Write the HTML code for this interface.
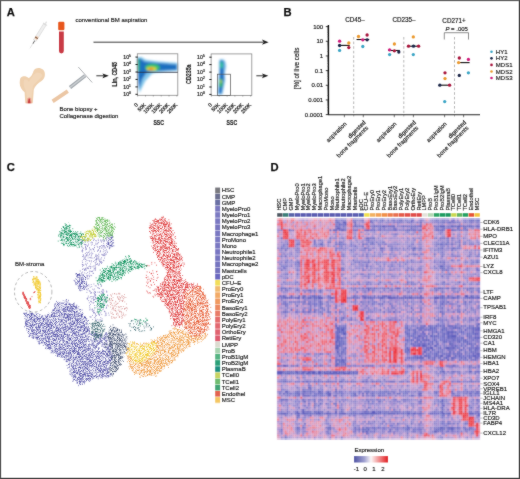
<!DOCTYPE html>
<html><head><meta charset="utf-8"><style>
html,body{margin:0;padding:0;background:#fff;}
body{width:520px;height:479px;overflow:hidden;}
svg{display:block;font-family:"Liberation Sans", sans-serif;}
.pl{font-size:11.2px;font-weight:bold;fill:#111;stroke:#111;stroke-width:0.25px;}
.t6{font-size:6px;fill:#222;stroke:#222;stroke-width:0.17px;}
.t5{font-size:5.2px;fill:#1a1a1a;stroke:#1a1a1a;stroke-width:0.2px;}
.b6{font-size:6.2px;font-weight:bold;fill:#2a2a2a;}
.b7{font-size:7.4px;font-weight:bold;fill:#1a1a1a;stroke:#1a1a1a;stroke-width:0.15px;}
</style></head><body>
<svg width="520" height="479" viewBox="0 0 520 479">
<defs>
<filter id="soft" x="0" y="0" width="520" height="479" filterUnits="userSpaceOnUse"><feConvolveMatrix order="3" kernelMatrix="1 2 1 2 28 2 1 2 1" divisor="40" edgeMode="none" preserveAlpha="false"/></filter>
<filter id="hb" x="-1%" y="-1%" width="102%" height="102%"><feConvolveMatrix order="3" kernelMatrix="1 2 1 2 14 2 1 2 1" divisor="26" edgeMode="duplicate"/></filter>
<filter id="fb1" x="-20%" y="-20%" width="140%" height="140%"><feGaussianBlur stdDeviation="0.9"/></filter>
<filter id="fb2" x="-60%" y="-20%" width="220%" height="140%"><feGaussianBlur stdDeviation="0.8"/></filter>
<filter id="sp" x="-5%" y="-5%" width="110%" height="110%" color-interpolation-filters="sRGB">
<feTurbulence type="fractalNoise" baseFrequency="0.35" numOctaves="2" seed="3" result="t1"/>
<feDisplacementMap in="SourceGraphic" in2="t1" scale="4" xChannelSelector="R" yChannelSelector="G" result="d"/>
<feTurbulence type="fractalNoise" baseFrequency="1.7" numOctaves="1" seed="8" result="t"/>
<feColorMatrix in="t" type="matrix" values="0 0 0 0 0 0 0 0 0 0 0 0 0 0 0 1 0 0 0 0" result="a"/>
<feComponentTransfer in="a" result="m"><feFuncA type="discrete" tableValues="0 0 0 0 0.1 0.3 0.6 0.85 1 1 1 1"/></feComponentTransfer>
<feComposite in="d" in2="m" operator="in" result="c"/>

</filter>
<linearGradient id="cbar" x1="0" x2="1" y1="0" y2="0">
<stop offset="0" stop-color="#5054a4"/><stop offset="0.3" stop-color="#9fa0d0"/><stop offset="0.5" stop-color="#fbf7f7"/><stop offset="0.75" stop-color="#f08a8a"/><stop offset="1" stop-color="#e01c22"/>
</linearGradient>
</defs>
<rect x="0" y="0" width="520" height="479" fill="#fff"/>
<g filter="url(#soft)">
<text x="6.8" y="15.6" class="pl">A</text>
<g transform="translate(40,32.2) rotate(-58)"><rect x="-10" y="-1.5" width="19" height="3" fill="#efefef" stroke="#cfcfcf" stroke-width="0.5"/><rect x="-8.2" y="-1.5" width="3.2" height="3" fill="#f2c8a8"/><rect x="-7.2" y="-1.5" width="1.1" height="3" fill="#6a5040"/><rect x="9" y="-2.4" width="0.9" height="4.8" fill="#d6d6d6"/><rect x="9.9" y="-0.7" width="2.6" height="1.4" fill="#e2e2e2"/><line x1="-10" y1="0" x2="-13.5" y2="0" stroke="#6a6a6a" stroke-width="0.9"/><line x1="-13.5" y1="0" x2="-19" y2="0" stroke="#cfcfcf" stroke-width="0.5"/></g>
<rect x="58.2" y="21.8" width="6.2" height="8.4" rx="1.2" fill="#e8561c"/>
<path d="M59 31.6 H63.8 V51 A2.4 2.4 0 0 1 59 51 Z" fill="#c93a44"/>
<text x="75.4" y="22" class="t6">conventional BM aspiration</text>
<line x1="93.5" y1="42.2" x2="263" y2="42.2" stroke="#222" stroke-width="0.9"/>
<path d="M262 39.6 L268.6 42.2 L262 44.8 L263.5 42.2 Z" fill="#222"/>
<path d="M20.5 78 C22 75.8 26 75.6 28.5 78 C31 77.4 32.6 74 33.5 71 C34.6 67.6 40 66.8 43 69.6 C46.2 72.8 45.2 79 41.5 81 C38 83 35 86 33.8 89.5 L32.8 103.3 L25.3 103.3 L24.6 92.2 C22 90 19.6 87 19.7 83 C19.8 80.5 20 79 20.5 78 Z" fill="#efd0ae"/>
<path d="M24 80 C26 79 28 80 29 82 C30 79 33 75 36 73 C39 72 42 73 42.5 76 C40 79 36 82 33 86 L31 101 L27 101 L26 91 C24 88 23 84 24 80 Z" fill="#f3dcc0" opacity="0.6"/>
<path d="M26.3 103.3 L27.5 98.5 C28.5 97.2 30.2 97.2 31 98.5 L31.9 103.3 Z" fill="#e8a090"/>
<path d="M27.8 103.3 L28.6 99 L29.8 98.6 L30.6 103.3 Z" fill="#c83a3a"/>
<line x1="78.3" y1="67" x2="92.2" y2="82.5" stroke="#9a9ea2" stroke-width="0.8"/>
<line x1="70" y1="87.5" x2="85.2" y2="75.6" stroke="#a2a8ae" stroke-width="3.6"/>
<line x1="70" y1="87.5" x2="85.2" y2="75.6" stroke="#c9cdd0" stroke-width="1.4"/>
<line x1="52.6" y1="101.4" x2="67.8" y2="91.2" stroke="#ebc6a4" stroke-width="3.8"/>
<text x="59.4" y="111" class="t6">Bone biopsy +</text>
<text x="59.4" y="118.4" class="t6">Collagenase digestion</text>
<line x1="96.3" y1="75.8" x2="104" y2="75.8" stroke="#222" stroke-width="0.9"/>
<path d="M102.5 73.4 L108.8 75.8 L102.5 78.2 L103.8 75.8 Z" fill="#222"/>
<line x1="256.3" y1="75.8" x2="263" y2="75.8" stroke="#222" stroke-width="0.9"/>
<path d="M262 73.4 L268.3 75.8 L262 78.2 L263.3 75.8 Z" fill="#222"/>
<g filter="url(#fb1)">
<path d="M137.3 57.8 L141.3 57 L145.3 59.5 C150 61 165 62 177.8 63 L177.8 71 C165 71.5 150 73 151.3 74.5 L145.3 81 L139.3 93 Z" fill="#86c8ec"/>
<path d="M137.3 58 L141.3 59 L144.3 61.5 C152 62.5 165 63.5 176.8 64.5 L176.8 69.8 C165 70 152 71.5 146.3 73 L142.3 79 L138.8 90 Z" fill="#1c70c0"/>
<ellipse cx="152.5" cy="67.5" rx="7.5" ry="3.8" fill="#38c070"/>
<rect x="137.5" y="59" width="2.2" height="12" fill="#36b080"/>
<ellipse cx="151.5" cy="68.8" rx="5" ry="1.9" fill="#e8e030"/>
<ellipse cx="151" cy="69" rx="2.6" ry="0.9" fill="#f06a20"/>
</g>
<rect x="137.3" y="53.8" width="40.5" height="41.5" fill="none" stroke="#8a8a8a" stroke-width="0.8"/>
<line x1="137.3" y1="72.3" x2="177.8" y2="72.3" stroke="#2a2a3a" stroke-width="0.8"/>
<line x1="135.5" y1="57.1" x2="137.7" y2="57.1" stroke="#111" stroke-width="1"/>
<text x="123.3" y="58.9" class="t5">10<tspan dy="-2" font-size="3.2">5</tspan></text>
<line x1="135.5" y1="64.5" x2="137.7" y2="64.5" stroke="#111" stroke-width="1"/>
<text x="123.3" y="66.3" class="t5">10<tspan dy="-2" font-size="3.2">4</tspan></text>
<line x1="135.5" y1="72.0" x2="137.7" y2="72.0" stroke="#111" stroke-width="1"/>
<text x="123.3" y="73.8" class="t5">10<tspan dy="-2" font-size="3.2">3</tspan></text>
<line x1="135.5" y1="79.4" x2="137.7" y2="79.4" stroke="#111" stroke-width="1"/>
<text x="123.3" y="81.2" class="t5">10<tspan dy="-2" font-size="3.2">2</tspan></text>
<line x1="135.5" y1="86.9" x2="137.7" y2="86.9" stroke="#111" stroke-width="1"/>
<text x="123.3" y="88.7" class="t5">10<tspan dy="-2" font-size="3.2">1</tspan></text>
<line x1="135.5" y1="94.3" x2="137.7" y2="94.3" stroke="#111" stroke-width="1"/>
<text x="123.3" y="96.1" class="t5">10<tspan dy="-2" font-size="3.2">0</tspan></text>
<line x1="137.6" y1="95.3" x2="137.6" y2="96.5" stroke="#555" stroke-width="0.5"/>
<text transform="translate(138.4,105.2) rotate(-45)" text-anchor="end" class="t5">0</text>
<line x1="145.5" y1="95.3" x2="145.5" y2="96.5" stroke="#555" stroke-width="0.5"/>
<text transform="translate(146.3,105.2) rotate(-45)" text-anchor="end" class="t5">50K</text>
<line x1="153.3" y1="95.3" x2="153.3" y2="96.5" stroke="#555" stroke-width="0.5"/>
<text transform="translate(154.1,105.2) rotate(-45)" text-anchor="end" class="t5">100K</text>
<line x1="161.2" y1="95.3" x2="161.2" y2="96.5" stroke="#555" stroke-width="0.5"/>
<text transform="translate(162.0,105.2) rotate(-45)" text-anchor="end" class="t5">150K</text>
<line x1="169.0" y1="95.3" x2="169.0" y2="96.5" stroke="#555" stroke-width="0.5"/>
<text transform="translate(169.8,105.2) rotate(-45)" text-anchor="end" class="t5">200K</text>
<line x1="176.9" y1="95.3" x2="176.9" y2="96.5" stroke="#555" stroke-width="0.5"/>
<text transform="translate(177.7,105.2) rotate(-45)" text-anchor="end" class="t5">250K</text>
<text transform="translate(117.3,74.2) rotate(-90) scale(0.72,1)" text-anchor="middle" class="b7">Lin, CD45</text>
<text transform="translate(158.7,125.3) scale(0.7,1)" text-anchor="middle" class="b7">SSC</text>
<g filter="url(#fb2)">
<path d="M219.2 60.5 C220.5 58.5 224 58.8 225.2 61.5 L226.2 66 L224.8 73 L225.2 80 L222.4 94.5 L217.6 94.5 L218.6 80 L219.2 72 Z" fill="#7cbde8"/>
<path d="M219.8 61.4 C220.8 60 223.2 60.2 223.8 62.4 L223.6 72 L224 79 L221.3 93.5 L218.8 93.5 L219.4 80 L219.9 72 Z" fill="#1e6ec4"/>
<ellipse cx="221.6" cy="65" rx="1.6" ry="3.6" fill="#30c0a0"/>
<ellipse cx="220.9" cy="83" rx="1.5" ry="4.6" fill="#3cbc58"/>
<ellipse cx="221.1" cy="81.4" rx="0.8" ry="1.3" fill="#d8e040"/>
</g>
<rect x="211.1" y="53.9" width="40.7" height="41.5" fill="none" stroke="#8a8a8a" stroke-width="0.8"/>
<rect x="217.4" y="74.2" width="13" height="21.2" fill="none" stroke="#555" stroke-width="0.7"/>
<line x1="209.3" y1="57.2" x2="211.5" y2="57.2" stroke="#111" stroke-width="1"/>
<text x="197.1" y="59.0" class="t5">10<tspan dy="-2" font-size="3.2">5</tspan></text>
<line x1="209.3" y1="64.6" x2="211.5" y2="64.6" stroke="#111" stroke-width="1"/>
<text x="197.1" y="66.4" class="t5">10<tspan dy="-2" font-size="3.2">4</tspan></text>
<line x1="209.3" y1="72.1" x2="211.5" y2="72.1" stroke="#111" stroke-width="1"/>
<text x="197.1" y="73.9" class="t5">10<tspan dy="-2" font-size="3.2">3</tspan></text>
<line x1="209.3" y1="79.5" x2="211.5" y2="79.5" stroke="#111" stroke-width="1"/>
<text x="197.1" y="81.3" class="t5">10<tspan dy="-2" font-size="3.2">2</tspan></text>
<line x1="209.3" y1="87.0" x2="211.5" y2="87.0" stroke="#111" stroke-width="1"/>
<text x="197.1" y="88.8" class="t5">10<tspan dy="-2" font-size="3.2">1</tspan></text>
<line x1="209.3" y1="94.4" x2="211.5" y2="94.4" stroke="#111" stroke-width="1"/>
<text x="197.1" y="96.2" class="t5">10<tspan dy="-2" font-size="3.2">0</tspan></text>
<line x1="211.4" y1="95.4" x2="211.4" y2="96.6" stroke="#555" stroke-width="0.5"/>
<text transform="translate(212.2,105.3) rotate(-45)" text-anchor="end" class="t5">0</text>
<line x1="219.2" y1="95.4" x2="219.2" y2="96.6" stroke="#555" stroke-width="0.5"/>
<text transform="translate(220.1,105.3) rotate(-45)" text-anchor="end" class="t5">50K</text>
<line x1="227.1" y1="95.4" x2="227.1" y2="96.6" stroke="#555" stroke-width="0.5"/>
<text transform="translate(227.9,105.3) rotate(-45)" text-anchor="end" class="t5">100K</text>
<line x1="234.9" y1="95.4" x2="234.9" y2="96.6" stroke="#555" stroke-width="0.5"/>
<text transform="translate(235.8,105.3) rotate(-45)" text-anchor="end" class="t5">150K</text>
<line x1="242.8" y1="95.4" x2="242.8" y2="96.6" stroke="#555" stroke-width="0.5"/>
<text transform="translate(243.6,105.3) rotate(-45)" text-anchor="end" class="t5">200K</text>
<line x1="250.7" y1="95.4" x2="250.7" y2="96.6" stroke="#555" stroke-width="0.5"/>
<text transform="translate(251.5,105.3) rotate(-45)" text-anchor="end" class="t5">250K</text>
<text transform="translate(190.5,74.2) rotate(-90) scale(0.72,1)" text-anchor="middle" class="b7">CD235a</text>
<text transform="translate(231.8,125.3) scale(0.7,1)" text-anchor="middle" class="b7">SSC</text>
<text x="283.6" y="16.2" class="pl">B</text>
<line x1="328.4" y1="25" x2="328.4" y2="114.8" stroke="#111" stroke-width="1.4"/>
<line x1="327.9" y1="114.8" x2="480" y2="114.8" stroke="#222" stroke-width="1.1"/>
<line x1="325.8" y1="26.60" x2="328.4" y2="26.60" stroke="#111" stroke-width="0.8"/>
<text x="323.2" y="28.70" text-anchor="end" class="t6">100</text>
<line x1="327.1" y1="36.85" x2="328.4" y2="36.85" stroke="#333" stroke-width="0.4"/>
<line x1="327.1" y1="34.27" x2="328.4" y2="34.27" stroke="#333" stroke-width="0.4"/>
<line x1="327.1" y1="32.44" x2="328.4" y2="32.44" stroke="#333" stroke-width="0.4"/>
<line x1="327.1" y1="31.02" x2="328.4" y2="31.02" stroke="#333" stroke-width="0.4"/>
<line x1="327.1" y1="29.85" x2="328.4" y2="29.85" stroke="#333" stroke-width="0.4"/>
<line x1="327.1" y1="28.87" x2="328.4" y2="28.87" stroke="#333" stroke-width="0.4"/>
<line x1="327.1" y1="28.02" x2="328.4" y2="28.02" stroke="#333" stroke-width="0.4"/>
<line x1="327.1" y1="27.27" x2="328.4" y2="27.27" stroke="#333" stroke-width="0.4"/>
<line x1="325.8" y1="41.27" x2="328.4" y2="41.27" stroke="#111" stroke-width="0.8"/>
<text x="323.2" y="43.37" text-anchor="end" class="t6">10</text>
<line x1="327.1" y1="51.52" x2="328.4" y2="51.52" stroke="#333" stroke-width="0.4"/>
<line x1="327.1" y1="48.94" x2="328.4" y2="48.94" stroke="#333" stroke-width="0.4"/>
<line x1="327.1" y1="47.11" x2="328.4" y2="47.11" stroke="#333" stroke-width="0.4"/>
<line x1="327.1" y1="45.69" x2="328.4" y2="45.69" stroke="#333" stroke-width="0.4"/>
<line x1="327.1" y1="44.52" x2="328.4" y2="44.52" stroke="#333" stroke-width="0.4"/>
<line x1="327.1" y1="43.54" x2="328.4" y2="43.54" stroke="#333" stroke-width="0.4"/>
<line x1="327.1" y1="42.69" x2="328.4" y2="42.69" stroke="#333" stroke-width="0.4"/>
<line x1="327.1" y1="41.94" x2="328.4" y2="41.94" stroke="#333" stroke-width="0.4"/>
<line x1="325.8" y1="55.94" x2="328.4" y2="55.94" stroke="#111" stroke-width="0.8"/>
<text x="323.2" y="58.04" text-anchor="end" class="t6">1</text>
<line x1="327.1" y1="66.19" x2="328.4" y2="66.19" stroke="#333" stroke-width="0.4"/>
<line x1="327.1" y1="63.61" x2="328.4" y2="63.61" stroke="#333" stroke-width="0.4"/>
<line x1="327.1" y1="61.78" x2="328.4" y2="61.78" stroke="#333" stroke-width="0.4"/>
<line x1="327.1" y1="60.36" x2="328.4" y2="60.36" stroke="#333" stroke-width="0.4"/>
<line x1="327.1" y1="59.19" x2="328.4" y2="59.19" stroke="#333" stroke-width="0.4"/>
<line x1="327.1" y1="58.21" x2="328.4" y2="58.21" stroke="#333" stroke-width="0.4"/>
<line x1="327.1" y1="57.36" x2="328.4" y2="57.36" stroke="#333" stroke-width="0.4"/>
<line x1="327.1" y1="56.61" x2="328.4" y2="56.61" stroke="#333" stroke-width="0.4"/>
<line x1="325.8" y1="70.61" x2="328.4" y2="70.61" stroke="#111" stroke-width="0.8"/>
<text x="323.2" y="72.71" text-anchor="end" class="t6">0.1</text>
<line x1="327.1" y1="80.86" x2="328.4" y2="80.86" stroke="#333" stroke-width="0.4"/>
<line x1="327.1" y1="78.28" x2="328.4" y2="78.28" stroke="#333" stroke-width="0.4"/>
<line x1="327.1" y1="76.45" x2="328.4" y2="76.45" stroke="#333" stroke-width="0.4"/>
<line x1="327.1" y1="75.03" x2="328.4" y2="75.03" stroke="#333" stroke-width="0.4"/>
<line x1="327.1" y1="73.86" x2="328.4" y2="73.86" stroke="#333" stroke-width="0.4"/>
<line x1="327.1" y1="72.88" x2="328.4" y2="72.88" stroke="#333" stroke-width="0.4"/>
<line x1="327.1" y1="72.03" x2="328.4" y2="72.03" stroke="#333" stroke-width="0.4"/>
<line x1="327.1" y1="71.28" x2="328.4" y2="71.28" stroke="#333" stroke-width="0.4"/>
<line x1="325.8" y1="85.28" x2="328.4" y2="85.28" stroke="#111" stroke-width="0.8"/>
<text x="323.2" y="87.38" text-anchor="end" class="t6">0.01</text>
<line x1="327.1" y1="95.53" x2="328.4" y2="95.53" stroke="#333" stroke-width="0.4"/>
<line x1="327.1" y1="92.95" x2="328.4" y2="92.95" stroke="#333" stroke-width="0.4"/>
<line x1="327.1" y1="91.12" x2="328.4" y2="91.12" stroke="#333" stroke-width="0.4"/>
<line x1="327.1" y1="89.70" x2="328.4" y2="89.70" stroke="#333" stroke-width="0.4"/>
<line x1="327.1" y1="88.53" x2="328.4" y2="88.53" stroke="#333" stroke-width="0.4"/>
<line x1="327.1" y1="87.55" x2="328.4" y2="87.55" stroke="#333" stroke-width="0.4"/>
<line x1="327.1" y1="86.70" x2="328.4" y2="86.70" stroke="#333" stroke-width="0.4"/>
<line x1="327.1" y1="85.95" x2="328.4" y2="85.95" stroke="#333" stroke-width="0.4"/>
<line x1="325.8" y1="99.95" x2="328.4" y2="99.95" stroke="#111" stroke-width="0.8"/>
<text x="323.2" y="102.05" text-anchor="end" class="t6">0.001</text>
<line x1="327.1" y1="110.20" x2="328.4" y2="110.20" stroke="#333" stroke-width="0.4"/>
<line x1="327.1" y1="107.62" x2="328.4" y2="107.62" stroke="#333" stroke-width="0.4"/>
<line x1="327.1" y1="105.79" x2="328.4" y2="105.79" stroke="#333" stroke-width="0.4"/>
<line x1="327.1" y1="104.37" x2="328.4" y2="104.37" stroke="#333" stroke-width="0.4"/>
<line x1="327.1" y1="103.20" x2="328.4" y2="103.20" stroke="#333" stroke-width="0.4"/>
<line x1="327.1" y1="102.22" x2="328.4" y2="102.22" stroke="#333" stroke-width="0.4"/>
<line x1="327.1" y1="101.37" x2="328.4" y2="101.37" stroke="#333" stroke-width="0.4"/>
<line x1="327.1" y1="100.62" x2="328.4" y2="100.62" stroke="#333" stroke-width="0.4"/>
<line x1="325.8" y1="114.62" x2="328.4" y2="114.62" stroke="#111" stroke-width="0.8"/>
<text x="323.2" y="116.72" text-anchor="end" class="t6">0.0001</text>
<text transform="translate(298.6,68.4) rotate(-90)" text-anchor="middle" class="t6" style="font-size:6.3px">[%] of live cells</text>
<text x="355" y="21.9" text-anchor="middle" class="t6" style="font-size:6.3px">CD45–</text>
<text x="404" y="21.9" text-anchor="middle" class="t6" style="font-size:6.3px">CD235–</text>
<text x="454" y="22.5" text-anchor="middle" class="t6" style="font-size:6.3px">CD271+</text>
<text x="456.7" y="31" text-anchor="middle" class="t6"><tspan font-style="italic">P</tspan> = .005</text>
<path d="M444.3 39.5 V32.7 H468.5 V39.5" fill="none" stroke="#444" stroke-width="0.6"/>
<line x1="353.7" y1="37" x2="353.7" y2="114" stroke="#9a9a9a" stroke-width="0.7" stroke-dasharray="2.6,2"/>
<line x1="403.8" y1="37" x2="403.8" y2="114" stroke="#9a9a9a" stroke-width="0.7" stroke-dasharray="2.6,2"/>
<line x1="454.5" y1="37" x2="454.5" y2="114" stroke="#9a9a9a" stroke-width="0.7" stroke-dasharray="2.6,2"/>
<line x1="344.4" y1="114.8" x2="344.4" y2="117.2" stroke="#222" stroke-width="0.6"/>
<line x1="363.3" y1="114.8" x2="363.3" y2="117.2" stroke="#222" stroke-width="0.6"/>
<line x1="394.3" y1="114.8" x2="394.3" y2="117.2" stroke="#222" stroke-width="0.6"/>
<line x1="413.4" y1="114.8" x2="413.4" y2="117.2" stroke="#222" stroke-width="0.6"/>
<line x1="444.6" y1="114.8" x2="444.6" y2="117.2" stroke="#222" stroke-width="0.6"/>
<line x1="463.6" y1="114.8" x2="463.6" y2="117.2" stroke="#222" stroke-width="0.6"/>
<line x1="353.7" y1="114.8" x2="353.7" y2="116.5" stroke="#555" stroke-width="0.5"/>
<line x1="403.8" y1="114.8" x2="403.8" y2="116.5" stroke="#555" stroke-width="0.5"/>
<line x1="454.5" y1="114.8" x2="454.5" y2="116.5" stroke="#555" stroke-width="0.5"/>
<text transform="translate(347.0,124.3) rotate(-45)" text-anchor="end" class="t6">aspiration</text>
<text transform="translate(396.9,124.3) rotate(-45)" text-anchor="end" class="t6">aspiration</text>
<text transform="translate(447.2,124.3) rotate(-45)" text-anchor="end" class="t6">aspiration</text>
<text transform="translate(366.2,122.8) rotate(-45)" text-anchor="end" class="t6">digested</text>
<text transform="translate(368.6,128.4) rotate(-45)" text-anchor="end" class="t6">bone fragments</text>
<text transform="translate(416.3,122.8) rotate(-45)" text-anchor="end" class="t6">digested</text>
<text transform="translate(418.7,128.4) rotate(-45)" text-anchor="end" class="t6">bone fragments</text>
<text transform="translate(466.5,122.8) rotate(-45)" text-anchor="end" class="t6">digested</text>
<text transform="translate(468.9,128.4) rotate(-45)" text-anchor="end" class="t6">bone fragments</text>
<line x1="338.0" y1="45.4" x2="349.8" y2="45.4" stroke="#111" stroke-width="1.1"/>
<line x1="356.5" y1="39.5" x2="369.2" y2="39.5" stroke="#111" stroke-width="1.1"/>
<line x1="388.3" y1="50.5" x2="399.8" y2="50.5" stroke="#111" stroke-width="1.1"/>
<line x1="407.5" y1="46.2" x2="419.8" y2="46.2" stroke="#111" stroke-width="1.1"/>
<line x1="439.7" y1="85.2" x2="449.8" y2="85.2" stroke="#111" stroke-width="1.1"/>
<line x1="457.6" y1="62.6" x2="469.6" y2="62.6" stroke="#111" stroke-width="1.1"/>
<circle cx="339.6" cy="41.2" r="1.65" fill="#d01c7c"/>
<circle cx="339.6" cy="45.5" r="1.65" fill="#1a2848"/>
<circle cx="339.6" cy="50.4" r="1.65" fill="#3ea6c6"/>
<circle cx="348.8" cy="43.0" r="1.65" fill="#eb9a30"/>
<circle cx="348.8" cy="47.6" r="1.65" fill="#a8143c"/>
<circle cx="358.5" cy="36.5" r="1.65" fill="#eb9a30"/>
<circle cx="362.8" cy="46.5" r="1.65" fill="#3ea6c6"/>
<circle cx="362.8" cy="39.8" r="1.65" fill="#d01c7c"/>
<circle cx="367.1" cy="35.0" r="1.65" fill="#a8143c"/>
<circle cx="367.1" cy="39.8" r="1.65" fill="#1a2848"/>
<circle cx="389.6" cy="49.8" r="1.65" fill="#d01c7c"/>
<circle cx="389.6" cy="54.6" r="1.65" fill="#3ea6c6"/>
<circle cx="394.4" cy="44.0" r="1.65" fill="#eb9a30"/>
<circle cx="394.4" cy="50.8" r="1.65" fill="#a8143c"/>
<circle cx="398.8" cy="52.0" r="1.65" fill="#1a2848"/>
<circle cx="413.3" cy="36.9" r="1.65" fill="#eb9a30"/>
<circle cx="408.5" cy="46.2" r="1.65" fill="#a8143c"/>
<circle cx="413.5" cy="46.2" r="1.65" fill="#1a2848"/>
<circle cx="418.6" cy="46.2" r="1.65" fill="#a8143c"/>
<circle cx="413.3" cy="54.6" r="1.65" fill="#3ea6c6"/>
<circle cx="445.0" cy="72.8" r="1.65" fill="#a8143c"/>
<circle cx="445.0" cy="78.6" r="1.65" fill="#eb9a30"/>
<circle cx="439.8" cy="85.2" r="1.65" fill="#1a2848"/>
<circle cx="449.6" cy="85.2" r="1.65" fill="#a8143c"/>
<circle cx="444.7" cy="101.6" r="1.65" fill="#3ea6c6"/>
<circle cx="459.3" cy="58.0" r="1.65" fill="#a8143c"/>
<circle cx="468.4" cy="59.4" r="1.65" fill="#d01c7c"/>
<circle cx="458.6" cy="62.6" r="1.65" fill="#eb9a30"/>
<circle cx="459.3" cy="75.4" r="1.65" fill="#1a2848"/>
<circle cx="468.4" cy="72.8" r="1.65" fill="#3ea6c6"/>
<circle cx="491.5" cy="51.80" r="1.3" fill="#3ea6c6"/>
<text x="495.8" y="53.90" class="t6">HY1</text>
<circle cx="491.5" cy="58.35" r="1.3" fill="#1a2848"/>
<text x="495.8" y="60.45" class="t6">HY2</text>
<circle cx="491.5" cy="64.90" r="1.3" fill="#a8143c"/>
<text x="495.8" y="67.00" class="t6">MDS1</text>
<circle cx="491.5" cy="71.45" r="1.3" fill="#eb9a30"/>
<text x="495.8" y="73.55" class="t6">MDS2</text>
<circle cx="491.5" cy="78.00" r="1.3" fill="#d01c7c"/>
<text x="495.8" y="80.10" class="t6">MDS3</text>
<path d="M93.6 261.5h0M95.2 262.7h0M85.5 259.5h0M82.8 250.7h0M82.7 272.0h0M100.8 239.8h0M99.6 263.9h0M95.9 240.5h0M85.7 248.2h0M93.2 273.4h0M95.6 264.9h0M95.0 265.8h0M93.7 249.7h0M89.5 247.6h0M88.7 240.9h0M103.0 254.8h0M105.4 254.2h0M82.2 264.4h0M103.4 249.3h0M82.6 252.0h0M83.5 248.3h0M83.0 240.5h0M103.9 245.5h0M96.8 256.8h0M85.7 268.7h0M83.9 265.0h0M83.5 255.7h0M86.4 249.3h0M89.1 275.2h0M86.3 254.6h0M86.4 248.8h0M103.2 251.8h0M88.9 241.1h0M82.7 262.5h0M87.3 263.3h0M91.2 257.0h0M85.5 244.5h0M87.5 246.0h0M92.6 242.4h0M87.2 267.6h0M87.7 272.6h0M97.9 250.3h0M85.3 268.3h0M82.1 247.6h0M98.4 249.8h0M107.5 246.6h0M93.4 240.5h0M85.3 253.5h0M97.2 243.5h0M90.9 275.4h0M100.7 262.5h0M94.5 268.7h0M82.3 260.9h0M90.6 266.8h0M92.5 271.2h0M98.7 254.1h0M97.5 263.6h0M82.4 264.9h0M101.8 254.3h0M102.1 262.4h0M93.2 273.2h0M82.5 269.5h0M94.4 247.7h0M101.0 258.9h0M89.0 266.5h0M86.1 245.1h0M89.8 266.0h0M86.0 256.1h0M106.4 254.1h0M97.5 251.3h0M84.1 258.9h0M88.3 245.1h0M93.5 249.6h0M86.4 255.4h0M98.8 258.7h0M89.5 273.2h0M106.2 239.7h0M101.3 262.0h0M89.3 271.2h0M80.6 243.7h0M93.6 239.0h0M104.9 248.0h0M84.2 240.0h0M98.9 256.8h0M98.9 265.5h0M100.5 246.4h0M94.3 245.5h0M101.4 245.5h0M88.2 252.5h0M100.9 259.9h0M91.8 271.3h0M107.2 241.7h0M83.9 257.0h0M91.3 261.9h0M99.5 246.6h0M86.4 275.8h0M89.6 276.2h0M105.7 252.6h0M82.5 256.5h0M94.6 239.2h0M104.3 240.7h0M104.0 245.3h0M90.1 271.1h0M84.2 244.2h0M95.5 268.4h0M86.6 260.1h0M88.7 268.6h0M99.2 260.0h0M89.4 254.0h0M86.2 273.7h0M97.2 246.4h0M96.1 259.1h0M98.2 239.2h0M92.0 271.6h0M96.9 258.6h0M100.7 240.8h0M96.2 255.4h0M88.1 257.9h0M83.8 256.2h0M94.3 251.3h0M85.7 264.0h0M107.8 243.4h0M103.4 239.0h0M85.8 247.5h0M100.6 251.5h0M90.7 264.0h0M83.1 268.7h0M83.7 259.4h0M87.5 246.3h0M95.9 256.3h0M91.3 255.4h0M95.9 244.7h0M86.1 264.5h0M99.2 260.2h0M105.7 247.8h0M107.1 251.3h0M89.4 276.8h0M106.6 243.6h0M87.2 268.5h0M87.8 242.1h0M105.0 255.7h0M103.7 243.3h0M92.1 266.8h0M95.2 269.8h0M95.1 266.8h0M85.7 241.0h0M96.6 259.6h0M97.1 244.2h0M85.5 246.6h0M93.9 270.1h0M89.8 257.6h0M95.5 256.1h0M85.4 257.1h0M102.2 255.0h0M85.9 244.9h0M98.9 255.0h0M98.0 259.2h0M87.7 276.3h0M104.4 255.0h0M103.0 255.0h0M101.7 241.0h0M90.3 257.7h0M99.2 264.2h0M87.0 277.7h0M100.0 252.2h0M99.8 261.9h0M96.0 254.4h0M87.7 254.9h0M81.5 246.2h0M91.3 242.1h0M87.5 276.0h0M96.5 259.3h0M104.3 241.2h0M84.8 257.8h0M85.1 258.8h0M98.3 240.5h0M95.8 263.1h0M91.0 250.0h0M99.7 261.5h0M88.5 268.1h0M87.4 239.8h0M84.7 269.7h0M91.7 275.7h0M102.5 240.1h0M92.9 258.1h0M109.2 248.2h0M101.7 257.7h0M98.1 242.8h0M98.7 257.1h0M86.1 240.2h0M95.8 243.2h0M93.3 266.1h0M93.7 249.0h0M97.5 255.6h0M103.3 260.3h0M102.0 248.0h0M83.4 275.5h0M90.8 249.4h0M100.6 261.7h0M97.8 264.6h0M102.6 246.0h0M81.2 240.6h0M88.1 255.9h0M98.7 242.3h0M96.2 241.0h0M82.6 266.4h0M96.5 264.5h0M91.2 258.1h0M86.3 252.4h0M82.2 243.0h0M103.1 247.0h0M92.7 248.8h0M104.3 253.5h0M89.8 261.0h0M92.8 253.5h0M82.9 274.8h0M82.4 241.5h0M96.9 258.4h0M100.6 250.6h0M103.3 241.2h0M86.4 265.8h0M82.5 250.8h0M88.5 244.0h0M90.7 268.5h0M91.0 242.9h0M101.3 261.9h0M104.1 250.8h0M89.5 254.8h0M87.4 253.2h0M91.0 253.3h0M91.9 254.3h0M85.8 261.7h0M103.9 260.7h0M85.3 269.9h0M106.4 249.8h0M96.3 261.8h0M104.1 240.7h0M82.5 241.4h0M82.5 264.6h0M84.3 269.3h0M99.5 248.3h0M86.6 270.1h0M95.6 270.1h0M91.8 252.2h0M94.8 260.6h0M95.7 267.8h0M104.1 255.7h0M92.6 244.1h0M91.3 245.0h0M86.1 255.8h0M88.8 278.7h0M81.8 251.0h0M83.4 265.2h0M103.3 245.5h0M81.1 242.6h0M85.5 247.1h0M87.1 268.1h0M97.8 247.4h0M85.5 249.8h0M85.2 269.8h0M89.4 261.0h0M104.5 258.1h0M87.8 275.3h0M107.4 252.4h0M94.5 247.3h0M104.0 254.2h0M95.8 259.7h0M99.7 248.0h0M91.1 271.5h0M101.4 263.5h0M84.7 244.6h0M89.7 248.9h0M88.0 260.5h0M84.5 270.4h0M82.5 249.3h0M101.5 242.1h0M94.4 257.7h0M105.7 250.8h0M103.7 255.5h0M104.8 246.8h0M96.3 260.1h0M84.7 272.9h0M89.3 251.1h0M82.3 250.8h0M94.0 268.0h0M90.8 266.9h0M83.2 254.6h0M101.3 248.0h0M96.9 257.2h0M104.0 246.7h0M98.5 250.2h0M91.3 260.7h0M88.9 252.2h0" stroke="#8a84c4" stroke-width="0.9" stroke-linecap="round"/>
<path d="M115.8 310.7h0M113.1 297.6h0M122.6 301.2h0M126.9 307.8h0M122.5 301.3h0M124.5 294.6h0M110.8 294.6h0M121.6 311.8h0M111.6 303.3h0M124.7 308.6h0M109.8 298.3h0M111.1 295.5h0M116.1 294.0h0M126.4 304.0h0M118.2 310.1h0M123.3 315.0h0M115.7 301.3h0M116.0 311.6h0M121.2 309.0h0M114.8 310.2h0M110.1 302.6h0M118.2 314.1h0M124.5 309.1h0M111.2 313.5h0M126.1 307.4h0M115.1 306.0h0M110.8 312.0h0M122.3 315.4h0M111.9 318.5h0M120.5 297.5h0M109.7 298.8h0M119.5 311.5h0M114.6 318.0h0M115.2 305.0h0M118.9 307.7h0M119.2 299.4h0M124.4 308.8h0M113.8 317.1h0M112.8 308.1h0M124.6 297.2h0M119.0 294.1h0M121.2 300.6h0M121.4 312.7h0M115.6 308.6h0M112.0 305.1h0M110.9 302.8h0M119.4 296.9h0M118.4 299.4h0M119.4 301.3h0M121.4 296.1h0M127.2 308.8h0M117.4 303.5h0M120.5 311.3h0M123.2 313.0h0M124.8 315.9h0M116.2 304.2h0M119.3 317.3h0M118.5 306.7h0M116.6 317.3h0M114.4 293.5h0M122.5 317.2h0M122.6 308.7h0M123.0 300.5h0M119.9 294.0h0M110.5 304.5h0M118.1 303.1h0M118.5 298.7h0M114.1 303.1h0M112.7 293.9h0M121.3 316.3h0M116.4 314.5h0M112.4 312.9h0M119.3 317.3h0M110.5 307.1h0M112.9 300.4h0M114.5 293.8h0M125.9 314.8h0M115.9 302.0h0M119.7 293.3h0M114.2 306.0h0M117.5 297.8h0M113.9 317.8h0M125.9 297.5h0M124.8 301.9h0M117.4 296.8h0M112.0 309.7h0M111.8 316.6h0M122.5 300.8h0M122.3 295.8h0M121.9 318.3h0M116.9 294.2h0M112.5 300.6h0M122.2 297.5h0M111.6 298.6h0M121.3 314.1h0M115.5 310.5h0M125.7 308.5h0M112.6 300.4h0M126.5 310.7h0M113.5 309.9h0M116.8 306.8h0M118.6 293.3h0M120.0 300.0h0M113.0 314.5h0M109.7 300.0h0M123.1 298.9h0M113.6 307.3h0M111.7 317.1h0M117.2 313.0h0M115.7 318.0h0M118.0 297.0h0M119.1 310.1h0M115.2 310.4h0M123.7 306.5h0M118.1 315.7h0M121.7 306.6h0M123.6 296.6h0M120.2 298.6h0M116.8 313.6h0M123.7 314.2h0M112.7 305.7h0M112.4 308.2h0M119.9 312.0h0M119.5 316.4h0M111.6 296.3h0M108.4 305.9h0M116.7 304.4h0M113.3 314.4h0M119.4 307.2h0M123.8 298.7h0M110.9 300.7h0M108.8 300.8h0M120.4 306.7h0M113.3 308.5h0M111.4 299.1h0" stroke="#d89a9a" stroke-width="0.9" stroke-linecap="round"/>
<path d="M89.8 309.9h0M105.9 313.7h0M87.5 299.0h0M94.7 291.4h0M97.7 312.7h0M96.9 312.1h0M86.9 292.4h0M95.4 294.6h0M96.2 286.0h0M104.3 311.6h0M91.5 292.9h0M99.2 292.4h0M97.1 319.4h0M94.7 296.1h0M87.0 298.7h0M101.6 285.3h0M94.2 310.1h0M106.7 306.0h0M107.3 301.0h0M95.4 315.9h0M95.1 313.5h0M91.2 296.5h0M90.4 304.4h0M89.9 290.9h0M91.1 301.2h0M93.4 300.4h0M106.7 291.0h0M95.2 285.8h0M102.6 297.1h0M90.4 293.2h0M95.4 319.0h0M103.2 293.5h0M94.7 289.0h0M104.4 311.2h0M93.7 298.0h0M93.8 313.1h0M98.5 285.1h0M95.5 292.3h0M87.0 288.9h0M100.3 284.2h0M93.5 299.5h0M99.1 288.3h0M103.0 293.2h0M103.4 309.0h0M89.5 291.0h0M92.7 310.8h0M95.7 298.1h0M106.8 291.8h0M93.0 296.5h0M91.2 284.6h0M99.6 314.5h0M102.1 318.8h0M91.2 309.9h0M102.0 320.3h0M106.8 292.1h0M101.2 286.5h0M96.3 298.3h0M87.4 298.0h0M93.9 302.4h0M92.7 289.2h0M95.7 301.5h0M90.0 308.9h0M91.8 286.6h0M94.2 299.5h0M89.6 305.7h0M102.8 304.6h0M95.4 297.2h0M87.5 298.8h0M100.1 301.3h0M93.8 292.9h0M107.4 305.1h0M92.3 309.1h0M90.5 301.3h0M100.8 320.2h0M94.7 305.5h0M108.6 313.1h0M101.1 307.2h0M95.9 299.2h0M92.6 315.4h0M107.1 297.9h0M89.3 302.8h0M93.4 297.1h0M90.6 291.9h0M102.3 292.1h0M95.5 292.3h0M97.8 308.4h0M99.2 307.4h0M99.5 315.4h0M94.3 317.6h0M93.5 310.9h0M102.7 309.8h0M109.1 315.2h0M89.8 307.2h0M97.8 305.0h0M94.9 294.1h0M104.0 303.8h0M91.7 292.7h0M93.8 289.9h0M98.3 287.9h0M87.5 285.7h0M88.7 300.6h0M104.5 301.7h0M89.9 316.8h0M92.1 302.8h0M105.1 298.3h0M103.2 292.8h0M103.2 295.7h0M94.0 312.6h0M106.2 315.3h0M99.6 299.4h0M103.0 307.3h0M105.9 314.2h0M89.0 297.7h0M102.1 292.0h0M100.1 319.7h0M102.5 299.4h0M101.2 298.5h0M88.8 284.7h0M92.9 311.5h0M93.9 284.0h0M99.0 301.8h0M95.0 295.1h0M105.2 315.7h0M92.8 298.3h0M100.8 312.8h0M102.7 304.3h0M90.2 287.2h0M97.7 287.7h0M99.6 288.6h0M101.0 293.7h0M91.5 301.8h0M94.8 293.1h0M87.2 285.5h0M107.4 295.1h0M87.9 290.1h0M90.9 316.8h0M97.6 299.2h0M105.4 298.4h0M101.8 307.3h0M92.7 319.6h0M96.6 315.5h0M103.4 289.9h0M86.6 289.6h0M88.9 285.9h0M94.6 312.4h0M93.4 303.1h0M98.7 314.6h0M105.0 311.7h0M95.6 314.3h0M105.9 312.9h0M102.9 292.8h0M99.8 291.9h0M95.3 297.4h0M101.8 314.6h0M94.8 307.9h0M94.5 293.9h0M107.7 295.5h0M88.3 296.1h0M103.8 291.2h0M103.8 304.3h0M102.3 289.9h0M88.5 288.6h0M94.4 299.8h0M95.7 295.5h0M98.9 320.1h0M90.9 317.3h0M93.7 312.4h0M96.3 320.5h0M91.3 298.9h0M102.9 289.9h0M92.6 309.4h0M90.4 296.9h0M101.2 297.7h0M101.5 291.3h0M100.8 317.6h0M106.6 307.5h0M98.1 305.1h0M102.6 300.7h0M102.0 299.4h0M95.2 292.0h0M100.4 305.3h0M98.4 284.3h0M101.1 300.4h0M100.2 306.2h0M103.7 295.2h0M95.7 316.8h0M97.8 292.1h0M106.2 308.3h0" stroke="#8a84c4" stroke-width="0.9" stroke-linecap="round"/>
<path d="M149.5 325.7h0M151.5 328.3h0M134.8 329.5h0M140.3 326.0h0M135.5 327.4h0M130.0 326.2h0M149.3 325.4h0M134.5 329.4h0M151.1 329.0h0M142.8 330.8h0M137.9 320.3h0M129.0 323.5h0M151.4 329.8h0M131.2 321.4h0M138.5 330.0h0M144.7 330.7h0M133.6 327.2h0M151.7 328.5h0M133.3 327.7h0M137.2 323.1h0M145.0 322.6h0M144.3 328.0h0M132.9 320.7h0M146.7 325.1h0M131.5 320.5h0M153.4 326.9h0M137.7 321.6h0M147.9 323.7h0M136.4 324.3h0M131.9 327.2h0M139.5 329.7h0M139.0 324.9h0M141.7 331.2h0M137.4 328.1h0M134.3 326.5h0M135.7 330.3h0M135.7 330.1h0M146.3 324.9h0M148.1 326.8h0M140.1 319.8h0M139.3 322.7h0M139.9 331.4h0M135.9 328.0h0M146.1 322.2h0M139.1 320.7h0M139.4 323.4h0M150.2 330.1h0M143.9 326.1h0M130.7 330.7h0M130.4 323.7h0M138.1 328.4h0M146.1 323.5h0M140.7 323.7h0M140.6 323.1h0M146.1 326.9h0M150.4 327.4h0M129.8 325.0h0M138.8 327.5h0M133.7 323.8h0" stroke="#3a6870" stroke-width="0.9" stroke-linecap="round"/>
<path d="M148.0 277.0h0M156.4 265.2h0M148.3 286.7h0M154.7 290.2h0M149.5 292.8h0M156.2 291.5h0M147.7 279.8h0M146.3 275.3h0M153.5 282.3h0M147.6 292.0h0M150.2 281.3h0M147.7 283.6h0M147.8 265.4h0M153.2 273.2h0M156.9 271.4h0M151.8 264.1h0M149.0 279.2h0M153.8 279.5h0M151.7 285.3h0M151.8 262.4h0M148.2 293.1h0M156.3 289.1h0M148.2 282.2h0M146.4 266.2h0M155.0 294.2h0M146.6 277.8h0M147.1 271.9h0M150.6 280.6h0M155.2 295.7h0M153.0 296.3h0M151.5 273.4h0M156.4 271.8h0M151.2 278.3h0M152.7 275.6h0M152.0 279.1h0M146.9 282.1h0M153.7 277.2h0M149.1 265.8h0M151.2 273.9h0M152.8 270.8h0M156.5 280.5h0M146.1 277.5h0M151.1 284.7h0M151.2 273.4h0M154.5 284.4h0M150.4 280.9h0M153.2 290.6h0M146.7 265.5h0M149.5 272.3h0M157.1 278.2h0M158.0 277.3h0M150.0 287.8h0M157.6 274.5h0M150.4 293.1h0M157.0 286.4h0M146.8 291.0h0M146.7 285.7h0M153.7 297.2h0M154.9 262.8h0M159.1 290.6h0" stroke="#e04446" stroke-width="0.9" stroke-linecap="round"/>
<path d="M146.7 320.2h0M147.6 320.4h0M147.0 319.8h0M141.0 320.4h0M134.4 319.2h0M145.3 321.5h0M138.2 325.5h0M136.2 320.1h0M142.7 324.4h0M140.6 319.8h0M141.9 322.9h0M139.8 323.8h0M135.3 321.9h0M136.0 319.5h0M135.3 319.5h0M143.8 321.2h0M139.8 321.7h0M143.7 320.8h0M145.9 318.3h0" stroke="#1e9a68" stroke-width="0.9" stroke-linecap="round"/>
<path d="M94.3 345.7h0M97.1 345.3h0M98.4 342.7h0M95.4 348.9h0M88.8 344.9h0M101.6 340.9h0M110.8 346.6h0M92.8 340.4h0M106.4 341.7h0M109.6 350.9h0M104.5 335.8h0M110.8 345.4h0M105.4 333.1h0M91.2 339.1h0M94.5 333.7h0M94.7 339.7h0M108.6 349.1h0M102.6 340.7h0M105.6 340.4h0M103.8 350.8h0M106.6 333.0h0M96.7 347.3h0M93.6 338.2h0M96.9 345.7h0M101.6 335.4h0M88.7 341.4h0M111.6 344.5h0M108.5 347.2h0M100.6 335.6h0M104.9 337.3h0M99.7 341.1h0M91.2 334.1h0M96.1 345.0h0M108.6 351.2h0M88.5 339.2h0M102.2 344.5h0M102.7 342.6h0M88.8 329.0h0M108.9 351.8h0M88.6 326.9h0M107.9 344.6h0M100.5 341.7h0M106.2 347.8h0M88.0 327.8h0M108.0 337.0h0M96.1 335.4h0M94.3 341.8h0M100.6 335.1h0M104.2 338.3h0M94.1 338.9h0M106.8 335.0h0M93.7 343.7h0M94.2 340.1h0M92.4 332.3h0M95.2 334.9h0M105.4 344.2h0M107.0 340.6h0M89.9 346.6h0M93.9 331.9h0M96.9 335.6h0M109.9 352.7h0M107.0 347.1h0M96.1 347.3h0M97.1 333.8h0M102.2 346.0h0M99.4 348.1h0M88.3 339.5h0M91.4 345.3h0M91.3 344.3h0M109.2 345.6h0M89.7 331.0h0M90.9 340.2h0M101.0 341.3h0M106.3 340.2h0M95.4 346.5h0M110.2 339.6h0M91.8 334.9h0M101.6 333.9h0M99.0 342.3h0M108.3 338.6h0M106.3 336.8h0M89.2 330.4h0M92.2 345.9h0M93.3 347.6h0M100.0 343.6h0M88.4 334.2h0M89.0 333.0h0M102.9 336.0h0M99.4 342.8h0M95.6 335.6h0M109.2 341.7h0M98.0 340.6h0M99.0 335.0h0M110.5 349.0h0M90.3 344.6h0M96.3 341.1h0M100.3 336.2h0M88.0 339.4h0M94.5 341.5h0M103.2 338.5h0M90.2 339.4h0M99.6 343.3h0M107.9 347.5h0M100.1 337.5h0M99.8 339.0h0M95.0 348.7h0M100.1 335.2h0M92.7 331.8h0M108.0 347.7h0M104.4 347.5h0M105.1 347.9h0M107.6 334.2h0M88.5 339.8h0M96.2 347.4h0M102.7 350.6h0M110.4 343.4h0M89.5 344.0h0M92.5 344.7h0M108.8 346.8h0M106.8 349.6h0M103.3 339.3h0M97.2 335.5h0M88.5 330.3h0M103.7 346.9h0M104.7 339.9h0M95.6 333.4h0M92.5 343.5h0M104.5 351.4h0M110.8 342.7h0M111.1 346.9h0M96.0 333.5h0M100.5 339.2h0M100.9 338.8h0M92.8 341.7h0M93.8 334.8h0M96.5 340.2h0M110.8 343.3h0M97.9 337.0h0M93.6 338.8h0M98.4 344.5h0M106.3 341.0h0M103.4 351.3h0M91.6 340.9h0M94.5 345.4h0M105.4 334.6h0M106.4 343.5h0M104.9 338.3h0M89.7 333.3h0M104.7 337.8h0M91.1 337.5h0M101.8 346.1h0M97.7 343.5h0M104.4 342.6h0M89.1 345.2h0M89.7 336.6h0M110.9 349.0h0M99.7 341.9h0M90.9 334.2h0M100.2 337.1h0M94.2 347.4h0M105.0 338.1h0M96.8 337.8h0M98.9 334.5h0M103.0 337.1h0M95.3 346.9h0M98.9 338.8h0M109.1 338.3h0M111.4 347.2h0M97.6 344.1h0M105.8 334.0h0M105.4 351.6h0M103.7 344.1h0M98.4 343.6h0M93.4 346.8h0M96.2 345.2h0M88.4 337.2h0M106.4 333.0h0M89.4 341.7h0M107.7 348.6h0M97.4 341.9h0M105.1 346.6h0M105.9 341.6h0M94.0 345.0h0M101.5 340.7h0M106.7 334.8h0M105.4 351.7h0M94.6 341.3h0M100.7 339.4h0M92.0 342.9h0M109.4 343.9h0M94.9 347.8h0M102.5 338.4h0M96.5 346.5h0M89.8 334.1h0M104.6 344.6h0M107.9 336.3h0M94.6 335.7h0M97.0 343.7h0M91.6 334.4h0M108.9 351.2h0M107.1 346.0h0M94.3 339.2h0M107.7 349.2h0M93.1 345.0h0M104.8 335.1h0M99.4 334.5h0M98.6 347.9h0M101.7 342.5h0M93.3 342.7h0M96.2 337.9h0M98.3 348.3h0M110.0 344.3h0M92.1 335.6h0M109.2 349.6h0M93.4 335.8h0M93.5 345.4h0M89.1 344.8h0M101.0 341.7h0M102.4 349.3h0M89.5 328.7h0M88.5 344.8h0M92.2 333.4h0M104.0 344.8h0M95.7 338.6h0M94.9 341.2h0M96.5 335.7h0M94.0 333.9h0M95.4 342.0h0M108.3 338.7h0M100.3 334.4h0M109.3 346.4h0M102.9 343.8h0M104.6 339.5h0M97.9 336.5h0M100.1 338.7h0M100.7 340.4h0M106.9 350.1h0M107.1 342.7h0M108.8 348.6h0M104.4 344.7h0M105.9 338.3h0M97.5 340.9h0" stroke="#5d5cad" stroke-width="0.9" stroke-linecap="round"/>
<path d="M112.8 355.9h0M113.2 353.4h0M104.7 344.0h0M109.1 345.0h0M112.6 348.3h0M105.5 346.2h0M110.4 341.8h0M109.6 355.0h0M108.4 352.2h0M109.9 349.3h0M105.7 347.4h0M113.0 350.8h0M106.2 347.2h0M109.4 345.4h0M109.8 350.1h0M110.6 343.4h0M107.3 355.3h0M109.6 341.6h0M110.4 344.2h0M112.1 351.6h0M111.6 340.9h0M105.4 343.2h0M108.7 355.3h0M107.2 344.1h0M112.3 343.0h0M110.4 349.8h0M109.6 346.1h0M112.2 344.0h0M111.1 343.0h0M109.0 355.5h0M106.4 344.5h0M113.2 350.8h0M104.7 343.0h0M106.4 344.6h0M112.4 351.2h0M110.3 346.1h0M111.2 347.9h0M107.8 348.5h0" stroke="#4b5876" stroke-width="0.9" stroke-linecap="round"/>
<path d="M39.2 343.3h0M36.0 313.0h0M38.0 313.6h0M67.8 302.1h0M108.1 351.1h0M89.7 381.3h0M53.0 352.8h0M92.8 349.7h0M45.8 347.9h0M57.3 356.4h0M106.1 349.9h0M67.7 368.1h0M30.6 311.5h0M26.2 312.9h0M56.6 301.4h0M29.3 336.6h0M113.4 373.5h0M24.5 326.8h0M68.4 300.3h0M87.2 339.8h0M33.7 338.4h0M98.2 378.8h0M76.8 305.1h0M89.2 331.4h0M54.6 304.9h0M66.4 299.8h0M73.7 304.4h0M51.1 352.8h0M65.1 301.0h0M72.8 381.3h0M74.3 303.1h0M73.6 303.5h0M55.2 303.5h0M116.0 366.2h0M29.4 335.9h0M98.5 349.5h0M103.4 350.8h0M33.6 337.8h0M78.6 385.7h0M64.1 359.7h0M24.5 314.3h0M69.8 374.0h0M23.5 313.3h0M104.8 351.4h0M78.8 306.7h0M45.1 315.3h0M88.6 326.9h0M88.2 336.6h0M39.0 343.6h0M69.9 371.6h0M92.0 349.4h0M29.3 311.0h0M31.9 337.2h0M64.8 359.2h0M85.8 381.7h0M39.3 344.0h0M67.0 365.4h0M76.7 306.1h0M73.3 380.1h0M89.4 331.8h0M29.0 336.4h0M66.3 299.8h0M39.8 314.5h0M51.8 352.2h0M70.3 370.3h0M88.9 380.7h0M40.1 343.3h0M98.4 349.0h0M84.5 383.8h0M82.1 310.0h0M71.1 373.1h0M32.6 337.8h0M116.0 371.7h0M101.0 377.6h0M116.6 364.2h0M113.4 355.9h0" stroke="#5d5cad" stroke-width="0.9" stroke-linecap="round"/>
<path d="M125.8 334.0h0M109.1 372.1h0M128.3 347.5h0M126.4 350.2h0M126.9 336.7h0M111.9 374.4h0M122.5 357.4h0M124.7 334.9h0M109.6 360.0h0M111.4 354.9h0M110.0 344.1h0M124.1 353.4h0M125.4 352.8h0M127.7 349.5h0M112.2 354.0h0M121.5 364.4h0M120.7 365.2h0M123.4 361.4h0M126.1 348.9h0M121.3 330.0h0M111.4 357.6h0M108.4 372.6h0M111.3 373.6h0M113.3 374.4h0M105.7 336.5h0M106.0 337.8h0M110.4 374.0h0M108.0 340.1h0M112.7 353.0h0M126.4 350.2h0M113.0 324.9h0M107.7 336.7h0M110.4 353.9h0M121.5 331.1h0M112.7 375.9h0M128.1 349.6h0M126.1 337.8h0M107.4 372.0h0" stroke="#4b5876" stroke-width="0.9" stroke-linecap="round"/>
<path d="M103.7 324.4h0M104.2 329.5h0M101.5 337.4h0M102.1 321.0h0M94.6 339.7h0M92.6 335.3h0M103.9 330.8h0M91.0 324.1h0M101.7 321.3h0M95.5 339.9h0M96.8 321.3h0M104.9 326.4h0M100.9 321.5h0M95.6 320.4h0M89.7 323.4h0M95.6 338.8h0M96.2 339.5h0M104.8 328.9h0M103.1 330.8h0" stroke="#3a6870" stroke-width="0.9" stroke-linecap="round"/>
<path d="M87.0 285.9h0M84.1 289.0h0M75.0 281.5h0M80.6 288.4h0M79.9 289.6h0M79.6 290.2h0M83.3 275.0h0M74.1 280.4h0M78.9 288.3h0M87.3 278.9h0M76.0 284.7h0M80.2 271.0h0M85.8 287.0h0M81.9 272.9h0M80.6 290.7h0M76.1 284.0h0M85.2 287.6h0M81.9 290.2h0" stroke="#5d5cad" stroke-width="0.9" stroke-linecap="round"/>
<path d="M60.0 231.8h0M85.5 237.2h0M84.9 239.5h0M77.8 231.6h0M59.7 234.2h0M58.8 236.2h0M66.1 225.0h0M58.6 235.1h0M84.8 237.6h0M63.1 226.5h0M82.3 233.7h0M61.4 228.7h0M80.8 232.0h0M65.1 223.7h0M63.9 245.6h0M61.3 243.3h0M58.2 241.1h0M81.9 246.1h0M70.7 225.7h0M65.3 225.6h0M69.8 225.4h0M72.8 228.7h0M85.2 242.2h0M63.6 244.1h0" stroke="#1e9a68" stroke-width="0.9" stroke-linecap="round"/>
<path d="M81.5 237.1h0M98.9 229.7h0M80.3 236.1h0M82.3 240.3h0M96.0 236.7h0M94.3 226.6h0M83.8 239.9h0M95.9 236.3h0M80.4 237.6h0M85.0 232.3h0M83.2 239.5h0M98.3 228.8h0M99.1 230.7h0M88.0 240.6h0M87.6 231.1h0" stroke="#c4d03c" stroke-width="0.9" stroke-linecap="round"/>
<path d="M113.3 236.9h0M96.1 220.8h0M99.1 217.4h0M99.4 236.0h0M115.3 227.3h0M102.0 217.5h0M114.6 226.4h0M99.7 237.2h0M95.4 224.6h0M110.9 239.3h0M104.1 239.8h0M114.6 223.8h0M111.7 237.6h0M113.8 228.8h0M96.0 220.8h0M98.1 234.3h0M98.2 236.1h0M96.2 220.7h0M112.5 235.6h0M94.3 226.8h0M114.5 229.4h0M103.7 239.2h0" stroke="#6cbc60" stroke-width="0.9" stroke-linecap="round"/>
<path d="M106.4 245.7h0M112.9 242.8h0M112.9 245.9h0M113.7 242.8h0M113.9 245.8h0M110.3 234.4h0M109.6 248.7h0M107.5 235.4h0M111.1 235.2h0M106.2 238.2h0M107.0 237.3h0M113.4 240.2h0" stroke="#5d5cad" stroke-width="0.9" stroke-linecap="round"/>
<path d="M100.8 284.7h0M107.3 266.3h0M115.3 262.2h0M128.4 273.0h0M125.5 256.4h0M96.1 277.9h0M137.6 268.3h0M144.8 268.7h0M102.8 282.2h0M134.7 261.1h0M124.4 275.3h0M142.6 267.3h0M135.5 261.3h0M129.4 256.2h0M121.5 278.8h0M130.1 271.4h0M100.2 270.0h0M129.6 256.4h0M130.0 271.4h0M97.6 283.8h0M102.4 268.4h0M134.6 260.6h0M112.1 263.7h0M98.0 283.1h0M136.7 261.9h0M138.6 268.4h0M135.4 268.8h0M112.0 281.5h0M128.4 255.7h0" stroke="#1e9a68" stroke-width="0.9" stroke-linecap="round"/>
<path d="M107.6 297.5h0M101.6 294.4h0M95.0 307.9h0M109.6 299.1h0M107.0 297.0h0M99.6 295.4h0M104.0 294.1h0M101.3 310.8h0M106.7 297.7h0M99.7 311.3h0M104.0 294.8h0M97.1 301.8h0M95.4 301.5h0M103.7 307.4h0M102.5 294.3h0" stroke="#1e9a68" stroke-width="0.9" stroke-linecap="round"/>
<path d="M163.1 265.8h0M157.7 257.3h0M155.2 289.0h0M153.5 252.4h0M150.1 236.7h0M187.6 303.4h0M175.7 238.4h0M181.5 256.3h0M175.7 326.6h0M160.6 283.6h0M164.3 278.5h0M155.3 218.7h0M164.8 305.1h0M173.5 234.3h0M169.3 223.0h0M173.0 230.5h0M189.3 302.8h0M193.8 283.2h0M197.4 283.9h0M171.2 223.8h0M184.0 263.0h0M176.3 243.3h0M163.2 216.4h0M162.1 264.1h0M158.4 287.0h0M183.5 320.6h0M182.2 322.2h0M182.7 275.5h0M157.5 257.4h0M162.7 301.3h0M169.4 312.9h0M187.6 309.4h0M171.7 228.2h0M156.5 254.7h0M176.5 246.3h0M158.1 296.5h0M149.6 231.4h0M183.0 321.5h0M180.6 273.2h0M157.8 294.9h0M174.8 242.0h0M153.5 249.1h0M158.5 259.3h0M178.4 248.7h0M151.7 246.1h0M150.2 223.2h0M183.5 266.1h0M152.6 247.8h0M170.5 318.7h0M165.0 277.5h0M184.1 280.5h0M184.3 264.2h0M159.0 295.9h0M191.5 284.0h0M168.9 219.8h0M185.4 279.7h0M178.4 248.7h0M174.4 232.8h0M170.5 316.5h0M160.7 299.3h0M175.4 236.6h0M187.3 307.8h0M179.6 327.5h0M156.9 294.5h0M184.0 320.8h0M183.6 319.7h0M150.8 237.3h0M171.9 325.7h0M191.2 283.4h0M165.3 218.6h0" stroke="#e04446" stroke-width="0.9" stroke-linecap="round"/>
<path d="M203.6 289.3h0M183.4 293.1h0M209.8 316.7h0M197.8 286.5h0M183.5 315.0h0M184.7 322.9h0M207.5 334.3h0M183.3 304.1h0M183.5 295.1h0M196.8 287.3h0M182.6 313.3h0M185.4 291.5h0M195.5 338.7h0M183.5 309.2h0M184.9 293.4h0M195.3 339.0h0M210.6 324.1h0M200.0 286.6h0M184.3 327.3h0M201.4 337.3h0M211.3 312.7h0M188.2 288.6h0M207.9 303.3h0M184.4 321.1h0M185.1 327.3h0M185.0 297.9h0M183.3 309.1h0M209.8 304.5h0M210.6 318.8h0M182.9 300.2h0M182.6 324.3h0M182.8 303.5h0M187.8 334.0h0M197.3 284.8h0M191.4 338.9h0M210.4 312.0h0M182.5 325.9h0M205.1 336.1h0M201.4 288.0h0M184.4 298.5h0M196.0 287.6h0M210.8 307.4h0M208.9 329.2h0M184.6 329.5h0M209.0 319.7h0M184.2 296.1h0M184.0 301.4h0M184.4 292.6h0M200.4 286.6h0M184.2 296.6h0M209.3 324.5h0M210.0 311.2h0M190.6 287.6h0M185.3 297.7h0M185.0 327.2h0" stroke="#e8643e" stroke-width="0.9" stroke-linecap="round"/>
<path d="M144.0 342.9h0M202.4 340.0h0M199.0 342.2h0M170.0 330.8h0M190.2 346.4h0M164.4 335.8h0M156.7 375.9h0M134.4 341.9h0M145.8 343.3h0M135.0 372.9h0M175.4 359.9h0M129.4 368.8h0M196.4 335.2h0M134.4 374.5h0M128.0 351.7h0M127.4 356.6h0M171.0 330.6h0M206.1 336.0h0M154.5 339.9h0M127.7 349.7h0M153.9 375.2h0M168.5 367.5h0M157.5 338.2h0M132.6 343.0h0M157.7 337.4h0M194.4 344.3h0M127.3 358.1h0M160.5 371.3h0M155.7 376.4h0M201.2 341.6h0M176.2 328.6h0M140.3 377.3h0M199.0 336.4h0M197.4 343.1h0M136.6 343.6h0M125.8 353.4h0M127.3 361.6h0M126.7 346.8h0M189.0 346.7h0M127.9 343.6h0M195.5 335.8h0M203.6 339.3h0M197.5 336.1h0M172.1 362.7h0M188.9 332.0h0M160.8 336.3h0M174.9 327.4h0M128.9 366.8h0M190.4 335.3h0M135.3 373.3h0M174.0 328.8h0M155.0 374.8h0M174.0 328.2h0M177.9 356.8h0M151.1 339.8h0M158.6 372.9h0M127.2 348.6h0M137.2 343.9h0M169.1 331.4h0M127.9 348.6h0M139.9 377.0h0M172.9 328.7h0M206.8 335.8h0" stroke="#f0a04c" stroke-width="0.9" stroke-linecap="round"/>
<path d="M154.8 352.5h0M133.9 342.6h0M153.4 342.3h0M133.4 362.7h0M127.3 349.7h0M140.5 363.6h0M145.4 359.9h0M133.3 363.3h0M131.5 358.5h0M134.5 342.7h0M152.4 342.1h0M139.8 363.5h0M152.4 340.4h0M147.4 358.8h0M127.3 347.8h0M148.3 358.4h0M153.6 341.8h0M153.7 353.1h0M137.5 362.2h0M149.1 359.0h0M127.3 352.4h0M140.5 343.2h0M148.1 359.8h0M131.6 361.9h0M139.2 363.0h0M132.9 342.6h0M156.0 344.1h0M126.5 353.9h0M132.7 341.7h0M126.6 352.8h0M137.6 343.6h0M156.8 346.9h0M151.1 355.9h0" stroke="#f2cc38" stroke-width="0.9" stroke-linecap="round"/>
<g filter="url(#sp)">
<polygon points="24.6,313.0 33.0,313.0 43.4,316.0 51.8,313.0 57.0,302.5 66.4,301.5 76.8,306.7 83.0,313.0 87.2,319.2 88.0,326.0 87.5,333.0 86.0,344.0 92.0,350.0 104.0,352.0 110.0,352.0 114.0,358.0 116.0,366.0 113.3,373.3 108.3,378.3 100.0,376.7 93.3,378.3 85.0,381.7 81.7,385.0 76.7,383.3 72.5,378.3 70.0,368.3 65.0,358.3 58.8,356.3 47.6,348.8 38.2,341.3 28.8,333.8 25.0,324.4" fill="#5d5cad" stroke="#5d5cad" stroke-width="0.8" stroke-linejoin="round"/>
<polygon points="110.0,327.0 117.0,327.5 124.0,334.0 127.5,341.0 126.0,349.0 122.0,358.0 119.0,368.0 114.0,374.0 109.0,372.0 111.0,362.0 113.0,352.0 110.0,344.0 108.0,336.0" fill="#4b5876" stroke="#4b5876" stroke-width="0.8" stroke-linejoin="round"/>
<polygon points="92.0,323.0 97.0,321.5 102.5,323.5 103.4,330.0 101.0,337.0 95.0,338.5 92.0,333.0" fill="#3a6870" stroke="#3a6870" stroke-width="0.8" stroke-linejoin="round"/>
<polygon points="76.0,273.0 82.0,273.5 86.0,278.0 86.5,285.0 84.0,289.0 79.0,288.0 76.0,282.0" fill="#5d5cad" stroke="#5d5cad" stroke-width="0.8" stroke-linejoin="round"/>
<polygon points="60.4,232.2 63.1,227.5 68.5,223.5 69.8,228.8 75.2,232.2 83.3,234.2 83.9,241.0 79.2,247.7 71.2,246.3 63.1,243.6 60.4,241.0" fill="#1e9a68" stroke="#1e9a68" stroke-width="0.8" stroke-linejoin="round"/>
<polygon points="83.3,233.6 90.0,230.2 96.7,226.2 98.0,232.9 94.0,238.3 86.0,241.0 82.0,238.3" fill="#c4d03c" stroke="#c4d03c" stroke-width="0.8" stroke-linejoin="round"/>
<polygon points="96.7,218.0 103.5,217.4 111.5,222.1 114.2,230.2 111.5,237.0 106.1,238.3 99.4,235.6 95.4,227.5" fill="#6cbc60" stroke="#6cbc60" stroke-width="0.8" stroke-linejoin="round"/>
<polygon points="107.5,237.0 112.0,236.0 113.0,242.0 111.0,248.0 108.0,247.0" fill="#5d5cad" stroke="#5d5cad" stroke-width="0.8" stroke-linejoin="round"/>
<polygon points="96.9,281.3 102.5,270.0 113.8,264.4 128.8,256.9 134.5,262.5 145.7,264.4 147.6,266.3 136.3,268.2 127.0,272.0 117.6,280.4 108.2,279.4 100.7,283.2" fill="#1e9a68" stroke="#1e9a68" stroke-width="0.8" stroke-linejoin="round"/>
<polygon points="97.8,296.3 104.0,295.0 108.2,300.0 104.0,306.0 100.0,310.0 98.5,315.0 97.0,306.0" fill="#1e9a68" stroke="#1e9a68" stroke-width="0.8" stroke-linejoin="round"/>
<polygon points="149.9,226.8 153.9,219.9 161.8,217.9 168.8,221.9 171.7,230.8 174.7,244.7 180.7,254.6 182.7,262.5 179.7,272.5 181.7,280.4 191.6,284.4 199.5,286.3 192.0,292.0 187.0,305.0 184.0,318.0 180.0,326.0 174.0,326.0 170.9,313.4 162.5,300.9 156.3,290.4 157.9,288.3 163.8,280.4 167.8,272.5 159.8,260.6 153.9,248.7 151.9,240.7" fill="#e04446" stroke="#e04446" stroke-width="0.8" stroke-linejoin="round"/>
<polygon points="186.0,292.0 199.5,286.3 206.4,296.7 209.5,311.3 208.5,326.0 205.0,335.0 198.0,339.0 190.0,336.0 185.0,326.0 184.0,310.0" fill="#e8643e" stroke="#e8643e" stroke-width="0.8" stroke-linejoin="round"/>
<polygon points="129.6,342.9 142.3,345.0 155.0,340.8 167.7,334.4 176.0,329.0 185.0,331.0 192.0,337.0 200.0,337.0 207.0,331.0 205.0,338.0 193.0,343.0 180.4,353.5 167.7,366.0 155.0,374.6 142.3,376.7 131.7,370.4 128.0,360.0 128.0,350.0" fill="#f0a04c" stroke="#f0a04c" stroke-width="0.8" stroke-linejoin="round"/>
<polygon points="129.0,343.0 142.0,346.0 155.0,342.0 157.0,348.0 150.0,356.0 142.0,362.0 134.0,362.0 129.0,354.0" fill="#f2cc38" stroke="#f2cc38" stroke-width="0.8" stroke-linejoin="round"/>
</g>
<path d="M40.8 294.7h0M40.2 288.4h0M40.1 296.5h0M34.7 278.0h0M40.0 290.4h0M37.6 286.0h0M38.0 283.0h0M39.2 292.9h0M39.5 287.4h0M38.0 284.3h0M36.0 281.4h0M36.5 287.8h0M33.3 281.4h0M38.4 298.9h0M37.7 288.4h0M37.1 281.1h0M37.2 288.2h0M39.6 288.1h0M38.3 282.1h0M39.9 282.0h0M37.6 288.6h0M37.8 281.3h0M35.1 283.9h0M38.0 294.9h0M38.6 292.8h0M33.7 281.2h0M40.0 282.6h0M34.3 284.4h0M38.0 282.3h0M40.4 293.6h0M37.3 278.9h0M39.9 284.0h0M33.2 281.5h0M40.6 294.9h0M40.8 294.2h0M38.4 290.7h0M35.6 287.5h0M38.8 283.2h0M39.1 292.7h0M40.2 294.3h0M36.8 276.7h0M33.5 277.1h0M38.6 301.5h0M34.1 285.1h0M37.6 280.9h0M39.7 290.6h0M39.1 289.7h0M40.4 302.9h0M35.1 279.0h0M33.4 282.1h0M36.0 288.1h0M38.3 290.3h0M34.6 278.4h0M37.0 281.0h0M40.2 293.8h0M37.9 279.8h0M39.3 295.9h0M40.1 284.6h0M38.3 282.1h0M38.2 284.2h0M37.6 294.7h0M33.9 276.6h0M39.4 292.1h0M38.5 280.8h0M40.2 284.9h0M33.8 276.7h0M37.6 282.1h0M39.3 286.2h0M38.7 289.2h0M37.7 284.0h0M33.8 281.2h0M36.6 282.3h0M39.8 302.6h0M38.9 294.4h0M33.2 280.0h0M39.8 301.8h0M37.2 288.9h0M39.9 300.9h0M35.9 285.5h0M40.0 295.4h0M40.6 285.9h0M37.2 285.5h0M39.2 290.2h0M33.0 279.1h0M38.0 291.3h0M35.2 284.7h0M35.9 278.9h0M36.0 284.7h0M35.6 285.7h0M40.7 287.1h0M35.2 284.4h0M39.7 302.0h0M36.1 288.1h0M38.3 297.7h0M40.6 296.7h0M38.8 281.7h0M40.6 292.6h0M37.6 281.9h0M38.1 283.5h0M40.4 300.7h0M38.2 295.9h0M40.3 293.9h0M39.8 296.8h0M40.2 299.4h0M39.8 297.8h0M39.4 298.0h0M39.2 280.9h0M38.2 283.7h0M39.1 289.5h0M38.5 288.6h0M40.3 299.0h0M37.2 277.3h0M36.3 280.5h0M36.8 278.7h0M33.4 283.0h0M39.5 296.8h0M38.7 298.9h0M36.0 281.2h0M38.8 283.6h0M40.4 290.0h0M38.5 290.3h0M37.6 279.6h0M39.3 283.1h0M38.7 302.8h0M32.8 279.5h0M38.1 281.2h0M39.8 282.2h0M35.9 282.3h0M35.0 282.1h0M40.2 284.3h0M39.0 292.2h0M36.8 281.6h0M38.8 300.6h0M38.6 286.2h0M36.8 283.3h0M34.3 283.3h0M33.9 285.1h0M40.6 288.5h0M35.7 287.4h0M36.9 289.4h0M37.0 284.1h0M39.2 287.1h0M40.1 287.4h0M38.3 294.9h0M37.7 286.9h0M39.2 298.8h0M40.8 299.7h0M37.8 292.5h0M36.0 286.2h0M36.9 290.0h0M40.7 300.5h0M40.3 283.5h0M38.3 296.3h0M33.0 279.2h0M40.5 298.9h0M40.6 292.8h0M36.5 286.2h0M35.7 280.1h0M40.1 302.2h0M38.1 279.8h0M40.3 290.9h0M35.2 282.7h0M38.2 291.2h0M37.6 290.0h0M35.4 286.7h0M37.1 288.6h0M38.3 287.0h0M37.0 289.5h0M40.8 290.4h0M37.9 292.8h0M38.6 282.0h0M39.8 287.3h0M39.9 295.8h0M36.5 287.2h0M32.7 280.1h0M35.8 283.7h0M39.6 301.2h0M38.2 279.5h0M32.8 279.3h0M38.8 282.0h0M36.2 276.8h0M33.6 278.5h0M35.2 278.4h0M35.5 287.8h0M39.0 282.0h0M35.2 283.7h0M40.9 298.6h0M36.6 279.4h0M38.6 293.0h0M40.2 295.6h0M36.7 277.4h0M35.0 282.8h0M38.0 297.2h0M39.2 296.5h0M34.0 279.6h0M40.0 287.1h0M39.8 285.4h0M38.7 283.8h0M39.4 289.2h0M40.2 296.9h0M40.5 302.2h0M36.0 285.5h0M38.9 292.3h0M35.3 286.8h0M38.3 297.8h0M36.3 284.0h0M32.8 282.5h0M38.6 290.1h0M39.1 291.7h0M37.1 283.4h0M35.9 279.0h0M39.0 281.7h0M35.7 287.9h0M39.7 297.4h0M35.9 278.1h0M35.5 278.2h0M38.2 297.7h0M40.1 292.4h0M38.6 290.2h0M40.3 288.2h0M37.9 286.3h0M36.5 281.1h0M35.2 283.9h0M40.5 297.1h0M34.2 279.0h0M40.4 296.7h0M40.9 295.7h0" stroke="#f2cc38" stroke-width="0.9" stroke-linecap="round"/>
<path d="M29.7 308.2h0M27.9 302.9h0M26.5 298.7h0M30.0 307.4h0M26.4 298.8h0M30.0 305.4h0M25.2 298.9h0M29.6 308.2h0M24.2 294.6h0M26.6 302.2h0M23.8 295.0h0M28.0 301.8h0M27.0 301.4h0M28.4 306.3h0M29.2 306.5h0M26.9 303.2h0M24.9 296.9h0M27.2 303.3h0M28.4 302.4h0M22.6 294.0h0M25.5 297.2h0M28.8 303.1h0M25.8 298.0h0M30.0 306.4h0M24.2 297.6h0M24.0 296.1h0M26.9 303.0h0M28.2 302.7h0M27.0 303.7h0M26.3 301.1h0M22.9 292.3h0M30.4 307.1h0M23.3 293.8h0M24.7 296.5h0M26.8 299.4h0M29.5 305.0h0M29.4 307.0h0M28.6 307.2h0M28.4 306.8h0M27.9 301.8h0M29.2 308.1h0M23.6 294.0h0M27.7 305.4h0M24.5 297.4h0M29.7 305.7h0M27.5 304.6h0M26.0 298.4h0M27.4 301.8h0M27.1 303.5h0M30.0 307.7h0M28.2 304.1h0M23.5 295.6h0M24.0 295.7h0M28.8 305.5h0M26.5 300.4h0M29.4 306.0h0M24.9 298.3h0M26.2 299.8h0M23.2 293.8h0M25.5 298.1h0M23.0 292.4h0M30.2 305.8h0M29.6 306.5h0M28.1 303.8h0M23.2 292.7h0M28.4 304.6h0M24.8 296.5h0M28.1 303.1h0M24.0 297.1h0M28.6 303.7h0M25.3 297.9h0M23.3 292.3h0M25.5 299.8h0M26.1 300.8h0M23.7 293.9h0M30.2 308.0h0M25.5 296.8h0M25.7 300.5h0M24.1 294.3h0M29.9 305.9h0M25.4 297.7h0M24.6 298.3h0M22.7 293.8h0M24.8 297.8h0M24.3 295.8h0M28.9 306.5h0M27.0 302.4h0M26.7 299.1h0M28.9 304.5h0M24.8 295.7h0M25.9 301.3h0" stroke="#e04446" stroke-width="0.9" stroke-linecap="round"/>
<path d="M34.7 292.0h0M35.0 291.5h0M34.5 292.5h0M30.4 298.3h0M30.1 298.7h0M30.8 299.3h0M33.4 292.7h0M30.2 299.8h0M32.0 296.7h0" stroke="#e04446" stroke-width="0.9" stroke-linecap="round"/>
<ellipse cx="33.2" cy="291.8" rx="18.7" ry="20.3" fill="none" stroke="#9a9a9a" stroke-width="0.7" stroke-dasharray="2.8,2.4"/>
<text x="15" y="266.3" class="t6">BM-stroma</text>
<text x="6.8" y="171.0" class="pl">C</text>
<rect x="215.2" y="187.55" width="4.9" height="5.5" fill="#7a7a80"/>
<rect x="215.2" y="193.05" width="4.9" height="0.67" fill="#7a7a80" fill-opacity="0.45"/>
<text x="221.7" y="192.45" class="t6">HSC</text>
<rect x="215.2" y="193.72" width="4.9" height="5.5" fill="#6c7090"/>
<rect x="215.2" y="199.22" width="4.9" height="0.67" fill="#6c7090" fill-opacity="0.45"/>
<text x="221.7" y="198.62" class="t6">CMP</text>
<rect x="215.2" y="199.88" width="4.9" height="5.5" fill="#6a70a4"/>
<rect x="215.2" y="205.38" width="4.9" height="0.67" fill="#6a70a4" fill-opacity="0.45"/>
<text x="221.7" y="204.78" class="t6">GMP</text>
<rect x="215.2" y="206.05" width="4.9" height="5.5" fill="#7a78c0"/>
<rect x="215.2" y="211.55" width="4.9" height="0.67" fill="#7a78c0" fill-opacity="0.45"/>
<text x="221.7" y="210.95" class="t6">MyeloPro0</text>
<rect x="215.2" y="212.21" width="4.9" height="5.5" fill="#7c7ac2"/>
<rect x="215.2" y="217.71" width="4.9" height="0.67" fill="#7c7ac2" fill-opacity="0.45"/>
<text x="221.7" y="217.11" class="t6">MyeloPro1</text>
<rect x="215.2" y="218.38" width="4.9" height="5.5" fill="#7a78c2"/>
<rect x="215.2" y="223.88" width="4.9" height="0.67" fill="#7a78c2" fill-opacity="0.45"/>
<text x="221.7" y="223.28" class="t6">MyeloPro2</text>
<rect x="215.2" y="224.54" width="4.9" height="5.5" fill="#7876c0"/>
<rect x="215.2" y="230.04" width="4.9" height="0.67" fill="#7876c0" fill-opacity="0.45"/>
<text x="221.7" y="229.44" class="t6">MyeloPro3</text>
<rect x="215.2" y="230.71" width="4.9" height="5.5" fill="#7a78c2"/>
<rect x="215.2" y="236.21" width="4.9" height="0.67" fill="#7a78c2" fill-opacity="0.45"/>
<text x="221.7" y="235.61" class="t6">Macrophage1</text>
<rect x="215.2" y="236.87" width="4.9" height="5.5" fill="#7c7ac4"/>
<rect x="215.2" y="242.37" width="4.9" height="0.67" fill="#7c7ac4" fill-opacity="0.45"/>
<text x="221.7" y="241.77" class="t6">ProMono</text>
<rect x="215.2" y="243.04" width="4.9" height="5.5" fill="#7a78c2"/>
<rect x="215.2" y="248.54" width="4.9" height="0.67" fill="#7a78c2" fill-opacity="0.45"/>
<text x="221.7" y="247.94" class="t6">Mono</text>
<rect x="215.2" y="249.20" width="4.9" height="5.5" fill="#7876c2"/>
<rect x="215.2" y="254.70" width="4.9" height="0.67" fill="#7876c2" fill-opacity="0.45"/>
<text x="221.7" y="254.10" class="t6">Neutrophile1</text>
<rect x="215.2" y="255.37" width="4.9" height="5.5" fill="#7674c0"/>
<rect x="215.2" y="260.87" width="4.9" height="0.67" fill="#7674c0" fill-opacity="0.45"/>
<text x="221.7" y="260.26" class="t6">Neutrophile2</text>
<rect x="215.2" y="261.53" width="4.9" height="5.5" fill="#7674c0"/>
<rect x="215.2" y="267.03" width="4.9" height="0.67" fill="#7674c0" fill-opacity="0.45"/>
<text x="221.7" y="266.43" class="t6">Macrophage2</text>
<rect x="215.2" y="267.69" width="4.9" height="5.5" fill="#7472be"/>
<rect x="215.2" y="273.19" width="4.9" height="0.67" fill="#7472be" fill-opacity="0.45"/>
<text x="221.7" y="272.59" class="t6">Mastcells</text>
<rect x="215.2" y="273.86" width="4.9" height="5.5" fill="#6a68c0"/>
<rect x="215.2" y="279.36" width="4.9" height="0.67" fill="#6a68c0" fill-opacity="0.45"/>
<text x="221.7" y="278.76" class="t6">pDC</text>
<rect x="215.2" y="280.02" width="4.9" height="5.5" fill="#f2de5a"/>
<rect x="215.2" y="285.52" width="4.9" height="0.67" fill="#f2de5a" fill-opacity="0.45"/>
<text x="221.7" y="284.92" class="t6">CFU–E</text>
<rect x="215.2" y="286.19" width="4.9" height="5.5" fill="#f2ba6e"/>
<rect x="215.2" y="291.69" width="4.9" height="0.67" fill="#f2ba6e" fill-opacity="0.45"/>
<text x="221.7" y="291.09" class="t6">ProEry0</text>
<rect x="215.2" y="292.36" width="4.9" height="5.5" fill="#f2aa66"/>
<rect x="215.2" y="297.86" width="4.9" height="0.67" fill="#f2aa66" fill-opacity="0.45"/>
<text x="221.7" y="297.25" class="t6">ProEry1</text>
<rect x="215.2" y="298.52" width="4.9" height="5.5" fill="#f09a60"/>
<rect x="215.2" y="304.02" width="4.9" height="0.67" fill="#f09a60" fill-opacity="0.45"/>
<text x="221.7" y="303.42" class="t6">ProEry2</text>
<rect x="215.2" y="304.69" width="4.9" height="5.5" fill="#ec8a62"/>
<rect x="215.2" y="310.19" width="4.9" height="0.67" fill="#ec8a62" fill-opacity="0.45"/>
<text x="221.7" y="309.58" class="t6">BasoEry1</text>
<rect x="215.2" y="310.85" width="4.9" height="5.5" fill="#e87c68"/>
<rect x="215.2" y="316.35" width="4.9" height="0.67" fill="#e87c68" fill-opacity="0.45"/>
<text x="221.7" y="315.75" class="t6">BasoEry2</text>
<rect x="215.2" y="317.01" width="4.9" height="5.5" fill="#e46c6c"/>
<rect x="215.2" y="322.51" width="4.9" height="0.67" fill="#e46c6c" fill-opacity="0.45"/>
<text x="221.7" y="321.91" class="t6">PolyEry1</text>
<rect x="215.2" y="323.18" width="4.9" height="5.5" fill="#e26870"/>
<rect x="215.2" y="328.68" width="4.9" height="0.67" fill="#e26870" fill-opacity="0.45"/>
<text x="221.7" y="328.08" class="t6">PolyEry2</text>
<rect x="215.2" y="329.35" width="4.9" height="5.5" fill="#e06470"/>
<rect x="215.2" y="334.85" width="4.9" height="0.67" fill="#e06470" fill-opacity="0.45"/>
<text x="221.7" y="334.25" class="t6">OrthoEry</text>
<rect x="215.2" y="335.51" width="4.9" height="5.5" fill="#de5c70"/>
<rect x="215.2" y="341.01" width="4.9" height="0.67" fill="#de5c70" fill-opacity="0.45"/>
<text x="221.7" y="340.41" class="t6">RetiEry</text>
<rect x="215.2" y="341.68" width="4.9" height="5.5" fill="#dcdcd0"/>
<rect x="215.2" y="347.18" width="4.9" height="0.67" fill="#dcdcd0" fill-opacity="0.45"/>
<text x="221.7" y="346.57" class="t6">LMPP</text>
<rect x="215.2" y="347.84" width="4.9" height="5.5" fill="#a8d4b0"/>
<rect x="215.2" y="353.34" width="4.9" height="0.67" fill="#a8d4b0" fill-opacity="0.45"/>
<text x="221.7" y="352.74" class="t6">ProB</text>
<rect x="215.2" y="354.00" width="4.9" height="5.5" fill="#54b482"/>
<rect x="215.2" y="359.50" width="4.9" height="0.67" fill="#54b482" fill-opacity="0.45"/>
<text x="221.7" y="358.90" class="t6">ProB1IgM</text>
<rect x="215.2" y="360.17" width="4.9" height="5.5" fill="#2aa078"/>
<rect x="215.2" y="365.67" width="4.9" height="0.67" fill="#2aa078" fill-opacity="0.45"/>
<text x="221.7" y="365.07" class="t6">ProB2IgM</text>
<rect x="215.2" y="366.34" width="4.9" height="5.5" fill="#1a9080"/>
<rect x="215.2" y="371.84" width="4.9" height="0.67" fill="#1a9080" fill-opacity="0.45"/>
<text x="221.7" y="371.24" class="t6">PlasmaB</text>
<rect x="215.2" y="372.50" width="4.9" height="5.5" fill="#c8d464"/>
<rect x="215.2" y="378.00" width="4.9" height="0.67" fill="#c8d464" fill-opacity="0.45"/>
<text x="221.7" y="377.40" class="t6">TCell0</text>
<rect x="215.2" y="378.67" width="4.9" height="5.5" fill="#70bc70"/>
<rect x="215.2" y="384.17" width="4.9" height="0.67" fill="#70bc70" fill-opacity="0.45"/>
<text x="221.7" y="383.56" class="t6">TCell1</text>
<rect x="215.2" y="384.83" width="4.9" height="5.5" fill="#42a474"/>
<rect x="215.2" y="390.33" width="4.9" height="0.67" fill="#42a474" fill-opacity="0.45"/>
<text x="221.7" y="389.73" class="t6">TCell2</text>
<rect x="215.2" y="391.00" width="4.9" height="5.5" fill="#e26450"/>
<rect x="215.2" y="396.50" width="4.9" height="0.67" fill="#e26450" fill-opacity="0.45"/>
<text x="221.7" y="395.89" class="t6">Endothel</text>
<rect x="215.2" y="397.16" width="4.9" height="5.5" fill="#f4c662"/>
<rect x="215.2" y="402.66" width="4.9" height="0.67" fill="#f4c662" fill-opacity="0.45"/>
<text x="221.7" y="402.06" class="t6">MSC</text>
<g stroke-width="2.023" filter="url(#hb)">
<path d="M277.00 220.40h1.96m36.71 0h1.96m108.24 0h1.96m-123.76 1.99h1.96m-23.23 1.99h1.96m1.91 1.99h1.96m143.04 0h1.96m-125.7 2h1.96m19.31 0h1.96m139.17 1.99h1.96m-148.89 1.99h1.96m-.03 0h1.96m98.58 2h1.96m3.84 0h1.96m-50.3 1.99h1.96m92.78 1.99h1.96m-58.03 1.99h1.96m3.84 0h1.96m30.91 0h1.96m-125.7 5.98h1.96m-36.76 1.99h1.96m11.58 0h1.96m154.64 0h1.96m-135.36 5.98h1.96m119.84 0h1.96m-146.96 2h1.96m-29.03 1.99h1.96m23.17 0h1.96m9.64 0h1.96m57.98 0h1.96m21.24 0h1.96m11.57 0h1.96m-23.23 1.99h1.96m-67.69 5.98h1.96m90.84 0h1.96m46.37 0h1.96m-17.42 1.99h1.96m-143.1 1.99h1.96m-42.56 2h1.96m102.44 0h1.96m30.91 0h1.96m-116.03 5.98h1.96m5.78 5.97h1.96m-23.23 2h1.96m3.84 0h1.96m9.64 0h1.96m-7.76 5.97h1.96m50.24 2h1.96m83.11 0h1.96m-100.56 3.98h1.96m-29.03 11.96h1.96m108.24 3.98h1.96m-90.89 2h1.96m1.9 0h1.96m83.11 0h1.96m-108.29 1.99h1.96m1.9 1.99h1.96m-7.76 2h1.96m5.78 0h1.96m7.7 0h1.96m-.02 0h1.96m32.84 0h1.96m15.44 0h1.96m-106.36 1.99h1.96m27.04 0h1.96m-27.1 1.99h1.96m11.58 0h1.96m7.7 0h1.96m11.58 0h1.96m-.03 0h1.96m38.64 0h1.96m-83.16 1.99h1.96m-.03 0h1.96m63.78 2h1.96m40.57 0h1.96m-85.09 1.99h1.96m36.7 0h1.96m9.64 0h1.96m-40.62 1.99h1.96m-44.5 3.99h1.96m108.24 0h1.96m-71.56 1.99h1.96m-21.29 1.99h1.96m5.77 0h1.96m5.78 0h1.96m-32.9 2h1.96m25.11 0h1.96m46.37 0h1.96m1.91 0h1.96m-40.63 1.99h1.96m-1.96 3.98h1.96m32.84 0h1.96m13.51 0h1.96m-98.63 2h1.96m5.78 0h1.96m61.84 0h1.96m7.7 0h1.96m-38.69 7.97h1.96m42.51 1.99h1.96m90.84 1.99h1.96m-185.63 3.99h1.96m28.97 0h1.96m75.38 0h1.96m-98.63 1.99h1.96m42.51 0h1.96m5.77 0h1.96m3.84 0h1.96m40.57 0h1.96m-13.56 1.99h1.96m38.64 0h1.96m-119.89 3.99h1.96m28.97 0h1.96m90.84 1.99h1.96m21.24 1.99h1.96m-117.96 3.99h1.96m119.84 0h1.96m-.02 0h1.96m-.03 0h1.96m-146.96 1.99h1.96m46.37 0h1.96m69.58 3.99h1.96m-145.03 7.97h1.96m1.91 0h1.96m127.57 0h1.96m50.24 0h1.96m-175.96 5.98h1.96m-13.56 1.99h1.96m21.24 0h1.96m143.04 0h1.96m-36.76 5.98h1.96m-135.36 7.97h1.96m21.24 0h1.96m79.24 0h1.96m28.97 0h1.96m-143.09 5.98h1.96m30.91 1.99h1.96m-29.03 3.99h1.96m-3.89 3.98h1.96m166.24 0h1.96" stroke="#e78da5"/>
<path d="M278.93 220.40h1.96m69.58 0h1.96m-19.36 3.98h1.96m-13.56 3.99h1.96m104.37 0h1.96m-119.89 1.99h1.96m36.7 0h1.96m-1.96 1.99h1.96m98.58 0h1.96m-127.63 2h1.96m-27.09 1.99h1.96m9.64 0h1.96m38.64 0h1.96m7.7 1.99h1.96m69.58 0h1.96m-145.03 5.98h1.96m183.64 3.98h1.96m-175.96 3.99h1.96m15.44 0h1.96m13.51 1.99h1.96m-17.43 2h1.96m9.64 0h1.96m-3.89 5.97h1.96m-29.03 3.99h1.96m1.91 0h1.96m15.44 1.99h1.96m15.44 0h1.96m-38.7 7.97h1.96m19.31 2h1.96m143.04 0h1.96m-.03 0h1.96m-139.22 5.97h1.96m-7.76 3.99h1.96m17.37 27.9h1.96m32.84 5.98h1.96m9.64 0h1.96m-13.56 1.99h1.96m-106.36 1.99h1.96m98.57 0h1.96m-79.29 1.99h1.96m17.37 0h1.96m50.24 0h1.96m3.84 2h1.96m17.38 0h1.96m-32.9 3.98h1.96m9.64 1.99h1.96m-85.09 2h1.96m86.97 1.99h1.96m9.64 0h1.96m-112.16 1.99h1.96m19.31 0h1.96m17.37 0h1.96m40.58 2h1.96m3.84 1.99h1.96m13.5 1.99h1.96m-96.69 1.99h1.96m1.91 0h1.96m73.44 0h1.96m17.37 0h1.96m-23.23 2h1.96m-.02 0h1.96m34.77 0h1.96m-38.69 3.98h1.96m1.9 0h1.96m-102.49 1.99h1.96m27.04 0h1.96m63.77 0h1.96m-71.56 2h1.96m67.64 1.99h1.96m67.64 0h1.96m-1.96 1.99h1.96m-3.89 2h1.96m-102.49 1.99h1.96m-36.76 1.99h1.96m30.9 0h1.96m9.64 0h1.96m5.78 0h1.96m23.17 0h1.96m3.84 0h1.96m1.91 1.99h1.96m-.03 0h1.96m17.37 3.99h1.96m-98.62 7.97h1.96m38.64 0h1.96m83.1 1.99h1.96m-1.96 9.97h1.96m13.51 1.99h1.96m-3.89 13.95h1.96m15.44 13.95h1.96m-48.36 7.97h1.96m-1.96 1.99h1.96" stroke="#ed5763"/>
<path d="M280.87 220.40h1.96m7.7 0h1.96m73.44 1.99h1.96m-21.29 1.99h1.96m-52.23 5.98h1.96m1.91 1.99h1.96m-25.16 3.99h1.96m21.24 0h1.96m123.71 0h1.96m-127.63 9.96h1.96m3.84 0h1.96m3.84 3.99h1.96m11.57 0h1.96m11.58 1.99h1.96m-11.63 1.99h1.96m86.97 3.99h1.96m-83.16 1.99h1.96m36.71 0h1.96m-63.83 1.99h1.96m3.84 0h1.96m-11.62 5.98h1.96m-7.76 7.97h1.96m162.37 3.99h1.96m-164.36 3.98h1.96m28.97 0h1.96m-61.89 2h1.96m115.97 0h1.96m42.51 7.97h1.96m-102.49 5.98h1.96m-15.5 21.92h1.96m42.51 0h1.96m17.37 0h1.96m-13.56 15.94h1.96m-50.29 1.99h1.96m-48.36 1.99h1.96m38.64 2h1.96m-44.49 1.99h1.96m83.1 0h1.96m27.04 0h1.96m-29.02 1.99h1.96m1.9 0h1.96m-90.89 1.99h1.96m96.64 2h1.96m-15.49 1.99h1.96m13.5 3.98h1.96m-81.22 2h1.96m5.77 1.99h1.96m119.84 0h1.96m25.11 0h1.96m-88.96 9.96h1.96m27.04 2h1.96m34.77 15.94h1.96m-146.96 7.97h1.96m129.51 0h1.96m32.84 21.92h1.96m-129.56 15.94h1.96" stroke="#ed697b"/>
<path d="M282.80 220.40h1.96m19.31 0h1.96m143.04 0h1.96m-174.03 1.99h1.96m181.71 0h1.96m-139.23 1.99h1.96m73.44 0h1.96m1.91 0h1.96m27.04 0h1.96m21.24 0h1.96m-177.9 1.99h1.96m17.38 0h1.96m-11.63 5.98h1.96m-.03 0h1.96m52.18 0h1.96m54.1 0h1.96m-1.96 2h1.96m-123.76 1.99h1.96m92.78 0h1.96m34.77 0h1.96m-81.23 3.98h1.96m50.24 0h1.96m63.78 0h1.96m-117.96 2h1.96m13.5 0h1.96m13.51 0h1.96m-32.89 1.99h1.96m92.77 0h1.96m-152.76 1.99h1.96m30.91 0h1.96m19.3 0h1.96m9.64 0h1.96m30.91 0h1.96m67.64 0h1.96m-23.23 1.99h1.96m-139.22 3.99h1.96m170.1 0h1.96m-168.22 1.99h1.96m69.57 0h1.96m9.64 0h1.96m9.64 0h1.96m13.51 0h1.96m1.9 0h1.96m17.38 0h1.96m17.37 0h1.96m-133.43 2h1.96m3.84 0h1.96m27.04 0h1.96m114.04 0h1.96m-175.96 1.99h1.96m59.91 0h1.96m-.03 0h1.96m7.71 0h1.96m67.64 0h1.96m23.17 0h1.96m11.58 0h1.96m1.9 0h1.96m-148.89 1.99h1.96m96.64 0h1.96m-127.63 1.99h1.96m92.78 0h1.96m17.37 2h1.96m13.51 0h1.96m-156.63 1.99h1.96m67.64 0h1.96m-19.36 1.99h1.96m21.24 0h1.96m46.37 0h1.96m-54.16 1.99h1.96m5.78 0h1.96m44.44 0h1.96m-54.16 2h1.96m13.5 0h1.96m-.02 0h1.96m3.84 0h1.96m23.17 0h1.96m9.64 0h1.96m25.11 0h1.96m32.84 0h1.96m-195.3 1.99h1.96m21.24 0h1.96m44.44 0h1.96m46.38 0h1.96m5.77 0h1.96m-63.83 1.99h1.96m44.44 0h1.96m30.91 0h1.96m9.64 0h1.96m-141.16 2h1.96m50.24 0h1.96m52.17 0h1.96m46.38 0h1.96m-168.23 1.99h1.96m59.91 0h1.96m19.3 0h1.96m46.38 0h1.96m19.3 0h1.96m-46.42 1.99h1.96m40.57 0h1.96m-156.63 1.99h1.96m144.98 0h1.96m23.17 0h1.96m-110.23 2h1.96m15.44 0h1.96m7.71 0h1.96m92.77 0h1.96m-133.42 3.98h1.96m83.1 0h1.96m-100.56 3.99h1.96m25.11 0h1.96m115.97 0h1.96m5.78 0h1.96m-.03 0h1.96m-189.49 1.99h1.96m143.04 0h1.96m-154.7 3.99h1.96m11.58 0h1.96m90.84 0h1.96m21.24 0h1.96m5.77 0h1.96m19.31 0h1.96m19.3 0h1.96m-102.49 1.99h1.96m71.51 0h1.96m-96.7 1.99h1.96m-32.89 1.99h1.96m117.91 0h1.96m-.03 0h1.96m42.51 0h1.96m-96.7 2h1.96m1.91 0h1.96m-58.03 1.99h1.96m1.91 0h1.96m17.37 0h1.96m94.71 0h1.96m-168.23 1.99h1.96m17.38 1.99h1.96m1.9 0h1.96m42.51 0h1.96m15.44 0h1.96m7.71 0h1.96m30.9 0h1.96m-117.96 2h1.96m42.51 0h1.96m110.17 0h1.96m13.51 0h1.96m-143.09 1.99h1.96m34.77 0h1.96m61.84 0h1.96m-143.09 1.99h1.96m23.17 0h1.96m-17.43 2h1.96m75.38 1.99h1.96m54.1 0h1.96m-46.42 1.99h1.96m15.44 0h1.96m75.37 0h1.96m-73.49 1.99h1.96m-127.63 3.99h1.96m108.24 0h1.96m-71.56 1.99h1.96m38.64 0h1.96m19.31 0h1.96m-71.56 3.99h1.96m86.97 0h1.96m9.64 0h1.96m-100.56 3.98h1.96m-11.63 2h1.96m83.11 0h1.96m57.97 0h1.96m-94.76 1.99h1.96m5.78 0h1.96m-46.43 1.99h1.96m56.04 0h1.96m-15.49 3.99h1.96m27.04 0h1.96m-104.43 1.99h1.96m67.64 0h1.96m-75.43 1.99h1.96m-7.76 3.99h1.96m71.51 0h1.96m-5.83 1.99h1.96m-.02 0h1.96m-30.96 1.99h1.96m73.44 0h1.96m-85.1 3.99h1.96m83.11 0h1.96m21.24 0h1.96m-.03 0h1.96m28.98 1.99h1.96m-67.7 1.99h1.96m30.91 0h1.96m1.91 0h1.96m9.64 0h1.96m-75.43 2h1.96m-32.89 1.99h1.96m15.44 0h1.96m13.5 0h1.96m46.38 0h1.96m32.84 0h1.96m17.37 0h1.96m-150.83 1.99h1.96m25.11 0h1.96m3.84 0h1.96m17.37 0h1.96m9.64 0h1.96m17.38 0h1.96m-108.3 1.99h1.96m38.64 0h1.96m5.78 0h1.96m42.5 0h1.96m-.02 0h1.96m1.9 0h1.96m-77.36 3.99h1.96m13.51 0h1.96m3.84 0h1.96m90.84 0h1.96m-88.96 1.99h1.96m32.84 0h1.96m27.04 0h1.96m5.77 0h1.96m-137.29 2h1.96m30.91 0h1.96m25.1 0h1.96m3.84 0h1.96m44.44 0h1.96m38.64 0h1.96m28.98 0h1.96m-179.83 1.99h1.96m21.24 0h1.96m23.17 0h1.96m79.24 0h1.96m1.91 3.98h1.96m1.91 0h1.96m-125.7 3.99h1.96m1.91 0h1.96m23.17 0h1.96m36.71 0h1.96m-.03 0h1.96m28.98 0h1.96m34.77 0h1.96m27.04 0h1.96m-48.36 1.99h1.96m7.71 0h1.96m-96.7 1.99h1.96m88.91 0h1.96m-32.89 2h1.96m-40.63 1.99h1.96m28.97 0h1.96m-112.16 1.99h1.96m34.78 0h1.96m7.7 0h1.96m38.64 0h1.96m27.04 0h1.96m1.91 0h1.96m-90.89 2h1.96m48.3 0h1.96m-15.49 5.97h1.96m110.17 0h1.96m-104.42 2h1.96m96.64 0h1.96m3.84 0h1.96m-143.1 1.99h1.96m34.78 0h1.96m5.77 0h1.96m3.84 0h1.96m5.77 0h1.96m65.71 0h1.96m-162.43 1.99h1.96m44.44 0h1.96m67.64 0h1.96m-52.22 1.99h1.96m30.9 0h1.96m9.64 0h1.96m32.84 0h1.96m28.98 0h1.96m-96.7 2h1.96m92.78 3.98h1.96m-121.83 2h1.96m17.37 0h1.96m-69.62 1.99h1.96m-.03 0h1.96m42.51 0h1.96m11.57 0h1.96m57.97 0h1.96m30.91 0h1.96m7.71 0h1.96m-175.96 1.99h1.96m27.04 0h1.96m63.77 0h1.96m9.64 0h1.96m48.31 0h1.96m7.7 0h1.96m-154.69 1.99h1.96m1.91 0h1.96m73.44 0h1.96m19.3 0h1.96m59.91 0h1.96" stroke="#c39fcf"/>
<path d="M284.73 220.40h1.96m11.58 0h1.96m-.03 0h1.96m15.44 0h1.96m94.71 0h1.96m38.64 0h1.96m-81.23 1.99h1.96m44.44 0h1.96m-38.69 1.99h1.96m-.03 0h1.96m1.91 0h1.96m-.03 0h1.96m23.17 0h1.96m19.31 0h1.96m1.91 0h1.96m7.7 0h1.96m-148.89 1.99h1.96m19.31 0h1.96m56.04 2h1.96m11.57 0h1.96m7.71 0h1.96m57.97 0h1.96m-129.56 3.98h1.96m48.31 0h1.96m3.84 0h1.96m-54.16 2h1.96m40.57 0h1.96m-.03 0h1.96m23.18 0h1.96m-87.03 1.99h1.96m21.24 0h1.96m5.77 0h1.96m7.71 0h1.96m81.17 0h1.96m11.58 0h1.96m-191.43 1.99h1.96m13.51 0h1.96m-.03 0h1.96m114.04 0h1.96m13.51 0h1.96m-40.63 1.99h1.96m3.84 0h1.96m-.03 0h1.96m-.02 0h1.96m3.84 0h1.96m-.03 0h1.96m27.04 0h1.96m28.97 0h1.96m-150.82 2h1.96m19.3 0h1.96m48.31 0h1.96m7.71 0h1.96m9.64 0h1.96m3.84 0h1.96m32.84 0h1.96m1.9 0h1.96m19.31 0h1.96m-197.23 1.99h1.96m30.91 0h1.96m15.44 0h1.96m15.44 0h1.96m77.31 0h1.96m-81.23 1.99h1.96m48.31 0h1.96m5.77 0h1.96m69.57 0h1.96m-129.56 1.99h1.96m34.78 0h1.96m13.5 0h1.96m19.31 0h1.96m-141.16 2h1.96m3.84 0h1.96m46.37 0h1.96m48.31 0h1.96m21.24 0h1.96m9.64 0h1.96m38.64 0h1.96m-143.09 1.99h1.96m3.84 0h1.96m19.3 0h1.96m3.84 0h1.96m-.02 0h1.96m17.37 0h1.96m52.17 0h1.96m-.02 0h1.96m38.64 0h1.96m-139.23 1.99h1.96m11.57 0h1.96m9.64 0h1.96m34.78 0h1.96m56.04 0h1.96m5.77 0h1.96m7.71 0h1.96m-197.23 2h1.96m67.64 0h1.96m73.44 0h1.96m38.64 0h1.96m-121.83 1.99h1.96m30.91 0h1.96m1.91 0h1.96m9.64 0h1.96m44.44 0h1.96m25.1 0h1.96m-177.89 1.99h1.96m54.11 0h1.96m23.17 0h1.96m1.91 0h1.96m28.97 0h1.96m1.91 0h1.96m36.7 0h1.96m17.38 0h1.96m-.03 0h1.96m-187.56 1.99h1.96m30.91 0h1.96m112.1 0h1.96m-.02 0h1.96m15.44 0h1.96m-158.56 2h1.96m50.24 0h1.96m34.77 0h1.96m11.57 0h1.96m11.58 0h1.96m19.3 0h1.96m13.51 0h1.96m3.84 0h1.96m3.84 0h1.96m3.84 0h1.96m-123.76 1.99h1.96m69.57 0h1.96m-125.69 1.99h1.96m56.04 0h1.96m42.51 0h1.96m21.24 0h1.96m40.57 0h1.96m-114.09 1.99h1.96m38.64 0h1.96m21.24 0h1.96m11.57 0h1.96m46.37 0h1.96m-.02 0h1.96m-.03 0h1.96m-193.36 2h1.96m13.51 0h1.96m44.44 0h1.96m11.57 0h1.96m75.37 0h1.96m11.58 0h1.96m-174.03 1.99h1.96m65.71 0h1.96m56.04 0h1.96m13.5 0h1.96m44.44 0h1.96m-172.09 1.99h1.96m56.04 2h1.96m5.77 0h1.96m13.51 0h1.96m7.71 0h1.96m7.7 0h1.96m21.24 0h1.96m-9.69 1.99h1.96m7.71 0h1.96m17.37 0h1.96m1.91 0h1.96m-166.3 1.99h1.96m94.71 0h1.96m36.71 0h1.96m13.5 0h1.96m-50.29 1.99h1.96m17.37 0h1.96m21.24 0h1.96m5.78 0h1.96m-150.83 2h1.96m81.17 0h1.96m88.91 0h1.96m-58.03 1.99h1.96m9.64 0h1.96m-131.49 1.99h1.96m30.91 0h1.96m38.64 0h1.96m-65.76 1.99h1.96m17.37 0h1.96m19.31 0h1.96m40.57 0h1.96m5.77 0h1.96m-.02 0h1.96m88.9 0h1.96m-195.29 2h1.96m25.11 0h1.96m9.64 0h1.96m67.64 0h1.96m48.3 0h1.96m34.78 0h1.96m-104.43 1.99h1.96m44.44 0h1.96m3.84 0h1.96m-5.83 1.99h1.96m-148.89 2h1.96m86.97 0h1.96m50.24 0h1.96m9.64 0h1.96m-152.76 1.99h1.96m141.11 0h1.96m13.51 0h1.96m-100.56 1.99h1.96m19.3 0h1.96m38.64 0h1.96m-34.82 1.99h1.96m13.5 0h1.96m1.91 0h1.96m-.03 0h1.96m11.58 0h1.96m50.24 0h1.96m-158.56 2h1.96m-.03 0h1.96m40.57 0h1.96m3.84 0h1.96m9.64 0h1.96m7.71 0h1.96m-.03 0h1.96m71.51 0h1.96m7.71 0h1.96m-175.96 1.99h1.96m115.97 0h1.96m28.97 0h1.96m19.31 0h1.96m7.71 0h1.96m3.84 0h1.96m-.03 0h1.96m-137.29 1.99h1.96m13.5 0h1.96m83.11 0h1.96m-129.56 1.99h1.96m71.51 0h1.96m5.77 0h1.96m15.44 0h1.96m1.91 0h1.96m-116.03 2h1.96m15.44 0h1.96m7.71 0h1.96m65.7 0h1.96m19.31 0h1.96m5.77 0h1.96m7.71 0h1.96m13.51 0h1.96m-.03 0h1.96m21.24 0h1.96m-.03 0h1.96m1.91 0h1.96m1.91 0h1.96m-195.3 1.99h1.96m117.91 0h1.96m21.24 0h1.96m-.03 0h1.96m17.38 0h1.96m-135.36 1.99h1.96m83.1 0h1.96m5.78 0h1.96m38.64 0h1.96m-102.5 2h1.96m3.84 0h1.96m3.84 0h1.96m71.51 0h1.96m13.51 0h1.96m7.7 0h1.96m-152.76 1.99h1.96m15.44 0h1.96m27.04 0h1.96m-.02 0h1.96m56.04 0h1.96m13.5 0h1.96m17.38 0h1.96m11.57 0h1.96m1.91 0h1.96m3.84 0h1.96m-177.9 1.99h1.96m-17.42 3.99h1.96m38.64 0h1.96m131.44 0h1.96m-145.03 1.99h1.96m88.91 3.98h1.96m-77.36 2h1.96m23.17 0h1.96m-1.96 1.99h1.96m21.24 1.99h1.96m-79.29 2h1.96m139.17 0h1.96m34.77 0h1.96m-156.62 1.99h1.96m34.77 0h1.96m15.44 0h1.96m-85.09 1.99h1.96m27.04 1.99h1.96m25.1 0h1.96m52.18 0h1.96m52.17 0h1.96m-88.96 2h1.96m83.11 0h1.96m-162.43 1.99h1.96m3.84 0h1.96m59.91 0h1.96m40.57 0h1.96m56.04 0h1.96m-175.96 1.99h1.96m11.57 0h1.96m1.91 0h1.96m13.51 0h1.96m34.77 0h1.96m15.44 0h1.96m-58.03 1.99h1.96m-.02 0h1.96m-38.7 2h1.96m1.91 0h1.96m-3.89 1.99h1.96m115.97 0h1.96m3.84 0h1.96m-125.69 1.99h1.96m9.64 0h1.96m83.1 0h1.96m90.84 0h1.96m-189.49 2h1.96m42.51 0h1.96m123.7 0h1.96m-160.49 3.98h1.96m112.11 0h1.96m50.24 0h1.96m-7.76 1.99h1.96m-40.63 2h1.96m36.71 0h1.96m3.84 0h1.96m-170.16 1.99h1.96m13.5 0h1.96m46.38 0h1.96m13.5 0h1.96m9.64 0h1.96m13.51 0h1.96m28.97 0h1.96m7.71 0h1.96m-139.23 1.99h1.96m98.58 0h1.96m7.7 0h1.96m34.78 0h1.96m13.5 0h1.96m1.91 0h1.96m-117.96 1.99h1.96m7.71 0h1.96m15.44 0h1.96m-.03 0h1.96m11.57 0h1.96m11.58 0h1.96m1.9 0h1.96m9.64 0h1.96m5.78 0h1.96m5.77 0h1.96m3.84 0h1.96m15.44 0h1.96m3.84 0h1.96m-139.23 2h1.96m-42.56 1.99h1.96m5.78 0h1.96m57.97 0h1.96m48.31 0h1.96m30.9 0h1.96m1.91 0h1.96m-174.03 1.99h1.96m34.78 0h1.96m25.1 0h1.96m5.78 0h1.96m11.57 0h1.96m28.97 0h1.96m7.71 0h1.96m48.31 0h1.96m-162.43 2h1.96m79.24 0h1.96m13.51 0h1.96m-.03 0h1.96m13.51 0h1.96m1.9 0h1.96m38.64 0h1.96m3.84 0h1.96m13.51 0h1.96m-183.69 1.99h1.96m36.7 0h1.96m27.04 0h1.96m1.91 0h1.96m30.91 0h1.96m11.57 0h1.96m-.03 0h1.96m5.78 0h1.96m13.5 0h1.96m30.91 0h1.96m-146.96 1.99h1.96m5.77 0h1.96m92.78 0h1.96m-150.83 1.99h1.96m121.77 0h1.96m28.98 0h1.96m-5.83 2h1.96m-.03 0h1.96m-150.82 1.99h1.96m28.97 0h1.96m1.91 0h1.96m19.3 0h1.96m13.51 0h1.96m11.57 0h1.96m42.51 0h1.96m32.84 0h1.96m23.17 0h1.96m-.02 0h1.96m-158.56 1.99h1.96m79.24 0h1.96m-92.83 1.99h1.96m32.84 0h1.96m71.51 0h1.96m7.7 0h1.96m48.31 0h1.96m-199.16 2h1.96m83.11 0h1.96m38.64 0h1.96m17.37 0h1.96m-.03 0h1.96m-119.89 1.99h1.96m13.51 0h1.96m27.04 0h1.96m27.04 0h1.96m13.5 0h1.96m1.91 0h1.96m48.31 0h1.96m-162.43 1.99h1.96m30.91 0h1.96m7.7 0h1.96m1.91 0h1.96m5.77 0h1.96m36.71 0h1.96m21.24 0h1.96m7.71 0h1.96m21.24 0h1.96m7.7 0h1.96m-156.62 2h1.96m-.03 0h1.96m19.31 0h1.96m9.64 0h1.96m-.03 0h1.96m17.37 0h1.96m-27.09 1.99h1.96m5.77 0h1.96m-.02 0h1.96m92.77 0h1.96m-150.83 3.98h1.96m1.91 0h1.96m9.64 0h1.96m5.77 0h1.96m27.04 0h1.96m9.64 0h1.96m11.58 0h1.96m1.9 0h1.96m17.38 0h1.96m13.5 0h1.96m54.11 0h1.96m-152.76 2h1.96m38.64 0h1.96m25.11 0h1.96m15.44 0h1.96m-.03 0h1.96m28.97 0h1.96m15.44 0h1.96m-152.76 1.99h1.96m129.51 0h1.96m3.84 0h1.96m52.17 0h1.96m-199.16 1.99h1.96m69.58 0h1.96m27.04 0h1.96m42.5 0h1.96m25.11 0h1.96m-162.43 1.99h1.96m38.64 0h1.96m7.71 0h1.96m13.51 0h1.96m5.77 0h1.96m65.71 0h1.96m-139.23 2h1.96m1.91 0h1.96m9.64 0h1.96m3.84 0h1.96m32.84 0h1.96m9.64 0h1.96m3.84 0h1.96m61.84 0h1.96m-156.63 1.99h1.96m63.77 0h1.96m-21.29 1.99h1.96m5.77 0h1.96m1.91 0h1.96m-.03 2h1.96m17.38 0h1.96m-81.23 1.99h1.96m79.24 0h1.96m17.37 0h1.96m7.71 0h1.96m25.11 0h1.96m32.84 0h1.96m-172.1 1.99h1.96m7.71 0h1.96m17.37 0h1.96m7.71 0h1.96m9.64 0h1.96m28.97 0h1.96m-.02 0h1.96m5.77 0h1.96m5.77 0h1.96m54.11 0h1.96m7.71 0h1.96m23.17 0h1.96m7.71 0h1.96m-187.56 1.99h1.96m15.44 0h1.96m30.9 0h1.96m-.02 0h1.96m3.84 0h1.96m44.44 0h1.96m3.84 0h1.96m9.64 0h1.96m36.7 0h1.96" stroke="#bd99cf"/>
<path d="M286.67 220.40h1.96m-1.96 1.99h1.96m36.7 0h1.96m-34.82 1.99h1.96m54.1 0h1.96m38.64 0h1.96m36.71 0h1.96m30.91 0h1.96m-179.83 1.99h1.96m5.77 0h1.96m-.02 0h1.96m5.77 0h1.96m44.44 0h1.96m-48.36 2h1.96m-.03 1.99h1.96m11.58 0h1.96m106.3 1.99h1.96m-79.29 2h1.96m13.51 0h1.96m108.24 0h1.96m-160.5 1.99h1.96m3.84 0h1.96m100.51 0h1.96m46.37 0h1.96m-170.16 1.99h1.96m125.64 0h1.96m-98.62 1.99h1.96m81.17 2h1.96m-102.49 7.97h1.96m-5.83 1.99h1.96m1.91 0h1.96m5.77 0h1.96m96.64 0h1.96m-112.16 1.99h1.96m7.71 0h1.96m-1.96 2h1.96m-30.96 1.99h1.96m9.64 0h1.96m3.84 0h1.96m3.84 0h1.96m110.17 0h1.96m36.71 0h1.96m-75.43 1.99h1.96m-75.43 3.99h1.96m-.02 0h1.96m102.44 5.97h1.96m-110.23 2h1.96m143.04 0h1.96m5.77 0h1.96m-166.29 1.99h1.96m1.91 0h1.96m-1.96 1.99h1.96m7.7 0h1.96m139.18 0h1.96m-185.63 3.99h1.96m40.57 0h1.96m7.71 0h1.96m17.37 0h1.96m7.71 0h1.96m38.64 0h1.96m1.91 0h1.96m13.5 0h1.96m42.51 0h1.96m-38.69 1.99h1.96m-92.83 1.99h1.96m-32.89 3.99h1.96m94.7 3.98h1.96m-112.16 2h1.96m15.44 0h1.96m50.24 0h1.96m63.78 1.99h1.96m21.24 9.96h1.96m-150.83 7.97h1.96m56.04 0h1.96m-36.76 2h1.96m-.03 1.99h1.96m-.02 0h1.96m-.03 0h1.96m-52.23 1.99h1.96m56.04 0h1.96m121.78 2h1.96m-185.63 1.99h1.96m40.57 0h1.96m27.04 0h1.96m27.04 0h1.96m11.58 0h1.96m-65.76 1.99h1.96m-50.3 1.99h1.96m30.91 0h1.96m-36.76 2h1.96m11.57 0h1.96m5.78 0h1.96m81.17 0h1.96m7.71 0h1.96m-75.43 1.99h1.96m-32.89 1.99h1.96m1.9 0h1.96m13.51 0h1.96m3.84 0h1.96m5.77 0h1.96m-32.89 1.99h1.96m38.64 0h1.96m34.77 0h1.96m-1.96 2h1.96m-77.36 1.99h1.96m30.91 0h1.96m34.77 0h1.96m1.91 0h1.96m11.57 0h1.96m-46.42 1.99h1.96m15.44 0h1.96m-42.56 2h1.96m-25.16 1.99h1.96m3.84 0h1.96m73.44 0h1.96m19.3 0h1.96m5.78 0h1.96m-117.96 1.99h1.96m21.24 0h1.96m42.5 0h1.96m11.58 0h1.96m-87.03 1.99h1.96m83.11 0h1.96m-40.63 2h1.96m-48.36 1.99h1.96m85.04 1.99h1.96m1.91 0h1.96m17.37 0h1.96m-110.23 1.99h1.96m17.38 0h1.96m56.04 0h1.96m27.04 0h1.96m-63.83 3.99h1.96m56.04 0h1.96m15.44 0h1.96m69.57 0h1.96m-160.49 1.99h1.96m65.71 0h1.96m9.64 0h1.96m42.5 2h1.96m5.78 0h1.96m-166.3 1.99h1.96m34.78 0h1.96m46.37 0h1.96m13.51 0h1.96m-104.43 1.99h1.96m-.03 0h1.96m13.51 0h1.96m15.44 0h1.96m69.57 0h1.96m15.44 0h1.96m-44.49 1.99h1.96m63.77 2h1.96m-15.49 1.99h1.96m-112.16 1.99h1.96m112.11 3.99h1.96m23.17 1.99h1.96m30.91 0h1.96m-44.5 1.99h1.96m17.38 3.99h1.96m-3.9 1.99h1.96m-116.02 5.98h1.96m119.84 5.98h1.96m-30.96 3.98h1.96m-148.9 2h1.96m175.91 0h1.96m-7.76 3.98h1.96m3.84 0h1.96m-114.09 3.99h1.96m-23.23 1.99h1.96m5.77 0h1.96m-44.49 1.99h1.96m19.31 0h1.96m5.77 0h1.96m-27.09 1.99h1.96m11.57 2h1.96m-25.16 1.99h1.96m25.11 0h1.96m-25.16 5.98h1.96m-5.83 1.99h1.96m61.84 0h1.96m104.37 0h1.96" stroke="#e7879f"/>
<path d="M288.60 220.40h1.96m17.37 0h1.96m15.44 0h1.96m131.44 0h1.96m-166.29 1.99h1.96m27.04 0h1.96m-23.23 1.99h1.96m27.04 0h1.96m67.64 0h1.96m5.78 0h1.96m34.77 0h1.96m-137.29 1.99h1.96m3.84 0h1.96m13.5 0h1.96m-46.42 2h1.96m5.77 0h1.96m-.03 0h1.96m3.84 0h1.96m5.78 0h1.96m5.77 0h1.96m112.11 1.99h1.96m-131.5 1.99h1.96m85.04 0h1.96m1.91 0h1.96m57.97 0h1.96m-160.49 2h1.96m11.57 0h1.96m112.11 0h1.96m-34.83 1.99h1.96m81.18 0h1.96m-197.23 5.98h1.96m44.44 0h1.96m-.03 3.98h1.96m104.38 0h1.96m-116.03 1.99h1.96m106.31 0h1.96m-125.7 2h1.96m156.58 0h1.96m-185.63 1.99h1.96m81.17 0h1.96m-54.16 1.99h1.96m36.71 0h1.96m86.97 2h1.96m-96.69 1.99h1.96m61.84 0h1.96m3.84 0h1.96m44.44 0h1.96m3.84 0h1.96m5.77 0h1.96m-179.82 1.99h1.96m52.17 0h1.96m50.24 0h1.96m25.11 0h1.96m-27.1 3.99h1.96m-81.22 1.99h1.96m102.44 1.99h1.96m-125.7 1.99h1.96m96.64 0h1.96m57.98 0h1.96m-160.5 2h1.96m44.44 0h1.96m1.91 0h1.96m1.91 0h1.96m1.9 0h1.96m-.02 0h1.96m61.84 3.98h1.96m3.84 0h1.96m-145.03 2h1.96m44.44 0h1.96m71.51 0h1.96m-59.96 1.99h1.96m1.9 0h1.96m5.78 0h1.96m7.7 0h1.96m30.91 0h1.96m38.64 0h1.96m11.57 0h1.96m-116.02 1.99h1.96m77.3 0h1.96m-139.22 3.99h1.96m25.1 0h1.96m25.11 0h1.96m11.57 0h1.96m1.91 0h1.96m94.71 0h1.96m-133.43 1.99h1.96m100.51 0h1.96m-135.36 1.99h1.96m106.3 0h1.96m-75.42 1.99h1.96m9.64 0h1.96m-54.16 2h1.96m86.97 0h1.96m52.17 0h1.96m27.04 0h1.96m-36.76 1.99h1.96m-.02 3.99h1.96m32.84 0h1.96m-34.83 1.99h1.96m-129.56 1.99h1.96m56.04 1.99h1.96m71.51 0h1.96m27.04 0h1.96m11.57 0h1.96m-145.03 2h1.96m90.84 0h1.96m3.84 0h1.96m-154.69 1.99h1.96m57.97 3.98h1.96m9.64 0h1.96m27.04 0h1.96m1.91 0h1.96m13.51 0h1.96m1.9 0h1.96m73.44 0h1.96m-199.16 2h1.96m75.38 0h1.96m114.04 0h1.96m-116.03 3.98h1.96m-32.89 2h1.96m13.5 0h1.96m21.24 0h1.96m61.84 0h1.96m-141.16 1.99h1.96m25.11 0h1.96m7.71 0h1.96m56.04 0h1.96m9.64 0h1.96m3.84 1.99h1.96m-127.63 1.99h1.96m27.04 0h1.96m7.71 0h1.96m38.64 0h1.96m28.97 0h1.96m11.57 2h1.96m-98.62 1.99h1.96m96.64 0h1.96m-121.83 1.99h1.96m69.57 0h1.96m42.51 0h1.96m-102.49 1.99h1.96m13.5 0h1.96m1.91 0h1.96m42.51 0h1.96m-83.16 2h1.96m1.9 0h1.96m36.71 0h1.96m3.84 0h1.96m-34.83 1.99h1.96m7.71 0h1.96m42.51 0h1.96m27.04 0h1.96m15.44 0h1.96m-119.9 1.99h1.96m75.38 2h1.96m42.5 1.99h1.96m-48.36 1.99h1.96m-67.69 1.99h1.96m17.37 0h1.96m1.91 0h1.96m19.31 0h1.96m23.17 0h1.96m-65.76 2h1.96m11.57 0h1.96m9.64 0h1.96m-.02 0h1.96m79.24 0h1.96m-56.1 1.99h1.96m-27.09 1.99h1.96m73.44 0h1.96m-116.03 1.99h1.96m-.02 0h1.96m-.03 0h1.96m-.03 0h1.96m83.11 0h1.96m13.51 0h1.96m-59.96 3.99h1.96m17.37 0h1.96m30.91 0h1.96m61.84 0h1.96m-.03 0h1.96m5.77 0h1.96m5.78 0h1.96m-187.56 1.99h1.96m69.57 0h1.96m27.04 0h1.96m3.84 0h1.96m27.04 0h1.96m-106.36 2h1.96m-29.03 1.99h1.96m40.58 0h1.96m32.84 0h1.96m13.5 0h1.96m3.84 0h1.96m-71.56 1.99h1.96m5.78 0h1.96m44.44 0h1.96m9.64 0h1.96m3.84 0h1.96m5.77 0h1.96m1.91 0h1.96m17.37 0h1.96m5.77 0h1.96m-59.96 1.99h1.96m5.78 2h1.96m42.5 0h1.96m-59.96 1.99h1.96m19.31 0h1.96m79.24 0h1.96m-.03 0h1.96m-179.82 1.99h1.96m5.77 0h1.96m63.77 0h1.96m32.84 0h1.96m42.51 0h1.96m17.37 0h1.96m-160.49 1.99h1.96m170.11 0h1.96m-56.1 2h1.96m-75.42 1.99h1.96m3.84 0h1.96m17.37 0h1.96m1.91 0h1.96m15.44 0h1.96m-.03 0h1.96m3.84 0h1.96m7.71 0h1.96m34.77 0h1.96m23.17 0h1.96m-44.49 1.99h1.96m-106.36 2h1.96m79.24 0h1.96m-81.23 1.99h1.96m100.51 0h1.96m-3.89 5.98h1.96m-67.7 1.99h1.96m1.91 0h1.96m59.91 3.98h1.96m21.24 0h1.96m-21.3 2h1.96m-98.62 1.99h1.96m86.97 0h1.96m1.91 0h1.96m38.64 5.98h1.96m-156.63 3.98h1.96m-25.16 2h1.96m23.17 0h1.96m52.18 1.99h1.96m38.64 0h1.96m9.64 0h1.96m9.64 0h1.96m15.44 0h1.96m-94.76 1.99h1.96m1.9 0h1.96m63.78 0h1.96m32.84 0h1.96m-154.7 1.99h1.96m9.64 0h1.96m23.18 2h1.96m-46.43 1.99h1.96m57.97 0h1.96m-79.29 3.99h1.96m23.17 0h1.96m34.78 0h1.96m-29.03 1.99h1.96m11.57 0h1.96m1.91 0h1.96m71.51 0h1.96m-114.1 1.99h1.96m13.51 0h1.96m21.24 0h1.96m-.03 0h1.96m9.64 0h1.96m15.44 0h1.96m73.44 0h1.96m19.31 0h1.96m-88.96 1.99h1.96m85.04 0h1.96" stroke="#d59fc9"/>
<path d="M292.47 220.40h1.96m-7.76 9.96h1.96m189.44 0h1.96m-152.76 1.99h1.96m19.3 2h1.96m-46.42 15.94h1.96m1.9 0h1.96m9.64 0h1.96m3.84 1.99h1.96m-17.42 1.99h1.96m19.3 0h1.96m-1.96 2h1.96m-15.49 1.99h1.96m106.31 0h1.96m23.17 7.97h1.96m-125.69 1.99h1.96m9.64 3.99h1.96m-32.9 1.99h1.96m7.71 1.99h1.96m154.64 2h1.96m-160.49 1.99h1.96m7.7 1.99h1.96m-15.49 1.99h1.96m3.84 0h1.96m-15.49 2h1.96m25.1 1.99h1.96m-.02 0h1.96m88.9 5.98h1.96m-63.82 23.91h1.96m-61.9 7.97h1.96m-9.69 3.99h1.96m69.57 1.99h1.96m23.18 0h1.96m-100.56 11.96h1.96m27.04 0h1.96m-23.23 3.98h1.96m61.84 0h1.96m-42.56 1.99h1.96m52.17 0h1.96m-15.49 2h1.96m-.03 0h1.96m15.44 0h1.96m-3.89 5.97h1.96m-9.69 2h1.96m5.77 0h1.96m-.03 1.99h1.96m15.44 5.98h1.96m-92.82 1.99h1.96m83.1 0h1.96m-30.96 3.99h1.96m92.78 1.99h1.96m-40.63 5.98h1.96m1.91 0h1.96m13.5 9.96h1.96m-13.56 5.98h1.96m-87.02 25.9h1.96m1.9 0h1.96m123.71 2h1.96" stroke="#ed636f"/>
<path d="M294.40 220.40h1.96m15.44 0h1.96m7.71 0h1.96m40.57 0h1.96m-52.23 1.99h1.96m-29.02 1.99h1.96m11.57 0h1.96m21.24 5.98h1.96m146.91 0h1.96m-143.1 1.99h1.96m9.64 0h1.96m11.58 0h1.96m44.44 0h1.96m63.77 0h1.96m-.03 0h1.96m-.02 0h1.96m-104.43 2h1.96m-83.16 1.99h1.96m17.37 0h1.96m65.71 0h1.96m7.71 0h1.96m15.44 0h1.96m63.77 1.99h1.96m-133.43 1.99h1.96m46.38 0h1.96m-61.9 2h1.96m96.64 1.99h1.96m34.78 0h1.96m-98.63 1.99h1.96m50.24 0h1.96m48.31 0h1.96m-168.23 1.99h1.96m125.64 3.99h1.96m25.11 0h1.96m-141.16 1.99h1.96m106.3 0h1.96m-32.89 3.99h1.96m79.24 0h1.96m-94.76 1.99h1.96m-.03 0h1.96m5.78 0h1.96m69.57 0h1.96m-143.09 9.96h1.96m-32.9 2h1.96m27.04 0h1.96m50.24 0h1.96m17.38 0h1.96m7.7 0h1.96m15.44 0h1.96m-143.09 3.98h1.96m30.91 3.99h1.96m44.44 0h1.96m32.84 0h1.96m19.3 0h1.96m-92.82 1.99h1.96m3.84 1.99h1.96m-1.96 2h1.96m21.24 0h1.96m44.44 0h1.96m11.57 0h1.96m11.57 0h1.96m23.18 0h1.96m21.24 0h1.96m-.03 0h1.96m1.91 0h1.96m-170.16 1.99h1.96m152.7 1.99h1.96m-187.56 1.99h1.96m148.84 0h1.96m19.31 0h1.96m-158.56 2h1.96m1.91 0h1.96m56.04 0h1.96m-.03 0h1.96m25.11 0h1.96m9.64 0h1.96m11.57 0h1.96m56.04 0h1.96m-133.43 1.99h1.96m36.71 3.99h1.96m77.31 0h1.96m-164.36 5.97h1.96m38.64 0h1.96m81.17 0h1.96m-15.49 2h1.96m48.3 0h1.96m-54.16 3.98h1.96m-90.89 1.99h1.96m27.04 0h1.96m114.04 0h1.96m-133.43 2h1.96m25.11 0h1.96m27.04 0h1.96m30.91 0h1.96m-.03 0h1.96m5.77 0h1.96m-146.96 1.99h1.96m9.64 0h1.96m-15.49 1.99h1.96m144.97 0h1.96m-145.02 2h1.96m144.97 0h1.96m-42.56 1.99h1.96m38.64 0h1.96m30.91 0h1.96m-116.03 1.99h1.96m11.57 0h1.96m9.64 0h1.96m9.64 0h1.96m-81.22 1.99h1.96m7.7 0h1.96m-13.56 2h1.96m9.64 0h1.96m83.11 0h1.96m-121.83 1.99h1.96m13.51 0h1.96m-11.63 1.99h1.96m15.44 0h1.96m23.18 0h1.96m27.04 0h1.96m-71.56 1.99h1.96m30.9 0h1.96m30.91 0h1.96m38.64 0h1.96m-73.49 2h1.96m56.04 0h1.96m-63.83 1.99h1.96m46.37 0h1.96m-90.89 1.99h1.96m98.57 0h1.96m19.31 0h1.96m-123.76 2h1.96m15.44 0h1.96m9.64 0h1.96m-.03 0h1.96m9.64 0h1.96m36.71 0h1.96m-58.03 1.99h1.96m9.64 0h1.96m17.38 0h1.96m13.5 0h1.96m36.71 0h1.96m9.64 0h1.96m-73.49 1.99h1.96m54.1 0h1.96m-104.42 1.99h1.96m30.9 0h1.96m-38.69 2h1.96m69.57 0h1.96m13.51 1.99h1.96m36.71 1.99h1.96m-25.16 1.99h1.96m-88.96 2h1.96m5.77 0h1.96m30.91 0h1.96m21.24 0h1.96m7.7 0h1.96m-67.69 1.99h1.96m23.17 0h1.96m-19.36 1.99h1.96m21.24 0h1.96m34.78 0h1.96m19.3 0h1.96m28.98 0h1.96m28.97 0h1.96m5.77 0h1.96m5.78 0h1.96m-168.23 2h1.96m-9.69 1.99h1.96m52.17 0h1.96m7.71 0h1.96m44.44 0h1.96m-114.1 1.99h1.96m25.11 0h1.96m38.64 0h1.96m19.31 1.99h1.96m-21.3 2h1.96m46.38 0h1.96m3.84 0h1.96m56.04 1.99h1.96m-117.96 1.99h1.96m-34.83 1.99h1.96m-19.36 3.99h1.96m54.11 0h1.96m-75.43 1.99h1.96m32.84 0h1.96m5.77 0h1.96m81.18 0h1.96m-116.03 3.99h1.96m69.57 0h1.96m-83.16 7.97h1.96m63.78 0h1.96m38.64 0h1.96m-15.5 3.98h1.96m44.44 0h1.96m34.78 0h1.96m-108.3 3.99h1.96m67.64 0h1.96m-46.42 1.99h1.96m79.24 0h1.96m-67.7 2h1.96m52.18 0h1.96m-30.96 3.98h1.96m-77.36 3.99h1.96m71.5 0h1.96m-117.96 1.99h1.96m11.58 0h1.96m23.17 0h1.96m3.84 0h1.96m73.44 0h1.96m-81.23 1.99h1.96m71.51 0h1.96m50.24 1.99h1.96m-199.16 2h1.96m-.03 0h1.96m36.71 0h1.96m40.57 0h1.96m-27.09 1.99h1.96m-52.23 1.99h1.96m61.84 2h1.96m-50.29 1.99h1.96m44.44 0h1.96m-.03 0h1.96m13.51 0h1.96m25.11 0h1.96m-100.56 1.99h1.96m30.9 0h1.96m13.51 0h1.96m54.11 0h1.96m30.9 0h1.96m17.38 0h1.96m-174.03 1.99h1.96m148.84 0h1.96" stroke="#db9fc3"/>
<path d="M296.33 220.40h1.96m13.51 3.98h1.96m13.51 0h1.96m-3.9 1.99h1.96m5.78 2h1.96m28.97 3.98h1.96m88.91 0h1.96m-123.76 3.99h1.96m61.84 0h1.96m13.5 0h1.96m61.84 0h1.96m-156.62 1.99h1.96m100.5 3.99h1.96m3.84 3.98h1.96m38.64 1.99h1.96m-179.82 2h1.96m90.84 1.99h1.96m17.37 0h1.96m-73.49 5.98h1.96m63.77 0h1.96m11.57 0h1.96m-98.62 1.99h1.96m3.84 11.96h1.96m106.3 0h1.96m42.51 0h1.96m-183.69 1.99h1.96m133.37 0h1.96m-108.29 1.99h1.96m21.24 0h1.96m1.9 0h1.96m-21.29 2h1.96m85.04 0h1.96m13.51 0h1.96m17.37 0h1.96m-156.63 1.99h1.96m94.71 0h1.96m13.51 0h1.96m46.37 0h1.96m-58.03 5.98h1.96m3.84 0h1.96m15.44 1.99h1.96m-102.49 3.98h1.96m21.24 0h1.96m73.44 0h1.96m-61.89 2h1.96m9.64 0h1.96m7.7 0h1.96m17.38 0h1.96m-.03 0h1.96m-75.43 1.99h1.96m-32.89 3.99h1.96m-9.69 3.98h1.96m181.7 0h1.96m-133.42 1.99h1.96m-69.63 2h1.96m59.91 0h1.96m40.57 1.99h1.96m44.44 1.99h1.96m-96.69 1.99h1.96m115.97 0h1.96m-77.36 2h1.96m15.44 0h1.96m9.64 0h1.96m57.97 0h1.96m-179.82 1.99h1.96m28.97 0h1.96m98.57 0h1.96m-69.62 3.99h1.96m-73.5 1.99h1.96m65.71 0h1.96m-54.16 3.98h1.96m50.24 0h1.96m-40.63 2h1.96m52.18 3.98h1.96m11.57 0h1.96m-27.09 1.99h1.96m-65.76 3.99h1.96m44.44 0h1.96m52.17 1.99h1.96m-98.63 2h1.96m73.44 0h1.96m28.98 0h1.96m-71.56 1.99h1.96m40.57 1.99h1.96m30.91 0h1.96m-50.3 1.99h1.96m23.18 2h1.96m5.77 5.97h1.96m9.64 2h1.96m15.44 1.99h1.96m-114.09 1.99h1.96m59.9 0h1.96m1.91 0h1.96m61.84 0h1.96m-.03 0h1.96m19.31 0h1.96m-73.49 2h1.96m-100.56 1.99h1.96m-7.76 1.99h1.96m3.84 0h1.96m144.97 0h1.96m-92.83 5.98h1.96m-56.09 1.99h1.96m102.44 0h1.96m15.44 0h1.96m32.84 0h1.96m-48.36 1.99h1.96m25.11 0h1.96m-117.96 3.99h1.96m42.5 0h1.96m32.84 0h1.96m15.44 0h1.96m-59.96 1.99h1.96m-73.49 2h1.96m-.03 0h1.96m44.44 0h1.96m127.58 0h1.96m-133.43 1.99h1.96m133.37 0h1.96m-177.89 7.97h1.96m110.17 0h1.96m13.51 9.96h1.96m50.24 0h1.96m-36.76 2h1.96m-137.29 5.97h1.96m28.97 2h1.96m-19.36 3.98h1.96m25.11 0h1.96m-29.03 1.99h1.96m27.04 0h1.96m38.64 2h1.96m23.17 0h1.96m-81.22 1.99h1.96m23.17 0h1.96m-1.96 1.99h1.96m-58.03 2h1.96m17.38 1.99h1.96m27.04 1.99h1.96m42.5 0h1.96m3.84 1.99h1.96m17.38 0h1.96m15.44 0h1.96" stroke="#d5a5c9"/>
<path d="M302.13 220.40h1.96m-21.29 1.99h1.96m44.44 0h1.96m27.04 0h1.96m30.91 0h1.96m36.7 0h1.96m42.51 0h1.96m-117.96 1.99h1.96m-19.36 1.99h1.96m13.51 2h1.96m61.84 0h1.96m-145.03 3.98h1.96m133.37 0h1.96m23.18 0h1.96m-110.23 2h1.96m40.57 0h1.96m46.38 0h1.96m21.24 0h1.96m-50.3 1.99h1.96m-106.36 1.99h1.96m38.64 0h1.96m50.24 0h1.96m-.02 0h1.96m5.77 0h1.96m5.77 0h1.96m5.78 0h1.96m-71.56 1.99h1.96m7.7 0h1.96m13.51 0h1.96m11.57 0h1.96m1.91 0h1.96m15.44 0h1.96m7.71 0h1.96m32.84 0h1.96m11.57 0h1.96m-65.76 2h1.96m44.44 0h1.96m-87.03 1.99h1.96m48.31 0h1.96m9.64 0h1.96m13.51 0h1.96m42.5 0h1.96m-143.09 1.99h1.96m46.37 0h1.96m28.98 0h1.96m17.37 0h1.96m-156.63 1.99h1.96m79.24 0h1.96m65.71 0h1.96m1.91 0h1.96m-143.1 2h1.96m48.31 0h1.96m56.04 0h1.96m-116.03 1.99h1.96m1.91 0h1.96m3.84 0h1.96m48.31 0h1.96m17.37 0h1.96m46.37 0h1.96m5.78 0h1.96m40.57 0h1.96m-175.96 1.99h1.96m102.44 0h1.96m-.03 0h1.96m38.64 0h1.96m15.44 0h1.96m9.64 0h1.96m-116.02 2h1.96m42.5 0h1.96m46.38 0h1.96m3.84 0h1.96m-11.63 1.99h1.96m-.03 0h1.96m-162.42 1.99h1.96m-.03 0h1.96m13.51 0h1.96m61.84 0h1.96m7.7 0h1.96m100.51 0h1.96m-133.43 1.99h1.96m7.71 0h1.96m50.24 0h1.96m38.64 0h1.96m-164.36 2h1.96m104.37 0h1.96m1.91 0h1.96m52.17 0h1.96m-92.82 1.99h1.96m-81.23 1.99h1.96m13.51 0h1.96m56.04 0h1.96m42.5 0h1.96m-.02 0h1.96m32.84 0h1.96m3.84 0h1.96m25.1 0h1.96m-183.69 1.99h1.96m98.57 0h1.96m79.24 0h1.96m-170.16 2h1.96m177.84 0h1.96m-114.09 1.99h1.96m46.37 0h1.96m54.11 0h1.96m-.03 0h1.96m-85.09 1.99h1.96m30.91 0h1.96m15.44 0h1.96m25.1 0h1.96m-104.42 2h1.96m32.84 0h1.96m21.24 0h1.96m23.17 0h1.96m15.44 0h1.96m-87.03 1.99h1.96m67.64 0h1.96m-75.42 1.99h1.96m5.77 0h1.96m11.57 0h1.96m-114.09 1.99h1.96m137.24 0h1.96m9.64 0h1.96m38.64 0h1.96m-27.09 3.99h1.96m-90.9 1.99h1.96m85.04 0h1.96m-162.42 1.99h1.96m5.77 0h1.96m71.51 0h1.96m11.57 0h1.96m27.04 0h1.96m23.17 0h1.96m-83.16 2h1.96m-61.89 1.99h1.96m63.77 0h1.96m92.78 0h1.96m11.57 0h1.96m-185.63 3.99h1.96m108.24 0h1.96m-.02 0h1.96m-.03 0h1.96m71.51 0h1.96m-145.03 1.99h1.96m50.24 0h1.96m65.71 0h1.96m-145.03 1.99h1.96m61.84 0h1.96m98.57 0h1.96m-133.42 1.99h1.96m28.97 0h1.96m40.57 0h1.96m61.84 0h1.96m-195.29 2h1.96m9.64 0h1.96m5.77 0h1.96m36.71 0h1.96m63.77 0h1.96m3.84 0h1.96m32.84 0h1.96m-162.42 1.99h1.96m5.77 0h1.96m7.71 0h1.96m40.57 0h1.96m23.17 0h1.96m17.38 0h1.96m17.37 0h1.96m-112.16 1.99h1.96m13.51 0h1.96m7.7 0h1.96m50.24 0h1.96m11.58 0h1.96m-102.5 1.99h1.96m73.44 0h1.96m34.78 0h1.96m-61.9 2h1.96m-.02 0h1.96m48.3 0h1.96m1.91 0h1.96m36.71 0h1.96m-156.63 1.99h1.96m9.64 0h1.96m48.31 0h1.96m-.03 0h1.96m27.04 0h1.96m7.71 0h1.96m56.04 0h1.96m-135.36 1.99h1.96m139.17 0h1.96m-38.69 2h1.96m27.04 0h1.96m30.9 0h1.96m-73.49 1.99h1.96m-.03 0h1.96m7.71 0h1.96m40.57 0h1.96m7.71 0h1.96m-133.43 1.99h1.96m48.31 3.99h1.96m34.77 1.99h1.96m1.91 0h1.96m-.03 0h1.96m-77.36 3.98h1.96m30.91 3.99h1.96m23.17 1.99h1.96m3.84 0h1.96m-77.36 3.99h1.96m15.44 0h1.96m69.58 0h1.96m-73.5 1.99h1.96m25.11 0h1.96m32.84 1.99h1.96m21.24 0h1.96m-145.03 3.99h1.96m56.04 0h1.96m-65.76 1.99h1.96m44.44 0h1.96m5.78 0h1.96m-13.56 1.99h1.96m96.64 2h1.96m-119.9 3.98h1.96m52.18 2h1.96m46.37 0h1.96m23.17 1.99h1.96m5.78 0h1.96m-.03 0h1.96m7.71 0h1.96m-61.9 1.99h1.96m61.84 0h1.96m3.84 0h1.96m-32.89 1.99h1.96m-119.89 3.99h1.96m44.44 0h1.96m17.37 0h1.96m56.04 0h1.96m23.17 0h1.96m-.02 0h1.96m-197.23 1.99h1.96m56.04 0h1.96m19.31 0h1.96m23.17 0h1.96m40.57 0h1.96m19.31 0h1.96m-146.96 1.99h1.96m-.03 0h1.96m96.64 0h1.96m34.78 0h1.96m11.57 0h1.96m-100.56 2h1.96m-73.49 3.98h1.96m81.17 0h1.96m27.04 0h1.96m7.71 0h1.96m-119.9 2h1.96m71.51 0h1.96m90.84 0h1.96m-75.43 1.99h1.96m1.91 0h1.96m61.84 0h1.96m-25.16 1.99h1.96m23.17 0h1.96m-69.62 1.99h1.96m28.97 0h1.96m9.64 0h1.96m-146.96 2h1.96m73.44 0h1.96m-40.63 1.99h1.96m96.64 0h1.96m-131.49 1.99h1.96m9.64 0h1.96m56.04 0h1.96m-.03 0h1.96m85.04 0h1.96m-58.02 1.99h1.96m-83.16 2h1.96m5.77 0h1.96m63.77 0h1.96m5.78 0h1.96m15.44 0h1.96m3.84 0h1.96m54.1 0h1.96m1.91 0h1.96m-156.63 1.99h1.96m69.58 0h1.96m11.57 0h1.96m-112.16 1.99h1.96m-.03 0h1.96m21.24 2h1.96m11.58 0h1.96m3.84 0h1.96m15.44 0h1.96m-.03 0h1.96m21.24 0h1.96m54.11 0h1.96m32.84 0h1.96m-148.9 1.99h1.96m73.44 0h1.96m27.04 0h1.96m15.44 0h1.96m-.02 0h1.96m-27.1 1.99h1.96m-137.29 1.99h1.96m117.91 0h1.96m57.97 0h1.96m-.03 0h1.96m-143.09 2h1.96m59.91 0h1.96m-83.16 1.99h1.96m15.44 0h1.96m25.1 0h1.96m27.04 0h1.96m52.18 0h1.96m19.3 0h1.96m-183.69 1.99h1.96m90.84 0h1.96m32.84 0h1.96m30.91 0h1.96m-52.23 1.99h1.96m25.11 0h1.96m21.24 0h1.96m-131.5 2h1.96m54.11 0h1.96m19.31 0h1.96m7.7 0h1.96m17.38 0h1.96m21.24 0h1.96m1.9 0h1.96m7.71 0h1.96m9.64 0h1.96m-114.09 3.98h1.96m7.7 0h1.96m36.71 0h1.96m23.17 0h1.96m-1.96 2h1.96m-63.82 1.99h1.96m57.97 0h1.96m3.84 0h1.96m1.91 0h1.96m28.97 0h1.96m-114.09 1.99h1.96m106.3 0h1.96m-152.76 1.99h1.96m71.51 0h1.96m-.03 0h1.96m73.44 0h1.96" stroke="#a58dcf"/>
<path d="M306.00 220.40h1.96m52.17 1.99h1.96m1.91 0h1.96m59.91 0h1.96m-.03 0h1.96m-58.03 1.99h1.96m-.02 0h1.96m73.44 0h1.96m-.03 0h1.96m9.64 0h1.96m1.91 0h1.96m1.9 0h1.96m3.84 0h1.96m-195.29 3.99h1.96m21.24 0h1.96m83.11 0h1.96m57.97 0h1.96m-.03 0h1.96m-123.76 1.99h1.96m19.31 1.99h1.96m7.71 0h1.96m7.7 0h1.96m5.78 0h1.96m3.84 0h1.96m21.24 0h1.96m7.7 0h1.96m-.02 0h1.96m-69.63 2h1.96m9.64 0h1.96m-.03 0h1.96m5.78 0h1.96m-.03 0h1.96m7.71 0h1.96m17.37 0h1.96m57.97 0h1.96m-.02 0h1.96m-3.9 1.99h1.96m-177.89 1.99h1.96m65.71 0h1.96m28.97 0h1.96m5.77 0h1.96m57.98 0h1.96m-121.83 1.99h1.96m133.37 0h1.96m-177.89 2h1.96m21.24 0h1.96m79.24 0h1.96m30.91 0h1.96m-110.23 1.99h1.96m23.17 0h1.96m-27.09 1.99h1.96m34.77 0h1.96m3.84 0h1.96m25.11 0h1.96m-.03 0h1.96m15.44 0h1.96m-38.69 1.99h1.96m-90.89 2h1.96m117.9 0h1.96m48.31 0h1.96m-179.83 1.99h1.96m54.11 0h1.96m25.11 0h1.96m13.5 0h1.96m-.02 0h1.96m-85.1 1.99h1.96m46.38 0h1.96m11.57 0h1.96m44.44 0h1.96m52.17 0h1.96m-170.16 2h1.96m-.02 0h1.96m3.84 0h1.96m108.24 0h1.96m5.77 0h1.96m1.91 0h1.96m-137.3 1.99h1.96m79.24 0h1.96m-.02 0h1.96m65.7 0h1.96m-158.56 1.99h1.96m21.24 0h1.96m38.64 0h1.96m13.51 0h1.96m-13.56 1.99h1.96m73.44 0h1.96m27.04 0h1.96m3.84 0h1.96m9.64 0h1.96m-102.49 2h1.96m15.44 0h1.96m86.97 0h1.96m-131.49 1.99h1.96m1.9 0h1.96m21.24 0h1.96m-.02 0h1.96m1.9 0h1.96m15.44 0h1.96m21.24 0h1.96m9.64 0h1.96m-145.02 1.99h1.96m46.37 0h1.96m23.17 0h1.96m54.11 0h1.96m27.04 0h1.96m5.77 0h1.96m19.31 0h1.96m-187.56 1.99h1.96m3.84 0h1.96m98.57 0h1.96m17.38 0h1.96m-129.56 2h1.96m90.84 0h1.96m5.77 0h1.96m88.91 0h1.96m-121.83 1.99h1.96m32.84 0h1.96m13.51 0h1.96m40.57 0h1.96m1.91 0h1.96m-.03 0h1.96m17.37 0h1.96m-195.29 1.99h1.96m85.04 0h1.96m25.11 0h1.96m-.03 0h1.96m5.77 0h1.96m1.91 0h1.96m27.04 0h1.96m1.91 0h1.96m3.84 0h1.96m1.9 0h1.96m21.24 0h1.96m-197.22 2h1.96m15.44 0h1.96m137.24 0h1.96m3.84 0h1.96m-152.76 3.98h1.96m121.77 0h1.96m17.37 0h1.96m1.91 0h1.96m32.84 0h1.96m-162.43 1.99h1.96m-.02 0h1.96m42.5 0h1.96m9.64 0h1.96m13.51 0h1.96m27.04 0h1.96m25.11 2h1.96m-52.23 1.99h1.96m-116.03 1.99h1.96m9.64 0h1.96m65.71 0h1.96m19.31 0h1.96m3.84 0h1.96m56.04 0h1.96m9.64 0h1.96m-175.96 1.99h1.96m46.37 0h1.96m17.37 0h1.96m1.91 0h1.96m11.57 0h1.96m28.98 0h1.96m3.84 0h1.96m28.97 0h1.96m28.97 0h1.96m-59.96 2h1.96m-75.42 1.99h1.96m77.3 0h1.96m3.84 0h1.96m-94.76 1.99h1.96m19.31 2h1.96m13.51 0h1.96m28.97 0h1.96m5.77 0h1.96m48.31 0h1.96m13.51 0h1.96m7.7 0h1.96m-145.02 1.99h1.96m56.04 0h1.96m25.1 0h1.96m9.64 0h1.96m-65.76 1.99h1.96m36.71 0h1.96m7.71 0h1.96m3.84 0h1.96m38.64 0h1.96m9.64 0h1.96m3.84 0h1.96m-172.1 1.99h1.96m11.58 0h1.96m38.64 0h1.96m-.03 0h1.96m27.04 0h1.96m23.17 0h1.96m27.04 0h1.96m19.31 0h1.96m-191.43 2h1.96m7.71 0h1.96m15.44 0h1.96m54.11 0h1.96m15.44 0h1.96m23.17 0h1.96m11.57 0h1.96m44.44 0h1.96m-183.69 1.99h1.96m34.77 0h1.96m19.31 0h1.96m21.24 0h1.96m83.11 0h1.96m1.9 0h1.96m23.18 0h1.96m-203.03 1.99h1.96m65.71 0h1.96m9.64 0h1.96m23.17 0h1.96m46.37 0h1.96m-148.89 1.99h1.96m23.17 0h1.96m17.38 0h1.96m5.77 0h1.96m7.71 0h1.96m36.7 0h1.96m9.64 0h1.96m67.64 0h1.96m3.84 0h1.96m-152.76 2h1.96m19.31 0h1.96m27.04 0h1.96m7.71 0h1.96m-32.9 1.99h1.96m19.31 0h1.96m42.51 0h1.96m46.37 0h1.96m-112.16 1.99h1.96m13.51 0h1.96m7.7 0h1.96m34.78 0h1.96m13.5 0h1.96m1.91 0h1.96m23.17 0h1.96m5.78 0h1.96m5.77 0h1.96m-25.16 2h1.96m17.37 0h1.96m1.91 0h1.96m-189.49 1.99h1.96m52.17 0h1.96m32.84 0h1.96m40.57 0h1.96m54.11 0h1.96m-106.36 3.98h1.96m40.57 0h1.96m-117.96 2h1.96m36.71 0h1.96m79.24 0h1.96m44.44 0h1.96m-54.16 1.99h1.96m17.37 1.99h1.96m-3.89 1.99h1.96m-69.63 2h1.96m61.84 0h1.96m1.91 0h1.96m-50.29 5.98h1.96m52.17 0h1.96m9.64 0h1.96m17.37 0h1.96m-181.76 1.99h1.96m154.64 0h1.96m30.91 0h1.96m-123.76 1.99h1.96m86.97 0h1.96m21.24 0h1.96m-36.76 1.99h1.96m15.44 2h1.96m13.51 0h1.96m-183.69 1.99h1.96m3.84 0h1.96m15.44 0h1.96m27.04 0h1.96m15.44 0h1.96m-.03 0h1.96m69.57 0h1.96m-143.09 1.99h1.96m30.91 0h1.96m-36.76 1.99h1.96m158.5 0h1.96m5.78 0h1.96m-129.56 2h1.96m27.04 0h1.96m9.64 0h1.96m81.17 0h1.96m21.24 0h1.96m7.71 0h1.96m-162.43 1.99h1.96m1.91 0h1.96m3.84 0h1.96m17.37 0h1.96m127.57 0h1.96m-181.76 1.99h1.96m9.64 2h1.96m67.64 0h1.96m34.78 0h1.96m11.57 0h1.96m7.71 0h1.96m34.77 0h1.96m-88.96 1.99h1.96m15.44 0h1.96m-42.56 1.99h1.96m73.44 0h1.96m1.91 0h1.96m27.04 1.99h1.96m-67.7 2h1.96m25.11 0h1.96m-139.23 1.99h1.96m36.71 0h1.96m1.91 0h1.96m57.97 0h1.96m1.91 0h1.96m-65.76 1.99h1.96m1.9 0h1.96m21.24 0h1.96m17.38 0h1.96m9.64 0h1.96m15.44 0h1.96m17.37 0h1.96m5.77 0h1.96m9.64 0h1.96m11.58 0h1.96m-189.5 1.99h1.96m65.71 0h1.96m27.04 0h1.96m25.11 0h1.96m57.97 0h1.96m-67.69 2h1.96m32.84 0h1.96m-119.9 1.99h1.96m50.24 0h1.96m-71.56 1.99h1.96m3.84 0h1.96m92.78 0h1.96m34.77 0h1.96m27.04 0h1.96m9.64 0h1.96m-121.83 2h1.96m1.91 0h1.96m13.51 0h1.96m3.84 0h1.96m1.9 0h1.96m-.02 0h1.96m9.64 0h1.96m79.24 0h1.96m-164.36 1.99h1.96m9.64 0h1.96m9.64 0h1.96m-.03 0h1.96m11.57 0h1.96m5.78 0h1.96m5.77 0h1.96m21.24 0h1.96m67.64 0h1.96m5.77 0h1.96m-.02 0h1.96m-183.7 1.99h1.96m54.11 0h1.96m81.17 0h1.96m-100.56 1.99h1.96m127.58 0h1.96m-183.7 2h1.96m9.64 0h1.96m71.51 0h1.96m27.04 0h1.96m27.04 0h1.96m-127.63 1.99h1.96m75.38 0h1.96m-77.36 1.99h1.96m25.1 0h1.96m21.24 0h1.96m13.51 0h1.96m63.77 0h1.96m36.71 0h1.96m3.84 0h1.96m-199.16 1.99h1.96m40.57 0h1.96m25.11 0h1.96m11.57 0h1.96m-.02 0h1.96m52.17 0h1.96m-125.69 2h1.96m54.1 0h1.96m15.44 0h1.96m38.64 0h1.96m27.04 0h1.96m1.91 0h1.96m27.04 0h1.96m7.71 0h1.96m-199.16 1.99h1.96m15.44 0h1.96m44.44 0h1.96m1.9 0h1.96m25.11 0h1.96m5.77 0h1.96m48.31 0h1.96m38.64 0h1.96m-199.16 1.99h1.96m25.11 0h1.96m1.9 0h1.96m-.02 0h1.96m117.9 0h1.96m11.58 0h1.96m-160.5 2h1.96m11.58 0h1.96m7.7 0h1.96m27.04 0h1.96m15.44 0h1.96m21.24 0h1.96m32.84 0h1.96m19.31 0h1.96m-150.83 1.99h1.96m129.51 0h1.96m5.77 0h1.96m-133.42 1.99h1.96m-3.9 1.99h1.96m23.18 0h1.96m32.84 0h1.96m5.77 0h1.96m15.44 0h1.96m7.71 0h1.96m48.3 0h1.96m19.31 0h1.96m-179.83 2h1.96m44.44 0h1.96m46.38 0h1.96m7.7 0h1.96m13.51 0h1.96m-85.09 1.99h1.96m69.57 0h1.96m5.77 0h1.96m17.38 0h1.96m1.9 0h1.96m21.24 0h1.96m-156.62 1.99h1.96m7.7 0h1.96m100.51 0h1.96m-121.83 1.99h1.96m42.51 0h1.96m50.24 0h1.96m38.64 0h1.96m36.71 0h1.96m1.9 0h1.96m-50.29 2h1.96m21.24 0h1.96m28.97 0h1.96m-77.36 1.99h1.96m40.58 0h1.96m-156.63 1.99h1.96m25.11 0h1.96m7.7 0h1.96m129.51 0h1.96m-152.76 2h1.96m36.71 0h1.96m65.7 0h1.96m59.91 0h1.96m3.84 0h1.96m-96.69 1.99h1.96m7.7 0h1.96m32.84 0h1.96m15.44 0h1.96m28.98 0h1.96m-116.03 1.99h1.96m9.64 0h1.96m104.37 0h1.96m-189.49 1.99h1.96m15.44 0h1.96m15.44 0h1.96m65.71 0h1.96m3.84 0h1.96m57.97 0h1.96m11.57 0h1.96" stroke="#ab93cf"/>
<path d="M309.87 220.40h1.96m104.37 0h1.96m9.64 0h1.96m-141.16 1.99h1.96m7.71 1.99h1.96m7.7 0h1.96m50.24 0h1.96m13.51 0h1.96m5.77 0h1.96m48.31 0h1.96m36.71 0h1.96m-197.23 3.99h1.96m5.77 0h1.96m1.91 0h1.96m32.84 0h1.96m21.24 0h1.96m-.03 0h1.96m77.31 1.99h1.96m-114.09 1.99h1.96m-.03 0h1.96m9.64 0h1.96m36.71 0h1.96m13.5 0h1.96m9.64 0h1.96m13.51 0h1.96m23.17 0h1.96m25.11 0h1.96m-172.09 2h1.96m23.17 0h1.96m141.11 0h1.96m-172.1 1.99h1.96m-.02 0h1.96m11.57 0h1.96m30.91 0h1.96m1.9 0h1.96m46.38 0h1.96m11.57 0h1.96m-.03 0h1.96m7.71 0h1.96m21.24 0h1.96m9.64 0h1.96m15.44 0h1.96m-143.09 1.99h1.96m7.7 0h1.96m-27.09 1.99h1.96m1.91 0h1.96m28.97 0h1.96m69.57 0h1.96m11.58 0h1.96m38.64 0h1.96m-162.43 2h1.96m71.51 0h1.96m34.77 0h1.96m-1.96 1.99h1.96m5.77 0h1.96m17.38 1.99h1.96m25.1 1.99h1.96m-145.02 2h1.96m11.57 0h1.96m52.17 1.99h1.96m44.44 0h1.96m11.58 0h1.96m-185.63 1.99h1.96m23.17 0h1.96m-.02 0h1.96m17.37 0h1.96m75.37 0h1.96m-94.76 2h1.96m73.44 0h1.96m44.44 0h1.96m28.98 0h1.96m-179.83 1.99h1.96m11.57 0h1.96m85.04 0h1.96m21.24 0h1.96m34.78 0h1.96m-150.83 1.99h1.96m119.84 0h1.96m-.03 0h1.96m34.78 0h1.96m3.84 1.99h1.96m-116.03 2h1.96m7.71 0h1.96m-65.76 1.99h1.96m15.44 0h1.96m63.77 0h1.96m3.84 0h1.96m40.57 0h1.96m5.78 0h1.96m-48.36 1.99h1.96m-.03 0h1.96m34.77 0h1.96m36.71 0h1.96m-187.56 1.99h1.96m11.57 0h1.96m131.44 0h1.96m5.78 0h1.96m-38.7 2h1.96m46.38 0h1.96m-156.63 1.99h1.96m28.97 0h1.96m100.51 0h1.96m9.64 0h1.96m-143.09 1.99h1.96m52.17 0h1.96m32.84 0h1.96m1.91 0h1.96m-71.56 2h1.96m40.57 0h1.96m52.17 0h1.96m38.64 0h1.96m-71.56 1.99h1.96m30.91 0h1.96m30.91 0h1.96m13.5 0h1.96m-46.42 1.99h1.96m23.17 0h1.96m-125.69 1.99h1.96m94.7 0h1.96m-117.96 2h1.96m11.58 0h1.96m17.37 0h1.96m30.91 0h1.96m1.9 0h1.96m13.51 0h1.96m13.51 0h1.96m32.84 0h1.96m-.03 0h1.96m-141.16 3.98h1.96m21.24 0h1.96m119.84 0h1.96m-158.56 1.99h1.96m11.57 0h1.96m1.91 0h1.96m50.24 0h1.96m32.84 0h1.96m28.97 0h1.96m32.84 0h1.96m-133.42 2h1.96m21.24 0h1.96m19.3 0h1.96m5.78 0h1.96m52.17 0h1.96m11.57 0h1.96m17.38 0h1.96m7.7 0h1.96m-201.09 1.99h1.96m181.71 0h1.96m-.03 0h1.96m-104.43 1.99h1.96m-67.69 2h1.96m36.71 0h1.96m21.24 0h1.96m28.97 0h1.96m15.44 0h1.96m7.71 0h1.96m30.9 0h1.96m-.02 0h1.96m27.04 0h1.96m-141.16 1.99h1.96m59.9 0h1.96m-71.56 1.99h1.96m11.58 0h1.96m3.84 0h1.96m40.57 0h1.96m-106.36 1.99h1.96m-.03 0h1.96m54.11 0h1.96m52.17 0h1.96m11.58 0h1.96m5.77 0h1.96m9.64 0h1.96m27.04 0h1.96m-114.09 2h1.96m75.37 0h1.96m-150.83 1.99h1.96m7.71 0h1.96m133.37 0h1.96m9.64 0h1.96m-106.36 1.99h1.96m71.51 0h1.96m17.37 0h1.96m50.24 0h1.96m-185.62 1.99h1.96m30.9 0h1.96m71.51 0h1.96m19.31 0h1.96m1.9 0h1.96m21.24 0h1.96m5.78 0h1.96m15.44 0h1.96m-191.43 2h1.96m7.71 0h1.96m7.7 0h1.96m3.84 0h1.96m54.11 0h1.96m21.24 0h1.96m1.91 0h1.96m3.84 0h1.96m9.64 0h1.96m42.5 0h1.96m-177.89 1.99h1.96m30.91 0h1.96m40.57 0h1.96m9.64 0h1.96m15.44 0h1.96m15.44 0h1.96m-92.83 1.99h1.96m7.71 0h1.96m7.71 0h1.96m102.44 0h1.96m27.04 0h1.96m-116.03 2h1.96m59.91 0h1.96m25.1 0h1.96m27.04 0h1.96m11.58 0h1.96m-177.9 1.99h1.96m9.64 0h1.96m23.18 0h1.96m81.17 0h1.96m7.71 0h1.96m19.3 0h1.96m-168.22 1.99h1.96m42.5 0h1.96m15.44 0h1.96m19.31 0h1.96m23.17 0h1.96m-88.96 1.99h1.96m42.51 0h1.96m-.03 0h1.96m44.44 0h1.96m-87.02 2h1.96m28.97 0h1.96m-46.43 1.99h1.96m28.98 0h1.96m15.44 0h1.96m73.44 0h1.96m-150.83 1.99h1.96m-.03 0h1.96m65.71 0h1.96m40.57 0h1.96m34.78 0h1.96m-137.3 1.99h1.96m83.11 0h1.96m-15.49 2h1.96m11.57 0h1.96m-96.69 1.99h1.96m32.84 0h1.96m28.97 0h1.96m-50.29 1.99h1.96m100.5 0h1.96m-56.09 2h1.96m13.51 0h1.96m-17.43 1.99h1.96m-65.76 1.99h1.96m27.04 0h1.96m7.71 0h1.96m27.04 0h1.96m-73.5 1.99h1.96m69.58 0h1.96m3.84 2h1.96m-.03 0h1.96m-81.23 1.99h1.96m65.71 1.99h1.96m30.91 0h1.96m9.64 0h1.96m-81.23 1.99h1.96m3.84 0h1.96m7.71 0h1.96m28.97 0h1.96m1.91 0h1.96m-87.03 2h1.96m67.64 0h1.96m38.64 0h1.96m65.71 0h1.96m-160.5 1.99h1.96m-.02 0h1.96m106.3 0h1.96m5.78 0h1.96m30.9 0h1.96m-166.29 1.99h1.96m17.37 0h1.96m25.11 0h1.96m28.97 0h1.96m11.58 0h1.96m17.37 0h1.96m3.84 0h1.96m5.77 0h1.96m-.02 0h1.96m42.5 0h1.96m9.64 0h1.96m3.84 0h1.96m5.78 0h1.96m-46.43 2h1.96m-145.03 1.99h1.96m75.38 0h1.96m25.1 0h1.96m34.78 0h1.96m-67.7 1.99h1.96m92.78 0h1.96m1.9 0h1.96m7.71 0h1.96m-46.43 3.99h1.96m-.02 0h1.96m-156.63 1.99h1.96m38.64 0h1.96m9.64 0h1.96m9.64 0h1.96m5.77 0h1.96m5.78 0h1.96m13.5 0h1.96m83.11 0h1.96m-179.83 1.99h1.96m25.11 0h1.96m19.31 0h1.96m3.84 0h1.96m9.64 0h1.96m88.9 0h1.96m23.18 0h1.96m-131.5 1.99h1.96m-.02 0h1.96m38.64 0h1.96m-81.23 3.99h1.96m1.91 0h1.96m25.1 0h1.96m25.11 0h1.96m25.11 0h1.96m28.97 0h1.96m50.24 0h1.96m1.91 0h1.96m-191.43 1.99h1.96m13.51 0h1.96m67.64 0h1.96m79.24 0h1.96m30.9 0h1.96m-139.22 2h1.96m11.57 0h1.96m32.84 0h1.96m42.51 0h1.96m-81.23 1.99h1.96m1.91 0h1.96m30.9 0h1.96m38.64 0h1.96m-154.69 5.98h1.96m52.17 0h1.96m11.58 1.99h1.96m21.24 0h1.96m9.64 0h1.96m27.04 0h1.96m40.57 0h1.96m-121.83 1.99h1.96m19.31 0h1.96m-65.76 1.99h1.96m32.84 0h1.96m-46.43 2h1.96m65.71 0h1.96m38.64 0h1.96m-112.16 1.99h1.96m52.17 0h1.96m32.84 0h1.96m17.38 0h1.96m-106.36 1.99h1.96m63.77 0h1.96m11.57 0h1.96m54.11 0h1.96m15.44 0h1.96m38.64 0h1.96m-131.49 2h1.96m21.24 0h1.96m34.77 0h1.96m23.17 0h1.96m19.31 1.99h1.96m9.64 0h1.96m-164.36 3.98h1.96m21.24 0h1.96m98.57 0h1.96m5.78 0h1.96m21.24 0h1.96m17.37 0h1.96m-183.69 2h1.96m40.57 0h1.96m94.71 0h1.96m25.1 0h1.96m-181.76 1.99h1.96m52.18 0h1.96m15.44 0h1.96m13.5 0h1.96m3.84 0h1.96m-.02 0h1.96m9.64 0h1.96m11.57 0h1.96m56.04 0h1.96m-175.96 1.99h1.96m15.44 0h1.96m5.77 0h1.96m11.58 0h1.96m21.24 0h1.96m38.64 0h1.96m9.64 0h1.96m15.44 0h1.96m15.44 0h1.96m11.57 0h1.96m-170.16 1.99h1.96m57.97 0h1.96m7.71 0h1.96m-58.03 2h1.96m-.02 0h1.96m30.9 0h1.96m7.71 0h1.96m44.44 0h1.96m28.97 0h1.96m15.44 0h1.96m17.38 0h1.96m-166.3 1.99h1.96m32.84 0h1.96m15.44 0h1.96m135.31 0h1.96m-158.56 1.99h1.96m112.11 0h1.96m-123.76 2h1.96m7.7 0h1.96m1.91 0h1.96m21.24 0h1.96m77.31 0h1.96m-106.36 1.99h1.96m32.84 0h1.96m-59.96 1.99h1.96m92.77 0h1.96m-.03 0h1.96m17.38 0h1.96m19.3 0h1.96m19.31 0h1.96m-152.76 1.99h1.96m28.97 0h1.96m7.71 0h1.96m-.03 0h1.96m3.84 0h1.96m9.64 0h1.96" stroke="#c99fcf"/>
<path d="M313.73 220.40h1.96m-30.96 5.97h1.96m36.71 31.89h1.96m-27.09 27.9h1.96m135.3 0h1.96m-146.96 33.87h1.96m15.44 17.94h1.96m21.24 1.99h1.96m-32.89 5.98h1.96m1.91 0h1.96m3.84 5.98h1.96m19.3 3.98h1.96m71.51 7.97h1.96m-110.23 5.98h1.96m75.38 0h1.96m69.57 19.93h1.96m-1.96 3.98h1.96m9.64 7.97h1.96m-146.96 23.92h1.96" stroke="#e787a5"/>
<path d="M319.53 220.40h1.96m-21.29 1.99h1.96m61.84 1.99h1.96m-48.36 5.98h1.96m27.04 0h1.96m-50.29 1.99h1.96m7.7 0h1.96m9.64 0h1.96m11.58 0h1.96m94.7 0h1.96m-3.89 2h1.96m-.03 0h1.96m-108.29 1.99h1.96m148.84 0h1.96m-175.96 5.98h1.96m123.71 0h1.96m-1.96 3.98h1.96m50.24 0h1.96m-168.23 1.99h1.96m9.64 2h1.96m5.77 0h1.96m3.84 1.99h1.96m86.98 0h1.96m-125.7 3.99h1.96m19.31 0h1.96m-.03 0h1.96m5.78 0h1.96m-29.03 1.99h1.96m86.97 0h1.96m57.98 0h1.96m-119.9 3.98h1.96m-23.22 2h1.96m11.57 0h1.96m7.71 1.99h1.96m115.97 0h1.96m9.64 0h1.96m-42.56 1.99h1.96m-125.69 1.99h1.96m3.84 0h1.96m-.03 0h1.96m21.24 2h1.96m-7.76 1.99h1.96m7.71 0h1.96m-9.7 1.99h1.96m-21.29 2h1.96m23.17 0h1.96m-17.42 1.99h1.96m63.77 0h1.96m65.71 0h1.96m-154.7 3.98h1.96m15.44 0h1.96m-3.89 2h1.96m-.03 0h1.96m3.84 0h1.96m11.58 0h1.96m11.57 0h1.96m50.24 0h1.96m15.44 0h1.96m9.64 0h1.96m-3.89 5.97h1.96m-1.96 2h1.96m-9.7 7.97h1.96m-133.42 7.97h1.96m166.24 3.98h1.96m-154.7 3.99h1.96m-25.16 3.99h1.96m1.91 0h1.96m13.51 0h1.96m-5.83 1.99h1.96m27.04 0h1.96m-36.76 1.99h1.96m19.31 0h1.96m50.24 0h1.96m5.77 0h1.96m-79.29 1.99h1.96m54.1 3.99h1.96m28.98 0h1.96m11.57 0h1.96m-77.36 1.99h1.96m7.71 0h1.96m15.44 0h1.96m17.37 0h1.96m-79.29 1.99h1.96m7.7 0h1.96m7.71 0h1.96m34.77 0h1.96m30.91 2h1.96m-.03 0h1.96m-102.49 1.99h1.96m40.57 0h1.96m57.98 0h1.96m-98.63 1.99h1.96m-1.96 2h1.96m81.17 0h1.96m9.64 1.99h1.96m-61.89 1.99h1.96m-7.76 3.99h1.96m83.11 1.99h1.96m-30.96 3.98h1.96m-11.63 3.99h1.96m7.71 0h1.96m15.44 0h1.96m9.64 0h1.96m19.3 0h1.96m-125.69 1.99h1.96m121.77 0h1.96m-127.62 3.99h1.96m9.64 0h1.96m23.17 0h1.96m13.51 0h1.96m-32.9 1.99h1.96m56.04 0h1.96m30.91 3.99h1.96m-88.96 1.99h1.96m100.51 0h1.96m-150.83 1.99h1.96m143.04 0h1.96m1.91 0h1.96m-17.43 3.99h1.96m36.71 0h1.96m-79.3 1.99h1.96m28.98 0h1.96m11.57 0h1.96m7.71 3.99h1.96m-81.23 9.96h1.96m28.97 0h1.96m52.18 0h1.96m21.24 3.98h1.96m-177.9 3.99h1.96m185.58 3.99h1.96m-168.23 9.96h1.96m-1.96 5.98h1.96m17.37 0h1.96m23.18 7.97h1.96m77.3 0h1.96" stroke="#ed7b8d"/>
<path d="M323.40 220.40h1.96m1.91 0h1.96m1.9 0h1.96m-23.22 1.99h1.96m5.77 0h1.96m-30.96 1.99h1.96m19.31 0h1.96m13.5 0h1.96m88.91 0h1.96m3.84 0h1.96m-121.83 1.99h1.96m123.71 0h1.96m-131.49 2h1.96m11.57 0h1.96m46.37 1.99h1.96m-59.96 3.99h1.96m32.84 0h1.96m-44.49 1.99h1.96m21.24 0h1.96m7.71 0h1.96m71.5 0h1.96m11.58 0h1.96m38.64 0h1.96m-143.1 1.99h1.96m3.84 0h1.96m106.31 0h1.96m30.91 3.99h1.96m-158.56 5.97h1.96m23.17 0h1.96m-54.16 2h1.96m28.97 1.99h1.96m121.78 1.99h1.96m3.84 0h1.96m-160.5 3.99h1.96m79.24 0h1.96m7.71 0h1.96m-61.89 1.99h1.96m67.64 0h1.96m-65.76 5.98h1.96m1.9 0h1.96m7.71 0h1.96m131.44 0h1.96m-.03 0h1.96m-164.36 1.99h1.96m27.04 1.99h1.96m96.64 0h1.96m-34.82 2h1.96m40.57 0h1.96m-125.69 3.98h1.96m17.37 0h1.96m63.77 0h1.96m-59.96 3.99h1.96m44.44 0h1.96m38.64 0h1.96m-108.29 3.98h1.96m104.37 0h1.96m-152.76 2h1.96m56.04 0h1.96m23.18 0h1.96m63.77 3.98h1.96m30.91 0h1.96m3.84 1.99h1.96m-189.5 2h1.96m23.18 0h1.96m75.37 0h1.96m65.71 0h1.96m5.77 0h1.96m-34.83 5.98h1.96m-.02 1.99h1.96m1.9 1.99h1.96m-5.82 3.99h1.96m3.84 0h1.96m-58.03 5.97h1.96m50.24 0h1.96m32.84 0h1.96m-168.23 3.99h1.96m1.91 0h1.96m11.57 0h1.96m-27.09 1.99h1.96m5.77 0h1.96m-11.62 2h1.96m98.57 0h1.96m9.64 0h1.96m15.44 0h1.96m-102.49 1.99h1.96m3.84 0h1.96m48.3 0h1.96m-.02 0h1.96m-71.56 1.99h1.96m23.17 0h1.96m-42.56 1.99h1.96m40.57 0h1.96m-.02 0h1.96m23.17 0h1.96m-75.43 2h1.96m65.71 1.99h1.96m7.71 0h1.96m-67.7 1.99h1.96m54.11 0h1.96m-58.03 1.99h1.96m69.58 0h1.96m9.64 0h1.96m-85.1 2h1.96m17.38 0h1.96m7.7 0h1.96m42.51 0h1.96m-17.43 1.99h1.96m-38.69 1.99h1.96m7.71 0h1.96m-42.56 2h1.96m42.5 0h1.96m-44.49 1.99h1.96m17.37 0h1.96m13.51 0h1.96m3.84 1.99h1.96m25.11 0h1.96m-.03 0h1.96m-75.43 1.99h1.96m-.02 0h1.96m3.84 0h1.96m52.17 2h1.96m5.77 0h1.96m-.02 1.99h1.96m19.3 0h1.96m-32.89 3.98h1.96m21.24 2h1.96m25.11 0h1.96m3.84 0h1.96m-73.5 1.99h1.96m21.24 0h1.96m65.71 0h1.96m13.51 0h1.96m13.5 0h1.96m23.18 0h1.96m-102.5 1.99h1.96m57.98 0h1.96m5.77 0h1.96m25.11 0h1.96m-.03 0h1.96m-145.03 3.99h1.96m25.11 0h1.96m-.03 0h1.96m34.78 0h1.96m-114.1 1.99h1.96m5.78 0h1.96m177.84 0h1.96m-96.7 3.99h1.96m-100.56 1.99h1.96m7.71 0h1.96m34.77 1.99h1.96m-38.69 5.98h1.96m56.04 0h1.96m11.57 0h1.96m23.18 0h1.96m90.84 0h1.96m-146.96 5.98h1.96m13.5 0h1.96m98.58 3.98h1.96m-69.63 3.99h1.96m38.64 3.98h1.96m1.91 2h1.96m34.77 0h1.96m-172.09 3.98h1.96m54.1 0h1.96m73.44 0h1.96m23.18 2h1.96m-139.23 7.97h1.96m114.04 0h1.96m23.17 0h1.96m-148.89 1.99h1.96m28.97 0h1.96m52.18 0h1.96m-73.5 1.99h1.96m96.64 0h1.96m-110.22 1.99h1.96m1.9 2h1.96m25.11 0h1.96m117.91 0h1.96m15.44 1.99h1.96m-197.23 1.99h1.96m52.17 0h1.96m86.98 0h1.96m-135.36 2h1.96m48.3 0h1.96m-56.09 1.99h1.96m23.17 0h1.96m21.24 0h1.96m3.84 0h1.96m15.44 0h1.96m13.51 0h1.96m100.51 0h1.96m-174.03 1.99h1.96m114.04 0h1.96m-100.56 1.99h1.96m5.77 0h1.96m90.84 0h1.96" stroke="#e193b1"/>
<path d="M329.20 220.40h1.96m36.71 0h1.96m-79.3 1.99h1.96m75.38 1.99h1.96m59.9 0h1.96m-81.22 3.99h1.96m-48.36 1.99h1.96m125.64 1.99h1.96m-137.3 2h1.96m162.38 1.99h1.96m-152.76 1.99h1.96m158.5 0h1.96m-172.09 5.98h1.96m15.44 9.96h1.96m-7.76 2h1.96m-9.69 5.97h1.96m32.84 2h1.96m119.84 0h1.96m7.7 1.99h1.96m-67.69 5.98h1.96m-94.76 3.98h1.96m25.11 0h1.96m-21.3 2h1.96m79.24 1.99h1.96m23.18 0h1.96m-96.7 3.98h1.96m-11.62 2h1.96m85.04 0h1.96m19.3 0h1.96m-131.49 1.99h1.96m17.37 0h1.96m90.84 5.98h1.96m46.38 0h1.96m-.03 0h1.96m-125.69 1.99h1.96m86.97 3.99h1.96m-58.03 21.92h1.96m-.02 0h1.96m-11.63 1.99h1.96m34.77 0h1.96m-121.82 1.99h1.96m28.97 0h1.96m86.97 0h1.96m-9.69 1.99h1.96m-87.03 3.99h1.96m15.44 0h1.96m40.58 0h1.96m9.64 0h1.96m-.03 1.99h1.96m-.03 0h1.96m9.64 0h1.96m-119.89 3.99h1.96m21.24 0h1.96m3.84 0h1.96m-23.23 1.99h1.96m9.64 1.99h1.96m25.11 0h1.96m63.77 0h1.96m-71.56 3.99h1.96m63.78 0h1.96m-96.7 1.99h1.96m104.38 0h1.96m-81.23 1.99h1.96m44.44 0h1.96m13.51 0h1.96m3.84 0h1.96m28.97 2h1.96m-52.23 1.99h1.96m17.38 0h1.96m9.64 0h1.96m-94.76 3.98h1.96m1.9 0h1.96m21.24 0h1.96m-.02 0h1.96m42.5 3.99h1.96m52.18 0h1.96m-61.9 5.98h1.96m-.02 0h1.96m-44.5 1.99h1.96m28.98 1.99h1.96m32.84 0h1.96m-13.56 2h1.96m11.57 0h1.96m27.04 3.98h1.96m-9.69 3.99h1.96m7.7 1.99h1.96m17.38 1.99h1.96m-3.9 7.97h1.96m-172.09 3.99h1.96m-.03 0h1.96m146.91 0h1.96m25.11 1.99h1.96m-34.83 7.97h1.96m-85.09 11.96h1.96m3.84 9.96h1.96m-61.9 3.99h1.96m44.44 1.99h1.96" stroke="#ed6f81"/>
<path d="M333.07 220.40h1.96m11.57 1.99h1.96m-54.16 1.99h1.96m-.03 0h1.96m30.91 1.99h1.96m96.64 5.98h1.96m-110.23 2h1.96m154.64 0h1.96m-9.69 11.95h1.96m-.03 0h1.96m-5.82 1.99h1.96m-158.56 2h1.96m15.44 0h1.96m42.5 1.99h1.96m13.51 0h1.96m-81.23 5.98h1.96m1.91 0h1.96m117.91 0h1.96m-48.36 1.99h1.96m-52.23 3.99h1.96m-58.03 15.94h1.96m7.71 0h1.96m19.31 5.98h1.96m61.84 0h1.96m38.64 0h1.96m1.9 0h1.96m27.04 0h1.96m-137.29 7.97h1.96m75.37 0h1.96m-114.09 11.95h1.96m146.91 3.99h1.96m25.1 3.98h1.96m-69.62 2h1.96m38.64 0h1.96m-135.36 3.98h1.96m27.04 7.97h1.96m-23.23 2h1.96m3.84 0h1.96m11.57 1.99h1.96m-11.62 3.98h1.96m75.37 2h1.96m-85.09 3.98h1.96m40.57 0h1.96m7.71 0h1.96m-63.83 3.99h1.96m13.51 1.99h1.96m-1.96 1.99h1.96m-9.7 2h1.96m11.58 0h1.96m-25.16 3.98h1.96m36.7 3.99h1.96m27.04 1.99h1.96m56.04 0h1.96m23.18 1.99h1.96m-21.3 2h1.96m-131.49 1.99h1.96m73.44 1.99h1.96m19.31 7.97h1.96m-65.76 5.98h1.96m75.37 0h1.96m5.77 0h1.96m-77.36 1.99h1.96m121.78 0h1.96m-117.96 2h1.96m-69.63 1.99h1.96m170.11 5.98h1.96m-75.43 1.99h1.96m85.04 3.98h1.96m-29.03 3.99h1.96m-46.42 3.99h1.96m32.84 7.97h1.96m-141.16 5.97h1.96m52.17 5.98h1.96m-.03 0h1.96m-25.16 5.98h1.96m63.78 0h1.96m3.84 0h1.96m17.37 0h1.96m54.11 0h1.96m-52.23 1.99h1.96m15.44 0h1.96" stroke="#e193b7"/>
<path d="M335.00 220.40h1.96m61.84 0h1.96m5.77 1.99h1.96m-21.29 3.98h1.96m75.37 0h1.96m-27.09 3.99h1.96m1.91 7.97h1.96m-106.36 3.99h1.96m65.7 5.97h1.96m48.31 7.98h1.96m-117.96 13.94h1.96m98.57 0h1.96m1.91 0h1.96m-160.49 7.98h1.96m121.77 5.97h1.96m-42.56 3.99h1.96m100.51 0h1.96m-189.5 1.99h1.96m98.58 5.98h1.96m-30.96 1.99h1.96m40.57 0h1.96m1.91 0h1.96m9.64 0h1.96m23.17 0h1.96m-.03 9.97h1.96m-63.82 1.99h1.96m1.9 1.99h1.96m25.11 0h1.96m15.44 13.95h1.96m-90.89 11.96h1.96m92.77 0h1.96m32.84 0h1.96m-27.09 1.99h1.96m11.57 0h1.96m3.84 0h1.96m-121.83 3.99h1.96m104.38 7.97h1.96m-110.23 1.99h1.96m114.04 0h1.96m1.91 0h1.96m13.5 0h1.96m-58.02 1.99h1.96m52.17 1.99h1.96m-131.49 7.98h1.96m15.44 0h1.96m56.04 0h1.96m-100.56 5.97h1.96m133.37 0h1.96m-108.29 2h1.96m90.84 0h1.96m-150.83 7.97h1.96m28.97 0h1.96m1.91 0h1.96m34.77 0h1.96m25.11 0h1.96m75.37 0h1.96m-174.02 9.96h1.96m177.84 0h1.96m-185.63 3.99h1.96m-11.63 3.98h1.96m-.02 0h1.96m25.1 3.99h1.96m25.11 5.98h1.96m42.51 1.99h1.96m88.9 0h1.96m-164.36 1.99h1.96m57.98 7.97h1.96m-46.43 7.97h1.96m104.37 0h1.96m30.91 0h1.96m-96.69 2h1.96m61.84 0h1.96" stroke="#6963bd"/>
<path d="M336.93 220.40h1.96m5.78 0h1.96m27.04 0h1.96m21.24 0h1.96m48.3 0h1.96m13.51 0h1.96m-85.09 1.99h1.96m11.57 0h1.96m21.24 0h1.96m-79.29 3.98h1.96m19.3 0h1.96m9.64 0h1.96m86.98 0h1.96m-67.7 2h1.96m-116.02 1.99h1.96m7.7 0h1.96m96.64 0h1.96m7.71 0h1.96m63.77 0h1.96m-59.96 1.99h1.96m-69.62 2h1.96m13.5 1.99h1.96m-3.89 1.99h1.96m23.17 0h1.96m32.84 0h1.96m19.31 0h1.96m-116.03 1.99h1.96m44.44 0h1.96m79.24 0h1.96m-114.09 2h1.96m30.91 0h1.96m71.5 0h1.96m21.24 0h1.96m-183.69 1.99h1.96m88.91 0h1.96m21.24 0h1.96m11.57 0h1.96m30.91 0h1.96m1.9 0h1.96m28.98 0h1.96m-197.23 1.99h1.96m54.11 1.99h1.96m3.84 0h1.96m19.3 0h1.96m27.04 0h1.96m42.51 0h1.96m13.51 0h1.96m-102.5 2h1.96m81.18 0h1.96m-65.76 1.99h1.96m92.77 0h1.96m-179.83 1.99h1.96m48.31 0h1.96m36.71 0h1.96m27.04 0h1.96m30.9 0h1.96m-90.89 2h1.96m98.57 0h1.96m-164.36 3.98h1.96m141.11 0h1.96m21.24 0h1.96m-59.96 1.99h1.96m40.57 0h1.96m-59.96 2h1.96m-102.49 1.99h1.96m-1.96 1.99h1.96m-.03 0h1.96m123.71 0h1.96m7.71 0h1.96m-123.76 1.99h1.96m81.17 0h1.96m27.04 0h1.96m-56.09 3.99h1.96m1.9 0h1.96m-.02 0h1.96m9.64 0h1.96m98.57 0h1.96m-108.29 1.99h1.96m5.77 0h1.96m13.51 0h1.96m-98.63 5.98h1.96m172.04 1.99h1.96m-174.03 3.99h1.96m123.71 0h1.96m19.31 0h1.96m-146.96 1.99h1.96m54.1 0h1.96m119.84 0h1.96m-199.16 5.98h1.96m-.02 0h1.96m1.9 0h1.96m23.18 0h1.96m40.57 0h1.96m-.03 0h1.96m13.51 0h1.96m63.77 0h1.96m38.64 0h1.96m-185.62 1.99h1.96m54.1 0h1.96m21.24 2h1.96m5.78 0h1.96m52.17 0h1.96m-152.76 1.99h1.96m5.77 0h1.96m17.38 0h1.96m42.5 0h1.96m19.31 0h1.96m32.84 0h1.96m28.97 0h1.96m-.02 0h1.96m-158.56 1.99h1.96m38.64 0h1.96m25.1 0h1.96m32.84 0h1.96m-.02 1.99h1.96m-83.16 2h1.96m61.84 0h1.96m7.7 0h1.96m52.18 0h1.96m-137.3 1.99h1.96m108.24 0h1.96m-119.89 1.99h1.96m-.03 0h1.96m23.18 0h1.96m17.37 0h1.96m11.57 0h1.96m32.84 0h1.96m83.11 0h1.96m-34.83 3.99h1.96m-75.42 1.99h1.96m81.17 0h1.96m15.44 0h1.96m-100.56 1.99h1.96m-.03 0h1.96m36.71 0h1.96m23.17 0h1.96m7.71 0h1.96m15.44 0h1.96m-23.23 2h1.96m-108.29 1.99h1.96m13.51 0h1.96m-9.7 1.99h1.96m67.64 0h1.96m17.38 0h1.96m7.7 0h1.96m-108.29 1.99h1.96m98.57 0h1.96m13.51 0h1.96m17.37 0h1.96m-67.69 2h1.96m11.57 0h1.96m3.84 0h1.96m-.02 0h1.96m-92.83 1.99h1.96m71.51 0h1.96m23.17 0h1.96m3.84 0h1.96m3.84 0h1.96m-112.16 1.99h1.96m3.84 0h1.96m61.84 0h1.96m38.64 0h1.96m13.51 0h1.96m15.44 0h1.96m-145.03 1.99h1.96m7.71 0h1.96m77.3 0h1.96m32.84 0h1.96m-56.09 2h1.96m5.77 0h1.96m3.84 0h1.96m11.58 0h1.96m5.77 0h1.96m17.37 0h1.96m11.58 0h1.96m-135.36 1.99h1.96m67.64 0h1.96m21.24 0h1.96m17.37 0h1.96m1.91 0h1.96m19.3 0h1.96m-67.69 1.99h1.96m57.97 0h1.96m-127.62 2h1.96m69.57 0h1.96m1.91 0h1.96m13.5 0h1.96m-.02 0h1.96m23.17 0h1.96m-21.29 1.99h1.96m7.7 0h1.96m1.91 0h1.96m-117.96 1.99h1.96m100.51 0h1.96m13.5 0h1.96m-36.76 1.99h1.96m11.58 0h1.96m7.7 0h1.96m1.91 0h1.96m11.57 0h1.96m-32.89 2h1.96m17.37 0h1.96m-146.96 1.99h1.96m112.11 0h1.96m1.91 0h1.96m19.3 0h1.96m5.78 0h1.96m-27.1 1.99h1.96m13.51 0h1.96m19.31 0h1.96m-133.43 1.99h1.96m117.91 0h1.96m5.77 0h1.96m-177.89 2h1.96m131.44 0h1.96m21.24 0h1.96m-116.03 5.98h1.96m21.24 0h1.96m11.57 0h1.96m11.58 0h1.96m11.57 0h1.96m56.04 0h1.96m9.64 0h1.96m-58.03 1.99h1.96m27.04 3.98h1.96m17.38 0h1.96m-19.36 2h1.96m-154.7 5.97h1.96m27.04 0h1.96m27.04 0h1.96m21.24 0h1.96m-87.02 2h1.96m21.24 0h1.96m1.9 0h1.96m23.18 0h1.96m28.97 0h1.96m11.57 0h1.96m28.98 0h1.96m-129.56 3.98h1.96m27.04 0h1.96m28.97 0h1.96m40.57 0h1.96m83.11 0h1.96m-129.56 2h1.96m-59.96 1.99h1.96m114.04 0h1.96m-94.76 1.99h1.96m-.03 0h1.96m34.78 0h1.96m5.77 0h1.96m5.77 0h1.96m13.51 0h1.96m15.44 0h1.96m3.84 0h1.96m5.77 0h1.96m-.02 0h1.96m9.64 0h1.96m36.7 0h1.96m7.71 0h1.96m-181.76 1.99h1.96m-.03 0h1.96m23.18 0h1.96m75.37 0h1.96m9.64 0h1.96m27.04 0h1.96m-123.76 2h1.96m1.91 0h1.96m5.77 0h1.96m40.57 0h1.96m17.38 0h1.96m21.24 0h1.96m63.77 0h1.96m-185.63 3.98h1.96m3.84 0h1.96m11.58 0h1.96m59.9 0h1.96m1.91 0h1.96m-.03 0h1.96m30.91 0h1.96m-131.49 1.99h1.96m19.3 0h1.96m13.51 0h1.96m9.64 0h1.96m11.57 0h1.96m52.18 0h1.96m-30.96 2h1.96m40.57 0h1.96m59.91 0h1.96m1.9 0h1.96m-191.42 1.99h1.96m17.37 1.99h1.96m-21.29 2h1.96m-7.76 1.99h1.96m79.24 0h1.96m28.97 0h1.96m79.24 0h1.96m1.91 0h1.96m-146.96 1.99h1.96m11.57 0h1.96m32.84 0h1.96m56.04 0h1.96m34.77 0h1.96m-65.76 1.99h1.96m5.78 0h1.96m25.1 0h1.96m-150.82 2h1.96m27.04 0h1.96m34.77 3.98h1.96m81.17 0h1.96m25.11 0h1.96m-177.89 1.99h1.96m79.24 0h1.96m11.57 0h1.96m-5.83 2h1.96m-23.22 1.99h1.96m-.03 0h1.96m9.64 0h1.96m-.03 0h1.96m28.98 0h1.96m1.9 0h1.96m13.51 0h1.96m-52.23 1.99h1.96m48.31 0h1.96m11.57 0h1.96m-.02 0h1.96m1.9 0h1.96m17.38 0h1.96m-102.5 2h1.96m13.51 0h1.96m50.24 0h1.96m3.84 0h1.96m13.51 0h1.96m9.64 1.99h1.96m-7.76 3.98h1.96" stroke="#7b75c9"/>
<path d="M338.87 220.40h1.96m133.37 0h1.96m-114.09 1.99h1.96m21.24 0h1.96m85.04 5.98h1.96m-17.43 1.99h1.96m-38.69 9.96h1.96m-137.3 7.97h1.96m148.84 2h1.96m1.91 0h1.96m36.71 0h1.96m-58.03 3.98h1.96m48.31 9.97h1.96m-94.76 5.97h1.96m-11.63 3.99h1.96m-83.16 7.97h1.96m166.24 0h1.96m11.57 0h1.96m-83.16 7.97h1.96m42.51 0h1.96m17.37 0h1.96m15.44 0h1.96m-100.56 1.99h1.96m59.91 3.99h1.96m23.17 0h1.96m-98.62 7.97h1.96m48.3 0h1.96m-23.22 15.94h1.96m34.77 7.97h1.96m40.57 3.99h1.96m-65.76 11.96h1.96m28.98 1.99h1.96m23.17 0h1.96m-42.56 1.99h1.96m28.97 1.99h1.96m-100.56 5.98h1.96m56.04 0h1.96m46.38 3.99h1.96m-81.23 5.98h1.96m15.44 0h1.96m11.57 3.98h1.96m-9.69 3.99h1.96m36.71 3.98h1.96m-146.96 11.96h1.96m-15.5 3.98h1.96m52.18 0h1.96m5.77 5.98h1.96m13.51 0h1.96m36.7 0h1.96m11.58 0h1.96m28.97 1.99h1.96m-160.49 2h1.96m32.84 0h1.96m88.9 15.94h1.96m-19.36 9.96h1.96m9.64 2h1.96m61.84 1.99h1.96m-32.89 3.98h1.96" stroke="#8781c9"/>
<path d="M340.80 220.40h1.96m9.64 0h1.96m7.71 0h1.96m11.57 0h1.96m32.84 0h1.96m-.03 0h1.96m5.78 0h1.96m21.24 0h1.96m-73.5 1.99h1.96m36.71 0h1.96m44.44 0h1.96m5.77 0h1.96m3.84 0h1.96m-131.49 1.99h1.96m-7.76 1.99h1.96m15.44 0h1.96m30.91 0h1.96m3.84 0h1.96m25.1 0h1.96m15.44 0h1.96m-73.49 3.99h1.96m38.64 0h1.96m36.71 0h1.96m13.5 0h1.96m-90.89 7.97h1.96m79.24 0h1.96m-85.09 1.99h1.96m-42.56 2h1.96m11.57 0h1.96m115.97 0h1.96m-117.96 1.99h1.96m67.64 0h1.96m48.31 0h1.96m7.71 0h1.96m-65.76 1.99h1.96m-123.76 1.99h1.96m52.17 0h1.96m98.57 3.99h1.96m-77.36 3.99h1.96m5.78 0h1.96m30.9 0h1.96m1.91 3.98h1.96m-32.89 1.99h1.96m13.5 0h1.96m23.18 0h1.96m42.5 0h1.96m-116.02 2h1.96m90.84 0h1.96m-146.96 1.99h1.96m79.24 0h1.96m17.37 0h1.96m38.64 1.99h1.96m25.11 0h1.96m-125.7 1.99h1.96m-3.89 3.99h1.96m25.11 3.99h1.96m-87.03 3.98h1.96m11.57 0h1.96m112.11 0h1.96m-61.89 1.99h1.96m13.5 0h1.96m52.18 0h1.96m-67.7 3.99h1.96m9.64 0h1.96m27.04 0h1.96m17.38 0h1.96m42.5 0h1.96m5.78 0h1.96m-187.56 1.99h1.96m3.84 0h1.96m83.1 0h1.96m92.78 0h1.96m-139.23 5.98h1.96m32.84 0h1.96m30.91 0h1.96m-116.03 1.99h1.96m88.91 0h1.96m1.9 0h1.96m17.38 0h1.96m71.5 0h1.96m-158.56 2h1.96m104.38 1.99h1.96m34.77 0h1.96m-174.03 1.99h1.96m34.78 0h1.96m17.37 0h1.96m28.97 0h1.96m90.84 0h1.96m-181.76 1.99h1.96m27.04 0h1.96m3.84 2h1.96m-38.69 3.98h1.96m17.37 0h1.96m30.91 0h1.96m104.37 0h1.96m-121.82 1.99h1.96m133.37 3.99h1.96m11.57 1.99h1.96m3.84 0h1.96m-27.09 5.98h1.96m7.71 0h1.96m-123.76 1.99h1.96m3.84 0h1.96m110.17 0h1.96m17.37 0h1.96m-65.76 2h1.96m5.78 0h1.96m13.5 0h1.96m7.71 0h1.96m27.04 0h1.96m-.03 0h1.96m-63.82 3.98h1.96m7.7 0h1.96m25.11 0h1.96m-42.56 1.99h1.96m28.97 0h1.96m25.11 0h1.96m-61.89 2h1.96m5.77 0h1.96m40.57 1.99h1.96m-119.89 1.99h1.96m106.31 0h1.96m5.77 0h1.96m-123.76 2h1.96m75.37 0h1.96m7.71 0h1.96m27.04 1.99h1.96m11.57 0h1.96m3.84 0h1.96m-46.42 1.99h1.96m-.03 0h1.96m21.24 0h1.96m17.37 0h1.96m1.91 0h1.96m-.03 0h1.96m-36.76 1.99h1.96m-34.82 2h1.96m48.3 0h1.96m13.51 0h1.96m-191.43 1.99h1.96m9.64 0h1.96m28.98 0h1.96m114.04 0h1.96m13.5 0h1.96m-46.42 1.99h1.96m7.7 0h1.96m-.02 0h1.96m9.64 0h1.96m23.17 0h1.96m-123.76 1.99h1.96m1.91 0h1.96m59.9 0h1.96m5.78 0h1.96m59.9 0h1.96m-143.09 2h1.96m7.71 0h1.96m125.64 0h1.96m-133.43 3.98h1.96m-56.09 2h1.96m32.84 0h1.96m46.37 0h1.96m34.77 0h1.96m69.58 0h1.96m-38.7 3.98h1.96m-143.09 1.99h1.96m3.84 0h1.96m28.97 0h1.96m5.78 0h1.96m57.97 0h1.96m40.57 0h1.96m-150.82 2h1.96m-3.9 3.98h1.96m19.31 1.99h1.96m63.77 0h1.96m-69.62 2h1.96m34.77 0h1.96m34.77 0h1.96m11.58 0h1.96m28.97 0h1.96m30.91 0h1.96m-61.9 3.98h1.96m69.58 0h1.96m-183.7 2h1.96m-3.89 3.98h1.96m141.11 0h1.96m-137.3 1.99h1.96m48.31 0h1.96m52.17 0h1.96m9.64 0h1.96m30.91 0h1.96m15.44 0h1.96m-.03 0h1.96m3.84 0h1.96m-175.96 2h1.96m1.91 0h1.96m11.57 0h1.96m56.04 0h1.96m-.02 0h1.96m1.9 0h1.96m32.84 0h1.96m34.78 0h1.96m1.9 0h1.96m17.38 0h1.96m-172.1 3.98h1.96m11.58 0h1.96m56.04 0h1.96m21.24 0h1.96m-.03 0h1.96m-7.76 1.99h1.96m-92.83 2h1.96m-5.82 1.99h1.96m135.3 0h1.96m-.02 0h1.96m1.9 3.99h1.96m-162.42 1.99h1.96m17.37 0h1.96m-.03 0h1.96m5.78 0h1.96m1.9 0h1.96m65.71 0h1.96m5.77 0h1.96m1.91 0h1.96m19.31 0h1.96m-131.5 1.99h1.96m1.91 0h1.96m27.04 0h1.96m32.84 0h1.96m40.57 0h1.96m7.71 0h1.96m3.84 0h1.96m56.04 0h1.96m-179.83 1.99h1.96m-.02 0h1.96m143.04 0h1.96m-3.9 5.98h1.96m-61.89 1.99h1.96m73.44 0h1.96m-129.56 2h1.96m30.91 1.99h1.96m28.97 0h1.96m1.91 0h1.96m65.7 0h1.96m-112.16 1.99h1.96m32.84 0h1.96m17.38 0h1.96m9.64 0h1.96m19.3 0h1.96m-88.96 2h1.96m32.84 0h1.96m50.24 0h1.96m13.51 0h1.96m-92.83 1.99h1.96m73.44 3.98h1.96" stroke="#6f69c3"/>
<path d="M342.73 220.40h1.96m46.38 0h1.96m57.97 0h1.96m3.84 0h1.96m-106.36 1.99h1.96m96.64 0h1.96m-56.09 3.98h1.96m1.9 0h1.96m-67.69 2h1.96m46.37 0h1.96m61.84 0h1.96m13.51 1.99h1.96m-129.56 1.99h1.96m104.37 0h1.96m13.51 5.98h1.96m-141.16 1.99h1.96m117.91 0h1.96m-94.76 3.99h1.96m32.84 0h1.96m1.9 0h1.96m-.02 0h1.96m-7.76 1.99h1.96m54.1 0h1.96m3.84 0h1.96m-160.49 1.99h1.96m71.51 0h1.96m25.1 0h1.96m13.51 0h1.96m9.64 0h1.96m5.77 0h1.96m-121.82 2h1.96m79.24 0h1.96m-.03 0h1.96m19.31 0h1.96m69.57 0h1.96m-94.76 1.99h1.96m-40.63 1.99h1.96m71.51 0h1.96m-63.83 2h1.96m15.44 0h1.96m81.18 0h1.96m-175.96 5.97h1.96m11.57 0h1.96m59.91 0h1.96m54.1 0h1.96m-48.36 2h1.96m83.11 3.98h1.96m-108.29 9.97h1.96m40.57 3.98h1.96m-108.29 1.99h1.96m195.24 0h1.96m-189.5 3.99h1.96m50.24 0h1.96m-42.56 1.99h1.96m108.24 0h1.96m-34.82 1.99h1.96m21.24 3.99h1.96m-.03 0h1.96m-79.29 1.99h1.96m32.84 0h1.96m65.7 0h1.96m30.91 0h1.96m-183.69 2h1.96m36.7 0h1.96m-3.89 1.99h1.96m114.04 0h1.96m-.03 0h1.96m-127.62 1.99h1.96m139.17 0h1.96m-135.36 5.98h1.96m127.57 0h1.96m-145.02 1.99h1.96m3.84 0h1.96m59.9 0h1.96m-88.96 3.99h1.96m112.11 3.98h1.96m67.64 0h1.96m-27.09 3.99h1.96m11.57 0h1.96m-36.76 1.99h1.96m38.64 0h1.96m-15.49 1.99h1.96m-.03 2h1.96m15.44 1.99h1.96m7.71 0h1.96m-59.96 1.99h1.96m27.04 0h1.96m-29.03 1.99h1.96m54.11 0h1.96m-137.3 2h1.96m-9.69 1.99h1.96m133.37 0h1.96m-48.36 1.99h1.96m27.04 0h1.96m13.51 0h1.96m-30.96 3.99h1.96m-36.76 1.99h1.96m-61.89 3.99h1.96m85.04 1.99h1.96m40.57 0h1.96m-172.09 1.99h1.96m158.5 0h1.96m-123.76 7.97h1.96m-63.82 2h1.96m54.1 0h1.96m50.24 0h1.96m59.91 1.99h1.96m-125.69 11.95h1.96m112.1 0h1.96m9.64 2h1.96m9.64 0h1.96m-29.02 3.98h1.96m-1.96 2h1.96m-114.1 3.98h1.96m83.11 0h1.96m-108.29 1.99h1.96m36.7 0h1.96m25.11 0h1.96m85.04 0h1.96m-170.16 2h1.96m27.04 0h1.96m48.31 0h1.96m25.1 0h1.96m-79.29 3.98h1.96m158.51 1.99h1.96m-199.16 2h1.96m44.44 0h1.96m88.9 0h1.96m-81.22 3.98h1.96m94.7 2h1.96m-61.89 1.99h1.96m36.71 0h1.96m11.57 1.99h1.96m-125.69 1.99h1.96m46.37 0h1.96m-.03 0h1.96m27.04 0h1.96m90.84 0h1.96m-83.16 2h1.96m-44.49 5.97h1.96m13.51 0h1.96m46.37 5.98h1.96m-137.29 2h1.96m75.37 0h1.96m-46.43 5.97h1.96m13.51 0h1.96m48.31 0h1.96" stroke="#8175c9"/>
<path d="M346.60 220.40h1.96m15.44 5.97h1.96m-1.96 9.97h1.96m-32.89 11.95h1.96m-30.96 3.99h1.96m15.44 5.98h1.96m-3.9 23.91h1.96m88.91 31.88h1.96m27.04 2h1.96m-152.76 7.97h1.96m7.71 0h1.96m9.64 3.98h1.96m83.1 0h1.96m-40.62 3.99h1.96m5.77 1.99h1.96m-38.69 1.99h1.96m-42.56 5.98h1.96m104.37 0h1.96m7.71 3.99h1.96m9.64 17.93h1.96m-63.83 3.99h1.96m17.37 1.99h1.96m-3.89 3.99h1.96m13.51 1.99h1.96m-108.3 7.97h1.96m133.38 13.95h1.96m40.57 5.98h1.96m3.84 5.98h1.96m-146.96 13.94h1.96" stroke="#e199b7"/>
<path d="M348.53 220.40h1.96m-34.82 1.99h1.96m86.97 1.99h1.96m-129.56 1.99h1.96m28.97 0h1.96m7.71 0h1.96m-15.49 2h1.96m9.64 0h1.96m7.7 0h1.96m127.58 0h1.96m-164.36 3.98h1.96m81.17 0h1.96m48.31 0h1.96m-96.7 2h1.96m121.78 0h1.96m-175.96 1.99h1.96m28.97 0h1.96m54.11 0h1.96m17.37 0h1.96m-112.16 3.98h1.96m121.77 0h1.96m27.04 0h1.96m-85.09 2h1.96m40.57 0h1.96m11.58 0h1.96m23.17 0h1.96m-98.63 1.99h1.96m119.84 1.99h1.96m7.71 0h1.96m-75.43 5.98h1.96m5.78 0h1.96m28.97 1.99h1.96m-131.49 3.99h1.96m102.44 0h1.96m9.64 0h1.96m34.77 0h1.96m-.03 0h1.96m23.18 0h1.96m-56.1 1.99h1.96m5.78 0h1.96m-5.83 1.99h1.96m-119.89 2h1.96m110.17 0h1.96m-121.83 1.99h1.96m81.18 0h1.96m-94.76 3.98h1.96m162.37 0h1.96m-148.89 2h1.96m42.5 0h1.96m25.11 0h1.96m19.31 0h1.96m48.3 0h1.96m1.91 0h1.96m-32.89 1.99h1.96m1.9 0h1.96m-73.49 1.99h1.96m38.64 2h1.96m-108.29 1.99h1.96m73.44 0h1.96m25.1 0h1.96m-.02 0h1.96m54.1 0h1.96m-32.89 1.99h1.96m3.84 1.99h1.96m30.91 0h1.96m-83.16 2h1.96m-.03 0h1.96m32.84 0h1.96m44.44 0h1.96m5.77 0h1.96m3.84 0h1.96m-156.62 1.99h1.96m15.44 1.99h1.96m5.77 0h1.96m75.37 0h1.96m-.02 0h1.96m-67.7 1.99h1.96m42.51 0h1.96m38.64 0h1.96m-166.29 2h1.96m19.3 0h1.96m-15.49 5.98h1.96m-.03 0h1.96m30.91 0h1.96m34.77 0h1.96m112.11 0h1.96m-52.23 3.98h1.96m-29.02 1.99h1.96m-83.16 2h1.96m19.3 0h1.96m46.38 0h1.96m61.84 0h1.96m-150.83 1.99h1.96m115.97 0h1.96m1.91 0h1.96m-87.03 1.99h1.96m86.98 0h1.96m-56.1 1.99h1.96m15.44 0h1.96m57.98 0h1.96m-174.03 2h1.96m17.37 0h1.96m5.78 0h1.96m-.03 0h1.96m23.17 0h1.96m15.44 0h1.96m15.44 0h1.96m3.84 0h1.96m-.02 0h1.96m83.1 0h1.96m-179.82 1.99h1.96m23.17 0h1.96m11.57 0h1.96m15.44 0h1.96m34.78 0h1.96m7.7 0h1.96m40.58 0h1.96m19.3 0h1.96m-135.36 1.99h1.96m13.51 0h1.96m90.84 0h1.96m-112.16 2h1.96m3.84 0h1.96m3.84 0h1.96m27.04 0h1.96m7.71 0h1.96m57.97 0h1.96m7.71 0h1.96m-141.16 1.99h1.96m38.64 0h1.96m1.9 0h1.96m63.78 0h1.96m46.37 0h1.96m-54.16 1.99h1.96m-114.09 1.99h1.96m61.84 0h1.96m27.04 0h1.96m-98.63 2h1.96m7.71 0h1.96m9.64 0h1.96m3.84 0h1.96m11.57 0h1.96m23.17 0h1.96m9.64 0h1.96m-3.89 1.99h1.96m9.64 0h1.96m-.03 0h1.96m28.98 1.99h1.96m-127.63 1.99h1.96m44.44 0h1.96m-11.63 2h1.96m34.78 0h1.96m-75.43 1.99h1.96m77.31 0h1.96m-56.1 1.99h1.96m5.78 0h1.96m40.57 0h1.96m-25.16 2h1.96m19.31 1.99h1.96m3.84 0h1.96m-11.63 1.99h1.96m52.17 0h1.96m-50.29 1.99h1.96m-1.96 2h1.96m21.24 0h1.96m-46.43 1.99h1.96m-34.82 1.99h1.96m32.84 0h1.96m25.1 1.99h1.96m1.91 0h1.96m-75.43 5.98h1.96m79.24 0h1.96m81.18 0h1.96m-125.7 2h1.96m-52.22 1.99h1.96m44.44 1.99h1.96m-.03 0h1.96m23.17 0h1.96m88.91 0h1.96m-.03 0h1.96m-81.22 1.99h1.96m19.3 2h1.96m63.78 0h1.96m-150.83 1.99h1.96m110.17 0h1.96m11.58 0h1.96m40.57 0h1.96m-139.23 1.99h1.96m-44.49 1.99h1.96m15.44 0h1.96m152.71 0h1.96m-48.36 3.99h1.96m36.7 0h1.96m-85.09 1.99h1.96m81.17 0h1.96m-127.62 2h1.96m81.17 0h1.96m30.91 0h1.96m-19.36 3.98h1.96m9.64 0h1.96m-145.03 3.99h1.96m5.77 1.99h1.96m13.51 0h1.96m28.97 0h1.96m27.04 0h1.96m15.44 0h1.96m-125.69 1.99h1.96m148.84 0h1.96m-114.09 1.99h1.96m15.44 0h1.96m115.97 0h1.96m-129.56 2h1.96m-25.16 1.99h1.96m115.97 0h1.96m30.91 0h1.96m-141.16 1.99h1.96m44.44 0h1.96m15.44 0h1.96m23.17 0h1.96m46.38 0h1.96m5.77 0h1.96m-170.16 2h1.96m135.31 1.99h1.96m-90.9 3.98h1.96m42.51 0h1.96m9.64 0h1.96m1.91 0h1.96m17.37 0h1.96m11.57 0h1.96m13.51 0h1.96m-94.76 2h1.96m61.84 0h1.96m11.57 0h1.96m-137.29 1.99h1.96m48.31 0h1.96m108.24 0h1.96m-158.56 1.99h1.96m40.57 0h1.96m65.71 0h1.96m17.37 0h1.96m-145.03 1.99h1.96m1.91 0h1.96m32.84 3.99h1.96m-38.69 1.99h1.96m3.84 0h1.96m21.24 0h1.96m1.9 0h1.96m27.04 0h1.96m77.31 0h1.96m-143.09 2h1.96m96.64 0h1.96m-104.43 1.99h1.96m48.31 0h1.96m5.77 0h1.96m59.91 0h1.96m-83.16 1.99h1.96m141.1 0h1.96m7.71 0h1.96m-150.83 1.99h1.96m133.38 0h1.96" stroke="#cf9fcf"/>
<path d="M354.33 220.40h1.96m48.31 0h1.96m30.91 0h1.96m1.9 0h1.96m-44.49 1.99h1.96m52.17 0h1.96m-112.16 1.99h1.96m-7.76 1.99h1.96m65.71 0h1.96m40.57 0h1.96m-56.09 2h1.96m67.64 0h1.96m-9.69 1.99h1.96m1.9 9.96h1.96m-25.16 3.99h1.96m-121.82 1.99h1.96m23.17 0h1.96m44.44 0h1.96m-92.83 1.99h1.96m71.51 2h1.96m40.57 3.98h1.96m-50.29 7.97h1.96m44.44 0h1.96m-7.76 2h1.96m-116.03 1.99h1.96m77.31 0h1.96m71.51 0h1.96m-56.1 3.98h1.96m-106.36 3.99h1.96m112.11 0h1.96m77.31 7.97h1.96m-110.23 1.99h1.96m42.51 0h1.96m19.3 0h1.96m-58.02 3.99h1.96m69.57 0h1.96m1.91 0h1.96m5.77 0h1.96m5.77 3.98h1.96m-83.16 3.99h1.96m17.38 0h1.96m-129.56 1.99h1.96m67.64 0h1.96m1.9 0h1.96m56.04 0h1.96m3.84 0h1.96m-116.02 3.99h1.96m7.7 0h1.96m67.64 0h1.96m85.04 0h1.96m-189.49 1.99h1.96m121.77 0h1.96m-98.62 1.99h1.96m23.17 0h1.96m102.44 0h1.96m-114.09 2h1.96m141.1 0h1.96m-145.02 1.99h1.96m127.57 0h1.96m5.77 0h1.96m-13.56 1.99h1.96m-88.96 5.98h1.96m65.71 0h1.96m-17.43 1.99h1.96m52.18 0h1.96m-135.36 5.98h1.96m79.24 0h1.96m25.1 0h1.96m23.18 0h1.96m1.9 0h1.96m-36.76 1.99h1.96m1.91 0h1.96m-17.43 2h1.96m28.98 0h1.96m-21.3 3.98h1.96m-23.22 1.99h1.96m52.17 0h1.96m-38.69 2h1.96m13.5 0h1.96m-.02 0h1.96m13.5 0h1.96m-135.36 3.98h1.96m121.78 2h1.96m-121.83 1.99h1.96m83.11 0h1.96m1.9 0h1.96m44.44 0h1.96m-40.62 1.99h1.96m32.84 0h1.96m-137.3 1.99h1.96m3.84 2h1.96m127.58 0h1.96m-36.76 1.99h1.96m5.77 0h1.96m-30.96 1.99h1.96m13.51 1.99h1.96m3.84 0h1.96m-.03 0h1.96m-9.69 2h1.96m17.37 0h1.96m13.51 0h1.96m1.9 0h1.96m-181.76 5.98h1.96m75.38 0h1.96m48.3 1.99h1.96m52.18 0h1.96m-191.43 5.98h1.96m9.64 0h1.96m162.37 0h1.96m-150.82 7.97h1.96m19.3 0h1.96m11.58 0h1.96m27.04 0h1.96m9.64 0h1.96m-77.36 5.98h1.96m-9.7 1.99h1.96m5.78 0h1.96m1.9 1.99h1.96m75.38 0h1.96m-15.5 1.99h1.96m9.64 0h1.96m71.51 0h1.96m-168.23 2h1.96m34.78 0h1.96m46.37 0h1.96m19.31 0h1.96m-34.83 3.98h1.96m106.31 0h1.96m-102.5 1.99h1.96m-.02 0h1.96m38.64 2h1.96m-94.76 3.98h1.96m5.77 2h1.96m-32.89 1.99h1.96m61.84 0h1.96m21.24 0h1.96m9.64 0h1.96m34.77 0h1.96m-92.83 1.99h1.96m5.78 0h1.96m40.57 0h1.96m3.84 0h1.96m-52.23 7.97h1.96m86.98 0h1.96m-75.43 1.99h1.96m77.31 0h1.96m-125.7 3.99h1.96m30.91 0h1.96m27.04 0h1.96m48.31 0h1.96m-25.16 1.99h1.96m34.77 2h1.96" stroke="#756fc3"/>
<path d="M356.27 220.40h1.96m13.5 0h1.96m32.84 0h1.96m25.11 0h1.96m-34.83 1.99h1.96m32.84 0h1.96m1.91 0h1.96m13.51 0h1.96m1.9 0h1.96m7.71 0h1.96m5.77 0h1.96m-143.09 1.99h1.96m83.11 0h1.96m15.44 3.99h1.96m1.9 0h1.96m5.78 0h1.96m7.7 0h1.96m-75.42 1.99h1.96m-.03 0h1.96m1.91 0h1.96m-52.23 7.97h1.96m-.03 0h1.96m73.44 0h1.96m-121.82 3.99h1.96m69.57 0h1.96m9.64 0h1.96m-.03 0h1.96m50.24 0h1.96m17.38 0h1.96m5.77 0h1.96m-100.56 1.99h1.96m54.11 0h1.96m-141.16 1.99h1.96m44.44 0h1.96m-30.96 1.99h1.96m67.64 0h1.96m77.3 0h1.96m-87.02 2h1.96m54.1 0h1.96m46.38 0h1.96m-172.1 1.99h1.96m139.18 0h1.96m-143.1 3.99h1.96m94.71 0h1.96m23.17 0h1.96m13.51 0h1.96m15.44 0h1.96m13.51 0h1.96m-100.56 3.98h1.96m106.3 0h1.96m-137.29 1.99h1.96m19.31 0h1.96m9.64 0h1.96m7.7 0h1.96m5.78 0h1.96m85.04 0h1.96m-81.23 2h1.96m-116.03 1.99h1.96m-.02 0h1.96m7.7 0h1.96m88.91 0h1.96m48.31 0h1.96m-81.23 1.99h1.96m1.91 0h1.96m1.9 0h1.96m1.91 0h1.96m46.37 0h1.96m38.64 0h1.96m-108.29 1.99h1.96m9.64 0h1.96m-75.43 3.99h1.96m96.64 0h1.96m52.18 0h1.96m1.9 0h1.96m17.38 0h1.96m-127.63 1.99h1.96m34.77 0h1.96m98.58 0h1.96m-195.3 2h1.96m69.58 3.98h1.96m-.03 0h1.96m9.64 0h1.96m94.71 0h1.96m-183.7 1.99h1.96m85.04 3.99h1.96m3.84 0h1.96m11.58 0h1.96m9.64 0h1.96m-75.43 1.99h1.96m127.57 0h1.96m7.71 0h1.96m1.91 0h1.96m-117.96 5.98h1.96m9.64 0h1.96m-65.76 1.99h1.96m27.04 0h1.96m30.9 0h1.96m77.31 0h1.96m-3.89 2h1.96m-148.9 1.99h1.96m9.64 0h1.96m40.58 0h1.96m19.3 0h1.96m-71.56 1.99h1.96m69.58 0h1.96m46.37 0h1.96m19.31 0h1.96m3.84 0h1.96m-164.36 1.99h1.96m38.64 0h1.96m77.3 0h1.96m69.58 0h1.96m-88.96 2h1.96m-.03 0h1.96m25.11 0h1.96m17.37 0h1.96m36.71 0h1.96m-183.7 1.99h1.96m173.98 0h1.96m-108.3 1.99h1.96m1.91 0h1.96m34.77 0h1.96m11.58 0h1.96m46.37 0h1.96m-27.09 1.99h1.96m11.57 2h1.96m-81.23 1.99h1.96m57.98 0h1.96m30.9 0h1.96m-77.36 1.99h1.96m44.44 3.99h1.96m32.84 0h1.96m-137.29 1.99h1.96m67.64 0h1.96m21.24 0h1.96m-17.43 1.99h1.96m-75.42 2h1.96m112.1 0h1.96m7.71 0h1.96m-15.49 3.98h1.96m13.5 0h1.96m-58.02 1.99h1.96m30.9 3.99h1.96m19.31 0h1.96m-125.69 1.99h1.96m81.17 0h1.96m21.24 0h1.96m-9.69 2h1.96m-25.16 1.99h1.96m-81.23 3.98h1.96m96.64 0h1.96m-5.83 2h1.96m30.91 0h1.96m5.77 0h1.96m-162.42 1.99h1.96m19.3 0h1.96m-.02 0h1.96m88.9 0h1.96m-1.96 3.98h1.96m-152.76 7.98h1.96m57.98 0h1.96m114.04 0h1.96m-46.43 1.99h1.96m50.24 0h1.96m3.84 1.99h1.96m-166.29 3.99h1.96m144.97 0h1.96m-15.49 1.99h1.96m-156.63 3.98h1.96m56.04 0h1.96m-63.83 2h1.96m9.64 0h1.96m19.31 0h1.96m9.64 0h1.96m44.44 0h1.96m104.37 0h1.96m-7.76 3.98h1.96m-164.36 3.99h1.96m-29.02 1.99h1.96m71.5 0h1.96m44.44 0h1.96m-110.22 1.99h1.96m40.57 0h1.96m127.57 0h1.96m-.02 0h1.96m-183.7 2h1.96m23.18 0h1.96m92.77 0h1.96m-127.63 3.98h1.96m30.91 0h1.96m131.44 0h1.96m-92.83 1.99h1.96m32.84 0h1.96m42.51 0h1.96m34.77 0h1.96m-102.49 2h1.96m3.84 0h1.96m34.77 0h1.96m-131.49 1.99h1.96m104.37 1.99h1.96m28.98 0h1.96m-83.16 3.99h1.96m63.77 0h1.96m3.84 0h1.96m25.11 0h1.96m-139.23 1.99h1.96m92.77 0h1.96m25.11 0h1.96m-116.03 1.99h1.96m-5.82 2h1.96m94.7 0h1.96m-106.36 1.99h1.96m19.31 0h1.96m69.57 1.99h1.96m19.31 0h1.96m46.37 0h1.96m5.78 0h1.96m-187.56 1.99h1.96m150.77 0h1.96m-83.16 2h1.96m30.91 1.99h1.96m3.84 0h1.96m11.57 0h1.96m15.44 0h1.96m11.57 0h1.96m17.38 0h1.96m-90.9 1.99h1.96m88.91 0h1.96m11.57 0h1.96m1.91 0h1.96m-177.89 2h1.96m25.1 0h1.96m-.02 0h1.96m90.84 0h1.96m-92.83 1.99h1.96m88.91 0h1.96m-15.5 3.98h1.96" stroke="#817bc9"/>
<path d="M358.20 220.40h1.96m23.17 0h1.96m36.71 0h1.96m15.44 0h1.96m25.11 0h1.96m-65.76 1.99h1.96m57.97 0h1.96m13.51 0h1.96m-143.1 1.99h1.96m119.84 0h1.96m-116.02 1.99h1.96m52.17 0h1.96m-59.96 2h1.96m1.91 0h1.96m15.44 0h1.96m9.64 0h1.96m38.64 0h1.96m-34.83 1.99h1.96m50.24 0h1.96m-75.43 1.99h1.96m11.58 0h1.96m38.64 0h1.96m-48.36 2h1.96m23.17 0h1.96m1.91 0h1.96m3.84 0h1.96m5.77 0h1.96m3.84 0h1.96m34.77 0h1.96m3.84 0h1.96m-125.69 1.99h1.96m106.31 0h1.96m-112.16 1.99h1.96m3.84 0h1.96m13.5 0h1.96m46.38 0h1.96m40.57 0h1.96m-117.96 1.99h1.96m19.31 0h1.96m114.04 0h1.96m-61.9 2h1.96m42.51 0h1.96m15.44 0h1.96m-133.43 1.99h1.96m59.91 0h1.96m17.37 0h1.96m13.51 0h1.96m19.31 0h1.96m-143.1 1.99h1.96m17.38 0h1.96m9.64 0h1.96m42.5 0h1.96m19.31 0h1.96m27.04 0h1.96m-164.36 1.99h1.96m9.64 0h1.96m46.37 0h1.96m-58.02 2h1.96m11.57 0h1.96m-.03 0h1.96m40.58 0h1.96m63.77 0h1.96m13.51 0h1.96m7.7 0h1.96m23.18 0h1.96m7.7 0h1.96m3.84 0h1.96m-131.49 1.99h1.96m-61.89 1.99h1.96m79.24 0h1.96m9.64 0h1.96m23.17 0h1.96m67.64 0h1.96m-.03 0h1.96m1.91 0h1.96m-117.96 2h1.96m1.91 0h1.96m-67.7 3.98h1.96m57.98 0h1.96m48.3 0h1.96m11.58 0h1.96m-52.23 1.99h1.96m46.37 0h1.96m50.24 0h1.96m-187.56 2h1.96m54.11 0h1.96m9.64 0h1.96m3.84 0h1.96m17.37 0h1.96m79.24 0h1.96m9.64 0h1.96m-117.96 1.99h1.96m50.24 0h1.96m1.91 0h1.96m7.71 0h1.96m27.04 0h1.96m-172.1 1.99h1.96m125.64 0h1.96m-.02 0h1.96m-125.7 1.99h1.96m63.78 0h1.96m15.44 0h1.96m-.03 0h1.96m3.84 0h1.96m13.51 0h1.96m11.57 0h1.96m34.77 2h1.96m-160.49 1.99h1.96m65.71 0h1.96m27.04 0h1.96m25.1 0h1.96m11.58 0h1.96m23.17 0h1.96m15.44 0h1.96m-183.69 1.99h1.96m69.57 0h1.96m25.11 0h1.96m23.17 0h1.96m40.57 0h1.96m-166.29 2h1.96m88.91 0h1.96m88.9 0h1.96m-181.76 3.98h1.96m59.91 0h1.96m17.37 0h1.96m40.58 0h1.96m-123.76 1.99h1.96m63.77 0h1.96m28.97 0h1.96m-.02 0h1.96m11.57 0h1.96m1.91 0h1.96m40.57 0h1.96m-154.69 3.99h1.96m90.84 0h1.96m69.57 0h1.96m17.37 0h1.96m-183.69 1.99h1.96m15.44 0h1.96m7.71 0h1.96m38.64 0h1.96m5.77 0h1.96m25.11 0h1.96m3.84 0h1.96m-.03 0h1.96m7.71 0h1.96m3.84 0h1.96m9.64 0h1.96m-27.1 1.99h1.96m-.02 0h1.96m42.5 0h1.96m-61.89 3.99h1.96m11.57 0h1.96m7.71 0h1.96m19.31 0h1.96m38.64 0h1.96m-174.03 1.99h1.96m3.84 0h1.96m144.97 0h1.96m-145.02 2h1.96m88.9 0h1.96m11.58 0h1.96m-100.56 1.99h1.96m1.9 0h1.96m-.02 0h1.96m23.17 0h1.96m7.71 0h1.96m38.64 0h1.96m40.57 0h1.96m28.97 0h1.96m-.02 0h1.96m-175.96 1.99h1.96m11.57 0h1.96m48.31 0h1.96m28.97 0h1.96m67.64 0h1.96m3.84 0h1.96m-158.56 1.99h1.96m85.04 0h1.96m1.91 0h1.96m-106.36 2h1.96m38.64 0h1.96m21.24 0h1.96m65.7 0h1.96m28.98 0h1.96m-160.5 1.99h1.96m5.78 0h1.96m21.24 0h1.96m28.97 0h1.96m23.17 0h1.96m73.44 0h1.96m1.91 0h1.96m-195.29 1.99h1.96m59.9 0h1.96m23.18 0h1.96m48.3 0h1.96m-25.16 5.98h1.96m13.51 0h1.96m27.04 0h1.96m-137.29 1.99h1.96m40.57 0h1.96m34.77 0h1.96m79.24 0h1.96m-19.36 3.99h1.96m9.64 1.99h1.96m17.38 0h1.96m-42.56 1.99h1.96m21.24 0h1.96m-52.23 2h1.96m9.64 0h1.96m15.44 0h1.96m5.77 0h1.96m7.71 1.99h1.96m-119.89 1.99h1.96m112.1 0h1.96m-56.09 1.99h1.96m15.44 0h1.96m-11.63 2h1.96m36.71 0h1.96m-102.49 1.99h1.96m131.44 0h1.96m-71.56 1.99h1.96m27.04 0h1.96m1.9 0h1.96m11.58 0h1.96m17.37 0h1.96m-139.23 2h1.96m90.84 0h1.96m-3.89 1.99h1.96m15.44 0h1.96m11.57 0h1.96m17.38 0h1.96m-44.5 1.99h1.96m-98.62 1.99h1.96m114.04 0h1.96m-34.83 2h1.96m1.91 0h1.96m38.64 0h1.96m-162.43 1.99h1.96m9.64 0h1.96m23.17 0h1.96m63.78 0h1.96m56.04 0h1.96m-154.7 1.99h1.96m36.71 0h1.96m98.57 0h1.96m-174.02 3.99h1.96m15.44 0h1.96m13.5 0h1.96m3.84 0h1.96m90.84 0h1.96m38.64 0h1.96m21.24 0h1.96m-148.89 1.99h1.96m88.91 0h1.96m-127.63 3.99h1.96m19.31 0h1.96m9.64 0h1.96m17.37 0h1.96m-.03 0h1.96m-.02 0h1.96m30.9 0h1.96m11.58 0h1.96m9.64 1.99h1.96m1.9 0h1.96m21.24 0h1.96m-.02 0h1.96m9.64 0h1.96m-17.43 3.98h1.96m28.97 0h1.96m-.02 0h1.96m-32.9 2h1.96m19.31 0h1.96m-177.89 1.99h1.96m21.24 1.99h1.96m7.7 0h1.96m152.71 0h1.96m-92.83 1.99h1.96m96.64 0h1.96m-129.56 2h1.96m17.38 0h1.96m13.5 0h1.96m75.38 0h1.96m-123.76 3.98h1.96m11.57 0h1.96m32.84 0h1.96m61.84 0h1.96m-154.69 2h1.96m28.97 0h1.96m19.31 0h1.96m-46.43 1.99h1.96m5.77 0h1.96m63.78 0h1.96m23.17 0h1.96m-117.96 1.99h1.96m57.97 0h1.96m-.02 0h1.96m36.7 0h1.96m21.24 0h1.96m46.38 0h1.96m11.57 0h1.96m-168.23 1.99h1.96m65.71 0h1.96m32.84 0h1.96m59.91 0h1.96m-127.63 2h1.96m21.24 0h1.96m15.44 0h1.96m25.11 0h1.96m36.7 0h1.96m11.58 0h1.96m-117.96 3.98h1.96m-17.43 1.99h1.96m15.44 0h1.96m19.31 0h1.96m5.77 0h1.96m9.64 0h1.96m13.51 0h1.96m32.84 0h1.96m27.04 0h1.96m1.9 0h1.96m-181.76 2h1.96m17.38 0h1.96m46.37 0h1.96m-69.63 1.99h1.96m28.98 0h1.96m32.84 0h1.96m48.3 0h1.96m-73.49 1.99h1.96m27.04 0h1.96m40.57 0h1.96m25.11 0h1.96m27.04 0h1.96m-189.49 2h1.96m40.57 0h1.96m117.91 0h1.96m32.84 0h1.96m-137.3 1.99h1.96m25.11 0h1.96m-94.76 1.99h1.96m38.64 1.99h1.96m1.91 0h1.96m5.77 0h1.96m30.91 0h1.96m-.03 2h1.96m46.37 0h1.96m28.98 0h1.96m30.9 0h1.96m-175.96 1.99h1.96m21.24 0h1.96m77.31 0h1.96m-112.16 1.99h1.96m28.97 0h1.96m25.11 0h1.96m17.37 0h1.96m3.84 0h1.96m85.04 0h1.96m-100.56 1.99h1.96m50.24 0h1.96m19.31 0h1.96m9.64 0h1.96m-150.83 2h1.96m52.18 0h1.96m-.03 0h1.96m36.71 0h1.96m19.3 0h1.96m36.71 0h1.96m-58.03 1.99h1.96m17.38 0h1.96m23.17 0h1.96m-71.56 1.99h1.96m13.51 0h1.96m65.7 0h1.96m-164.36 2h1.96m3.84 0h1.96m63.78 0h1.96m13.5 0h1.96m11.58 0h1.96m65.7 0h1.96m-.02 0h1.96m-172.1 1.99h1.96m56.04 0h1.96m25.11 0h1.96m59.91 0h1.96m-160.5 1.99h1.96" stroke="#8d81c9"/>
<path d="M360.13 220.40h1.96m69.58 0h1.96m11.57 0h1.96m-108.29 1.99h1.96m40.57 0h1.96m3.84 0h1.96m23.17 0h1.96m19.31 0h1.96m36.71 0h1.96m-25.16 3.98h1.96m23.17 0h1.96m-133.43 2h1.96m27.04 0h1.96m27.04 1.99h1.96m13.51 0h1.96m21.24 1.99h1.96m-29.03 2h1.96m25.11 0h1.96m-61.89 1.99h1.96m-46.43 1.99h1.96m115.97 0h1.96m-81.22 1.99h1.96m75.37 0h1.96m15.44 0h1.96m-189.49 2h1.96m3.84 0h1.96m61.84 0h1.96m3.84 0h1.96m21.24 0h1.96m61.84 0h1.96m11.57 0h1.96m-141.16 1.99h1.96m7.71 0h1.96m28.97 0h1.96m21.24 0h1.96m-88.96 1.99h1.96m42.51 0h1.96m21.24 0h1.96m3.84 0h1.96m21.24 0h1.96m50.24 0h1.96m1.9 0h1.96m-77.36 1.99h1.96m-.02 0h1.96m-11.63 2h1.96m30.91 0h1.96m15.44 0h1.96m25.1 0h1.96m-145.02 1.99h1.96m88.9 1.99h1.96m19.31 0h1.96m30.91 0h1.96m-156.63 2h1.96m168.17 0h1.96m-119.89 3.98h1.96m115.97 0h1.96m9.64 0h1.96m-185.62 1.99h1.96m77.3 0h1.96m-88.96 2h1.96m15.44 0h1.96m44.44 0h1.96m30.91 0h1.96m13.51 0h1.96m-9.7 1.99h1.96m17.38 0h1.96m42.5 0h1.96m-152.76 1.99h1.96m81.18 0h1.96m52.17 0h1.96m11.57 0h1.96m-30.96 1.99h1.96m-.02 0h1.96m15.44 0h1.96m-96.7 3.99h1.96m9.64 1.99h1.96m7.71 0h1.96m27.04 0h1.96m67.64 0h1.96m5.77 0h1.96m-36.76 2h1.96m9.64 0h1.96m-59.96 3.98h1.96m21.24 0h1.96m3.84 0h1.96m21.24 0h1.96m-154.69 1.99h1.96m50.24 0h1.96m-.03 0h1.96m23.18 0h1.96m34.77 0h1.96m48.31 0h1.96m7.7 0h1.96m-114.09 3.99h1.96m1.91 0h1.96m106.3 0h1.96m-160.49 1.99h1.96m9.64 0h1.96m32.84 0h1.96m9.64 0h1.96m42.51 0h1.96m19.3 0h1.96m5.78 0h1.96m1.9 0h1.96m7.71 0h1.96m-148.89 1.99h1.96m3.84 0h1.96m1.9 0h1.96m48.31 0h1.96m54.11 0h1.96m-56.1 3.99h1.96m83.11 0h1.96m-77.36 1.99h1.96m71.51 0h1.96m-146.96 2h1.96m11.57 0h1.96m9.64 0h1.96m71.51 0h1.96m36.7 0h1.96m19.31 0h1.96m-172.09 1.99h1.96m-.03 0h1.96m5.77 0h1.96m83.11 0h1.96m73.44 0h1.96m-183.69 1.99h1.96m11.57 0h1.96m15.44 0h1.96m63.77 0h1.96m-.02 0h1.96m21.24 0h1.96m30.9 0h1.96m7.71 0h1.96m15.44 0h1.96m-135.36 1.99h1.96m34.77 0h1.96m11.58 0h1.96m61.84 0h1.96m11.57 0h1.96m-172.09 2h1.96m98.57 0h1.96m61.84 0h1.96m-168.23 1.99h1.96m34.78 0h1.96m38.64 0h1.96m3.84 0h1.96m3.84 0h1.96m11.57 0h1.96m52.17 0h1.96m15.44 0h1.96m-162.42 1.99h1.96m17.37 0h1.96m67.64 0h1.96m54.11 0h1.96m21.24 0h1.96m-56.1 1.99h1.96m-7.76 3.99h1.96m56.04 0h1.96m-117.96 1.99h1.96m3.84 0h1.96m30.91 0h1.96m23.17 0h1.96m25.11 0h1.96m15.44 0h1.96m-46.43 2h1.96m5.78 0h1.96m46.37 0h1.96m-56.09 3.98h1.96m36.7 0h1.96m1.91 0h1.96m11.57 0h1.96m-46.42 1.99h1.96m34.77 0h1.96m1.91 2h1.96m1.9 0h1.96m-59.96 1.99h1.96m1.91 0h1.96m19.31 0h1.96m3.84 0h1.96m21.24 0h1.96m5.77 0h1.96m-.03 0h1.96m-61.89 1.99h1.96m21.24 1.99h1.96m34.77 0h1.96m-42.56 2h1.96m28.98 0h1.96m-125.7 1.99h1.96m104.38 0h1.96m15.44 0h1.96m5.77 0h1.96m-.03 1.99h1.96m-.02 0h1.96m-54.16 2h1.96m25.1 0h1.96m17.38 0h1.96m-25.16 1.99h1.96m-108.3 1.99h1.96m110.18 0h1.96m9.64 0h1.96m-133.43 1.99h1.96m106.31 0h1.96m17.37 0h1.96m13.51 0h1.96m-40.63 2h1.96m-127.63 1.99h1.96m25.11 1.99h1.96m63.77 0h1.96m48.31 0h1.96m-54.16 1.99h1.96m71.51 0h1.96m-69.63 2h1.96m17.37 0h1.96m-87.02 1.99h1.96m-7.76 1.99h1.96m-23.23 2h1.96m23.17 0h1.96m57.98 0h1.96m7.7 0h1.96m30.91 0h1.96m-.03 0h1.96m-.02 0h1.96m5.77 0h1.96m11.57 1.99h1.96m-34.82 1.99h1.96m-123.76 1.99h1.96m121.77 2h1.96m21.24 0h1.96m3.84 0h1.96m7.71 0h1.96m-160.5 1.99h1.96m-19.36 1.99h1.96m50.24 0h1.96m50.24 0h1.96m-127.62 1.99h1.96m59.9 2h1.96m110.18 0h1.96m-148.9 1.99h1.96m71.51 0h1.96m-61.89 1.99h1.96m30.9 0h1.96m5.78 2h1.96m-59.96 1.99h1.96m168.17 0h1.96m-106.36 1.99h1.96m5.77 0h1.96m85.04 0h1.96m-160.49 1.99h1.96m28.97 0h1.96m34.78 0h1.96m83.1 0h1.96m-179.82 2h1.96m9.64 0h1.96m61.84 0h1.96m30.9 0h1.96m59.91 0h1.96m15.44 0h1.96m-166.29 3.98h1.96m28.97 0h1.96m3.84 0h1.96m-.03 0h1.96m23.18 0h1.96m3.84 0h1.96m32.84 0h1.96m25.1 0h1.96m5.78 0h1.96m-137.3 1.99h1.96m11.58 0h1.96m79.24 0h1.96m-.03 0h1.96m-65.76 2h1.96m50.24 0h1.96m42.51 0h1.96m3.84 0h1.96m1.9 0h1.96m-141.16 1.99h1.96m30.91 0h1.96m63.77 0h1.96m28.98 0h1.96m38.64 0h1.96m-193.36 1.99h1.96m40.57 0h1.96m144.97 0h1.96m-.02 0h1.96m-162.43 2h1.96m56.04 0h1.96m21.24 0h1.96m-112.16 1.99h1.96m59.91 0h1.96m79.24 0h1.96m1.9 0h1.96m-106.36 1.99h1.96m-13.56 1.99h1.96m17.38 0h1.96m-59.96 2h1.96m125.64 0h1.96m-29.03 3.98h1.96m36.71 0h1.96m11.57 0h1.96m13.51 0h1.96m-125.7 1.99h1.96m27.04 0h1.96m15.44 0h1.96m25.11 0h1.96m19.31 0h1.96m21.24 2h1.96m-.03 0h1.96m-143.09 1.99h1.96m69.57 0h1.96m17.37 0h1.96m1.91 0h1.96m28.97 0h1.96m40.58 0h1.96m-117.96 1.99h1.96m23.17 0h1.96m-79.29 2h1.96m57.97 0h1.96m15.44 0h1.96m9.64 0h1.96m15.44 0h1.96m19.31 0h1.96m19.3 0h1.96m17.38 0h1.96m-193.36 1.99h1.96m85.04 0h1.96m23.17 0h1.96m-114.09 3.98h1.96m94.7 0h1.96" stroke="#877bc9"/>
<path d="M365.93 220.40h1.96m-52.22 3.98h1.96m3.84 0h1.96m-34.83 1.99h1.96m42.51 0h1.96m-15.5 2h1.96m154.64 3.98h1.96m-201.09 2h1.96m77.31 1.99h1.96m59.9 0h1.96m9.64 0h1.96m-69.62 1.99h1.96m-32.9 3.99h1.96m96.64 0h1.96m-129.56 9.96h1.96m79.24 0h1.96m9.64 0h1.96m19.31 0h1.96m30.91 0h1.96m-141.16 3.99h1.96m115.97 0h1.96m-92.83 1.99h1.96m77.31 0h1.96m-98.63 1.99h1.96m139.18 0h1.96m-185.63 3.99h1.96m148.84 0h1.96m-100.56 5.97h1.96m32.84 2h1.96m23.17 0h1.96m61.84 1.99h1.96m-162.42 3.99h1.96m131.44 0h1.96m-125.7 1.99h1.96m69.58 0h1.96m56.04 0h1.96m27.04 0h1.96m-160.5 1.99h1.96m-13.56 3.99h1.96m-.02 0h1.96m50.24 0h1.96m119.84 0h1.96m-166.3 1.99h1.96m123.71 3.98h1.96m-9.69 2h1.96m13.5 0h1.96m-90.89 9.96h1.96m59.91 0h1.96m34.77 1.99h1.96m-141.16 3.99h1.96m23.17 0h1.96m81.18 0h1.96m-13.56 1.99h1.96m56.04 0h1.96m-94.76 1.99h1.96m75.37 0h1.96m-158.56 2h1.96m9.64 0h1.96m30.91 3.98h1.96m44.44 2h1.96m23.17 0h1.96m17.37 0h1.96m-143.09 1.99h1.96m-5.83 1.99h1.96m75.38 0h1.96m-77.36 1.99h1.96m40.57 0h1.96m36.71 0h1.96m-46.43 2h1.96m13.51 0h1.96m27.04 0h1.96m17.37 1.99h1.96m-69.63 1.99h1.96m-23.22 3.99h1.96m54.1 0h1.96m46.38 0h1.96m-71.56 1.99h1.96m59.9 0h1.96m-90.89 3.99h1.96m-23.23 1.99h1.96m9.64 0h1.96m38.64 0h1.96m-46.42 1.99h1.96m44.44 0h1.96m-7.76 1.99h1.96m-23.23 2h1.96m23.17 0h1.96m-.02 0h1.96m-42.56 1.99h1.96m104.37 0h1.96m-123.76 1.99h1.96m21.24 0h1.96m67.64 0h1.96m-48.36 1.99h1.96m-34.83 3.99h1.96m1.91 0h1.96m59.91 0h1.96m38.64 0h1.96m9.64 0h1.96m63.77 0h1.96m-187.56 1.99h1.96m94.71 0h1.96m15.44 0h1.96m13.5 0h1.96m1.91 0h1.96m-127.63 3.99h1.96m21.24 0h1.96m3.84 0h1.96m27.04 0h1.96m71.51 0h1.96m-79.29 1.99h1.96m7.7 0h1.96m48.31 1.99h1.96m27.04 3.99h1.96m11.57 0h1.96m-81.22 1.99h1.96m25.1 0h1.96m28.98 1.99h1.96m-112.16 3.99h1.96m77.3 0h1.96m73.44 0h1.96m-32.89 1.99h1.96m25.11 2h1.96m-27.1 7.97h1.96m-127.62 1.99h1.96m15.44 0h1.96m21.24 0h1.96m85.04 0h1.96m-25.16 1.99h1.96m23.17 0h1.96m13.51 0h1.96m-131.5 3.99h1.96m88.91 0h1.96m27.04 7.97h1.96m-36.76 3.98h1.96m-146.96 2h1.96m11.57 0h1.96m1.91 0h1.96m114.04 0h1.96m-77.36 3.98h1.96m-23.23 1.99h1.96m17.38 0h1.96m1.9 2h1.96m3.84 0h1.96m57.98 0h1.96m23.17 0h1.96m-141.16 3.98h1.96m19.31 0h1.96m19.3 2h1.96m-25.16 1.99h1.96m1.91 0h1.96m150.77 0h1.96m-172.09 1.99h1.96m19.31 0h1.96m38.64 0h1.96m30.9 0h1.96m-79.29 1.99h1.96m19.31 0h1.96m25.1 0h1.96" stroke="#db99bd"/>
<path d="M369.80 220.40h1.96m21.24 0h1.96m40.57 0h1.96m30.91 0h1.96m5.77 0h1.96m-.02 0h1.96m-143.1 1.99h1.96m30.91 0h1.96m-15.49 3.98h1.96m30.9 0h1.96m46.38 0h1.96m15.44 0h1.96m9.64 0h1.96m-88.96 2h1.96m28.97 0h1.96m30.91 0h1.96m19.3 0h1.96m-114.09 1.99h1.96m1.91 0h1.96m34.77 0h1.96m23.17 0h1.96m32.84 0h1.96m-125.69 7.97h1.96m104.37 0h1.96m9.64 0h1.96m13.51 0h1.96m-150.83 1.99h1.96m-1.96 2h1.96m5.78 0h1.96m5.77 0h1.96m-17.43 1.99h1.96m19.31 0h1.96m13.51 0h1.96m17.37 0h1.96m67.64 0h1.96m-.03 0h1.96m-52.22 3.98h1.96m27.04 0h1.96m15.44 0h1.96m17.37 0h1.96m-123.76 2h1.96m30.91 0h1.96m-3.9 3.98h1.96m-9.69 7.97h1.96m46.37 0h1.96m25.11 3.99h1.96m7.71 1.99h1.96m-148.9 1.99h1.96m63.78 0h1.96m42.5 0h1.96m69.58 0h1.96m-193.36 3.99h1.96m5.77 9.96h1.96m-13.56 3.99h1.96m65.71 0h1.96m9.64 0h1.96m19.3 0h1.96m25.11 0h1.96m-104.43 1.99h1.96m-.02 0h1.96m1.9 0h1.96m-3.89 5.98h1.96m13.51 0h1.96m44.44 0h1.96m5.77 0h1.96m3.84 0h1.96m54.11 0h1.96m-116.03 1.99h1.96m40.57 0h1.96m42.51 0h1.96m25.11 0h1.96m30.9 0h1.96m-30.96 3.99h1.96m19.31 0h1.96m-156.63 1.99h1.96m65.71 0h1.96m-61.89 3.99h1.96m3.84 3.98h1.96m9.64 0h1.96m117.9 0h1.96m-19.36 1.99h1.96m-36.76 11.96h1.96m15.44 0h1.96m3.84 0h1.96m17.38 0h1.96m3.84 0h1.96m-52.23 1.99h1.96m9.64 0h1.96m1.91 0h1.96m9.64 0h1.96m19.3 0h1.96m-116.02 2h1.96m-3.9 1.99h1.96m1.91 0h1.96m106.31 0h1.96m3.84 0h1.96m5.77 0h1.96m-127.63 1.99h1.96m73.44 0h1.96m13.51 0h1.96m27.04 0h1.96m9.64 0h1.96m1.91 0h1.96m-61.9 1.99h1.96m15.44 0h1.96m-.02 0h1.96m3.84 0h1.96m9.64 0h1.96m19.3 0h1.96m-21.29 2h1.96m7.71 0h1.96m-.03 0h1.96m11.57 0h1.96m-65.76 1.99h1.96m3.84 0h1.96m19.31 0h1.96m11.57 0h1.96m17.38 0h1.96m-58.03 1.99h1.96m1.91 0h1.96m23.17 0h1.96m17.37 0h1.96m-48.36 2h1.96m3.84 0h1.96m44.44 0h1.96m-67.69 1.99h1.96m27.04 0h1.96m-.03 0h1.96m23.18 0h1.96m-13.56 1.99h1.96m17.37 0h1.96m-127.63 1.99h1.96m61.84 0h1.96m-.02 0h1.96m15.44 0h1.96m-21.3 2h1.96m21.24 0h1.96m32.84 0h1.96m3.84 0h1.96m-127.62 1.99h1.96m86.97 0h1.96m13.51 0h1.96m3.84 1.99h1.96m-44.5 1.99h1.96m3.84 0h1.96m32.84 0h1.96m15.44 0h1.96m-131.49 2h1.96m-.03 0h1.96m114.04 0h1.96m13.51 0h1.96m-141.16 1.99h1.96m1.91 0h1.96m-3.9 1.99h1.96m-19.36 2h1.96m50.24 0h1.96m94.71 0h1.96m-30.96 1.99h1.96m32.84 0h1.96m-25.16 3.98h1.96m-162.43 2h1.96m61.84 0h1.96m117.91 0h1.96m-177.89 7.97h1.96m34.77 0h1.96m17.37 0h1.96m44.44 0h1.96m48.31 0h1.96m5.77 0h1.96m7.71 0h1.96m1.91 0h1.96m-162.43 9.96h1.96m52.17 0h1.96m3.84 0h1.96m9.64 0h1.96m50.24 0h1.96m25.11 0h1.96m-170.16 1.99h1.96m17.37 0h1.96m9.64 0h1.96m13.51 0h1.96m36.71 0h1.96m5.77 0h1.96m46.37 0h1.96m15.44 0h1.96m19.31 0h1.96m-168.23 2h1.96m11.58 0h1.96m86.97 0h1.96m-.03 0h1.96m48.31 0h1.96m-81.23 3.98h1.96m9.64 0h1.96m23.18 0h1.96m15.44 0h1.96m32.84 0h1.96m-148.9 3.99h1.96m7.71 0h1.96m131.44 1.99h1.96m-102.49 1.99h1.96m-3.9 3.99h1.96m40.58 0h1.96m23.17 0h1.96m34.77 0h1.96m-145.02 3.98h1.96m112.1 0h1.96m-59.96 5.98h1.96m56.04 1.99h1.96m23.18 0h1.96m-61.9 2h1.96m-1.96 1.99h1.96m-.02 0h1.96m42.5 0h1.96m15.44 0h1.96m-191.42 1.99h1.96m90.84 0h1.96m36.7 0h1.96m23.18 0h1.96m7.7 2h1.96m-121.82 1.99h1.96m11.57 3.98h1.96" stroke="#6969c3"/>
<path d="M377.53 220.40h1.96m38.64 0h1.96m-100.56 1.99h1.96m19.31 0h1.96m61.84 0h1.96m7.71 0h1.96m-36.76 1.99h1.96m86.97 0h1.96m-30.96 3.99h1.96m25.11 0h1.96m1.9 0h1.96m-90.89 3.98h1.96m3.84 0h1.96m15.44 0h1.96m-73.49 2h1.96m100.5 0h1.96m-96.69 1.99h1.96m19.31 0h1.96m28.97 0h1.96m25.11 0h1.96m-58.03 1.99h1.96m23.17 0h1.96m-.02 0h1.96m3.84 0h1.96m17.37 0h1.96m40.57 0h1.96m-174.02 1.99h1.96m38.64 0h1.96m25.1 0h1.96m-.02 0h1.96m3.84 0h1.96m5.77 0h1.96m-.03 0h1.96m79.24 0h1.96m7.71 0h1.96m-145.03 2h1.96m30.91 0h1.96m5.77 0h1.96m-.02 0h1.96m13.5 0h1.96m25.11 0h1.96m13.51 0h1.96m23.17 0h1.96m25.11 0h1.96m-193.36 1.99h1.96m11.57 0h1.96m71.51 0h1.96m17.37 0h1.96m19.31 0h1.96m63.77 0h1.96m-164.36 1.99h1.96m3.84 0h1.96m-.03 0h1.96m7.71 0h1.96m42.51 0h1.96m1.9 0h1.96m38.64 0h1.96m-127.62 1.99h1.96m-.03 0h1.96m133.37 0h1.96m3.84 0h1.96m5.78 0h1.96m15.44 0h1.96m-104.43 2h1.96m15.44 0h1.96m15.44 0h1.96m48.31 0h1.96m-.03 0h1.96m5.77 0h1.96m21.24 0h1.96m-195.29 1.99h1.96m114.04 0h1.96m32.84 0h1.96m7.71 0h1.96m-162.43 1.99h1.96m-.03 0h1.96m7.71 0h1.96m1.91 0h1.96m52.17 0h1.96m13.51 0h1.96m11.57 0h1.96m-.03 0h1.96m61.84 0h1.96m-104.42 2h1.96m23.17 0h1.96m3.84 0h1.96m25.11 0h1.96m7.7 0h1.96m-.02 0h1.96m-135.36 1.99h1.96m73.44 0h1.96m-9.7 1.99h1.96m9.64 0h1.96m73.44 0h1.96m-158.56 1.99h1.96m11.58 0h1.96m65.7 0h1.96m38.64 0h1.96m50.24 0h1.96m7.71 0h1.96m-110.23 2h1.96m3.84 0h1.96m17.38 0h1.96m21.24 0h1.96m30.9 0h1.96m-.02 0h1.96m-.03 0h1.96m-90.89 1.99h1.96m7.7 0h1.96m1.91 0h1.96m34.77 0h1.96m-108.29 1.99h1.96m52.17 0h1.96m23.18 0h1.96m-.03 0h1.96m-.03 0h1.96m25.11 0h1.96m71.51 0h1.96m-193.36 1.99h1.96m69.57 0h1.96m27.04 0h1.96m44.44 0h1.96m17.37 0h1.96m-170.16 2h1.96m127.58 0h1.96m3.84 0h1.96m-67.7 1.99h1.96m27.04 0h1.96m56.04 0h1.96m-156.62 1.99h1.96m85.04 0h1.96m19.3 0h1.96m21.24 0h1.96m15.44 0h1.96m28.98 0h1.96m-.03 0h1.96m-179.83 2h1.96m50.24 0h1.96m42.51 0h1.96m3.84 0h1.96m9.64 0h1.96m-.03 0h1.96m32.84 0h1.96m-148.89 1.99h1.96m44.44 0h1.96m63.77 0h1.96m28.98 0h1.96m-77.36 1.99h1.96m-.03 0h1.96m11.57 0h1.96m19.31 0h1.96m54.11 0h1.96m-166.3 1.99h1.96m-.02 0h1.96m54.1 0h1.96m98.58 0h1.96m-170.16 2h1.96m-3.9 1.99h1.96m79.24 0h1.96m112.11 0h1.96m-83.16 1.99h1.96m-.03 0h1.96m9.64 0h1.96m1.91 0h1.96m3.84 0h1.96m-110.23 1.99h1.96m7.71 0h1.96m1.91 0h1.96m38.64 0h1.96m48.3 0h1.96m-100.56 2h1.96m102.44 0h1.96m-131.49 1.99h1.96m1.91 0h1.96m56.04 0h1.96m42.5 0h1.96m56.04 0h1.96m-27.09 1.99h1.96m30.91 0h1.96m-156.63 2h1.96m1.91 0h1.96m-.03 0h1.96m50.24 0h1.96m1.91 0h1.96m11.57 0h1.96m5.77 0h1.96m-.02 0h1.96m17.37 0h1.96m44.44 0h1.96m-181.76 1.99h1.96m1.91 0h1.96m32.84 0h1.96m28.97 0h1.96m7.71 0h1.96m7.7 0h1.96m11.58 0h1.96m17.37 0h1.96m5.77 0h1.96m-.02 0h1.96m3.84 0h1.96m34.77 0h1.96m1.91 0h1.96m15.44 0h1.96m-183.7 1.99h1.96m3.84 0h1.96m27.04 0h1.96m36.71 0h1.96m9.64 0h1.96m5.77 0h1.96m61.84 0h1.96m5.78 0h1.96m-.03 0h1.96m-110.23 1.99h1.96m30.91 0h1.96m11.57 0h1.96m32.84 0h1.96m5.78 0h1.96m-154.7 2h1.96m79.24 0h1.96m48.31 0h1.96m15.44 0h1.96m21.24 0h1.96m-.03 0h1.96m-83.16 1.99h1.96m9.64 0h1.96m46.38 0h1.96m3.84 0h1.96m-133.43 1.99h1.96m59.91 0h1.96m-.03 0h1.96m19.31 0h1.96m36.7 0h1.96m7.71 0h1.96m25.11 0h1.96m-193.36 1.99h1.96m13.5 0h1.96m5.78 0h1.96m46.37 0h1.96m112.11 0h1.96m-170.16 2h1.96m13.5 0h1.96m86.98 0h1.96m7.7 0h1.96m-13.56 1.99h1.96m42.51 0h1.96m25.11 0h1.96m-117.96 1.99h1.96m21.24 0h1.96m3.84 0h1.96m28.97 0h1.96m28.97 0h1.96m5.78 0h1.96m21.24 0h1.96m-121.83 2h1.96m36.71 0h1.96m7.7 0h1.96m57.98 0h1.96m-56.1 1.99h1.96m21.24 0h1.96m1.91 0h1.96m23.17 3.98h1.96m-146.96 2h1.96m54.11 1.99h1.96m83.11 3.98h1.96m-.03 0h1.96m7.71 0h1.96m-104.43 7.98h1.96m85.04 0h1.96m-.03 0h1.96m-50.29 1.99h1.96m34.77 0h1.96m-110.22 1.99h1.96m28.97 1.99h1.96m88.91 2h1.96m-172.1 1.99h1.96m17.38 0h1.96m127.57 0h1.96m-79.29 1.99h1.96m46.37 0h1.96m9.64 0h1.96m7.71 0h1.96m9.64 0h1.96m-108.3 1.99h1.96m96.64 0h1.96m28.98 0h1.96m3.84 0h1.96m-119.9 2h1.96m50.24 0h1.96m-.02 0h1.96m15.44 0h1.96m-112.16 1.99h1.96m40.57 0h1.96m15.44 0h1.96m34.77 0h1.96m21.24 0h1.96m30.91 0h1.96m-172.09 3.99h1.96m5.77 0h1.96m1.91 0h1.96m11.57 0h1.96m65.71 0h1.96m71.5 0h1.96m-46.42 1.99h1.96m11.57 0h1.96m28.97 0h1.96m-61.89 1.99h1.96m44.44 0h1.96m25.11 0h1.96m-52.23 1.99h1.96m19.31 0h1.96m-1.96 2h1.96m-166.3 1.99h1.96m15.44 0h1.96m-.02 0h1.96m1.9 0h1.96m42.51 0h1.96m-69.63 1.99h1.96m23.18 1.99h1.96m17.37 0h1.96m19.31 0h1.96m-.03 0h1.96m7.71 0h1.96m5.77 0h1.96m-.03 0h1.96m5.78 0h1.96m57.97 0h1.96m36.71 0h1.96m-187.56 2h1.96m135.3 0h1.96m-114.09 1.99h1.96m-34.83 1.99h1.96m27.04 0h1.96m1.91 0h1.96m71.51 0h1.96m7.7 0h1.96m-.02 0h1.96m15.44 0h1.96m-117.96 2h1.96m94.7 0h1.96m17.38 0h1.96m11.57 0h1.96m7.71 0h1.96m19.3 0h1.96m1.91 0h1.96m-183.69 1.99h1.96m61.84 0h1.96m15.44 0h1.96m25.1 0h1.96m9.64 0h1.96m7.71 0h1.96m59.91 0h1.96m-146.96 1.99h1.96m27.04 0h1.96m52.17 0h1.96m-106.36 1.99h1.96m19.31 0h1.96m56.04 0h1.96m1.9 0h1.96m32.84 0h1.96m23.18 0h1.96m-112.16 2h1.96m44.44 0h1.96m-79.3 1.99h1.96m11.58 0h1.96m5.77 0h1.96m69.57 0h1.96m-102.49 1.99h1.96m28.97 0h1.96m48.31 0h1.96m81.17 0h1.96m-193.36 1.99h1.96m50.24 0h1.96m23.18 0h1.96m7.7 0h1.96m17.38 0h1.96m48.3 0h1.96m9.64 0h1.96m19.31 0h1.96m-175.96 2h1.96m7.71 0h1.96m23.17 0h1.96m7.71 0h1.96m9.64 0h1.96m28.97 0h1.96m5.77 0h1.96m3.84 0h1.96m1.91 0h1.96m44.44 0h1.96m-162.43 1.99h1.96m42.51 0h1.96m32.84 0h1.96m3.84 0h1.96m-19.36 1.99h1.96m9.64 0h1.96m13.51 0h1.96m11.57 0h1.96m50.24 0h1.96m-156.63 2h1.96m77.31 0h1.96m1.91 0h1.96m3.84 0h1.96m1.9 0h1.96m9.64 0h1.96m21.24 0h1.96m48.31 0h1.96m-172.09 1.99h1.96m28.97 0h1.96m15.44 0h1.96m123.71 0h1.96m-193.36 3.98h1.96m83.1 0h1.96m42.51 0h1.96m21.24 2h1.96m3.84 0h1.96m3.84 0h1.96m30.91 0h1.96m-175.96 1.99h1.96m7.7 0h1.96m59.91 0h1.96m3.84 0h1.96m17.37 0h1.96m-121.82 1.99h1.96m19.3 0h1.96m23.18 0h1.96m28.97 0h1.96m42.51 0h1.96m7.7 0h1.96m40.58 0h1.96m-162.43 1.99h1.96m-.03 0h1.96m30.91 0h1.96m46.37 0h1.96m21.24 0h1.96m-.02 0h1.96m-.03 0h1.96m5.77 0h1.96m-133.42 2h1.96m13.5 0h1.96m28.98 0h1.96m25.1 0h1.96m36.71 0h1.96m9.64 0h1.96m40.57 0h1.96m-168.22 1.99h1.96m48.3 0h1.96m-.02 0h1.96m17.37 0h1.96m-21.29 1.99h1.96m86.97 0h1.96m30.91 0h1.96m-81.23 2h1.96m1.91 0h1.96m9.64 0h1.96m5.77 0h1.96m1.91 0h1.96m3.84 0h1.96m19.3 0h1.96m-133.42 1.99h1.96m19.3 0h1.96m57.98 0h1.96m19.3 0h1.96m27.04 0h1.96m1.91 0h1.96m17.37 0h1.96m-127.62 1.99h1.96m25.1 0h1.96m42.51 0h1.96m-104.43 1.99h1.96m88.91 0h1.96m57.97 0h1.96" stroke="#9f8dcf"/>
<path d="M379.47 220.40h1.96m5.77 0h1.96m52.17 1.99h1.96m-100.56 3.98h1.96m13.51 0h1.96m9.64 0h1.96m40.57 0h1.96m38.64 0h1.96m-110.22 3.99h1.96m56.04 0h1.96m5.77 0h1.96m48.31 0h1.96m-83.16 3.99h1.96m-9.7 3.98h1.96m-.02 0h1.96m65.7 0h1.96m-71.56 3.99h1.96m1.91 0h1.96m69.57 0h1.96m-77.36 1.99h1.96m3.84 0h1.96m79.24 0h1.96m3.84 0h1.96m1.91 0h1.96m-148.89 1.99h1.96m135.3 0h1.96m-58.02 1.99h1.96m46.37 0h1.96m-61.89 2h1.96m40.57 0h1.96m-154.69 5.98h1.96m59.9 0h1.96m34.78 0h1.96m94.7 0h1.96m-27.09 3.98h1.96m-156.63 1.99h1.96m-.02 0h1.96m54.1 0h1.96m19.31 0h1.96m25.11 0h1.96m-106.36 2h1.96m-19.36 1.99h1.96m108.24 0h1.96m-50.3 1.99h1.96m90.84 0h1.96m-25.16 1.99h1.96m28.98 0h1.96m-77.36 3.99h1.96m79.24 0h1.96m-110.23 7.97h1.96m-44.49 1.99h1.96m54.1 0h1.96m81.18 0h1.96m1.9 0h1.96m27.04 0h1.96m-131.49 3.99h1.96m32.84 0h1.96m67.64 0h1.96m21.24 0h1.96m-.03 0h1.96m5.78 0h1.96m-160.5 3.98h1.96m119.84 0h1.96m13.51 0h1.96m-156.63 3.99h1.96m-.02 0h1.96m71.5 0h1.96m30.91 0h1.96m59.91 0h1.96m-197.23 1.99h1.96m67.64 0h1.96m34.77 0h1.96m61.84 0h1.96m1.91 0h1.96m21.24 0h1.96m-121.83 2h1.96m-67.69 1.99h1.96m7.71 0h1.96m67.64 0h1.96m-61.9 1.99h1.96m9.64 1.99h1.96m137.24 0h1.96m-125.69 2h1.96m-27.09 1.99h1.96m7.7 1.99h1.96m7.71 0h1.96m125.64 0h1.96m3.84 0h1.96m-129.56 5.98h1.96m3.84 0h1.96m7.71 0h1.96m-7.76 7.97h1.96m117.9 0h1.96m-44.49 1.99h1.96m50.24 0h1.96m-69.63 2h1.96m34.78 0h1.96m-3.9 1.99h1.96m9.64 0h1.96m-48.36 3.98h1.96m17.38 0h1.96m-1.96 2h1.96m21.24 0h1.96m5.77 0h1.96m-117.96 1.99h1.96m79.24 0h1.96m-.03 0h1.96m34.78 0h1.96m-119.9 1.99h1.96m-3.89 2h1.96m108.24 0h1.96m21.24 0h1.96m-19.36 3.98h1.96m-25.16 1.99h1.96m13.51 0h1.96m7.7 0h1.96m9.64 0h1.96m3.84 0h1.96m-36.76 2h1.96m13.51 0h1.96m-30.96 1.99h1.96m23.17 0h1.96m9.64 0h1.96m1.91 0h1.96m-59.96 3.98h1.96m30.91 0h1.96m-116.03 2h1.96m5.77 0h1.96m-.02 0h1.96m98.57 0h1.96m21.24 0h1.96m-129.56 3.98h1.96m-59.96 2h1.96m13.51 0h1.96m-9.7 5.97h1.96m5.78 0h1.96m112.1 0h1.96m50.24 0h1.96m-92.82 5.98h1.96m100.5 1.99h1.96m-183.69 2h1.96m108.24 0h1.96m36.71 0h1.96m34.77 0h1.96m1.91 0h1.96m-15.5 3.98h1.96m-148.89 3.99h1.96m44.44 1.99h1.96m15.44 0h1.96m3.84 0h1.96m25.11 0h1.96m1.9 0h1.96m52.18 0h1.96m-195.3 1.99h1.96m28.98 0h1.96m71.5 0h1.96m17.38 0h1.96m73.44 0h1.96m-193.36 2h1.96m63.77 0h1.96m19.31 0h1.96m-9.7 3.98h1.96m38.64 0h1.96m-69.62 1.99h1.96m98.57 0h1.96m-108.29 2h1.96m98.57 0h1.96m-100.56 1.99h1.96m-23.23 1.99h1.96m90.84 0h1.96m-58.02 2h1.96m13.5 0h1.96m25.11 0h1.96m-85.09 1.99h1.96m40.57 0h1.96m28.97 0h1.96m11.58 0h1.96m69.57 0h1.96m-191.43 1.99h1.96m27.04 0h1.96m1.91 0h1.96m71.51 0h1.96m57.97 0h1.96m-162.43 1.99h1.96m61.84 0h1.96m21.24 0h1.96m32.84 0h1.96m-40.62 5.98h1.96m83.1 1.99h1.96m-44.49 3.99h1.96m30.91 0h1.96m-148.9 1.99h1.96m28.98 0h1.96m34.77 0h1.96m77.31 0h1.96m-32.9 2h1.96m-7.76 1.99h1.96" stroke="#6f6fc3"/>
<path d="M381.40 220.40h1.96m86.97 0h1.96m-129.56 1.99h1.96m-.02 0h1.96m7.7 0h1.96m-17.42 1.99h1.96m3.84 0h1.96m7.7 1.99h1.96m5.78 0h1.96m9.64 0h1.96m5.77 0h1.96m-.03 0h1.96m7.71 0h1.96m7.71 0h1.96m1.9 0h1.96m11.58 0h1.96m17.37 0h1.96m-.03 0h1.96m-.02 0h1.96m5.77 0h1.96m3.84 0h1.96m-.03 0h1.96m1.91 0h1.96m3.84 0h1.96m-141.16 3.99h1.96m1.91 0h1.96m-.03 0h1.96m3.84 0h1.96m-.03 0h1.96m9.64 0h1.96m9.64 0h1.96m-.02 0h1.96m3.84 0h1.96m19.3 0h1.96m11.58 0h1.96m27.04 0h1.96m1.9 0h1.96m7.71 0h1.96m13.51 0h1.96m-172.1 13.95h1.96m40.58 0h1.96m13.5 1.99h1.96m23.18 1.99h1.96m-.03 0h1.96m57.97 0h1.96m-30.96 2h1.96m54.11 5.98h1.96m-117.96 3.98h1.96m88.91 1.99h1.96m-79.3 3.99h1.96m71.51 0h1.96m-.03 0h1.96m-102.49 1.99h1.96m98.57 7.97h1.96m-63.82 5.98h1.96m25.1 0h1.96m34.78 0h1.96m13.5 0h1.96m-83.16 1.99h1.96m83.11 0h1.96m-183.69 3.99h1.96m1.9 0h1.96m81.18 0h1.96m3.84 0h1.96m21.24 0h1.96m-.03 0h1.96m17.37 0h1.96m13.51 0h1.96m5.77 0h1.96m3.84 0h1.96m-152.76 1.99h1.96m21.24 0h1.96m46.38 0h1.96m-87.03 5.98h1.96m5.77 0h1.96m5.78 0h1.96m13.5 0h1.96m1.91 0h1.96m100.51 0h1.96m19.3 0h1.96m13.51 0h1.96m5.77 0h1.96m-.02 0h1.96m1.9 0h1.96m-187.56 1.99h1.96m3.84 0h1.96m3.84 0h1.96m-.02 0h1.96m7.7 0h1.96m3.84 0h1.96m1.91 0h1.96m-.03 0h1.96m-.02 0h1.96m7.7 0h1.96m30.91 0h1.96m3.84 0h1.96m7.71 0h1.96m-.03 0h1.96m3.84 0h1.96m-.03 0h1.96m-.02 0h1.96m-.03 0h1.96m9.64 0h1.96m1.91 0h1.96m-.03 0h1.96m7.71 0h1.96m11.57 0h1.96m-.03 0h1.96m-.02 0h1.96m1.9 0h1.96m9.64 0h1.96m1.91 0h1.96m9.64 0h1.96m1.91 0h1.96m3.84 0h1.96m-160.5 3.99h1.96m119.84 1.99h1.96m-32.89 3.99h1.96m-121.83 1.99h1.96m21.24 1.99h1.96m123.71 0h1.96m-106.36 7.97h1.96m3.84 0h1.96m94.71 0h1.96m-104.43 5.98h1.96m98.57 0h1.96m5.78 0h1.96m-108.3 1.99h1.96m3.84 0h1.96m61.84 0h1.96m21.24 0h1.96m1.91 0h1.96m19.31 0h1.96m15.44 0h1.96m3.84 0h1.96m-139.23 2h1.96m-.03 0h1.96m63.78 0h1.96m30.9 0h1.96m21.24 0h1.96m11.58 0h1.96m-141.16 1.99h1.96m1.9 0h1.96m59.91 0h1.96m7.71 0h1.96m19.3 0h1.96m9.64 0h1.96m1.91 0h1.96m7.71 0h1.96m9.64 0h1.96m-131.5 1.99h1.96m-.02 0h1.96m59.9 0h1.96m34.78 0h1.96m1.9 0h1.96m25.11 0h1.96m-139.23 1.99h1.96m79.24 0h1.96m13.51 0h1.96m11.57 0h1.96m1.91 0h1.96m-.03 0h1.96m-.02 0h1.96m-119.9 2h1.96m1.91 0h1.96m131.44 0h1.96m1.91 0h1.96m-143.1 1.99h1.96m65.71 0h1.96m21.24 0h1.96m3.84 0h1.96m28.97 0h1.96m-131.49 1.99h1.96m94.71 0h1.96m9.64 0h1.96m13.5 0h1.96m5.78 0h1.96m-129.56 2h1.96m86.97 0h1.96m38.64 0h1.96m-133.43 1.99h1.96m79.24 0h1.96m1.91 0h1.96m-.03 0h1.96m-90.89 1.99h1.96m-.03 0h1.96m5.78 0h1.96m59.9 0h1.96m21.24 0h1.96m-.02 0h1.96m11.57 0h1.96m-.03 0h1.96m13.51 0h1.96m-36.76 1.99h1.96m1.91 0h1.96m27.04 0h1.96m5.77 0h1.96m-133.43 2h1.96m85.04 0h1.96m11.58 0h1.96m-3.9 1.99h1.96m34.78 0h1.96m3.84 0h1.96m-21.3 1.99h1.96m7.71 0h1.96m1.91 0h1.96m-.03 0h1.96m-59.96 1.99h1.96m1.91 0h1.96m5.77 0h1.96m3.84 0h1.96m9.64 0h1.96m3.84 0h1.96m11.57 0h1.96m-32.89 2h1.96m11.57 0h1.96m-106.36 1.99h1.96m-.02 1.99h1.96m-63.83 2h1.96m-.03 0h1.96m27.04 0h1.96m19.31 0h1.96m115.97 0h1.96m-13.56 1.99h1.96m-166.29 3.98h1.96m-.03 0h1.96m-.02 0h1.96m-.03 0h1.96m5.77 0h1.96m1.91 0h1.96m-.03 0h1.96m3.84 0h1.96m-.02 0h1.96m1.9 0h1.96m-.02 0h1.96m-.03 0h1.96m-.03 0h1.96m1.91 0h1.96m-.03 0h1.96m1.91 0h1.96m3.84 0h1.96m1.91 0h1.96m-.03 0h1.96m1.91 0h1.96m1.9 0h1.96m3.84 0h1.96m1.91 0h1.96m1.91 0h1.96m83.1 0h1.96m-.02 0h1.96m7.7 0h1.96m13.51 0h1.96m-.03 0h1.96m5.78 0h1.96m-203.03 2h1.96m-.03 0h1.96m-.02 0h1.96m3.84 0h1.96m-.03 0h1.96m1.91 0h1.96m1.9 0h1.96m3.84 0h1.96m1.91 0h1.96m-.03 0h1.96m1.91 0h1.96m-.03 0h1.96m1.91 0h1.96m-.03 0h1.96m1.91 0h1.96m-.03 0h1.96m-.02 0h1.96m-.03 0h1.96m-.03 0h1.96m-.02 0h1.96m-.03 0h1.96m-.03 0h1.96m-.02 0h1.96m1.9 0h1.96m-.02 0h1.96m-.03 0h1.96m-.03 0h1.96m1.91 0h1.96m1.91 0h1.96m-73.5 7.97h1.96m15.44 0h1.96m1.91 0h1.96m5.77 0h1.96m1.91 0h1.96m1.91 0h1.96m3.84 0h1.96m9.64 0h1.96m-.03 0h1.96m7.71 0h1.96m9.64 0h1.96m7.7 0h1.96m1.91 0h1.96m57.97 0h1.96m19.31 0h1.96m-150.83 5.98h1.96m-25.16 3.98h1.96m-.02 0h1.96m7.7 0h1.96m19.31 0h1.96m-.03 0h1.96m5.78 0h1.96m5.77 0h1.96m21.24 0h1.96m73.44 0h1.96m15.44 0h1.96m13.51 0h1.96m7.7 0h1.96m-195.29 1.99h1.96m13.51 0h1.96m21.24 0h1.96m3.84 0h1.96m-.03 0h1.96m23.17 0h1.96m40.58 0h1.96m21.24 0h1.96m-123.76 2h1.96m3.84 0h1.96m7.7 0h1.96m11.58 0h1.96m-.03 0h1.96m9.64 0h1.96m11.57 0h1.96m15.44 0h1.96m63.78 0h1.96m-158.56 3.98h1.96m-.03 0h1.96m28.97 0h1.96m125.64 0h1.96m32.84 0h1.96m-36.76 1.99h1.96m-123.76 2h1.96m119.84 3.98h1.96m27.04 0h1.96m-170.16 2h1.96m-7.76 1.99h1.96m3.84 0h1.96m9.64 0h1.96m1.91 0h1.96m1.91 0h1.96m11.57 0h1.96m34.77 0h1.96m-.02 0h1.96m3.84 0h1.96m59.9 0h1.96m-162.42 1.99h1.96m-.03 0h1.96m-.03 0h1.96m9.64 0h1.96m-.02 0h1.96m1.9 0h1.96m-.02 0h1.96m3.84 0h1.96m3.84 0h1.96m-.03 0h1.96m-.03 0h1.96m3.84 0h1.96m-.02 0h1.96m-.03 0h1.96m3.84 0h1.96m1.91 0h1.96m-.03 0h1.96m-.03 0h1.96m-.02 0h1.96m3.84 0h1.96m1.9 0h1.96m3.84 0h1.96m-.02 0h1.96m-.03 0h1.96m-.03 0h1.96m-.02 0h1.96m-.03 0h1.96m-.03 0h1.96m-.02 0h1.96m-.03 0h1.96m1.91 0h1.96m1.9 0h1.96m5.78 0h1.96m-.03 0h1.96m1.91 0h1.96m3.84 0h1.96m1.9 0h1.96m-.02 0h1.96m1.9 0h1.96m-.02 0h1.96m3.84 0h1.96m7.7 0h1.96m1.91 0h1.96m1.91 0h1.96m1.9 0h1.96m-.02 0h1.96m1.9 0h1.96m-.02 0h1.96m17.37 0h1.96m-.03 0h1.96m-.02 0h1.96m3.84 0h1.96m-1.96 1.99h1.96m-175.96 7.97h1.96m90.84 0h1.96m-102.5 3.99h1.96m56.04 0h1.96m17.38 0h1.96m27.04 0h1.96m34.77 0h1.96m-.03 0h1.96m7.71 0h1.96m3.84 0h1.96m3.84 0h1.96m3.84 0h1.96m-102.49 1.99h1.96m36.7 0h1.96m42.51 0h1.96m-90.89 2h1.96m1.9 0h1.96" stroke="#5d5dbd"/>
<path d="M385.27 220.40h1.96m73.44 0h1.96m-177.9 1.99h1.96m15.44 0h1.96m73.44 1.99h1.96m1.91 0h1.96m30.91 0h1.96m30.9 0h1.96m-121.82 3.99h1.96m25.1 0h1.96m7.71 0h1.96m30.91 0h1.96m1.9 0h1.96m15.44 0h1.96m-54.16 3.98h1.96m90.84 0h1.96m-179.82 2h1.96m7.7 0h1.96m48.31 0h1.96m-.03 0h1.96m61.84 0h1.96m25.11 0h1.96m15.44 0h1.96m9.64 0h1.96m-133.43 1.99h1.96m65.71 1.99h1.96m36.71 0h1.96m27.04 0h1.96m-187.56 1.99h1.96m75.37 0h1.96m28.97 0h1.96m19.31 0h1.96m42.51 0h1.96m-174.03 2h1.96m106.31 0h1.96m7.7 0h1.96m63.78 0h1.96m-92.83 1.99h1.96m88.91 0h1.96m-170.16 1.99h1.96m57.97 0h1.96m11.57 0h1.96m-83.16 1.99h1.96m57.98 0h1.96m52.17 0h1.96m-5.83 2h1.96m65.71 0h1.96m-104.43 1.99h1.96m25.11 0h1.96m23.17 1.99h1.96m46.38 0h1.96m-181.76 2h1.96m75.37 0h1.96m25.11 0h1.96m46.37 0h1.96m-154.69 1.99h1.96m61.84 1.99h1.96m61.84 0h1.96m5.77 0h1.96m-34.83 1.99h1.96m-102.49 2h1.96m96.64 0h1.96m25.11 0h1.96m38.64 0h1.96m-59.96 1.99h1.96m36.7 0h1.96m-92.82 1.99h1.96m-67.7 1.99h1.96m65.71 0h1.96m5.77 0h1.96m9.64 0h1.96m67.64 0h1.96m1.91 0h1.96m27.04 2h1.96m-104.43 1.99h1.96m17.38 0h1.96m27.04 0h1.96m-125.7 1.99h1.96m57.98 0h1.96m98.57 0h1.96m-98.63 2h1.96m32.84 0h1.96m-.02 0h1.96m-108.3 1.99h1.96m-5.82 1.99h1.96m102.44 0h1.96m59.9 0h1.96m27.04 0h1.96m-133.42 1.99h1.96m50.24 0h1.96m52.17 2h1.96m7.71 1.99h1.96m-185.63 3.98h1.96m36.71 0h1.96m73.44 0h1.96m21.24 0h1.96m-.03 0h1.96m-.03 0h1.96m19.31 0h1.96m27.04 0h1.96m-19.36 2h1.96m17.37 0h1.96m-166.29 1.99h1.96m15.44 0h1.96m-25.16 1.99h1.96m-.03 2h1.96m17.38 0h1.96m135.3 1.99h1.96m5.78 0h1.96m-135.36 1.99h1.96m96.64 0h1.96m-152.76 1.99h1.96m11.57 0h1.96m3.84 0h1.96m48.31 0h1.96m21.24 0h1.96m48.3 0h1.96m9.64 0h1.96m-145.02 2h1.96m1.9 0h1.96m30.91 0h1.96m1.91 0h1.96m61.84 0h1.96m1.9 0h1.96m19.31 0h1.96m44.44 0h1.96m-172.09 1.99h1.96m57.97 0h1.96m23.17 0h1.96m19.31 0h1.96m-.03 0h1.96m67.64 0h1.96m-154.69 1.99h1.96m59.91 0h1.96m-92.83 1.99h1.96m13.51 0h1.96m1.9 0h1.96m34.78 0h1.96m106.3 0h1.96m-59.96 2h1.96m-104.42 1.99h1.96m96.64 0h1.96m38.64 3.99h1.96m-40.63 1.99h1.96m17.37 1.99h1.96m-102.49 1.99h1.96m117.91 2h1.96m-19.36 1.99h1.96m13.5 1.99h1.96m-158.56 1.99h1.96m183.64 0h1.96m-90.89 3.99h1.96m36.71 0h1.96m-125.7 1.99h1.96m69.58 0h1.96m38.64 0h1.96m-30.96 2h1.96m3.84 3.98h1.96m85.04 1.99h1.96m-187.56 5.98h1.96m73.44 0h1.96m-15.5 1.99h1.96m-17.42 2h1.96m106.3 0h1.96m-154.69 1.99h1.96m-.03 0h1.96m15.44 0h1.96m23.18 1.99h1.96m21.24 0h1.96m-27.1 2h1.96m59.91 0h1.96m27.04 0h1.96m13.51 0h1.96m-85.1 1.99h1.96m38.64 0h1.96m52.18 0h1.96m7.7 0h1.96m5.78 0h1.96m-27.1 1.99h1.96m-29.02 1.99h1.96m13.5 0h1.96m-131.49 3.99h1.96m19.31 0h1.96m50.24 0h1.96m-.03 0h1.96m15.44 0h1.96m5.77 0h1.96m-75.42 1.99h1.96m-.03 0h1.96m44.44 0h1.96m-85.09 1.99h1.96m27.04 0h1.96m115.97 0h1.96m-.03 0h1.96m15.44 0h1.96m-174.02 3.99h1.96m46.37 0h1.96m7.71 0h1.96m56.04 0h1.96m-92.83 1.99h1.96m59.91 0h1.96m-77.36 2h1.96m32.84 0h1.96m17.37 0h1.96m17.37 0h1.96m54.11 0h1.96m52.17 0h1.96m-187.56 1.99h1.96m50.24 0h1.96m-.02 0h1.96m67.64 0h1.96m40.57 0h1.96m17.37 0h1.96m-117.96 3.98h1.96m34.78 2h1.96m61.84 0h1.96m-158.56 1.99h1.96m11.57 0h1.96m73.44 0h1.96m46.37 0h1.96m-.02 0h1.96m-152.76 1.99h1.96m28.97 0h1.96m7.71 0h1.96m50.24 0h1.96m36.7 0h1.96m-143.09 1.99h1.96m25.11 0h1.96m-.03 0h1.96m30.91 0h1.96m11.57 0h1.96m27.04 0h1.96m-106.36 2h1.96m17.37 0h1.96m48.31 0h1.96m1.91 0h1.96m-.03 0h1.96m-.03 0h1.96m54.11 0h1.96m-36.76 1.99h1.96m3.84 0h1.96m27.04 0h1.96m21.24 0h1.96m3.84 0h1.96m-.03 0h1.96m27.04 0h1.96m-145.02 1.99h1.96m56.04 0h1.96m-110.23 2h1.96m27.04 0h1.96m92.77 0h1.96m7.71 0h1.96m27.04 0h1.96m27.04 0h1.96m-.03 0h1.96m-133.42 5.97h1.96m21.24 0h1.96m7.7 0h1.96m7.71 0h1.96m25.11 0h1.96m21.24 0h1.96m-131.5 2h1.96m52.18 0h1.96m13.5 0h1.96m27.04 0h1.96m5.78 0h1.96m21.24 0h1.96m-59.96 1.99h1.96m65.7 0h1.96m3.84 0h1.96m-162.42 1.99h1.96m127.57 1.99h1.96m-54.16 2h1.96m-.03 0h1.96m25.11 0h1.96m15.44 0h1.96m3.84 0h1.96m-83.16 1.99h1.96m5.77 0h1.96m110.18 0h1.96m3.84 0h1.96m-168.23 1.99h1.96m23.17 0h1.96m50.24 0h1.96m-58.02 2h1.96m104.37 0h1.96m-32.89 1.99h1.96m17.37 0h1.96m40.57 0h1.96m-58.02 1.99h1.96m15.44 0h1.96m-131.5 1.99h1.96m125.64 0h1.96m15.44 0h1.96m7.71 0h1.96" stroke="#b193cf"/>
<path d="M389.13 220.40h1.96m-34.82 1.99h1.96m11.57 1.99h1.96m85.04 0h1.96m15.44 0h1.96m-106.36 7.97h1.96m61.84 0h1.96m7.71 0h1.96m19.3 0h1.96m-.02 0h1.96m-123.76 3.99h1.96m-67.7 1.99h1.96m28.98 1.99h1.96m11.57 0h1.96m19.31 0h1.96m7.7 2h1.96m1.91 0h1.96m40.57 1.99h1.96m-3.89 1.99h1.96m15.44 3.99h1.96m5.77 0h1.96m-67.69 1.99h1.96m92.77 0h1.96m-141.16 1.99h1.96m121.78 2h1.96m-67.7 1.99h1.96m-7.76 1.99h1.96m81.18 3.99h1.96m25.1 0h1.96m-.02 0h1.96m-201.1 1.99h1.96m61.84 0h1.96m23.18 1.99h1.96m79.24 1.99h1.96m-135.36 3.99h1.96m42.5 1.99h1.96m54.11 0h1.96m-141.16 2h1.96m86.97 0h1.96m86.98 0h1.96m-.03 0h1.96m-79.29 1.99h1.96m-71.56 1.99h1.96m115.97 0h1.96m-38.69 3.99h1.96m23.17 1.99h1.96m-121.83 3.98h1.96m75.38 0h1.96m-79.3 2h1.96m65.71 0h1.96m-69.63 1.99h1.96m1.91 0h1.96m98.57 0h1.96m-119.89 3.99h1.96m63.77 0h1.96m102.44 0h1.96m-106.36 1.99h1.96m42.51 0h1.96m-117.96 1.99h1.96m139.17 0h1.96m-108.29 3.99h1.96m44.44 0h1.96m34.77 0h1.96m-30.96 1.99h1.96m40.58 0h1.96m23.17 0h1.96m-21.29 3.98h1.96m-129.56 2h1.96m187.5 0h1.96m-46.42 1.99h1.96m-88.96 1.99h1.96m17.37 0h1.96m106.31 2h1.96m-168.23 1.99h1.96m44.44 0h1.96m7.71 0h1.96m46.37 0h1.96m7.71 0h1.96m-98.63 7.97h1.96m-17.43 1.99h1.96m148.84 0h1.96m-59.96 1.99h1.96m-52.22 7.98h1.96m115.97 1.99h1.96m-172.09 5.98h1.96m9.64 3.98h1.96m-.03 3.99h1.96m104.37 0h1.96m-110.22 1.99h1.96m50.24 0h1.96m-58.03 1.99h1.96m9.64 0h1.96m81.17 2h1.96m27.04 1.99h1.96m-40.62 1.99h1.96m63.77 0h1.96m17.37 3.99h1.96m-187.56 1.99h1.96m61.84 0h1.96m77.31 0h1.96m11.57 0h1.96m-158.56 1.99h1.96m86.98 0h1.96m-104.43 1.99h1.96m175.91 0h1.96m-29.03 2h1.96m34.77 1.99h1.96m-139.22 1.99h1.96m56.04 0h1.96m34.77 0h1.96m7.71 0h1.96m19.3 0h1.96m1.91 0h1.96m-172.09 2h1.96m67.64 0h1.96m44.44 1.99h1.96m-48.36 3.98h1.96m50.24 0h1.96m-73.5 2h1.96m-54.16 1.99h1.96m54.11 0h1.96m-.03 0h1.96m5.78 0h1.96m59.9 3.98h1.96m17.38 2h1.96m-30.96 1.99h1.96m27.04 0h1.96m-148.9 1.99h1.96m19.31 2h1.96m44.44 0h1.96m32.84 0h1.96m7.71 0h1.96m-65.76 7.97h1.96m30.9 0h1.96m21.24 0h1.96m-48.36 1.99h1.96m-1.96 1.99h1.96m30.91 0h1.96m9.64 0h1.96m73.44 0h1.96m11.57 0h1.96m-177.89 1.99h1.96m85.04 5.98h1.96m3.84 0h1.96m27.04 2h1.96m-54.16 1.99h1.96m75.37 0h1.96m-44.49 1.99h1.96m1.91 0h1.96m1.9 0h1.96m-87.02 1.99h1.96m28.97 0h1.96m88.91 0h1.96" stroke="#b199cf"/>
<path d="M394.93 220.40h1.96m-104.42 1.99h1.96m102.44 1.99h1.96m-104.43 1.99h1.96m148.84 0h1.96m-65.76 2h1.96m5.77 0h1.96m15.44 0h1.96m7.71 0h1.96m57.97 0h1.96m-.02 0h1.96m-203.03 1.99h1.96m57.97 0h1.96m15.44 1.99h1.96m-1.96 2h1.96m27.04 0h1.96m23.18 0h1.96m27.04 0h1.96m1.9 0h1.96m13.51 0h1.96m-87.03 1.99h1.96m83.11 0h1.96m-44.49 1.99h1.96m3.84 0h1.96m42.5 0h1.96m-181.76 1.99h1.96m7.71 0h1.96m-.03 0h1.96m-.02 0h1.96m42.5 0h1.96m34.78 0h1.96m25.1 0h1.96m3.84 0h1.96m-.02 0h1.96m25.1 0h1.96m32.84 0h1.96m-193.36 2h1.96m56.04 0h1.96m21.24 0h1.96m50.24 0h1.96m13.51 0h1.96m-83.16 1.99h1.96m48.31 0h1.96m44.44 0h1.96m-102.5 1.99h1.96m1.91 0h1.96m52.17 0h1.96m11.58 0h1.96m28.97 0h1.96m-110.23 1.99h1.96m1.91 0h1.96m5.77 0h1.96m13.51 0h1.96m17.37 0h1.96m5.78 0h1.96m9.64 0h1.96m5.77 0h1.96m15.44 0h1.96m9.64 0h1.96m1.91 0h1.96m-172.1 2h1.96m61.84 0h1.96m63.78 0h1.96m36.7 0h1.96m-98.62 1.99h1.96m54.1 0h1.96m-54.16 1.99h1.96m-.02 0h1.96m27.04 0h1.96m52.17 0h1.96m15.44 0h1.96m-175.96 2h1.96m75.37 0h1.96m5.78 0h1.96m11.57 0h1.96m5.77 0h1.96m13.51 0h1.96m-112.16 1.99h1.96m57.97 1.99h1.96m83.11 0h1.96m11.57 0h1.96m-177.89 1.99h1.96m9.64 0h1.96m59.91 0h1.96m34.77 0h1.96m19.31 0h1.96m25.1 0h1.96m-.02 0h1.96m-152.76 2h1.96m83.1 0h1.96m23.18 0h1.96m7.7 0h1.96m-119.89 1.99h1.96m77.31 0h1.96m19.3 0h1.96m54.11 0h1.96m-166.29 1.99h1.96m15.44 0h1.96m54.1 0h1.96m-.02 0h1.96m13.5 0h1.96m9.64 0h1.96m3.84 0h1.96m1.91 0h1.96m3.84 0h1.96m1.91 0h1.96m7.7 0h1.96m15.44 0h1.96m-38.69 1.99h1.96m1.91 0h1.96m52.17 0h1.96m5.77 0h1.96m7.71 0h1.96m-63.83 2h1.96m-127.62 1.99h1.96m15.44 0h1.96m81.17 0h1.96m7.71 0h1.96m44.44 0h1.96m-160.5 1.99h1.96m3.84 0h1.96m75.38 0h1.96m48.3 0h1.96m-.02 0h1.96m28.97 0h1.96m25.11 0h1.96m-177.9 2h1.96m52.18 0h1.96m30.9 0h1.96m-50.29 1.99h1.96m-46.43 1.99h1.96m5.78 0h1.96m42.5 0h1.96m117.91 0h1.96m7.71 0h1.96m-127.63 1.99h1.96m7.71 0h1.96m3.84 0h1.96m9.64 0h1.96m-.03 0h1.96m30.91 0h1.96m28.97 0h1.96m17.37 0h1.96m-40.62 2h1.96m-135.36 1.99h1.96m9.64 0h1.96m13.5 0h1.96m32.84 0h1.96m54.11 0h1.96m-81.23 1.99h1.96m-.02 0h1.96m36.7 0h1.96m9.64 0h1.96m-94.76 1.99h1.96m11.58 0h1.96m86.97 0h1.96m-17.43 3.99h1.96m17.38 0h1.96m81.17 0h1.96m-197.23 1.99h1.96m42.51 0h1.96m106.31 0h1.96m-135.36 2h1.96m7.7 0h1.96m17.38 0h1.96m40.57 0h1.96m11.57 0h1.96m27.04 0h1.96m30.91 0h1.96m23.17 0h1.96m-160.49 1.99h1.96m17.37 0h1.96m141.11 0h1.96m-177.89 1.99h1.96m34.77 0h1.96m5.77 0h1.96m13.51 0h1.96m106.31 0h1.96m-108.3 1.99h1.96m48.31 0h1.96m7.71 0h1.96m19.3 0h1.96m7.71 0h1.96m17.37 0h1.96m-191.42 2h1.96m7.7 0h1.96m15.44 0h1.96m7.71 0h1.96m56.04 0h1.96m21.24 0h1.96m-56.09 1.99h1.96m3.84 0h1.96m7.7 0h1.96m13.51 0h1.96m61.84 0h1.96m13.51 0h1.96m5.77 0h1.96m-175.96 1.99h1.96m117.91 0h1.96m36.7 0h1.96m-131.49 1.99h1.96m9.64 0h1.96m7.71 0h1.96m13.5 0h1.96m81.18 0h1.96m34.77 0h1.96m-56.09 2h1.96m13.5 0h1.96m13.51 0h1.96m-114.09 1.99h1.96m46.37 0h1.96m3.84 0h1.96m13.51 0h1.96m5.77 0h1.96m56.04 0h1.96m-137.29 1.99h1.96m1.9 0h1.96m30.91 0h1.96m19.31 0h1.96m7.7 0h1.96m11.58 0h1.96m-61.9 3.99h1.96m52.18 3.98h1.96m23.17 0h1.96m5.77 0h1.96m-.02 2h1.96m-32.9 3.98h1.96m19.31 0h1.96m-36.76 1.99h1.96m50.24 0h1.96m-104.43 2h1.96m73.44 1.99h1.96m-9.69 1.99h1.96m1.91 0h1.96m5.77 0h1.96m36.71 0h1.96m-65.76 2h1.96m67.64 0h1.96m-135.36 1.99h1.96m59.9 0h1.96m57.98 0h1.96m-44.5 1.99h1.96m-69.62 1.99h1.96m77.3 0h1.96m-102.49 2h1.96m90.84 0h1.96m15.44 0h1.96m3.84 0h1.96m-154.69 1.99h1.96m34.77 0h1.96m-1.96 1.99h1.96m11.57 0h1.96m57.98 0h1.96m-114.1 1.99h1.96m17.38 0h1.96m40.57 2h1.96m67.64 0h1.96m-148.89 1.99h1.96m173.97 0h1.96m-156.63 3.99h1.96m90.84 0h1.96m32.84 0h1.96m34.78 0h1.96m7.7 0h1.96m-1.96 1.99h1.96m-67.69 1.99h1.96m7.71 0h1.96m40.57 1.99h1.96m-23.23 2h1.96m9.64 0h1.96m9.64 0h1.96m-83.16 1.99h1.96m56.04 0h1.96m-.02 0h1.96m-146.96 1.99h1.96m81.17 0h1.96m92.77 0h1.96m-.02 0h1.96m-189.5 1.99h1.96m5.78 0h1.96m164.3 0h1.96m-189.49 2h1.96m21.24 0h1.96m79.24 0h1.96m21.24 0h1.96m-77.36 3.98h1.96m1.91 0h1.96m36.7 0h1.96m15.44 0h1.96m81.18 0h1.96m-152.76 2h1.96m11.57 0h1.96m52.17 0h1.96m27.04 0h1.96m50.24 0h1.96m-187.56 1.99h1.96m71.51 0h1.96m25.11 0h1.96m3.84 0h1.96m73.44 0h1.96m-175.96 1.99h1.96m21.24 0h1.96m19.3 0h1.96m3.84 0h1.96m-63.82 1.99h1.96m17.37 0h1.96m21.24 0h1.96m19.31 0h1.96m1.9 0h1.96m17.38 0h1.96m42.5 0h1.96m-71.56 2h1.96m56.04 0h1.96m3.84 0h1.96m25.11 0h1.96m-.03 0h1.96m-108.29 3.98h1.96m81.17 0h1.96m34.78 0h1.96m-166.3 1.99h1.96m-.02 0h1.96m7.7 0h1.96m96.64 0h1.96m9.64 0h1.96m1.91 0h1.96m-67.69 2h1.96m27.04 0h1.96m1.9 0h1.96m-.02 0h1.96m19.3 0h1.96m46.38 0h1.96m-112.16 1.99h1.96m27.04 0h1.96m27.04 0h1.96m-79.3 1.99h1.96m28.98 0h1.96m25.1 0h1.96m17.38 0h1.96m19.3 0h1.96m-119.89 2h1.96m11.57 0h1.96m56.04 0h1.96m96.64 0h1.96m-195.29 1.99h1.96m-.03 0h1.96m11.58 0h1.96m54.1 0h1.96m5.78 0h1.96m1.9 0h1.96m-25.16 1.99h1.96m-52.22 1.99h1.96m17.37 0h1.96m5.77 0h1.96m75.38 0h1.96m25.1 0h1.96m28.98 0h1.96m-148.9 2h1.96m34.78 0h1.96m13.5 0h1.96m94.71 0h1.96m3.84 0h1.96m-69.63 1.99h1.96m19.31 0h1.96m23.17 0h1.96m5.78 0h1.96m5.77 0h1.96m-.03 1.99h1.96m1.91 0h1.96m-98.63 1.99h1.96m11.58 0h1.96m13.5 0h1.96m15.44 0h1.96m54.11 0h1.96m-177.89 2h1.96m57.97 0h1.96m28.97 0h1.96m3.84 0h1.96m34.78 0h1.96m13.5 0h1.96m1.91 0h1.96m-146.96 1.99h1.96m59.91 0h1.96m57.97 0h1.96m-139.23 1.99h1.96m90.84 0h1.96m5.78 0h1.96m19.3 0h1.96m-96.69 2h1.96m27.04 0h1.96m40.57 0h1.96m63.78 0h1.96m3.84 0h1.96m19.3 0h1.96m-146.96 1.99h1.96m71.51 0h1.96m50.24 0h1.96m-150.83 1.99h1.96m63.78 0h1.96m-83.16 1.99h1.96m30.9 0h1.96m13.51 0h1.96m27.04 0h1.96m44.44 0h1.96" stroke="#9987cf"/>
<path d="M400.73 220.40h1.96m17.38 1.99h1.96m21.24 0h1.96m3.84 0h1.96m-96.7 1.99h1.96m19.31 1.99h1.96m1.91 0h1.96m28.97 0h1.96m1.91 0h1.96m17.37 0h1.96m34.77 0h1.96m3.84 0h1.96m-21.29 2h1.96m-166.29 1.99h1.96m44.44 0h1.96m65.7 0h1.96m5.78 0h1.96m3.84 0h1.96m13.5 0h1.96m-156.62 7.97h1.96m83.1 0h1.96m-.02 0h1.96m-83.16 5.98h1.96m9.64 0h1.96m19.3 0h1.96m-.02 0h1.96m38.64 0h1.96m73.44 0h1.96m5.77 0h1.96m3.84 0h1.96m-172.09 3.98h1.96m81.17 0h1.96m46.37 0h1.96m-.02 0h1.96m36.7 0h1.96m-170.16 2h1.96m63.78 0h1.96m61.84 3.98h1.96m17.37 0h1.96m5.77 2h1.96m-158.56 5.97h1.96m81.18 0h1.96m69.57 0h1.96m34.77 0h1.96m-36.76 5.98h1.96m-162.42 1.99h1.96m13.5 3.99h1.96m59.91 9.96h1.96m46.37 0h1.96m-119.89 3.99h1.96m96.64 0h1.96m30.91 0h1.96m15.44 0h1.96m-.03 0h1.96m11.57 0h1.96m-7.76 7.97h1.96m-162.42 1.99h1.96m5.77 0h1.96m5.77 0h1.96m5.78 0h1.96m3.84 0h1.96m34.77 0h1.96m13.51 0h1.96m30.9 0h1.96m3.84 0h1.96m57.98 0h1.96m-3.9 3.99h1.96m-146.96 1.99h1.96m-25.16 1.99h1.96m15.44 3.99h1.96m-30.96 1.99h1.96m106.31 0h1.96m-52.23 5.98h1.96m94.71 7.97h1.96m27.04 0h1.96m-129.56 1.99h1.96m100.51 0h1.96m13.5 0h1.96m7.71 0h1.96m-133.43 2h1.96m75.38 0h1.96m-71.56 1.99h1.96m61.84 1.99h1.96m21.24 0h1.96m3.84 0h1.96m27.04 0h1.96m-59.96 1.99h1.96m25.1 0h1.96m5.78 0h1.96m21.24 0h1.96m-123.76 2h1.96m100.5 0h1.96m-42.56 1.99h1.96m1.91 0h1.96m-73.49 1.99h1.96m73.44 0h1.96m19.3 0h1.96m25.11 0h1.96m-59.96 2h1.96m3.84 0h1.96m19.31 0h1.96m15.44 0h1.96m15.44 0h1.96m-133.43 1.99h1.96m1.91 0h1.96m114.04 0h1.96m-17.43 1.99h1.96m11.57 0h1.96m-50.29 1.99h1.96m67.64 0h1.96m-135.36 2h1.96m61.84 0h1.96m-87.03 1.99h1.96m17.38 1.99h1.96m86.97 0h1.96m5.77 0h1.96m1.91 0h1.96m-.03 0h1.96m5.78 0h1.96m-42.56 1.99h1.96m11.57 0h1.96m36.71 0h1.96m5.77 0h1.96m-65.76 2h1.96m34.77 0h1.96m-102.49 1.99h1.96m-46.43 3.99h1.96m110.18 0h1.96m-.03 0h1.96m56.04 1.99h1.96m-183.69 3.98h1.96m-.03 0h1.96m7.71 0h1.96m25.1 0h1.96m-.02 0h1.96m11.57 0h1.96m3.84 0h1.96m1.91 0h1.96m86.97 0h1.96m32.84 0h1.96m-191.43 2h1.96m34.78 0h1.96m17.37 0h1.96m-59.96 7.97h1.96m94.71 0h1.96m9.64 0h1.96m-19.36 3.98h1.96m-40.63 3.99h1.96m-34.83 1.99h1.96m-.02 0h1.96m3.84 0h1.96m27.04 0h1.96m27.04 0h1.96m9.64 0h1.96m3.84 0h1.96m17.37 0h1.96m-119.89 1.99h1.96m7.7 0h1.96m21.24 0h1.96m44.44 0h1.96m3.84 0h1.96m25.11 0h1.96m-38.69 2h1.96m56.04 0h1.96m34.77 0h1.96m11.57 0h1.96m-170.16 3.98h1.96m15.44 0h1.96m-17.42 1.99h1.96m7.7 0h1.96m52.18 0h1.96m50.24 0h1.96m19.3 2h1.96m-129.56 1.99h1.96m1.91 0h1.96m-21.29 1.99h1.96m141.1 2h1.96m-116.02 1.99h1.96m11.57 0h1.96m34.77 0h1.96m27.04 0h1.96m-121.82 1.99h1.96m17.37 0h1.96m13.51 0h1.96m28.97 0h1.96m32.84 0h1.96m-.03 0h1.96m27.04 0h1.96m-123.76 3.99h1.96m112.11 5.97h1.96m34.77 0h1.96m15.44 0h1.96m-168.22 3.99h1.96m1.9 0h1.96m23.18 0h1.96m-.03 0h1.96m34.77 0h1.96m79.24 0h1.96m-.02 0h1.96m-92.83 1.99h1.96m1.91 0h1.96m75.37 0h1.96m23.17 0h1.96m-32.89 2h1.96m-.03 0h1.96m-152.76 5.97h1.96" stroke="#6363bd"/>
<path d="M402.67 220.40h1.96m-27.1 1.99h1.96m15.44 0h1.96m34.78 0h1.96m11.57 0h1.96m-34.83 5.98h1.96m-135.36 1.99h1.96m94.71 0h1.96m81.17 5.98h1.96m-139.22 3.98h1.96m115.97 0h1.96m-156.63 3.99h1.96m166.24 0h1.96m-168.22 1.99h1.96m71.5 3.99h1.96m-81.22 1.99h1.96m7.7 0h1.96m98.58 0h1.96m63.77 0h1.96m11.57 0h1.96m-1.96 3.99h1.96m-30.96 3.98h1.96m21.24 0h1.96m-52.22 1.99h1.96m-125.7 2h1.96m148.84 0h1.96m-44.49 5.97h1.96m15.44 0h1.96m21.24 3.99h1.96m30.91 0h1.96m-85.1 9.96h1.96m65.71 0h1.96m-154.69 5.98h1.96m92.77 1.99h1.96m71.51 0h1.96m-25.16 3.99h1.96m-150.83 5.98h1.96m23.17 3.98h1.96m148.84 2h1.96m-172.09 3.98h1.96m106.31 0h1.96m-73.5 1.99h1.96m61.84 2h1.96m34.78 3.98h1.96m7.7 0h1.96m-7.76 2h1.96m-32.89 3.98h1.96m5.77 1.99h1.96m-5.82 9.97h1.96m7.7 0h1.96m46.38 13.95h1.96m-125.7 1.99h1.96m-59.96 5.98h1.96m19.31 0h1.96m139.17 7.97h1.96m9.64 5.98h1.96m-137.29 5.97h1.96m-17.43 5.98h1.96m48.31 2h1.96m-25.16 5.97h1.96m88.91 0h1.96m-40.63 2h1.96m-46.43 3.98h1.96m59.91 0h1.96m-67.69 1.99h1.96m1.9 2h1.96m54.11 1.99h1.96m59.91 0h1.96m-119.9 1.99h1.96m17.38 0h1.96m-32.9 2h1.96m17.38 0h1.96m46.37 0h1.96m-112.16 1.99h1.96m86.97 0h1.96m27.04 0h1.96m25.11 0h1.96m-85.09 11.95h1.96m71.5 0h1.96m-19.36 7.98h1.96m-13.56 3.98h1.96m3.84 1.99h1.96m23.18 0h1.96" stroke="#9381c9"/>
<path d="M408.47 220.40h1.96m-21.3 1.99h1.96m27.04 0h1.96m46.38 0h1.96m-58.03 1.99h1.96m25.11 0h1.96m1.9 0h1.96m-129.56 3.99h1.96m36.71 0h1.96m23.17 0h1.96m7.71 0h1.96m56.04 0h1.96m-112.16 5.98h1.96m54.11 0h1.96m48.3 1.99h1.96m-146.96 5.98h1.96m114.04 0h1.96m23.18 0h1.96m30.9 0h1.96m3.84 0h1.96m-.02 0h1.96m-164.36 1.99h1.96m71.5 0h1.96m-.02 0h1.96m-.03 0h1.96m-.03 0h1.96m9.64 0h1.96m-123.76 1.99h1.96m9.64 0h1.96m57.98 0h1.96m98.57 0h1.96m-106.36 1.99h1.96m7.71 0h1.96m28.97 0h1.96m-50.29 2h1.96m1.9 0h1.96m1.91 0h1.96m34.77 0h1.96m3.84 0h1.96m-44.49 1.99h1.96m13.51 0h1.96m69.57 0h1.96m32.84 0h1.96m1.91 0h1.96m-193.36 1.99h1.96m81.17 0h1.96m5.77 0h1.96m11.58 0h1.96m-114.1 2h1.96m13.51 0h1.96m177.84 0h1.96m-191.43 3.98h1.96m125.64 0h1.96m23.18 0h1.96m32.84 0h1.96m3.84 0h1.96m-189.5 1.99h1.96m85.04 0h1.96m13.51 0h1.96m21.24 0h1.96m28.97 0h1.96m25.11 0h1.96m-195.29 2h1.96m79.24 0h1.96m100.5 0h1.96m-172.09 1.99h1.96m61.84 0h1.96m1.91 0h1.96m28.97 0h1.96m-13.56 1.99h1.96m65.71 0h1.96m17.37 0h1.96m-92.83 1.99h1.96m67.64 2h1.96m-77.36 1.99h1.96m13.51 0h1.96m46.37 0h1.96m40.58 0h1.96m-183.7 1.99h1.96m67.64 0h1.96m88.91 0h1.96m-.03 0h1.96m-81.22 2h1.96m28.97 0h1.96m54.11 1.99h1.96m-119.9 1.99h1.96m1.91 0h1.96m96.64 0h1.96m-73.49 1.99h1.96m90.84 0h1.96m-179.83 3.99h1.96m67.64 0h1.96m23.17 0h1.96m-102.49 1.99h1.96m59.91 0h1.96m46.37 0h1.96m38.64 0h1.96m15.44 0h1.96m3.84 0h1.96m-181.76 1.99h1.96m158.51 0h1.96m9.64 0h1.96m-148.9 3.99h1.96m69.58 0h1.96m3.84 1.99h1.96m52.17 2h1.96m-77.36 1.99h1.96m46.37 0h1.96m1.91 0h1.96m-27.09 1.99h1.96m40.57 0h1.96m17.37 0h1.96m-139.22 1.99h1.96m-3.9 2h1.96m7.71 0h1.96m38.64 0h1.96m106.31 0h1.96m-71.56 1.99h1.96m-25.16 1.99h1.96m13.5 0h1.96m19.31 0h1.96m19.31 0h1.96m11.57 0h1.96m-168.23 1.99h1.96m81.18 2h1.96m-15.5 1.99h1.96m23.18 0h1.96m9.64 0h1.96m19.3 0h1.96m27.04 0h1.96m15.44 0h1.96m-94.76 1.99h1.96m5.78 0h1.96m5.77 0h1.96m9.64 0h1.96m7.71 0h1.96m-65.76 2h1.96m77.3 0h1.96m19.31 0h1.96m21.24 0h1.96m-119.89 1.99h1.96m61.84 1.99h1.96m-1.96 1.99h1.96m-.03 0h1.96m5.77 3.99h1.96m-9.69 1.99h1.96m52.17 0h1.96m-123.76 1.99h1.96m100.51 0h1.96m-27.09 3.99h1.96m38.64 1.99h1.96m-54.16 3.99h1.96m61.84 3.98h1.96m-30.96 2h1.96m-119.9 1.99h1.96m1.91 0h1.96m119.84 0h1.96m-116.03 1.99h1.96m5.78 0h1.96m110.17 1.99h1.96m-44.49 2h1.96m-.03 0h1.96m3.84 0h1.96m-.03 0h1.96m-112.16 1.99h1.96m40.58 3.99h1.96m-.03 0h1.96m3.84 0h1.96m38.64 0h1.96m23.17 5.97h1.96m13.51 2h1.96m-50.29 1.99h1.96m9.64 0h1.96m-81.23 1.99h1.96m-27.09 1.99h1.96m57.97 0h1.96m38.64 0h1.96m-50.29 2h1.96m1.9 0h1.96m-67.69 3.98h1.96m61.84 0h1.96m-79.29 2h1.96m30.9 0h1.96m3.84 0h1.96m-1.96 1.99h1.96m44.44 0h1.96m85.04 0h1.96m-177.89 1.99h1.96m21.24 0h1.96m54.11 0h1.96m36.7 0h1.96m25.11 0h1.96m-98.63 3.99h1.96m11.58 0h1.96m135.3 0h1.96m-183.69 3.98h1.96m42.51 0h1.96m40.57 0h1.96m7.71 0h1.96m-29.03 1.99h1.96m-81.23 2h1.96m1.91 0h1.96m7.71 0h1.96m-7.76 1.99h1.96m-.03 0h1.96m5.77 0h1.96m11.58 0h1.96m36.7 0h1.96m17.38 0h1.96m1.9 0h1.96m90.84 0h1.96m-154.69 1.99h1.96m63.77 0h1.96m50.24 0h1.96m34.78 0h1.96m-177.9 2h1.96m5.78 0h1.96m83.1 0h1.96m28.98 0h1.96m-139.23 1.99h1.96m73.44 0h1.96m52.17 0h1.96m28.98 0h1.96m-156.63 1.99h1.96m44.44 1.99h1.96m27.04 0h1.96m3.84 0h1.96m30.91 0h1.96m28.97 0h1.96m36.71 0h1.96m-104.43 2h1.96m3.84 0h1.96m3.84 0h1.96m13.51 0h1.96m3.84 0h1.96m15.44 0h1.96m-59.96 3.98h1.96m71.5 0h1.96m1.91 0h1.96m36.71 0h1.96m-34.83 1.99h1.96m-143.09 2h1.96m67.64 0h1.96m3.84 0h1.96m-17.43 1.99h1.96m46.37 0h1.96m-11.62 1.99h1.96m25.1 0h1.96m30.91 0h1.96m-185.63 2h1.96m48.31 0h1.96m63.77 0h1.96m7.71 0h1.96m52.17 0h1.96m-158.56 1.99h1.96m152.71 0h1.96m-19.36 1.99h1.96m-137.29 1.99h1.96m65.7 0h1.96m96.64 0h1.96" stroke="#9387cf"/>
<path d="M423.93 220.40h1.96m-135.36 3.98h1.96m11.58 0h1.96m23.17 0h1.96m21.24 0h1.96m7.71 0h1.96m42.5 0h1.96m3.84 0h1.96m21.24 0h1.96m27.04 0h1.96m-71.56 1.99h1.96m-36.76 2h1.96m7.71 0h1.96m3.84 0h1.96m96.64 0h1.96m-25.16 3.98h1.96m3.84 0h1.96m-179.83 2h1.96m7.71 0h1.96m65.71 0h1.96m19.3 0h1.96m1.91 0h1.96m15.44 0h1.96m-34.83 1.99h1.96m9.64 0h1.96m54.11 0h1.96m27.04 0h1.96m-88.96 1.99h1.96m1.91 0h1.96m79.24 0h1.96m13.5 0h1.96m-195.29 1.99h1.96m56.04 0h1.96m17.37 0h1.96m13.51 0h1.96m13.51 0h1.96m30.9 0h1.96m9.64 0h1.96m36.71 0h1.96m-197.23 2h1.96m63.78 0h1.96m-69.63 1.99h1.96m77.31 0h1.96m56.04 0h1.96m-137.3 1.99h1.96m88.91 0h1.96m28.97 0h1.96m-.02 0h1.96m17.37 0h1.96m30.91 0h1.96m-79.3 1.99h1.96m7.71 0h1.96m-32.89 2h1.96m13.5 0h1.96m-.02 0h1.96m56.04 0h1.96m15.44 0h1.96m7.7 0h1.96m-168.22 1.99h1.96m19.3 0h1.96m27.04 0h1.96m65.71 0h1.96m1.91 0h1.96m1.9 0h1.96m15.44 0h1.96m7.71 0h1.96m17.37 0h1.96m-.02 0h1.96m-141.16 1.99h1.96m42.5 0h1.96m56.04 0h1.96m44.44 0h1.96m-121.82 2h1.96m28.97 0h1.96m7.71 0h1.96m1.9 0h1.96m7.71 0h1.96m19.31 0h1.96m11.57 0h1.96m-.03 0h1.96m-121.82 1.99h1.96m17.37 0h1.96m48.31 0h1.96m46.37 0h1.96m-83.16 1.99h1.96m28.97 0h1.96m48.31 0h1.96m-102.49 1.99h1.96m1.9 0h1.96m21.24 0h1.96m52.18 0h1.96m27.04 0h1.96m1.9 0h1.96m-158.56 2h1.96m69.58 0h1.96m34.77 0h1.96m-.03 0h1.96m3.84 0h1.96m3.84 0h1.96m7.71 0h1.96m30.91 0h1.96m-116.03 1.99h1.96m50.24 0h1.96m1.91 0h1.96m11.57 1.99h1.96m30.91 0h1.96m15.44 0h1.96m-102.5 1.99h1.96m-.02 0h1.96m79.24 0h1.96m-175.96 2h1.96m32.84 0h1.96m23.17 0h1.96m27.04 0h1.96m3.84 0h1.96m44.44 0h1.96m42.51 0h1.96m-174.03 1.99h1.96m50.24 0h1.96m3.84 0h1.96m104.37 0h1.96m-172.09 1.99h1.96m65.71 0h1.96m13.5 0h1.96m28.98 0h1.96m50.24 0h1.96m-177.9 2h1.96m88.91 0h1.96m42.51 0h1.96m23.17 0h1.96m17.37 0h1.96m-179.82 1.99h1.96m63.77 0h1.96m15.44 0h1.96m75.37 0h1.96m-166.29 1.99h1.96m75.37 0h1.96m46.38 0h1.96m32.84 0h1.96m9.64 0h1.96m9.64 0h1.96m1.9 0h1.96m1.91 0h1.96m-162.43 1.99h1.96m83.11 0h1.96m57.97 0h1.96m-158.56 2h1.96m79.24 0h1.96m32.84 0h1.96m38.64 0h1.96m13.51 0h1.96m-193.36 1.99h1.96m36.71 0h1.96m27.04 0h1.96m83.1 0h1.96m-.02 0h1.96m-156.63 1.99h1.96m69.57 0h1.96m30.91 0h1.96m-92.83 1.99h1.96m57.98 0h1.96m1.9 0h1.96m21.24 0h1.96m9.64 0h1.96m56.04 0h1.96m-164.36 2h1.96m106.31 0h1.96m13.51 0h1.96m32.84 0h1.96m-98.63 1.99h1.96m50.24 0h1.96m44.44 0h1.96m-21.29 1.99h1.96m-141.16 2h1.96m7.7 0h1.96m75.38 0h1.96m88.9 0h1.96m1.91 0h1.96m-146.96 1.99h1.96m52.17 0h1.96m-50.29 1.99h1.96m21.24 0h1.96m1.91 0h1.96m27.04 0h1.96m-.03 0h1.96m5.77 0h1.96m19.31 0h1.96m40.57 0h1.96m-181.76 1.99h1.96m1.91 0h1.96m13.51 0h1.96m1.9 0h1.96m7.71 0h1.96m23.17 0h1.96m3.84 0h1.96m32.84 0h1.96m73.44 0h1.96m-129.56 2h1.96m61.84 0h1.96m23.18 0h1.96m46.37 0h1.96m-129.56 1.99h1.96m5.77 0h1.96m48.31 0h1.96m1.91 0h1.96m-108.3 1.99h1.96m-.02 0h1.96m69.57 0h1.96m46.37 0h1.96m7.71 0h1.96m7.71 0h1.96m21.24 0h1.96m7.7 0h1.96m-179.82 1.99h1.96m81.17 0h1.96m61.84 0h1.96m-.03 0h1.96m40.58 0h1.96m-199.16 2h1.96m34.77 0h1.96m9.64 0h1.96m7.71 0h1.96m9.64 0h1.96m-29.03 1.99h1.96m5.77 0h1.96m102.44 0h1.96m17.38 0h1.96m9.64 0h1.96m-170.16 1.99h1.96m125.64 0h1.96m-129.56 2h1.96m34.77 0h1.96m3.84 0h1.96m13.51 0h1.96m17.37 0h1.96m67.64 0h1.96m5.77 0h1.96m1.91 0h1.96m-116.03 1.99h1.96m88.91 0h1.96m9.64 0h1.96m23.17 0h1.96m-27.09 1.99h1.96m-98.63 1.99h1.96m7.71 2h1.96m19.31 0h1.96m-81.23 1.99h1.96m-3.89 1.99h1.96m40.57 1.99h1.96m17.37 0h1.96m38.64 2h1.96m-27.09 5.98h1.96m-25.16 1.99h1.96m106.31 1.99h1.96m-94.76 3.99h1.96m-46.43 1.99h1.96m-34.83 1.99h1.96m15.44 0h1.96m17.38 0h1.96m75.37 0h1.96m44.44 0h1.96m-123.76 1.99h1.96m21.24 0h1.96m-.03 0h1.96m67.64 0h1.96m-143.09 2h1.96m9.64 0h1.96m19.31 0h1.96m30.9 0h1.96m9.64 0h1.96m-83.16 1.99h1.96m38.64 0h1.96m150.78 0h1.96m-189.5 1.99h1.96m27.04 0h1.96m38.64 0h1.96m90.84 0h1.96m-160.49 3.99h1.96m85.04 0h1.96m67.64 0h1.96m-48.36 1.99h1.96m28.97 0h1.96m-.02 0h1.96m15.44 0h1.96m1.9 0h1.96m3.84 0h1.96m1.91 0h1.96m-32.89 1.99h1.96m13.5 2h1.96m-162.42 1.99h1.96m32.84 0h1.96m40.57 0h1.96m13.51 0h1.96m19.3 0h1.96m3.84 0h1.96m-96.69 1.99h1.96m3.84 0h1.96m28.97 0h1.96m-.02 0h1.96m25.1 0h1.96m19.31 0h1.96m36.71 0h1.96m17.37 0h1.96m3.84 0h1.96m-.03 0h1.96m-177.89 1.99h1.96m1.91 0h1.96m7.7 0h1.96m17.38 0h1.96m1.9 0h1.96m32.84 0h1.96m19.31 0h1.96m13.51 0h1.96m9.64 0h1.96m13.5 0h1.96m23.18 0h1.96m-166.3 3.99h1.96m56.04 0h1.96m23.18 0h1.96m13.5 0h1.96m52.18 0h1.96m28.97 0h1.96m-187.56 1.99h1.96m13.51 0h1.96m3.84 0h1.96m28.97 0h1.96m7.71 0h1.96m19.3 0h1.96m9.64 0h1.96m13.51 0h1.96m17.37 0h1.96m1.91 0h1.96m-133.43 2h1.96m13.51 0h1.96m15.44 0h1.96m48.31 0h1.96m1.9 0h1.96m25.11 0h1.96m1.91 0h1.96m9.64 0h1.96m28.97 0h1.96m-152.76 1.99h1.96m32.84 0h1.96m15.44 0h1.96m32.84 0h1.96m17.37 0h1.96m-5.82 1.99h1.96m25.1 0h1.96m28.98 0h1.96m-92.83 1.99h1.96m-17.43 2h1.96m25.11 0h1.96m86.97 0h1.96m-179.82 1.99h1.96m9.64 0h1.96m9.64 0h1.96m92.77 0h1.96m5.77 0h1.96m-58.02 1.99h1.96m30.9 0h1.96m7.71 0h1.96m17.37 0h1.96m-129.56 1.99h1.96m7.71 0h1.96m67.64 0h1.96m28.97 0h1.96m28.98 0h1.96m-90.9 2h1.96m59.91 0h1.96m-116.03 1.99h1.96m17.38 0h1.96m13.5 0h1.96m15.44 0h1.96m7.71 0h1.96m1.91 0h1.96m50.24 0h1.96m3.84 0h1.96m3.84 0h1.96m-119.9 1.99h1.96m40.58 0h1.96m15.44 0h1.96m67.64 0h1.96m-156.63 2h1.96m42.51 0h1.96m1.9 0h1.96m3.84 0h1.96m30.91 0h1.96m19.31 0h1.96m15.44 0h1.96m17.37 0h1.96m7.71 0h1.96m5.77 0h1.96m-150.83 1.99h1.96m44.44 0h1.96m5.78 0h1.96m-69.63 3.98h1.96m54.11 0h1.96m38.64 0h1.96m13.5 0h1.96m7.71 0h1.96m3.84 0h1.96m-119.89 2h1.96m17.37 0h1.96m9.64 0h1.96m38.64 0h1.96m-.03 0h1.96m59.91 0h1.96m25.11 0h1.96m23.17 0h1.96m-195.29 1.99h1.96m46.37 0h1.96m75.37 0h1.96m65.71 0h1.96m-172.09 1.99h1.96m17.37 0h1.96m3.84 0h1.96m5.77 0h1.96m52.18 0h1.96m-.03 0h1.96m-.03 0h1.96m-94.76 1.99h1.96m17.38 0h1.96m15.44 0h1.96m17.37 0h1.96m48.31 0h1.96m-88.96 2h1.96m129.5 0h1.96m3.84 0h1.96m5.78 0h1.96m-189.5 1.99h1.96m25.11 0h1.96m42.51 0h1.96m73.44 0h1.96m-.03 0h1.96m-117.96 1.99h1.96m96.64 0h1.96m-112.16 2h1.96m-23.23 1.99h1.96m23.18 0h1.96m79.24 0h1.96m7.7 0h1.96m7.71 0h1.96m3.84 0h1.96m56.04 0h1.96m-179.83 1.99h1.96m108.24 0h1.96m15.44 0h1.96m-98.62 1.99h1.96m15.44 0h1.96m11.57 0h1.96m7.71 0h1.96m28.97 0h1.96m3.84 0h1.96m3.84 0h1.96m36.71 0h1.96m28.97 0h1.96m-.03 0h1.96" stroke="#b799cf"/>
<path d="M429.73 220.40h1.96m1.91 7.97h1.96m-54.16 9.96h1.96m61.84 1.99h1.96m-52.23 2h1.96m13.51 0h1.96m-23.23 15.94h1.96m38.64 1.99h1.96m-21.29 13.95h1.96m-125.69 7.97h1.96m94.7 0h1.96m-88.96 1.99h1.96m48.31 3.99h1.96m21.24 13.95h1.96m17.37 0h1.96m-102.49 1.99h1.96m81.17 1.99h1.96m92.78 0h1.96m-25.16 2h1.96m-44.5 1.99h1.96m52.18 13.95h1.96m-3.9 5.98h1.96m-21.29 3.98h1.96m-96.69 17.94h1.96m-54.16 3.98h1.96m137.24 1.99h1.96m-90.9 3.99h1.96m-.02 17.93h1.96m-38.7 7.98h1.96m83.11 9.96h1.96m50.24 1.99h1.96m-129.56 11.96h1.96m27.04 3.98h1.96m96.64 0h1.96m-92.83 3.99h1.96m-56.09 9.96h1.96m73.44 0h1.96m44.44 2h1.96m-46.43 1.99h1.96m-85.09 3.98h1.96m65.71 0h1.96m9.64 0h1.96" stroke="#998dcf"/>
<path d="M452.93 220.40h1.96m23.18 5.97h1.96m-67.7 3.99h1.96m25.11 7.97h1.96m9.64 11.96h1.96m-19.36 11.95h1.96m-44.49 27.9h1.96m-30.96 5.98h1.96m-56.1 15.94h1.96m40.58 7.97h1.96m75.37 9.97h1.96m1.91 0h1.96m-11.63 1.99h1.96m52.17 1.99h1.96m-63.82 3.99h1.96m5.77 0h1.96m19.31 0h1.96m-29.03 1.99h1.96m15.44 15.94h1.96m11.57 0h1.96m28.98 0h1.96m-125.7 15.94h1.96m119.84 0h1.96m-177.89 2h1.96m44.44 7.97h1.96m-27.09 9.96h1.96m17.37 0h1.96m127.57 0h1.96m-36.76 21.92h1.96m-127.62 1.99h1.96m67.64 2h1.96m-9.7 9.96h1.96" stroke="#6963c3"/>
<path d="M464.53 220.40h1.96m-69.62 1.99h1.96m38.64 0h1.96m7.7 0h1.96m-71.56 3.98h1.96m28.98 0h1.96m5.77 0h1.96m54.11 0h1.96m-38.7 2h1.96m-67.69 1.99h1.96m-.03 0h1.96m3.84 0h1.96m3.84 0h1.96m9.64 3.99h1.96m9.64 3.98h1.96m-42.56 5.98h1.96m102.44 0h1.96m-121.82 1.99h1.96m-17.43 1.99h1.96m121.77 0h1.96m-40.62 5.98h1.96m28.97 0h1.96m-112.16 2h1.96m135.31 0h1.96m-193.36 3.98h1.96m183.64 1.99h1.96m-179.83 2h1.96m179.77 3.98h1.96m-30.96 1.99h1.96m17.38 0h1.96m7.7 0h1.96m-69.62 5.98h1.96m-42.56 5.98h1.96m21.24 1.99h1.96m54.1 0h1.96m27.04 0h1.96m-119.89 3.99h1.96m21.24 0h1.96m52.17 0h1.96m-63.82 1.99h1.96m7.7 0h1.96m92.78 0h1.96m-123.76 1.99h1.96m119.84 0h1.96m-164.36 3.99h1.96m1.9 0h1.96m117.91 0h1.96m-83.16 1.99h1.96m34.77 0h1.96m25.11 0h1.96m30.91 0h1.96m7.7 0h1.96m-181.76 3.99h1.96m86.98 0h1.96m28.97 0h1.96m32.84 0h1.96m-125.69 1.99h1.96m121.77 0h1.96m-117.96 5.98h1.96m94.71 0h1.96m-23.23 1.99h1.96m19.31 5.98h1.96m56.04 0h1.96m-90.9 1.99h1.96m50.24 0h1.96m-5.82 3.99h1.96m-34.83 1.99h1.96m30.91 0h1.96m27.04 1.99h1.96m-34.83 2h1.96m-29.03 1.99h1.96m50.24 0h1.96m-38.69 1.99h1.96m38.64 0h1.96m-125.69 1.99h1.96m-5.83 2h1.96m98.57 1.99h1.96m3.84 0h1.96m1.91 0h1.96m-40.63 1.99h1.96m21.24 0h1.96m-17.42 2h1.96m-3.9 1.99h1.96m-.02 0h1.96m-.03 0h1.96m54.11 0h1.96m-65.76 1.99h1.96m67.64 0h1.96m-135.36 1.99h1.96m-25.16 3.99h1.96m83.1 0h1.96m32.84 0h1.96m17.38 1.99h1.96m7.7 0h1.96m3.84 0h1.96m-30.96 1.99h1.96m9.64 0h1.96m-156.62 3.99h1.96m34.77 3.99h1.96m11.57 0h1.96m121.78 1.99h1.96m-148.9 3.98h1.96m1.91 5.98h1.96m-40.63 3.99h1.96m21.24 0h1.96m65.71 0h1.96m73.44 0h1.96m-156.63 3.98h1.96m15.44 0h1.96m52.18 0h1.96m-100.56 3.99h1.96m38.64 0h1.96m141.1 0h1.96m-187.56 1.99h1.96m48.31 0h1.96m42.51 0h1.96m81.17 0h1.96m-100.56 1.99h1.96m21.24 0h1.96m-32.89 2h1.96m-25.16 3.98h1.96m15.44 0h1.96m46.37 0h1.96m-96.69 1.99h1.96m117.9 0h1.96m-48.36 2h1.96m-79.29 7.97h1.96m57.97 0h1.96m25.11 0h1.96m57.97 5.98h1.96m-116.02 5.97h1.96m56.04 0h1.96m56.04 0h1.96m-54.16 2h1.96m-13.56 1.99h1.96m77.3 0h1.96m-162.42 1.99h1.96m96.64 0h1.96m19.3 0h1.96m46.38 0h1.96m-116.03 2h1.96m15.44 0h1.96m42.51 0h1.96m25.1 1.99h1.96" stroke="#756fc9"/>
<path d="M472.27 220.40h1.96m-137.3 7.97h1.96m-.02 0h1.96m-52.23 1.99h1.96m88.91 0h1.96m-96.7 25.91h1.96m119.84 31.88h1.96m27.04 1.99h1.96m-54.16 5.98h1.96m-96.69 1.99h1.96m187.51 25.91h1.96m-7.76 5.98h1.96m-42.56 1.99h1.96m-7.76 7.97h1.96m-117.96 33.88h1.96m3.84 0h1.96m88.9 7.97h1.96m-90.89 11.95h1.96m42.51 0h1.96m-29.03 2h1.96m27.04 15.94h1.96m11.57 1.99h1.96m52.18 0h1.96m-56.1 13.95h1.96" stroke="#635dbd"/>
<path d="M278.93 222.39h1.96m-3.89 1.99h1.96m-.03 0h1.96m3.84 0h1.96m143.04 1.99h1.96m-69.62 3.99h1.96m-5.83 1.99h1.96m-59.96 2h1.96m3.84 0h1.96m19.31 0h1.96m-27.1 1.99h1.96m77.31 0h1.96m44.44 0h1.96m-121.83 3.98h1.96m-7.76 3.99h1.96m160.44 3.98h1.96m1.91 0h1.96m-44.49 2h1.96m-121.83 1.99h1.96m11.57 0h1.96m102.44 0h1.96m-119.89 3.99h1.96m-5.83 1.99h1.96m125.64 0h1.96m-96.69 3.98h1.96m-.03 3.99h1.96m-46.42 5.98h1.96m83.1 0h1.96m-58.02 1.99h1.96m-23.23 1.99h1.96m125.64 0h1.96m-1.96 2h1.96m-54.16 1.99h1.96m46.37 0h1.96m44.44 0h1.96m-135.36 1.99h1.96m-13.56 1.99h1.96m3.84 2h1.96m13.51 0h1.96m110.17 0h1.96m-168.22 7.97h1.96m38.64 0h1.96m1.9 0h1.96m77.31 0h1.96m-81.23 5.98h1.96m88.91 3.98h1.96m-125.69 13.95h1.96m-19.36 1.99h1.96m32.84 0h1.96m-27.1 2h1.96m7.71 0h1.96m7.71 0h1.96m46.37 0h1.96m11.57 0h1.96m21.24 0h1.96m-106.36 1.99h1.96m5.78 0h1.96m17.37 0h1.96m-36.76 1.99h1.96m27.04 0h1.96m30.91 0h1.96m1.9 0h1.96m1.91 0h1.96m28.97 0h1.96m-.02 0h1.96m-65.76 1.99h1.96m48.3 0h1.96m1.91 0h1.96m15.44 0h1.96m-44.49 2h1.96m-69.63 1.99h1.96m5.77 0h1.96m27.04 1.99h1.96m1.91 0h1.96m-.03 0h1.96m15.44 0h1.96m-44.49 1.99h1.96m56.04 0h1.96m25.11 0h1.96m-90.9 2h1.96m28.98 0h1.96m23.17 0h1.96m13.51 0h1.96m9.64 0h1.96m15.44 0h1.96m-83.16 1.99h1.96m34.77 0h1.96m-29.03 1.99h1.96m52.18 0h1.96m-59.96 2h1.96m52.17 0h1.96m-87.03 1.99h1.96m17.38 0h1.96m75.37 0h1.96m-106.36 1.99h1.96m90.84 0h1.96m7.71 0h1.96m5.77 0h1.96m-104.43 1.99h1.96m21.24 0h1.96m75.38 0h1.96m-116.03 2h1.96m3.84 0h1.96m13.51 0h1.96m19.3 0h1.96m-.02 0h1.96m67.64 0h1.96m-17.43 1.99h1.96m32.84 0h1.96m-58.03 1.99h1.96m3.84 0h1.96m-65.76 1.99h1.96m5.78 0h1.96m54.1 0h1.96m-.02 0h1.96m-1.96 2h1.96m7.7 0h1.96m48.31 1.99h1.96m-54.16 1.99h1.96m50.24 0h1.96m-123.76 3.99h1.96m57.97 0h1.96m13.51 0h1.96m-38.69 1.99h1.96m36.7 3.99h1.96m36.71 1.99h1.96m-.03 0h1.96m5.78 1.99h1.96m15.44 0h1.96m-29.03 1.99h1.96m-65.76 3.99h1.96m17.37 0h1.96m67.64 1.99h1.96m11.58 2h1.96m-40.63 1.99h1.96m30.91 0h1.96m9.64 7.97h1.96m-11.63 1.99h1.96m-121.83 5.98h1.96m115.98 0h1.96m-30.96 9.96h1.96m-.03 0h1.96m-108.29 2h1.96m-36.76 1.99h1.96m52.17 0h1.96m-3.89 1.99h1.96m-58.03 1.99h1.96m5.77 3.99h1.96m52.18 0h1.96m-46.43 7.97h1.96" stroke="#ed7587"/>
<path d="M280.87 222.39h1.96m-1.96 3.98h1.96m166.24 7.98h1.96m-1.96 1.99h1.96m-160.5 3.98h1.96m13.51 0h1.96m-17.43 3.99h1.96m-3.89 1.99h1.96m27.04 3.99h1.96m-13.56 11.95h1.96m9.64 0h1.96m3.84 3.99h1.96m-11.63 1.99h1.96m9.64 3.99h1.96m5.78 5.98h1.96m7.7 19.92h1.96m17.38 17.94h1.96m50.24 31.88h1.96m-23.23 3.99h1.96m23.17 0h1.96m-19.36 1.99h1.96m-9.69 3.98h1.96m-5.83 3.99h1.96m1.91 11.96h1.96m21.24 5.97h1.96m-5.83 2h1.96m44.44 19.92h1.96m-.02 3.99h1.96" stroke="#ed393f"/>
<path d="M296.33 222.39h1.96m67.64 5.98h1.96m-56.09 5.98h1.96m36.71 0h1.96m-36.76 1.99h1.96m-19.36 1.99h1.96m173.97 0h1.96m-137.29 19.93h1.96m-52.23 13.95h1.96m38.64 0h1.96m-27.09 5.98h1.96m57.97 7.97h1.96m-30.96 1.99h1.96m88.91 5.98h1.96m-69.63 21.92h1.96m-58.03 5.98h1.96m1.91 3.98h1.96m57.97 3.99h1.96m21.24 0h1.96m-69.62 1.99h1.96m50.24 3.98h1.96m7.7 0h1.96m9.64 5.98h1.96m-1.96 2h1.96m-87.02 1.99h1.96m-21.3 3.98h1.96m11.58 0h1.96m63.77 3.99h1.96m57.97 7.97h1.96m-116.02 1.99h1.96m-25.16 19.93h1.96m42.5 0h1.96m102.44 0h1.96m17.38 0h1.96m-36.76 1.99h1.96m-116.03 45.84h1.96" stroke="#ed6375"/>
<path d="M298.27 222.39h1.96m17.37 1.99h1.96m-7.76 1.99h1.96m7.71 0h1.96m-32.9 2h1.96m38.64 0h1.96m92.78 0h1.96m-108.3 1.99h1.96m3.84 0h1.96m94.71 0h1.96m-129.56 1.99h1.96m28.97 2h1.96m32.84 0h1.96m108.24 0h1.96m-73.49 1.99h1.96m-94.76 1.99h1.96m-7.76 11.96h1.96m44.44 1.99h1.96m-48.36 1.99h1.96m79.24 3.99h1.96m-34.83 5.98h1.96m-15.49 5.97h1.96m90.84 0h1.96m3.84 2h1.96m23.17 0h1.96m3.84 0h1.96m-88.96 5.98h1.96m42.51 0h1.96m36.71 0h1.96m-125.7 1.99h1.96m61.84 1.99h1.96m-19.36 3.99h1.96m42.51 1.99h1.96m-98.63 3.98h1.96m141.11 0h1.96m-199.16 2h1.96m46.37 5.98h1.96m98.58 3.98h1.96m-96.7 1.99h1.96m13.51 5.98h1.96m-59.96 1.99h1.96m127.57 0h1.96m19.31 0h1.96m-17.43 3.99h1.96m-131.49 1.99h1.96m23.17 5.98h1.96m38.64 1.99h1.96m-75.42 2h1.96m65.7 0h1.96m-75.42 3.98h1.96m32.84 0h1.96m-23.23 1.99h1.96m21.24 2h1.96m-5.83 1.99h1.96m54.11 0h1.96m-90.89 1.99h1.96m117.9 2h1.96m-87.02 3.98h1.96m-15.5 1.99h1.96m67.64 0h1.96m9.64 0h1.96m1.91 0h1.96m-42.56 3.99h1.96m42.51 0h1.96m-114.1 1.99h1.96m102.44 0h1.96m-34.82 1.99h1.96m110.17 3.99h1.96m-143.09 5.98h1.96m28.97 1.99h1.96m63.77 0h1.96m1.91 0h1.96m5.77 5.98h1.96m-139.22 1.99h1.96m81.17 0h1.96m-100.56 5.98h1.96m57.97 3.99h1.96m-59.96 1.99h1.96m162.38 3.98h1.96m-96.7 3.99h1.96m40.58 0h1.96m-81.23 5.98h1.96m32.84 1.99h1.96m38.64 1.99h1.96m19.31 0h1.96m42.5 7.97h1.96m-139.22 5.98h1.96m-1.96 1.99h1.96m-32.9 2h1.96m1.91 1.99h1.96m17.37 0h1.96m7.71 0h1.96m-1.96 3.99h1.96m19.31 0h1.96m9.64 1.99h1.96m-48.36 1.99h1.96m17.37 0h1.96m19.31 0h1.96" stroke="#db99b7"/>
<path d="M306.00 222.39h1.96m23.17 0h1.96m-9.69 3.98h1.96m23.17 0h1.96m-44.49 3.99h1.96m137.24 0h1.96m21.24 0h1.96m-25.16 1.99h1.96m-137.29 2h1.96m-7.76 5.97h1.96m19.3 13.95h1.96m50.24 3.99h1.96m67.64 0h1.96m-.02 0h1.96m23.17 7.97h1.96m-199.16 5.98h1.96m148.84 0h1.96m21.24 0h1.96m-29.03 3.98h1.96m-3.89 3.99h1.96m3.84 0h1.96m-114.09 1.99h1.96m57.97 3.99h1.96m-61.89 7.97h1.96m19.3 3.98h1.96m88.91 11.96h1.96m-71.56 1.99h1.96m-36.76 1.99h1.96m5.77 0h1.96m98.58 0h1.96m-154.7 7.98h1.96m1.91 0h1.96m15.44 0h1.96m34.77 0h1.96m-42.56 5.97h1.96m67.64 0h1.96m17.38 0h1.96m7.7 2h1.96m-112.16 1.99h1.96m5.78 0h1.96m3.84 0h1.96m5.77 0h1.96m56.04 0h1.96m-77.36 1.99h1.96m-3.89 3.99h1.96m11.57 1.99h1.96m88.91 0h1.96m-79.3 1.99h1.96m32.84 0h1.96m-19.36 7.97h1.96m44.44 2h1.96m-7.76 1.99h1.96m23.18 1.99h1.96m-1.96 1.99h1.96m-29.03 3.99h1.96m7.71 0h1.96m65.7 27.9h1.96m-63.82 7.97h1.96m75.37 7.97h1.96m-117.96 3.99h1.96m-1.96 11.95h1.96m38.64 3.99h1.96m-102.49 1.99h1.96m23.17 0h1.96m-.03 0h1.96m-.02 3.99h1.96m32.84 0h1.96m-38.7 3.98h1.96m115.98 1.99h1.96" stroke="#e78799"/>
<path d="M307.93 222.39h1.96m9.64 1.99h1.96m-1.96 1.99h1.96m83.11 2h1.96m-125.69 3.98h1.96m56.04 0h1.96m57.97 0h1.96m36.71 3.99h1.96m-34.83 1.99h1.96m42.51 0h1.96m-172.1 1.99h1.96m44.44 0h1.96m150.78 0h1.96m-154.7 3.99h1.96m32.84 0h1.96m110.18 1.99h1.96m-108.3 3.99h1.96m9.64 0h1.96m5.78 0h1.96m-17.43 1.99h1.96m36.71 0h1.96m38.64 1.99h1.96m-123.76 2h1.96m56.04 0h1.96m38.64 0h1.96m-83.16 1.99h1.96m15.44 0h1.96m13.5 1.99h1.96m44.44 1.99h1.96m-56.09 2h1.96m48.31 0h1.96m-5.83 1.99h1.96m-127.63 1.99h1.96m71.51 0h1.96m-5.83 1.99h1.96m30.91 2h1.96m-17.43 1.99h1.96m36.71 0h1.96m5.77 0h1.96m5.78 0h1.96m40.57 1.99h1.96m-135.36 2h1.96m5.77 0h1.96m13.51 0h1.96m63.77 0h1.96m1.91 0h1.96m15.44 1.99h1.96m-58.03 11.95h1.96m52.18 0h1.96m11.57 0h1.96m-146.96 2h1.96m9.64 0h1.96m34.77 0h1.96m85.04 0h1.96m-25.16 1.99h1.96m-100.56 3.99h1.96m17.38 0h1.96m-3.9 3.98h1.96m57.98 3.99h1.96m63.77 0h1.96m-160.49 5.97h1.96m75.37 0h1.96m73.44 0h1.96m-116.03 2h1.96m98.58 0h1.96m9.64 0h1.96m-96.7 1.99h1.96m28.98 0h1.96m-81.23 1.99h1.96m32.84 3.99h1.96m5.77 0h1.96m-5.82 1.99h1.96m61.84 0h1.96m-112.16 5.98h1.96m9.64 0h1.96m25.1 11.96h1.96m23.18 1.99h1.96m-81.23 5.98h1.96m11.57 0h1.96m-32.89 1.99h1.96m27.04 1.99h1.96m5.77 0h1.96m139.18 9.97h1.96m-34.83 7.97h1.96m-146.96 1.99h1.96m59.91 0h1.96m44.44 0h1.96m77.3 0h1.96m-191.42 1.99h1.96m27.04 0h1.96m52.17 0h1.96m92.77 1.99h1.96m-21.29 2h1.96m-23.23 1.99h1.96m-129.56 1.99h1.96m-3.89 2h1.96m40.57 0h1.96m27.04 0h1.96m48.31 0h1.96m38.64 0h1.96m-77.36 1.99h1.96m56.04 0h1.96m-75.43 5.98h1.96m61.84 0h1.96m-96.69 1.99h1.96m102.44 0h1.96m40.57 0h1.96m-152.76 3.98h1.96m48.31 0h1.96m-71.56 2h1.96m63.77 1.99h1.96m-90.89 1.99h1.96m38.64 0h1.96m46.37 0h1.96m34.78 2h1.96m-9.7 5.97h1.96m-87.02 2h1.96m13.5 0h1.96m63.78 1.99h1.96m40.57 0h1.96m-150.83 1.99h1.96m21.24 0h1.96m108.24 1.99h1.96m1.91 0h1.96m25.11 2h1.96m-164.36 1.99h1.96m143.04 5.98h1.96m-137.3 3.98h1.96m11.58 0h1.96m150.77 0h1.96m7.71 0h1.96" stroke="#c399cf"/>
<path d="M311.80 222.39h1.96m-17.43 3.98h1.96m5.78 0h1.96m119.84 0h1.96m-135.36 2h1.96m166.24 0h1.96m-164.36 1.99h1.96m21.24 0h1.96m3.84 0h1.96m100.5 0h1.96m-117.96 1.99h1.96m5.78 0h1.96m13.5 0h1.96m121.78 0h1.96m15.44 0h1.96m-166.3 2h1.96m5.78 1.99h1.96m13.5 0h1.96m-30.96 1.99h1.96m114.04 0h1.96m-121.82 5.98h1.96m121.77 1.99h1.96m34.77 0h1.96m-141.16 1.99h1.96m100.51 2h1.96m-98.63 1.99h1.96m-29.02 3.99h1.96m23.17 1.99h1.96m92.77 0h1.96m-104.42 1.99h1.96m65.7 0h1.96m34.78 3.99h1.96m-1.96 1.99h1.96m25.1 0h1.96m-.02 0h1.96m-141.16 1.99h1.96m9.64 1.99h1.96m115.97 2h1.96m7.71 0h1.96m-27.1 3.98h1.96m-110.22 2h1.96m-36.76 1.99h1.96m11.57 0h1.96m1.91 1.99h1.96m50.24 3.99h1.96m40.57 0h1.96m-88.96 1.99h1.96m3.84 0h1.96m32.84 11.96h1.96m-7.76 7.97h1.96m-11.63 1.99h1.96m92.78 5.98h1.96m27.04 0h1.96m-174.03 1.99h1.96m19.31 3.99h1.96m7.7 0h1.96m7.71 0h1.96m59.91 0h1.96m-98.63 1.99h1.96m73.44 0h1.96m-38.69 1.99h1.96m-23.23 3.99h1.96m15.44 0h1.96m42.51 0h1.96m-29.03 1.99h1.96m25.11 0h1.96m-65.76 1.99h1.96m-29.03 1.99h1.96m40.57 0h1.96m5.78 0h1.96m50.24 0h1.96m7.7 2h1.96m-117.96 1.99h1.96m13.51 0h1.96m11.57 0h1.96m-.02 0h1.96m36.7 0h1.96m21.24 1.99h1.96m11.58 2h1.96m1.9 0h1.96m7.71 0h1.96m-94.76 1.99h1.96m9.64 0h1.96m-.03 1.99h1.96m-15.49 1.99h1.96m7.71 0h1.96m-36.76 2h1.96m104.37 1.99h1.96m-63.83 1.99h1.96m44.44 0h1.96m-90.89 1.99h1.96m102.44 3.99h1.96m65.71 0h1.96m-110.23 1.99h1.96m114.04 0h1.96m-135.36 3.99h1.96m5.77 0h1.96m36.71 3.98h1.96m7.71 0h1.96m-11.63 2h1.96m48.31 0h1.96m-102.5 1.99h1.96m144.98 1.99h1.96m-63.83 1.99h1.96m15.44 0h1.96m11.57 2h1.96m-152.76 1.99h1.96m9.64 0h1.96m28.98 0h1.96m13.5 0h1.96m94.71 7.97h1.96m-88.96 5.98h1.96m-23.23 9.96h1.96m85.04 2h1.96m25.11 0h1.96m7.71 5.97h1.96m-152.76 2h1.96m-34.83 1.99h1.96m123.71 0h1.96m25.1 0h1.96m-143.09 5.98h1.96m135.31 0h1.96m50.24 0h1.96m-189.5 3.98h1.96m-7.76 2h1.96m19.31 1.99h1.96m108.24 1.99h1.96m27.04 0h1.96m13.51 0h1.96m-61.9 1.99h1.96" stroke="#ed8193"/>
<path d="M321.47 222.39h1.96m-17.43 9.96h1.96m69.57 0h1.96m28.98 3.99h1.96m34.77 0h1.96m-30.96 3.98h1.96m-108.29 3.99h1.96m38.64 13.95h1.96m56.04 13.95h1.96m-85.1 21.92h1.96m21.24 0h1.96m34.78 19.92h1.96m-30.96 3.99h1.96m-81.23 3.99h1.96m65.71 0h1.96m-63.83 3.98h1.96m117.91 3.99h1.96m-90.9 1.99h1.96m54.11 3.98h1.96m-83.16 3.99h1.96m1.91 0h1.96m25.1 1.99h1.96m-17.42 2h1.96m86.97 0h1.96m7.71 0h1.96m-58.03 5.97h1.96m19.31 0h1.96m21.24 9.97h1.96m-104.43 1.99h1.96m75.37 0h1.96m-34.82 5.98h1.96m36.7 3.98h1.96m-61.89 11.96h1.96m81.17 0h1.96m-71.56 13.95h1.96m71.51 0h1.96m-69.63 5.98h1.96m9.64 13.95h1.96m-23.22 11.95h1.96m148.84 7.97h1.96" stroke="#e193ab"/>
<path d="M327.27 222.39h1.96m-15.5 1.99h1.96m114.04 3.99h1.96m-137.29 1.99h1.96m-17.43 1.99h1.96m197.18 2h1.96m-156.63 3.98h1.96m135.31 7.97h1.96m-156.63 1.99h1.96m19.31 0h1.96m-15.5 2h1.96m-5.82 1.99h1.96m21.24 0h1.96m-15.5 1.99h1.96m102.44 2h1.96m-52.22 1.99h1.96m-98.63 1.99h1.96m59.91 1.99h1.96m1.9 9.97h1.96m67.64 0h1.96m-79.29 1.99h1.96m-46.43 5.98h1.96m13.51 0h1.96m73.44 0h1.96m-54.16 1.99h1.96m61.84 3.99h1.96m50.24 0h1.96m-110.23 3.98h1.96m30.91 1.99h1.96m-3.89 2h1.96m-.03 0h1.96m28.97 0h1.96m11.58 0h1.96m38.64 0h1.96m3.84 7.97h1.96m-183.7 1.99h1.96m52.18 5.98h1.96m-58.03 3.98h1.96m146.91 0h1.96m1.9 0h1.96m-48.36 2h1.96m48.31 0h1.96m13.51 0h1.96m-117.96 1.99h1.96m125.64 0h1.96m-179.83 1.99h1.96m23.17 2h1.96m73.44 0h1.96m40.58 0h1.96m-32.9 1.99h1.96m-106.36 1.99h1.96m7.71 0h1.96m85.04 0h1.96m-96.69 1.99h1.96m30.9 0h1.96m1.91 0h1.96m-42.56 2h1.96m79.24 0h1.96m-88.96 1.99h1.96m110.17 0h1.96m3.84 0h1.96m-110.22 1.99h1.96m-13.56 1.99h1.96m75.37 0h1.96m-69.63 2h1.96m27.04 0h1.96m-23.22 1.99h1.96m3.84 0h1.96m86.97 0h1.96m-40.63 1.99h1.96m27.04 0h1.96m-106.36 2h1.96m32.84 0h1.96m9.64 0h1.96m21.24 0h1.96m1.91 0h1.96m-42.56 1.99h1.96m56.04 0h1.96m-94.76 1.99h1.96m-.03 0h1.96m32.84 0h1.96m-30.96 3.99h1.96m25.11 0h1.96m65.71 1.99h1.96m-56.1 3.98h1.96m75.38 0h1.96m-112.16 3.99h1.96m11.57 0h1.96m25.11 1.99h1.96m21.24 0h1.96m-.03 0h1.96m34.77 0h1.96m52.18 0h1.96m-81.23 3.99h1.96m-73.49 1.99h1.96m23.17 0h1.96m-.03 0h1.96m98.58 0h1.96m-.03 0h1.96m-117.96 5.98h1.96m32.84 0h1.96m106.31 0h1.96m-67.7 1.99h1.96m-42.56 1.99h1.96m-63.82 3.99h1.96m98.57 0h1.96m-88.96 1.99h1.96m125.64 2h1.96m-13.56 9.96h1.96m1.91 0h1.96m3.84 11.96h1.96m-143.1 7.97h1.96m3.84 1.99h1.96m5.78 0h1.96m11.57 1.99h1.96m164.31 1.99h1.96m-146.96 2h1.96m3.84 1.99h1.96m-34.83 1.99h1.96m-.03 0h1.96m3.84 2h1.96m-.02 1.99h1.96m40.57 1.99h1.96m21.24 0h1.96m71.51 1.99h1.96" stroke="#e18dab"/>
<path d="M333.07 222.39h1.96m59.9 1.99h1.96m27.04 0h1.96m-146.96 3.99h1.96m30.91 1.99h1.96m67.64 15.94h1.96m92.77 5.98h1.96m-79.29 3.99h1.96m-65.76 1.99h1.96m21.24 0h1.96m-30.96 3.98h1.96m121.77 2h1.96m-160.49 7.97h1.96m88.91 0h1.96m-11.63 1.99h1.96m83.11 0h1.96m-152.76 3.99h1.96m44.44 0h1.96m13.5 0h1.96m7.71 0h1.96m19.31 0h1.96m-106.36 1.99h1.96m52.17 0h1.96m5.77 0h1.96m7.71 0h1.96m-36.76 1.99h1.96m23.17 0h1.96m69.58 0h1.96m-156.63 1.99h1.96m5.77 2h1.96m21.24 0h1.96m13.51 0h1.96m115.97 0h1.96m-135.36 1.99h1.96m139.18 1.99h1.96m-125.7 1.99h1.96m110.18 0h1.96m-100.56 2h1.96m36.7 0h1.96m15.44 0h1.96m25.11 0h1.96m-75.43 1.99h1.96m7.71 3.99h1.96m17.37 0h1.96m52.18 0h1.96m-127.63 1.99h1.96m144.97 0h1.96m-150.82 3.98h1.96m17.37 0h1.96m50.24 0h1.96m7.71 0h1.96m73.44 2h1.96m-30.96 1.99h1.96m-81.23 1.99h1.96m-75.43 1.99h1.96m75.38 0h1.96m-42.56 2h1.96m-25.16 1.99h1.96m7.7 0h1.96m-19.36 1.99h1.96m13.51 0h1.96m28.97 0h1.96m69.58 2h1.96m5.77 0h1.96m42.51 0h1.96m-48.36 1.99h1.96m-100.56 1.99h1.96m40.57 0h1.96m9.64 1.99h1.96m9.64 0h1.96m-83.16 5.98h1.96m104.37 0h1.96m-117.96 1.99h1.96m21.24 0h1.96m36.71 0h1.96m-50.29 2h1.96m56.04 0h1.96m106.3 0h1.96m-67.69 1.99h1.96m-108.29 1.99h1.96m63.77 0h1.96m9.64 0h1.96m-73.49 3.99h1.96m-1.96 1.99h1.96m5.77 0h1.96m23.17 0h1.96m83.11 0h1.96m-88.96 1.99h1.96m56.04 2h1.96m-75.43 5.97h1.96m54.11 0h1.96m-81.23 2h1.96m172.04 1.99h1.96m-172.09 1.99h1.96m13.51 0h1.96m50.24 0h1.96m-.03 0h1.96m44.44 0h1.96m-.03 0h1.96m54.11 0h1.96m-44.49 2h1.96m-145.03 1.99h1.96m15.44 0h1.96m114.04 0h1.96m-102.49 1.99h1.96m90.84 0h1.96m-42.56 3.99h1.96m-77.36 1.99h1.96m63.77 0h1.96m15.44 0h1.96m88.91 0h1.96m-63.83 1.99h1.96m40.57 0h1.96m-92.82 1.99h1.96m63.77 3.99h1.96m11.57 0h1.96m36.71 0h1.96m-40.63 1.99h1.96m28.98 0h1.96m-162.43 2h1.96m69.57 0h1.96m63.78 1.99h1.96m-21.3 3.98h1.96m11.58 3.99h1.96m7.7 0h1.96m28.98 0h1.96m-156.63 7.97h1.96m98.57 0h1.96m-135.36 1.99h1.96m7.71 0h1.96m54.11 0h1.96m44.44 0h1.96m9.64 2h1.96m-90.9 5.97h1.96m-44.49 2h1.96m52.17 0h1.96m9.64 0h1.96m54.11 0h1.96m-123.76 1.99h1.96m73.44 0h1.96m-.03 0h1.96m-.02 0h1.96m69.57 0h1.96m-69.63 1.99h1.96m-56.09 1.99h1.96m28.97 0h1.96m81.18 0h1.96m-104.43 2h1.96m5.77 0h1.96m5.78 0h1.96m83.1 0h1.96m-1.96 1.99h1.96m-148.89 3.99h1.96m11.57 1.99h1.96m30.91 0h1.96m114.04 0h1.96m30.91 1.99h1.96m-195.3 1.99h1.96m139.18 0h1.96m-.03 0h1.96m5.77 0h1.96" stroke="#cf9fc9"/>
<path d="M335.00 222.39h1.96m71.51 0h1.96m-69.63 21.92h1.96m135.31 9.96h1.96m-13.56 7.97h1.96m-71.56 19.93h1.96m13.5 1.99h1.96m28.98 0h1.96m-85.1 17.94h1.96m-75.42 9.96h1.96m152.7 25.91h1.96m21.24 21.92h1.96m3.84 5.98h1.96m-185.62 15.94h1.96m114.04 9.96h1.96m-54.16 1.99h1.96m-58.03 7.97h1.96m75.37 0h1.96m63.78 0h1.96m-34.83 27.9h1.96" stroke="#7575c9"/>
<path d="M348.53 222.39h1.96m71.51 3.98h1.96m-110.23 3.99h1.96m-7.76 15.94h1.96m-1.96 1.99h1.96m-3.89 2h1.96m-30.96 7.97h1.96m199.11 7.97h1.96m-75.43 15.94h1.96m-77.36 1.99h1.96m5.77 7.97h1.96m-50.29 2h1.96m83.11 33.87h1.96m15.44 0h1.96m-5.83 7.97h1.96m-15.49 5.98h1.96m3.84 0h1.96m9.64 0h1.96m-15.5 15.94h1.96m-15.49 2h1.96m-48.36 7.97h1.96m94.71 3.98h1.96m-34.83 15.95h1.96m79.24 9.96h1.96m-9.69 15.94h1.96" stroke="#ed7b93"/>
<path d="M350.47 222.39h1.96m-44.5 7.97h1.96m166.24 0h1.96m-9.69 3.99h1.96m-46.43 1.99h1.96m-125.69 1.99h1.96m19.31 11.96h1.96m-3.9 7.97h1.96m139.18 0h1.96m-125.7 13.95h1.96m-15.49 7.97h1.96m-13.56 43.84h1.96m75.37 0h1.96m1.91 1.99h1.96m-42.56 3.99h1.96m-63.83 1.99h1.96m36.71 0h1.96m-42.56 5.98h1.96m42.51 5.98h1.96m56.04 1.99h1.96m-15.5 1.99h1.96m11.58 1.99h1.96m-100.56 2h1.96m104.37 0h1.96m-108.29 5.97h1.96m54.1 0h1.96m25.11 2h1.96m23.17 3.98h1.96m27.04 0h1.96m-48.36 7.97h1.96m61.84 9.97h1.96m-125.69 1.99h1.96m106.31 0h1.96m13.5 3.99h1.96m-23.22 1.99h1.96m-38.7 7.97h1.96m59.91 5.98h1.96m25.11 27.9h1.96" stroke="#ed6f7b"/>
<path d="M367.87 222.39h1.96m-19.36 1.99h1.96m13.5 1.99h1.96m-.02 2h1.96m-69.63 1.99h1.96m-5.83 1.99h1.96m-15.49 2h1.96m13.51 0h1.96m-3.9 3.98h1.96m19.31 21.92h1.96m3.84 0h1.96m7.71 1.99h1.96m-23.23 2h1.96m11.57 0h1.96m-21.29 1.99h1.96m25.11 0h1.96m-3.9 1.99h1.96m-19.36 3.99h1.96m11.58 1.99h1.96m-15.5 1.99h1.96m23.18 2h1.96m-15.5 9.96h1.96m1.91 0h1.96m11.57 5.98h1.96m-3.89 1.99h1.96m23.17 29.89h1.96m13.51 0h1.96m-19.36 3.99h1.96m9.64 0h1.96m-96.69 1.99h1.96m88.9 1.99h1.96m23.18 0h1.96m-94.76 3.99h1.96m67.64 1.99h1.96m-46.43 1.99h1.96m42.51 5.98h1.96m17.37 0h1.96m-.03 0h1.96m23.18 0h1.96m-1.96 1.99h1.96m-7.76 2h1.96m3.84 0h1.96m-114.1 7.97h1.96m90.84 0h1.96m-9.69 1.99h1.96m-7.76 11.96h1.96m34.77 7.97h1.96m-.02 1.99h1.96m25.1 17.93h1.96m9.64 2h1.96m-15.49 3.98h1.96m7.71 2h1.96m11.57 21.92h1.96m-52.23 3.98h1.96" stroke="#ed4b57"/>
<path d="M373.67 222.39h1.96m7.7 0h1.96m38.64 0h1.96m-69.62 1.99h1.96m-.03 3.99h1.96m57.97 5.98h1.96m15.44 1.99h1.96m-92.82 1.99h1.96m110.17 5.98h1.96m-21.29 1.99h1.96m-81.23 1.99h1.96m112.11 2h1.96m-23.23 1.99h1.96m-102.49 1.99h1.96m119.84 2h1.96m-54.16 1.99h1.96m46.37 0h1.96m-21.29 1.99h1.96m-87.03 3.99h1.96m102.44 0h1.96m-56.09 1.99h1.96m5.77 0h1.96m46.37 1.99h1.96m-77.36 5.98h1.96m3.84 0h1.96m-104.42 1.99h1.96m50.24 5.98h1.96m19.3 0h1.96m19.31 0h1.96m57.97 0h1.96m-90.89 1.99h1.96m28.97 0h1.96m69.58 0h1.96m-137.3 5.98h1.96m42.51 0h1.96m9.64 0h1.96m32.84 0h1.96m50.24 0h1.96m-154.69 5.98h1.96m1.9 0h1.96m30.91 0h1.96m-73.49 5.98h1.96m96.64 0h1.96m9.64 0h1.96m-75.43 1.99h1.96m71.51 0h1.96m11.57 0h1.96m25.11 0h1.96m-98.63 1.99h1.96m56.04 0h1.96m-15.49 3.99h1.96m-36.76 1.99h1.96m96.64 0h1.96m19.3 0h1.96m5.78 0h1.96m-160.5 1.99h1.96m67.64 3.99h1.96m61.84 0h1.96m-143.09 1.99h1.96m90.84 0h1.96m57.97 3.99h1.96m-.02 1.99h1.96m-166.3 1.99h1.96m133.38 11.96h1.96m-.03 1.99h1.96m-7.76 5.98h1.96m-110.23 11.96h1.96m52.18 0h1.96m67.64 0h1.96m5.77 0h1.96m-150.83 1.99h1.96m50.24 3.99h1.96m13.51 0h1.96m94.71 0h1.96m-59.96 1.99h1.96m56.04 5.98h1.96m-164.36 1.99h1.96m146.9 0h1.96m-145.02 1.99h1.96m36.7 1.99h1.96m36.71 0h1.96m-.03 2h1.96m-114.09 1.99h1.96m27.04 3.99h1.96m92.77 0h1.96m54.11 0h1.96m-168.23 1.99h1.96m75.38 0h1.96m1.9 0h1.96m28.98 0h1.96m27.04 0h1.96m-156.63 1.99h1.96m129.51 1.99h1.96m-.03 2h1.96m13.51 0h1.96m1.9 1.99h1.96m-145.02 3.98h1.96m32.84 0h1.96m19.3 0h1.96m-59.96 2h1.96m92.78 0h1.96m5.77 1.99h1.96m-1.96 11.96h1.96m11.57 3.98h1.96m7.71 0h1.96m11.57 0h1.96m-23.22 3.99h1.96m-21.3 7.97h1.96m-19.36 1.99h1.96m-3.89 1.99h1.96" stroke="#a593cf"/>
<path d="M280.87 224.38h1.96m164.3 7.97h1.96m-160.49 7.97h1.96m-.03 2h1.96m-.02 1.99h1.96m7.7 1.99h1.96m1.91 13.95h1.96m5.77 3.99h1.96m11.58 0h1.96m-15.5 1.99h1.96m-9.69 1.99h1.96m15.44 0h1.96m7.71 0h1.96m-9.7 1.99h1.96m-.02 2h1.96m-21.3 7.97h1.96m-1.96 1.99h1.96m23.18 0h1.96m9.64 7.97h1.96m-11.63 1.99h1.96m7.71 0h1.96m-11.63 2h1.96m-1.96 3.98h1.96m-1.96 2h1.96m3.84 0h1.96m52.17 51.81h1.96m-7.76 1.99h1.96m27.04 0h1.96m-25.16 5.98h1.96m-1.96 1.99h1.96m-5.82 11.96h1.96m7.7 0h1.96m57.98 25.9h1.96m1.9 1.99h1.96m-7.76 2h1.96m-7.76 1.99h1.96m5.78 1.99h1.96m3.84 5.98h1.96m-3.9 1.99h1.96m9.64 19.93h1.96" stroke="#ed333f"/>
<path d="M306.00 224.38h1.96m166.24 9.97h1.96m-3.89 3.98h1.96m-164.36 9.96h1.96m-11.63 7.98h1.96m32.84 3.98h1.96m9.64 11.96h1.96m83.11 0h1.96m-5.83 13.95h1.96m-92.83 15.94h1.96m-54.16 21.92h1.96m92.78 0h1.96m-13.56 5.98h1.96m19.3 1.99h1.96m-19.36 5.98h1.96m36.71 9.96h1.96m-36.76 5.98h1.96m-83.16 3.98h1.96m28.97 5.98h1.96m-15.49 3.99h1.96m-11.63 1.99h1.96m123.71 5.98h1.96m30.91 3.98h1.96m-34.83 3.99h1.96m-1.96 21.92h1.96m-87.03 29.89h1.96" stroke="#ed7581"/>
<path d="M365.93 224.38h1.96m-17.42 5.98h1.96m-67.7 3.99h1.96m-.02 0h1.96m-1.96 1.99h1.96m-5.83 1.99h1.96m63.77 0h1.96m-.02 0h1.96m-59.96 7.97h1.96m179.77 0h1.96m1.91 1.99h1.96m-150.83 3.99h1.96m56.04 7.97h1.96m-65.76 1.99h1.96m-17.43 3.99h1.96m1.91 0h1.96m11.57 1.99h1.96m3.84 3.99h1.96m-27.09 5.98h1.96m23.17 0h1.96m-15.49 1.99h1.96m141.11 5.98h1.96m-119.9 5.97h1.96m-9.69 9.97h1.96m15.44 7.97h1.96m7.71 3.98h1.96m21.24 33.88h1.96m-1.96 3.99h1.96m13.5 5.97h1.96m-17.42 2h1.96m52.17 1.99h1.96m-25.16 15.94h1.96m-5.83 1.99h1.96m38.64 17.94h1.96m5.78 0h1.96m1.9 1.99h1.96m1.91 21.92h1.96m1.91 0h1.96m-1.96 1.99h1.96m1.9 5.98h1.96" stroke="#ed3f4b"/>
<path d="M425.87 224.38h1.96m-77.36 1.99h1.96m69.57 2h1.96m-.03 0h1.96m-67.69 1.99h1.96m65.71 0h1.96m-123.76 3.99h1.96m-3.9 5.97h1.96m-.02 2h1.96m3.84 0h1.96m-3.9 1.99h1.96m27.04 11.96h1.96m-.02 0h1.96m-40.63 3.98h1.96m23.17 0h1.96m3.84 0h1.96m-32.89 3.99h1.96m21.24 0h1.96m5.77 0h1.96m-1.96 1.99h1.96m125.64 0h1.96m-.02 0h1.96m-125.7 1.99h1.96m-23.22 1.99h1.96m143.04 2h1.96m-158.56 1.99h1.96m19.3 0h1.96m-21.29 1.99h1.96m17.37 0h1.96m-1.96 2h1.96m148.84 0h1.96m-1.96 1.99h1.96m-172.09 1.99h1.96m19.31 0h1.96m9.64 1.99h1.96m-40.63 2h1.96m32.84 3.98h1.96m-5.83 3.99h1.96m27.04 21.92h1.96m-30.96 7.97h1.96m-5.82 5.98h1.96m42.5 0h1.96m19.31 1.99h1.96m1.91 0h1.96m-94.76 1.99h1.96m71.5 0h1.96m-63.82 1.99h1.96m38.64 0h1.96m5.77 2h1.96m15.44 1.99h1.96m-88.96 1.99h1.96m85.04 0h1.96m-65.76 2h1.96m57.97 0h1.96m-15.49 1.99h1.96m-.03 3.98h1.96m-38.69 2h1.96m63.77 5.97h1.96m-90.89 2h1.96m92.77 1.99h1.96m23.18 1.99h1.96m-119.9 5.98h1.96m25.11 0h1.96m25.11 0h1.96m38.64 0h1.96m7.7 1.99h1.96m1.91 0h1.96m-46.43 2h1.96m69.58 7.97h1.96m-21.3 5.98h1.96m-87.02 41.84h1.96" stroke="#ed515d"/>
<path d="M478.07 224.38h1.96m-77.36 3.99h1.96m-7.76 1.99h1.96m-25.16 11.96h1.96m7.7 7.97h1.96m-7.76 5.98h1.96m63.78 3.98h1.96m-63.83 1.99h1.96m1.91 0h1.96m75.37 7.97h1.96m-81.23 5.98h1.96m81.18 2h1.96m-59.96 9.96h1.96m3.84 7.97h1.96m19.3 3.99h1.96m-42.56 1.99h1.96m67.64 3.98h1.96m-139.22 9.97h1.96m146.9 1.99h1.96m-21.29 11.96h1.96m5.77 1.99h1.96m-61.89 9.96h1.96m40.57 0h1.96m-7.76 2h1.96m11.58 0h1.96m-25.16 7.97h1.96m36.7 1.99h1.96m-154.69 1.99h1.96m9.64 0h1.96m86.97 0h1.96m-116.02 9.97h1.96m112.1 0h1.96m-100.56 13.94h1.96m150.78 15.95h1.96m-40.63 3.98h1.96m11.57 17.94h1.96m28.98 1.99h1.96m-88.96 3.98h1.96m-90.9 5.98h1.96m48.31 0h1.96m30.91 0h1.96m67.64 2h1.96m-77.36 3.98h1.96" stroke="#9381cf"/>
<path d="M313.73 226.37h1.96m-11.62 9.97h1.96m3.84 25.9h1.96m-11.63 9.97h1.96m123.71 13.95h1.96m-96.7 45.83h1.96m30.91 9.96h1.96m15.44 7.97h1.96m1.91 5.98h1.96m5.77 11.96h1.96m28.97 15.94h1.96" stroke="#ed5d6f"/>
<path d="M367.87 226.37h1.96m-87.03 3.99h1.96m-.03 0h1.96m160.44 0h1.96m-.02 0h1.96m-100.56 1.99h1.96m5.77 3.99h1.96m-67.69 3.98h1.96m-1.96 2h1.96m25.1 5.97h1.96m15.44 5.98h1.96m-30.96 5.98h1.96m1.91 0h1.96m-1.96 1.99h1.96m11.57 0h1.96m3.84 0h1.96m-25.16 2h1.96m3.84 5.97h1.96m17.38 0h1.96m3.84 0h1.96m-23.23 3.99h1.96m13.51 0h1.96m-27.1 1.99h1.96m23.18 0h1.96m-7.76 2h1.96m148.84 0h1.96m-168.23 1.99h1.96m11.57 0h1.96m13.51 9.96h1.96m1.91 3.99h1.96m-11.63 1.99h1.96m7.71 1.99h1.96m-3.9 3.99h1.96m11.58 3.98h1.96m-5.83 2h1.96m5.77 5.97h1.96m19.31 31.89h1.96m27.04 3.98h1.96m-.03 0h1.96m3.84 0h1.96m-30.96 5.98h1.96m50.24 9.97h1.96m-100.56 3.98h1.96m42.51 1.99h1.96m11.57 0h1.96m-.02 0h1.96m11.57 2h1.96m-5.83 3.98h1.96m5.78 1.99h1.96m-5.83 2h1.96m46.37 15.94h1.96m-13.56 1.99h1.96m-1.96 7.97h1.96m3.84 2h1.96m3.84 0h1.96m5.78 9.96h1.96" stroke="#ed3945"/>
<path d="M423.93 226.37h1.96m48.31 3.99h1.96m-166.29 1.99h1.96m104.37 0h1.96m-102.49 2h1.96m104.37 3.98h1.96m-123.76 1.99h1.96m-13.56 2h1.96m15.44 0h1.96m-.03 0h1.96m3.84 5.97h1.96m7.71 0h1.96m-19.36 5.98h1.96m88.91 5.98h1.96m-94.76 7.97h1.96m1.9 0h1.96m-3.89 1.99h1.96m-.03 0h1.96m27.04 0h1.96m86.98 2h1.96m-127.63 5.98h1.96m1.91 1.99h1.96m7.7 0h1.96m11.58 0h1.96m143.04 0h1.96m-.03 0h1.96m-175.96 1.99h1.96m36.71 0h1.96m-11.63 3.99h1.96m-25.16 1.99h1.96m28.97 0h1.96m-36.76 31.88h1.96m121.78 3.99h1.96m-54.16 1.99h1.96m9.64 0h1.96m-19.36 1.99h1.96m3.84 5.98h1.96m5.77 1.99h1.96m-71.56 2h1.96m7.71 3.98h1.96m-46.43 3.99h1.96m92.77 0h1.96m-79.29 1.99h1.96m5.77 0h1.96m85.04 1.99h1.96m-17.42 3.99h1.96m23.17 3.98h1.96m-17.43 2h1.96m-108.29 3.98h1.96m152.71 0h1.96m-131.5 3.99h1.96m38.64 0h1.96m-.02 0h1.96m13.5 3.98h1.96m19.31 0h1.96m11.57 0h1.96m-34.82 2h1.96m11.57 9.96h1.96m63.77 3.99h1.96m5.78 3.98h1.96m-7.76 3.99h1.96m-145.03 1.99h1.96m121.77 0h1.96m36.71 1.99h1.96m1.91 19.93h1.96m-7.76 13.95h1.96m-34.83 1.99h1.96" stroke="#ed5d69"/>
<path d="M280.87 228.37h1.96m1.9 3.98h1.96m160.44 3.99h1.96m-158.56 9.96h1.96m34.78 13.95h1.96m3.84 0h1.96m-29.03 3.99h1.96m23.17 9.96h1.96m-15.49 3.99h1.96m13.51 1.99h1.96m-30.96 3.98h1.96m34.77 9.97h1.96m1.91 1.99h1.96m-3.9 3.99h1.96m-.02 0h1.96m5.77 5.97h1.96m-.03 2h1.96m-.02 0h1.96m-1.96 1.99h1.96m1.9 7.97h1.96m32.84 31.88h1.96m3.84 0h1.96m11.58 0h1.96m-27.1 2h1.96m21.24 1.99h1.96m-.02 0h1.96m-21.3 19.93h1.96m23.18 0h1.96m-1.96 1.99h1.96m-1.96 1.99h1.96m36.7 21.92h1.96m-7.76 3.99h1.96m3.84 3.98h1.96m3.84 0h1.96m-13.56 3.99h1.96m5.78 0h1.96m-9.7 1.99h1.96m3.84 0h1.96m3.84 0h1.96m-3.89 1.99h1.96m-1.96 2h1.96m3.84 0h1.96m-.03 0h1.96m-.02 0h1.96m-5.83 1.99h1.96m-.03 1.99h1.96m-3.89 1.99h1.96m5.77 0h1.96m-1.96 2h1.96m-1.96 1.99h1.96m-1.96 3.99h1.96" stroke="#e72d39"/>
<path d="M431.67 228.37h1.96m40.57 3.98h1.96m-30.96 2h1.96m-21.29 5.97h1.96m34.77 7.97h1.96m-160.49 11.96h1.96m79.24 19.93h1.96m-94.76 45.83h1.96m88.9 3.99h1.96m-25.16 3.98h1.96m5.78 0h1.96m-65.76 1.99h1.96m56.04 3.99h1.96m7.7 0h1.96m-5.82 1.99h1.96m-87.03 2h1.96m11.57 3.98h1.96m9.64 0h1.96m88.91 1.99h1.96m-110.23 2h1.96m1.91 3.98h1.96m-19.36 5.98h1.96m166.24 0h1.96m-154.69 1.99h1.96m28.97 0h1.96m-1.96 3.99h1.96m38.64 3.98h1.96m3.84 0h1.96m7.71 2h1.96m-23.23 3.98h1.96m106.31 25.91h1.96m-13.56 3.98h1.96m-110.23 9.97h1.96m-56.09 1.99h1.96m183.64 9.96h1.96" stroke="#e78199"/>
<path d="M423.93 230.36h1.96m-104.42 3.99h1.96m-7.76 3.98h1.96m7.7 0h1.96m3.84 9.96h1.96m92.78 43.84h1.96m32.84 0h1.96m-156.63 2h1.96m114.04 5.98h1.96m-32.89 13.94h1.96m23.17 0h1.96m11.57 2h1.96m-3.89 3.98h1.96m-135.36 2h1.96m90.84 11.95h1.96m1.91 0h1.96m-21.3 1.99h1.96m-5.82 3.99h1.96m-54.16 3.99h1.96m7.7 3.98h1.96m38.64 0h1.96m-9.69 25.91h1.96m-25.16 45.83h1.96m11.57 5.98h1.96m-73.49 9.96h1.96m94.71 0h1.96" stroke="#e18da5"/>
<path d="M282.80 232.35h1.96m32.84 31.89h1.96m11.57 17.93h1.96m7.71 19.93h1.96m1.91 0h1.96m7.7 7.97h1.96m3.84 9.96h1.96m-.02 0h1.96m52.17 29.89h1.96m-29.03 9.97h1.96m61.84 49.82h1.96m9.64 1.99h1.96m-5.82 1.99h1.96m13.5 19.93h1.96" stroke="#e73339"/>
<path d="M286.67 232.35h1.96m-3.9 3.99h1.96m59.91 1.99h1.96m-30.96 29.89h1.96m3.84 3.99h1.96m-11.63 1.99h1.96m156.58 3.99h1.96m-135.36 1.99h1.96m-29.03 1.99h1.96m81.17 39.86h1.96m-3.89 31.88h1.96m-5.83 3.98h1.96m71.51 55.8h1.96m-1.96 5.98h1.96m5.77 3.98h1.96m-1.96 2h1.96" stroke="#ed3f45"/>
<path d="M304.07 232.35h1.96m40.57 3.99h1.96m83.11 0h1.96m-116.03 29.89h1.96m-7.76 1.99h1.96m-1.96 3.99h1.96m13.51 3.98h1.96m-15.5 5.98h1.96m115.98 3.99h1.96m-79.3 19.92h1.96m-65.76 21.92h1.96m92.78 5.98h1.96m7.7 19.93h1.96m-1.96 1.99h1.96m46.38 27.9h1.96m-5.83 7.97h1.96m-1.96 3.99h1.96m17.37 1.99h1.96" stroke="#ed4b51"/>
<path d="M311.80 232.35h1.96m38.64 7.97h1.96m30.91 5.98h1.96m36.7 0h1.96m-23.22 5.98h1.96m-56.1 5.98h1.96m83.11 21.92h1.96m-87.03 5.98h1.96m36.71 7.97h1.96m27.04 15.94h1.96m-108.29 5.98h1.96m48.3 25.9h1.96m13.51 27.9h1.96m-21.29 15.94h1.96m42.5 19.93h1.96m48.31 29.89h1.96" stroke="#db9fc9"/>
<path d="M346.60 232.35h1.96m75.37 2h1.96m-100.56 1.99h1.96m21.24 0h1.96m127.58 0h1.96m-175.96 1.99h1.96m11.57 0h1.96m-15.49 7.97h1.96m25.1 11.96h1.96m54.11 0h1.96m13.51 1.99h1.96m-67.7 3.99h1.96m-11.62 1.99h1.96m137.24 0h1.96m-168.23 1.99h1.96m-1.96 5.98h1.96m21.24 0h1.96m3.84 1.99h1.96m5.77 0h1.96m-21.29 5.98h1.96m3.84 0h1.96m-25.16 1.99h1.96m96.64 9.97h1.96m-17.43 29.89h1.96m7.71 0h1.96m-11.63 3.98h1.96m3.84 0h1.96m-112.16 2h1.96m104.38 0h1.96m-3.9 1.99h1.96m7.71 1.99h1.96m-73.49 1.99h1.96m7.7 0h1.96m63.78 0h1.96m-30.96 2h1.96m-67.7 1.99h1.96m7.71 0h1.96m88.91 0h1.96m-7.76 1.99h1.96m-117.96 2h1.96m13.5 0h1.96m92.78 0h1.96m-15.5 1.99h1.96m-94.76 1.99h1.96m125.64 3.99h1.96m-13.56 3.98h1.96m-92.82 3.99h1.96m59.9 0h1.96m52.18 1.99h1.96m-148.9 1.99h1.96m23.18 3.99h1.96m-23.23 1.99h1.96m21.24 0h1.96m115.97 19.93h1.96m19.31 5.98h1.96m7.71 1.99h1.96m9.64 19.93h1.96m-36.76 17.93h1.96" stroke="#ed6975"/>
<path d="M422.00 232.35h1.96m-145.03 21.92h1.96m54.11 2h1.96m-36.76 1.99h1.96m98.57 0h1.96m69.58 7.97h1.96m-154.7 1.99h1.96m1.91 1.99h1.96m-17.43 2h1.96m114.04 5.98h1.96m-36.76 7.97h1.96m-67.69 7.97h1.96m102.44 0h1.96m15.44 0h1.96m-69.63 21.92h1.96m-67.69 1.99h1.96m11.57 1.99h1.96m-34.82 2h1.96m19.3 3.98h1.96m81.18 1.99h1.96m-73.5 2h1.96m-40.62 1.99h1.96m11.57 1.99h1.96m86.97 1.99h1.96m-108.29 2h1.96m61.84 0h1.96m44.44 0h1.96m5.77 1.99h1.96m-119.89 5.98h1.96m44.44 0h1.96m-30.96 3.98h1.96m9.64 3.99h1.96m69.57 0h1.96m-85.09 3.98h1.96m141.11 3.99h1.96m-96.7 1.99h1.96m40.58 3.99h1.96m32.84 0h1.96m-90.9 7.97h1.96m-7.76 1.99h1.96m-32.89 5.98h1.96m127.57 3.99h1.96m28.98 1.99h1.96m-23.23 3.98h1.96m-13.56 13.95h1.96m-110.23 9.97h1.96m104.38 1.99h1.96m46.37 13.95h1.96" stroke="#ed8199"/>
<path d="M358.20 234.35h1.96m-38.69 13.94h1.96m-17.43 23.92h1.96m-.03 5.98h1.96m32.84 11.95h1.96m-3.89 1.99h1.96m-42.56 2h1.96m40.57 1.99h1.96m-44.49 39.85h1.96m81.17 7.98h1.96m79.24 75.72h1.96" stroke="#ed5157"/>
<path d="M447.13 234.35h1.96m-135.36 25.9h1.96m17.38 3.99h1.96m1.9 9.96h1.96m-25.16 3.99h1.96m25.11 19.92h1.96m57.97 53.81h1.96m-9.69 3.98h1.96m44.44 7.97h1.96m-42.56 7.97h1.96m23.17 13.95h1.96m32.84 19.93h1.96m-1.96 5.98h1.96" stroke="#ed454b"/>
<path d="M282.80 236.34h1.96m11.57 0h1.96m-13.56 1.99h1.96m-.02 0h1.96m23.17 0h1.96m44.44 0h1.96m-21.29 21.92h1.96m-40.63 1.99h1.96m5.77 0h1.96m11.58 0h1.96m-19.36 2h1.96m19.3 1.99h1.96m-9.69 3.98h1.96m-15.49 2h1.96m27.04 0h1.96m88.9 0h1.96m-114.09 1.99h1.96m9.64 1.99h1.96m5.77 3.99h1.96m144.98 0h1.96m-168.23 5.98h1.96m19.31 0h1.96m50.24 0h1.96m-48.36 1.99h1.96m19.3 23.91h1.96m-36.76 13.95h1.96m3.84 3.99h1.96m61.84 5.97h1.96m-65.76 2h1.96m57.98 0h1.96m19.3 9.96h1.96m3.84 0h1.96m-.02 5.98h1.96m-40.63 1.99h1.96m9.64 3.99h1.96m-54.16 7.97h1.96m77.31 3.98h1.96m-40.63 2h1.96m13.51 0h1.96m13.5 0h1.96m1.91 1.99h1.96m27.04 5.98h1.96m1.91 1.99h1.96m-11.63 1.99h1.96m-1.96 2h1.96m-.03 1.99h1.96m-1.96 3.98h1.96m17.38 7.97h1.96m-1.96 2h1.96m1.9 1.99h1.96m-.02 0h1.96m-1.96 9.96h1.96m-3.9 2h1.96m3.84 1.99h1.96m-3.89 5.98h1.96" stroke="#ed4551"/>
<path d="M302.13 242.32h1.96m1.91 1.99h1.96m-7.76 25.9h1.96m63.77 71.74h1.96m42.51 11.96h1.96m-73.49 15.94h1.96" stroke="#ed575d"/>
<path d="M329.20 250.29h1.96m-34.83 101.63h1.96" stroke="#ed7b87"/>
<path d="M362.07 312.06h1.96" stroke="#ed3339"/>
<path d="M377.53 331.99h1.96m-7.76 85.69h1.96" stroke="#db9fbd"/>
</g>
<path d="M282.8 219.4V438.6M288.6 219.4V438.6M294.4 219.4V438.6M300.2 219.4V438.6M306.0 219.4V438.6M311.8 219.4V438.6M317.6 219.4V438.6M323.4 219.4V438.6M329.2 219.4V438.6M335.0 219.4V438.6M340.8 219.4V438.6M346.6 219.4V438.6M352.4 219.4V438.6M358.2 219.4V438.6M364.0 219.4V438.6M369.8 219.4V438.6M375.6 219.4V438.6M381.4 219.4V438.6M387.2 219.4V438.6M393.0 219.4V438.6M398.8 219.4V438.6M404.6 219.4V438.6M410.4 219.4V438.6M416.2 219.4V438.6M422.0 219.4V438.6M427.8 219.4V438.6M433.6 219.4V438.6M439.4 219.4V438.6M445.2 219.4V438.6M451.0 219.4V438.6M456.8 219.4V438.6M462.6 219.4V438.6M468.4 219.4V438.6M474.2 219.4V438.6" stroke="#ffffff" stroke-opacity="0.18" stroke-width="0.5"/>
<path d="M277.0 223.4H480.0M277.0 227.4H480.0M277.0 231.4H480.0M277.0 235.3H480.0M277.0 239.3H480.0M277.0 243.3H480.0M277.0 247.3H480.0M277.0 251.3H480.0M277.0 255.3H480.0M277.0 259.3H480.0M277.0 263.2H480.0M277.0 267.2H480.0M277.0 271.2H480.0M277.0 275.2H480.0M277.0 279.2H480.0M277.0 283.2H480.0M277.0 287.2H480.0M277.0 291.1H480.0M277.0 295.1H480.0M277.0 299.1H480.0M277.0 303.1H480.0M277.0 307.1H480.0M277.0 311.1H480.0M277.0 315.1H480.0M277.0 319.0H480.0M277.0 323.0H480.0M277.0 327.0H480.0M277.0 331.0H480.0M277.0 335.0H480.0M277.0 339.0H480.0M277.0 342.9H480.0M277.0 346.9H480.0M277.0 350.9H480.0M277.0 354.9H480.0M277.0 358.9H480.0M277.0 362.9H480.0M277.0 366.9H480.0M277.0 370.8H480.0M277.0 374.8H480.0M277.0 378.8H480.0M277.0 382.8H480.0M277.0 386.8H480.0M277.0 390.8H480.0M277.0 394.8H480.0M277.0 398.7H480.0M277.0 402.7H480.0M277.0 406.7H480.0M277.0 410.7H480.0M277.0 414.7H480.0M277.0 418.7H480.0M277.0 422.7H480.0M277.0 426.6H480.0M277.0 430.6H480.0M277.0 434.6H480.0" stroke="#ffffff" stroke-opacity="0.1" stroke-width="0.4"/>
<rect x="277.20" y="213.2" width="5.40" height="3.5" fill="#4e5862"/>
<rect x="283.00" y="213.2" width="5.40" height="3.5" fill="#3a7e78"/>
<rect x="288.80" y="213.2" width="5.40" height="3.5" fill="#5864a8"/>
<rect x="294.60" y="213.2" width="5.40" height="3.5" fill="#5a5cb0"/>
<rect x="300.40" y="213.2" width="5.40" height="3.5" fill="#5a5cb0"/>
<rect x="306.20" y="213.2" width="5.40" height="3.5" fill="#5a5cb0"/>
<rect x="312.00" y="213.2" width="5.40" height="3.5" fill="#5a5cb0"/>
<rect x="317.80" y="213.2" width="5.40" height="3.5" fill="#5a5cb0"/>
<rect x="323.60" y="213.2" width="5.40" height="3.5" fill="#5a5cb0"/>
<rect x="329.40" y="213.2" width="5.40" height="3.5" fill="#5a5cb0"/>
<rect x="335.20" y="213.2" width="5.40" height="3.5" fill="#5a5cb0"/>
<rect x="341.00" y="213.2" width="5.40" height="3.5" fill="#5a5cb0"/>
<rect x="346.80" y="213.2" width="5.40" height="3.5" fill="#5a5cb0"/>
<rect x="352.60" y="213.2" width="5.40" height="3.5" fill="#5a5cb0"/>
<rect x="358.40" y="213.2" width="5.40" height="3.5" fill="#5060b0"/>
<rect x="364.20" y="213.2" width="5.40" height="3.5" fill="#f0e050"/>
<rect x="370.00" y="213.2" width="5.40" height="3.5" fill="#f2b060"/>
<rect x="375.80" y="213.2" width="5.40" height="3.5" fill="#f2a054"/>
<rect x="381.60" y="213.2" width="5.40" height="3.5" fill="#f09048"/>
<rect x="387.40" y="213.2" width="5.40" height="3.5" fill="#ec7c4c"/>
<rect x="393.20" y="213.2" width="5.40" height="3.5" fill="#e87050"/>
<rect x="399.00" y="213.2" width="5.40" height="3.5" fill="#e45a48"/>
<rect x="404.80" y="213.2" width="5.40" height="3.5" fill="#e25048"/>
<rect x="410.60" y="213.2" width="5.40" height="3.5" fill="#e04c48"/>
<rect x="416.40" y="213.2" width="5.40" height="3.5" fill="#de4848"/>
<rect x="422.20" y="213.2" width="5.40" height="3.5" fill="#e4e2da"/>
<rect x="428.00" y="213.2" width="5.40" height="3.5" fill="#b2d8b4"/>
<rect x="433.80" y="213.2" width="5.40" height="3.5" fill="#2aa464"/>
<rect x="439.60" y="213.2" width="5.40" height="3.5" fill="#1c9c60"/>
<rect x="445.40" y="213.2" width="5.40" height="3.5" fill="#1a9860"/>
<rect x="451.20" y="213.2" width="5.40" height="3.5" fill="#c8d850"/>
<rect x="457.00" y="213.2" width="5.40" height="3.5" fill="#62b462"/>
<rect x="462.80" y="213.2" width="5.40" height="3.5" fill="#22a062"/>
<rect x="468.60" y="213.2" width="5.40" height="3.5" fill="#e45234"/>
<rect x="474.40" y="213.2" width="5.40" height="3.5" fill="#f2c440"/>
<text transform="translate(281.40,210.6) rotate(-90)" class="t6" style="font-size:5.7px">HSC</text>
<text transform="translate(287.20,210.6) rotate(-90)" class="t6" style="font-size:5.7px">CMP</text>
<text transform="translate(293.00,210.6) rotate(-90)" class="t6" style="font-size:5.7px">GMP</text>
<text transform="translate(298.80,210.6) rotate(-90)" class="t6" style="font-size:5.7px">MyeloPro0</text>
<text transform="translate(304.60,210.6) rotate(-90)" class="t6" style="font-size:5.7px">MyeloPro1</text>
<text transform="translate(310.40,210.6) rotate(-90)" class="t6" style="font-size:5.7px">MyeloPro2</text>
<text transform="translate(316.20,210.6) rotate(-90)" class="t6" style="font-size:5.7px">MyeloPro3</text>
<text transform="translate(322.00,210.6) rotate(-90)" class="t6" style="font-size:5.7px">Macrophage1</text>
<text transform="translate(327.80,210.6) rotate(-90)" class="t6" style="font-size:5.7px">ProMono</text>
<text transform="translate(333.60,210.6) rotate(-90)" class="t6" style="font-size:5.7px">Mono</text>
<text transform="translate(339.40,210.6) rotate(-90)" class="t6" style="font-size:5.7px">Neutrophile1</text>
<text transform="translate(345.20,210.6) rotate(-90)" class="t6" style="font-size:5.7px">Neutrophile2</text>
<text transform="translate(351.00,210.6) rotate(-90)" class="t6" style="font-size:5.7px">Macrophage2</text>
<text transform="translate(356.80,210.6) rotate(-90)" class="t6" style="font-size:5.7px">Mastcells</text>
<text transform="translate(362.60,210.6) rotate(-90)" class="t6" style="font-size:5.7px">pDC</text>
<text transform="translate(368.40,210.6) rotate(-90)" class="t6" style="font-size:5.7px">CFU–E</text>
<text transform="translate(374.20,210.6) rotate(-90)" class="t6" style="font-size:5.7px">ProEry0</text>
<text transform="translate(380.00,210.6) rotate(-90)" class="t6" style="font-size:5.7px">ProEry1</text>
<text transform="translate(385.80,210.6) rotate(-90)" class="t6" style="font-size:5.7px">ProEry2</text>
<text transform="translate(391.60,210.6) rotate(-90)" class="t6" style="font-size:5.7px">BasoEry1</text>
<text transform="translate(397.40,210.6) rotate(-90)" class="t6" style="font-size:5.7px">BasoEry2</text>
<text transform="translate(403.20,210.6) rotate(-90)" class="t6" style="font-size:5.7px">PolyEry1</text>
<text transform="translate(409.00,210.6) rotate(-90)" class="t6" style="font-size:5.7px">PolyEry2</text>
<text transform="translate(414.80,210.6) rotate(-90)" class="t6" style="font-size:5.7px">OrthoEry</text>
<text transform="translate(420.60,210.6) rotate(-90)" class="t6" style="font-size:5.7px">RetiEry</text>
<text transform="translate(426.40,210.6) rotate(-90)" class="t6" style="font-size:5.7px">LMPP</text>
<text transform="translate(432.20,210.6) rotate(-90)" class="t6" style="font-size:5.7px">ProB</text>
<text transform="translate(438.00,210.6) rotate(-90)" class="t6" style="font-size:5.7px">ProB1IgM</text>
<text transform="translate(443.80,210.6) rotate(-90)" class="t6" style="font-size:5.7px">ProB2IgM</text>
<text transform="translate(449.60,210.6) rotate(-90)" class="t6" style="font-size:5.7px">PlasmaB</text>
<text transform="translate(455.40,210.6) rotate(-90)" class="t6" style="font-size:5.7px">TCell0</text>
<text transform="translate(461.20,210.6) rotate(-90)" class="t6" style="font-size:5.7px">TCell1</text>
<text transform="translate(467.00,210.6) rotate(-90)" class="t6" style="font-size:5.7px">TCell2</text>
<text transform="translate(472.80,210.6) rotate(-90)" class="t6" style="font-size:5.7px">Endothel</text>
<text transform="translate(478.60,210.6) rotate(-90)" class="t6" style="font-size:5.7px">MSC</text>
<text x="483.3" y="224.2" class="t6">CDK6</text>
<line x1="480.2" y1="222.5" x2="482.6" y2="222.5" stroke="#666" stroke-width="0.4"/>
<text x="483.3" y="230.9" class="t6">HLA-DRB1</text>
<line x1="480.2" y1="229.2" x2="482.6" y2="229.2" stroke="#666" stroke-width="0.4"/>
<text x="483.3" y="238.0" class="t6">MPO</text>
<line x1="480.2" y1="236.3" x2="482.6" y2="236.3" stroke="#666" stroke-width="0.4"/>
<text x="483.3" y="245.1" class="t6">CLEC11A</text>
<line x1="480.2" y1="243.4" x2="482.6" y2="243.4" stroke="#666" stroke-width="0.4"/>
<text x="483.3" y="251.7" class="t6">IFITM3</text>
<line x1="480.2" y1="250.0" x2="482.6" y2="250.0" stroke="#666" stroke-width="0.4"/>
<text x="483.3" y="258.8" class="t6">AZU1</text>
<line x1="480.2" y1="257.1" x2="482.6" y2="257.1" stroke="#666" stroke-width="0.4"/>
<text x="483.3" y="268.2" class="t6">LYZ</text>
<line x1="480.2" y1="266.5" x2="482.6" y2="266.5" stroke="#666" stroke-width="0.4"/>
<text x="483.3" y="274.4" class="t6">CXCL8</text>
<line x1="480.2" y1="272.7" x2="482.6" y2="272.7" stroke="#666" stroke-width="0.4"/>
<text x="483.3" y="293.9" class="t6">LTF</text>
<line x1="480.2" y1="292.2" x2="482.6" y2="292.2" stroke="#666" stroke-width="0.4"/>
<text x="483.3" y="300.1" class="t6">CAMP</text>
<line x1="480.2" y1="298.4" x2="482.6" y2="298.4" stroke="#666" stroke-width="0.4"/>
<text x="483.3" y="309.4" class="t6">TPSAB1</text>
<line x1="480.2" y1="307.7" x2="482.6" y2="307.7" stroke="#666" stroke-width="0.4"/>
<text x="483.3" y="318.9" class="t6">IRF8</text>
<line x1="480.2" y1="317.2" x2="482.6" y2="317.2" stroke="#666" stroke-width="0.4"/>
<text x="483.3" y="324.5" class="t6">MYC</text>
<line x1="480.2" y1="322.8" x2="482.6" y2="322.8" stroke="#666" stroke-width="0.4"/>
<text x="483.3" y="332.5" class="t6">HMGA1</text>
<line x1="480.2" y1="330.8" x2="482.6" y2="330.8" stroke="#666" stroke-width="0.4"/>
<text x="483.3" y="339.1" class="t6">CD320</text>
<line x1="480.2" y1="337.4" x2="482.6" y2="337.4" stroke="#666" stroke-width="0.4"/>
<text x="483.3" y="344.9" class="t6">CA1</text>
<line x1="480.2" y1="343.2" x2="482.6" y2="343.2" stroke="#666" stroke-width="0.4"/>
<text x="483.3" y="352.4" class="t6">HBM</text>
<line x1="480.2" y1="350.7" x2="482.6" y2="350.7" stroke="#666" stroke-width="0.4"/>
<text x="483.3" y="359.1" class="t6">HEMGN</text>
<line x1="480.2" y1="357.4" x2="482.6" y2="357.4" stroke="#666" stroke-width="0.4"/>
<text x="483.3" y="365.3" class="t6">HBA1</text>
<line x1="480.2" y1="363.6" x2="482.6" y2="363.6" stroke="#666" stroke-width="0.4"/>
<text x="483.3" y="373.2" class="t6">HBA2</text>
<line x1="480.2" y1="371.5" x2="482.6" y2="371.5" stroke="#666" stroke-width="0.4"/>
<text x="483.3" y="379.9" class="t6">XPO7</text>
<line x1="480.2" y1="378.2" x2="482.6" y2="378.2" stroke="#666" stroke-width="0.4"/>
<text x="483.3" y="385.5" class="t6">SOX4</text>
<line x1="480.2" y1="383.8" x2="482.6" y2="383.8" stroke="#666" stroke-width="0.4"/>
<text x="483.3" y="390.5" class="t6">VPREB1</text>
<line x1="480.2" y1="388.8" x2="482.6" y2="388.8" stroke="#666" stroke-width="0.4"/>
<text x="483.3" y="395.3" class="t6">IGLL1</text>
<line x1="480.2" y1="393.6" x2="482.6" y2="393.6" stroke="#666" stroke-width="0.4"/>
<text x="483.3" y="399.9" class="t6">JCHAIN</text>
<line x1="480.2" y1="398.2" x2="482.6" y2="398.2" stroke="#666" stroke-width="0.4"/>
<text x="483.3" y="405.1" class="t6">MS4A1</text>
<line x1="480.2" y1="403.4" x2="482.6" y2="403.4" stroke="#666" stroke-width="0.4"/>
<text x="483.3" y="410.1" class="t6">HLA-DRA</text>
<line x1="480.2" y1="408.4" x2="482.6" y2="408.4" stroke="#666" stroke-width="0.4"/>
<text x="483.3" y="414.9" class="t6">IL7R</text>
<line x1="480.2" y1="413.2" x2="482.6" y2="413.2" stroke="#666" stroke-width="0.4"/>
<text x="483.3" y="419.8" class="t6">CD3D</text>
<line x1="480.2" y1="418.1" x2="482.6" y2="418.1" stroke="#666" stroke-width="0.4"/>
<text x="483.3" y="424.8" class="t6">FABP4</text>
<line x1="480.2" y1="423.1" x2="482.6" y2="423.1" stroke="#666" stroke-width="0.4"/>
<text x="483.3" y="434.8" class="t6">CXCL12</text>
<line x1="480.2" y1="433.1" x2="482.6" y2="433.1" stroke="#666" stroke-width="0.4"/>
<text x="270.6" y="171.0" class="pl">D</text>
<text x="354.4" y="452.1" class="t6">Expression</text>
<rect x="354.1" y="456.1" width="33.8" height="6.4" fill="url(#cbar)"/>
<text x="356.5" y="471.4" text-anchor="middle" class="t6">-1</text>
<text x="365.1" y="471.4" text-anchor="middle" class="t6">0</text>
<text x="374.0" y="471.4" text-anchor="middle" class="t6">1</text>
<text x="382.9" y="471.4" text-anchor="middle" class="t6">2</text>
</g>
<g shape-rendering="crispEdges">
<rect x="0" y="1" width="520" height="1" fill="#000" fill-opacity="0.12"/>
<rect x="1" y="0" width="1" height="479" fill="#000" fill-opacity="0.12"/>
<rect x="518" y="0" width="1" height="479" fill="#000" fill-opacity="0.18"/>
<rect x="0" y="477" width="520" height="1" fill="#000" fill-opacity="0.18"/>
<rect x="0" y="0" width="520" height="1" fill="#6a6a6a"/>
<rect x="0" y="0" width="1" height="479" fill="#5c5c5c"/>
<rect x="519" y="0" width="1" height="479" fill="#4a4a4a"/>
<rect x="0" y="478" width="520" height="1" fill="#4a4a4a"/>
</g>
</svg>
</body></html>
